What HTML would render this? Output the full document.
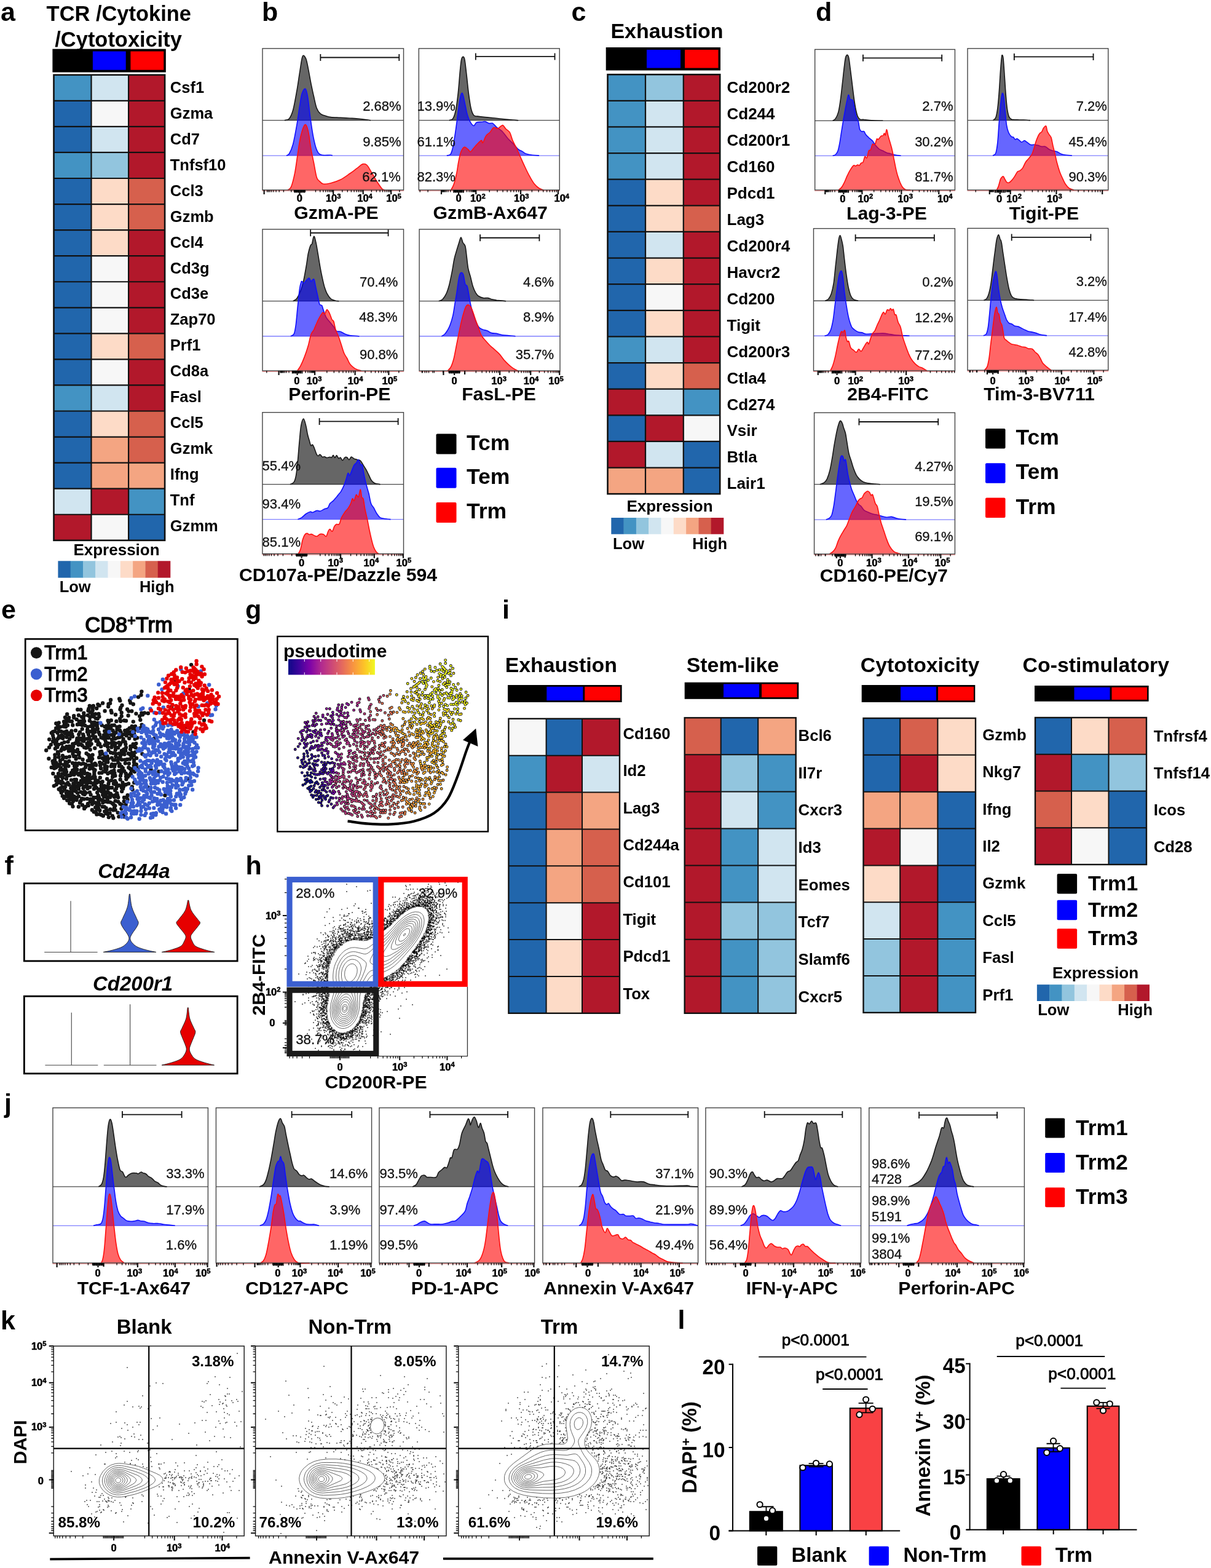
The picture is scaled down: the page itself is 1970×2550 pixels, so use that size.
<!DOCTYPE html>
<html lang="en"><head><meta charset="utf-8"><title>Figure</title>
<style>
html,body{margin:0;padding:0;background:#fff;}
body{width:1970px;height:2550px;overflow:hidden;}
svg{display:block;font-family:'Liberation Sans', sans-serif;font-weight:bold;}
text{white-space:pre;}
</style></head><body>
<svg width="1970" height="2550" viewBox="0 0 1970 2550">
<g id="heat">
<text x="75.6" y="33.7" font-size="34.45">TCR /Cytokine</text>
<text x="89.3" y="75.5" font-size="34.45">/Cytotoxicity</text>
<rect x="85.4" y="79.6" width="184.4" height="38" fill="#000"/>
<rect x="150.9" y="83.5" width="53.8" height="30.2" fill="#0000FF"/>
<rect x="212.4" y="83.5" width="53.9" height="30.2" fill="#FF0000"/>
<rect x="87.5" y="121.8" width="61" height="42.06" fill="#4393C3"/>
<rect x="148.5" y="121.8" width="60.6" height="42.06" fill="#D1E5F0"/>
<rect x="209.1" y="121.8" width="59" height="42.06" fill="#B2182B"/>
<rect x="87.5" y="163.86" width="61" height="42.06" fill="#2166AC"/>
<rect x="148.5" y="163.86" width="60.6" height="42.06" fill="#F7F7F7"/>
<rect x="209.1" y="163.86" width="59" height="42.06" fill="#B2182B"/>
<rect x="87.5" y="205.91" width="61" height="42.06" fill="#2166AC"/>
<rect x="148.5" y="205.91" width="60.6" height="42.06" fill="#D1E5F0"/>
<rect x="209.1" y="205.91" width="59" height="42.06" fill="#B2182B"/>
<rect x="87.5" y="247.97" width="61" height="42.06" fill="#4393C3"/>
<rect x="148.5" y="247.97" width="60.6" height="42.06" fill="#92C5DE"/>
<rect x="209.1" y="247.97" width="59" height="42.06" fill="#B2182B"/>
<rect x="87.5" y="290.02" width="61" height="42.06" fill="#2166AC"/>
<rect x="148.5" y="290.02" width="60.6" height="42.06" fill="#FDDBC7"/>
<rect x="209.1" y="290.02" width="59" height="42.06" fill="#D6604D"/>
<rect x="87.5" y="332.08" width="61" height="42.06" fill="#2166AC"/>
<rect x="148.5" y="332.08" width="60.6" height="42.06" fill="#FDDBC7"/>
<rect x="209.1" y="332.08" width="59" height="42.06" fill="#D6604D"/>
<rect x="87.5" y="374.13" width="61" height="42.06" fill="#2166AC"/>
<rect x="148.5" y="374.13" width="60.6" height="42.06" fill="#FDDBC7"/>
<rect x="209.1" y="374.13" width="59" height="42.06" fill="#B2182B"/>
<rect x="87.5" y="416.19" width="61" height="42.06" fill="#2166AC"/>
<rect x="148.5" y="416.19" width="60.6" height="42.06" fill="#F7F7F7"/>
<rect x="209.1" y="416.19" width="59" height="42.06" fill="#B2182B"/>
<rect x="87.5" y="458.24" width="61" height="42.06" fill="#2166AC"/>
<rect x="148.5" y="458.24" width="60.6" height="42.06" fill="#F7F7F7"/>
<rect x="209.1" y="458.24" width="59" height="42.06" fill="#B2182B"/>
<rect x="87.5" y="500.3" width="61" height="42.06" fill="#2166AC"/>
<rect x="148.5" y="500.3" width="60.6" height="42.06" fill="#F7F7F7"/>
<rect x="209.1" y="500.3" width="59" height="42.06" fill="#B2182B"/>
<rect x="87.5" y="542.36" width="61" height="42.06" fill="#2166AC"/>
<rect x="148.5" y="542.36" width="60.6" height="42.06" fill="#FDDBC7"/>
<rect x="209.1" y="542.36" width="59" height="42.06" fill="#D6604D"/>
<rect x="87.5" y="584.41" width="61" height="42.06" fill="#2166AC"/>
<rect x="148.5" y="584.41" width="60.6" height="42.06" fill="#F7F7F7"/>
<rect x="209.1" y="584.41" width="59" height="42.06" fill="#B2182B"/>
<rect x="87.5" y="626.47" width="61" height="42.06" fill="#4393C3"/>
<rect x="148.5" y="626.47" width="60.6" height="42.06" fill="#D1E5F0"/>
<rect x="209.1" y="626.47" width="59" height="42.06" fill="#B2182B"/>
<rect x="87.5" y="668.52" width="61" height="42.06" fill="#2166AC"/>
<rect x="148.5" y="668.52" width="60.6" height="42.06" fill="#FDDBC7"/>
<rect x="209.1" y="668.52" width="59" height="42.06" fill="#D6604D"/>
<rect x="87.5" y="710.58" width="61" height="42.06" fill="#2166AC"/>
<rect x="148.5" y="710.58" width="60.6" height="42.06" fill="#F4A582"/>
<rect x="209.1" y="710.58" width="59" height="42.06" fill="#D6604D"/>
<rect x="87.5" y="752.63" width="61" height="42.06" fill="#2166AC"/>
<rect x="148.5" y="752.63" width="60.6" height="42.06" fill="#F4A582"/>
<rect x="209.1" y="752.63" width="59" height="42.06" fill="#F4A582"/>
<rect x="87.5" y="794.69" width="61" height="42.06" fill="#D1E5F0"/>
<rect x="148.5" y="794.69" width="60.6" height="42.06" fill="#B2182B"/>
<rect x="209.1" y="794.69" width="59" height="42.06" fill="#4393C3"/>
<rect x="87.5" y="836.74" width="61" height="42.06" fill="#B2182B"/>
<rect x="148.5" y="836.74" width="60.6" height="42.06" fill="#F7F7F7"/>
<rect x="209.1" y="836.74" width="59" height="42.06" fill="#2166AC"/>
<path d="M87.5 163.86H268.1M87.5 205.91H268.1M87.5 247.97H268.1M87.5 290.02H268.1M87.5 332.08H268.1M87.5 374.13H268.1M87.5 416.19H268.1M87.5 458.24H268.1M87.5 500.3H268.1M87.5 542.36H268.1M87.5 584.41H268.1M87.5 626.47H268.1M87.5 668.52H268.1M87.5 710.58H268.1M87.5 752.63H268.1M87.5 794.69H268.1M87.5 836.74H268.1M148.5 121.8V878.8M209.1 121.8V878.8" fill="none" stroke="#111" stroke-width="2.2"/>
<rect x="87.5" y="121.8" width="180.6" height="757" fill="none" stroke="#111" stroke-width="2.6"/>
<text x="276.8" y="151.2" font-size="25.5">Csf1</text>
<text x="276.8" y="193.1" font-size="25.5">Gzma</text>
<text x="276.8" y="235" font-size="25.5">Cd7</text>
<text x="276.8" y="276.9" font-size="25.5">Tnfsf10</text>
<text x="276.8" y="318.8" font-size="25.5">Ccl3</text>
<text x="276.8" y="360.7" font-size="25.5">Gzmb</text>
<text x="276.8" y="402.6" font-size="25.5">Ccl4</text>
<text x="276.8" y="444.5" font-size="25.5">Cd3g</text>
<text x="276.8" y="486.4" font-size="25.5">Cd3e</text>
<text x="276.8" y="528.3" font-size="25.5">Zap70</text>
<text x="276.8" y="570.2" font-size="25.5">Prf1</text>
<text x="276.8" y="612.1" font-size="25.5">Cd8a</text>
<text x="276.8" y="654" font-size="25.5">Fasl</text>
<text x="276.8" y="695.9" font-size="25.5">Ccl5</text>
<text x="276.8" y="737.8" font-size="25.5">Gzmk</text>
<text x="276.8" y="779.7" font-size="25.5">Ifng</text>
<text x="276.8" y="821.6" font-size="25.5">Tnf</text>
<text x="276.8" y="863.5" font-size="25.5">Gzmm</text>
<rect x="94.4" y="912.3" width="20.59" height="27.3" fill="#2166AC"/>
<rect x="114.69" y="912.3" width="20.59" height="27.3" fill="#4393C3"/>
<rect x="134.98" y="912.3" width="20.59" height="27.3" fill="#92C5DE"/>
<rect x="155.27" y="912.3" width="20.59" height="27.3" fill="#D1E5F0"/>
<rect x="175.56" y="912.3" width="20.59" height="27.3" fill="#F7F7F7"/>
<rect x="195.84" y="912.3" width="20.59" height="27.3" fill="#FDDBC7"/>
<rect x="216.13" y="912.3" width="20.59" height="27.3" fill="#F4A582"/>
<rect x="236.42" y="912.3" width="20.59" height="27.3" fill="#D6604D"/>
<rect x="256.71" y="912.3" width="20.59" height="27.3" fill="#B2182B"/>
<text x="189.5" y="903.4" font-size="26" text-anchor="middle">Expression</text>
<text x="96.7" y="962.8" font-size="25.5">Low</text>
<text x="283.6" y="962.8" font-size="25.5" text-anchor="end">High</text>
<text x="993.4" y="61.6" font-size="34">Exhaustion</text>
<rect x="985.7" y="77" width="186.3" height="37.5" fill="#000"/>
<rect x="1052" y="80.9" width="55" height="29.7" fill="#0000FF"/>
<rect x="1114" y="80.9" width="54.5" height="29.7" fill="#FF0000"/>
<rect x="988.5" y="121.2" width="61.5" height="42.62" fill="#4393C3"/>
<rect x="1050" y="121.2" width="61.8" height="42.62" fill="#92C5DE"/>
<rect x="1111.8" y="121.2" width="59.4" height="42.62" fill="#B2182B"/>
<rect x="988.5" y="163.82" width="61.5" height="42.62" fill="#4393C3"/>
<rect x="1050" y="163.82" width="61.8" height="42.62" fill="#D1E5F0"/>
<rect x="1111.8" y="163.82" width="59.4" height="42.62" fill="#B2182B"/>
<rect x="988.5" y="206.45" width="61.5" height="42.62" fill="#4393C3"/>
<rect x="1050" y="206.45" width="61.8" height="42.62" fill="#D1E5F0"/>
<rect x="1111.8" y="206.45" width="59.4" height="42.62" fill="#B2182B"/>
<rect x="988.5" y="249.07" width="61.5" height="42.62" fill="#4393C3"/>
<rect x="1050" y="249.07" width="61.8" height="42.62" fill="#D1E5F0"/>
<rect x="1111.8" y="249.07" width="59.4" height="42.62" fill="#B2182B"/>
<rect x="988.5" y="291.7" width="61.5" height="42.62" fill="#2166AC"/>
<rect x="1050" y="291.7" width="61.8" height="42.62" fill="#FDDBC7"/>
<rect x="1111.8" y="291.7" width="59.4" height="42.62" fill="#B2182B"/>
<rect x="988.5" y="334.32" width="61.5" height="42.62" fill="#2166AC"/>
<rect x="1050" y="334.32" width="61.8" height="42.62" fill="#FDDBC7"/>
<rect x="1111.8" y="334.32" width="59.4" height="42.62" fill="#D6604D"/>
<rect x="988.5" y="376.95" width="61.5" height="42.62" fill="#2166AC"/>
<rect x="1050" y="376.95" width="61.8" height="42.62" fill="#D1E5F0"/>
<rect x="1111.8" y="376.95" width="59.4" height="42.62" fill="#B2182B"/>
<rect x="988.5" y="419.57" width="61.5" height="42.62" fill="#2166AC"/>
<rect x="1050" y="419.57" width="61.8" height="42.62" fill="#FDDBC7"/>
<rect x="1111.8" y="419.57" width="59.4" height="42.62" fill="#B2182B"/>
<rect x="988.5" y="462.2" width="61.5" height="42.62" fill="#2166AC"/>
<rect x="1050" y="462.2" width="61.8" height="42.62" fill="#F7F7F7"/>
<rect x="1111.8" y="462.2" width="59.4" height="42.62" fill="#B2182B"/>
<rect x="988.5" y="504.82" width="61.5" height="42.62" fill="#2166AC"/>
<rect x="1050" y="504.82" width="61.8" height="42.62" fill="#FDDBC7"/>
<rect x="1111.8" y="504.82" width="59.4" height="42.62" fill="#B2182B"/>
<rect x="988.5" y="547.45" width="61.5" height="42.62" fill="#4393C3"/>
<rect x="1050" y="547.45" width="61.8" height="42.62" fill="#D1E5F0"/>
<rect x="1111.8" y="547.45" width="59.4" height="42.62" fill="#B2182B"/>
<rect x="988.5" y="590.08" width="61.5" height="42.62" fill="#2166AC"/>
<rect x="1050" y="590.08" width="61.8" height="42.62" fill="#FDDBC7"/>
<rect x="1111.8" y="590.08" width="59.4" height="42.62" fill="#D6604D"/>
<rect x="988.5" y="632.7" width="61.5" height="42.62" fill="#B2182B"/>
<rect x="1050" y="632.7" width="61.8" height="42.62" fill="#D1E5F0"/>
<rect x="1111.8" y="632.7" width="59.4" height="42.62" fill="#4393C3"/>
<rect x="988.5" y="675.33" width="61.5" height="42.62" fill="#2166AC"/>
<rect x="1050" y="675.33" width="61.8" height="42.62" fill="#B2182B"/>
<rect x="1111.8" y="675.33" width="59.4" height="42.62" fill="#F7F7F7"/>
<rect x="988.5" y="717.95" width="61.5" height="42.62" fill="#B2182B"/>
<rect x="1050" y="717.95" width="61.8" height="42.62" fill="#D1E5F0"/>
<rect x="1111.8" y="717.95" width="59.4" height="42.62" fill="#2166AC"/>
<rect x="988.5" y="760.58" width="61.5" height="42.62" fill="#F4A582"/>
<rect x="1050" y="760.58" width="61.8" height="42.62" fill="#F4A582"/>
<rect x="1111.8" y="760.58" width="59.4" height="42.62" fill="#2166AC"/>
<path d="M988.5 163.82H1171.2M988.5 206.45H1171.2M988.5 249.07H1171.2M988.5 291.7H1171.2M988.5 334.32H1171.2M988.5 376.95H1171.2M988.5 419.57H1171.2M988.5 462.2H1171.2M988.5 504.82H1171.2M988.5 547.45H1171.2M988.5 590.08H1171.2M988.5 632.7H1171.2M988.5 675.33H1171.2M988.5 717.95H1171.2M988.5 760.58H1171.2M1050 121.2V803.2M1111.8 121.2V803.2" fill="none" stroke="#111" stroke-width="2.2"/>
<rect x="988.5" y="121.2" width="182.7" height="682" fill="none" stroke="#111" stroke-width="2.6"/>
<text x="1182.5" y="151.1" font-size="26">Cd200r2</text>
<text x="1182.5" y="194.05" font-size="26">Cd244</text>
<text x="1182.5" y="237" font-size="26">Cd200r1</text>
<text x="1182.5" y="279.95" font-size="26">Cd160</text>
<text x="1182.5" y="322.9" font-size="26">Pdcd1</text>
<text x="1182.5" y="365.85" font-size="26">Lag3</text>
<text x="1182.5" y="408.8" font-size="26">Cd200r4</text>
<text x="1182.5" y="451.75" font-size="26">Havcr2</text>
<text x="1182.5" y="494.7" font-size="26">Cd200</text>
<text x="1182.5" y="537.65" font-size="26">Tigit</text>
<text x="1182.5" y="580.6" font-size="26">Cd200r3</text>
<text x="1182.5" y="623.55" font-size="26">Ctla4</text>
<text x="1182.5" y="666.5" font-size="26">Cd274</text>
<text x="1182.5" y="709.45" font-size="26">Vsir</text>
<text x="1182.5" y="752.4" font-size="26">Btla</text>
<text x="1182.5" y="795.35" font-size="26">Lair1</text>
<rect x="994.3" y="842" width="20.6" height="26.7" fill="#2166AC"/>
<rect x="1014.6" y="842" width="20.6" height="26.7" fill="#4393C3"/>
<rect x="1034.9" y="842" width="20.6" height="26.7" fill="#92C5DE"/>
<rect x="1055.2" y="842" width="20.6" height="26.7" fill="#D1E5F0"/>
<rect x="1075.5" y="842" width="20.6" height="26.7" fill="#F7F7F7"/>
<rect x="1095.8" y="842" width="20.6" height="26.7" fill="#FDDBC7"/>
<rect x="1116.1" y="842" width="20.6" height="26.7" fill="#F4A582"/>
<rect x="1136.4" y="842" width="20.6" height="26.7" fill="#D6604D"/>
<rect x="1156.7" y="842" width="20.6" height="26.7" fill="#B2182B"/>
<text x="1089.5" y="832.3" font-size="26" text-anchor="middle">Expression</text>
<text x="997" y="893" font-size="25.5">Low</text>
<text x="1183" y="893" font-size="25.5" text-anchor="end">High</text>
<text x="821.7" y="1093.4" font-size="33.8">Exhaustion</text>
<rect x="826" y="1114" width="185.6" height="28" fill="#000"/>
<rect x="889.3" y="1116.8" width="59" height="22.4" fill="#0000FF"/>
<rect x="951.2" y="1116.8" width="57.8" height="22.4" fill="#FF0000"/>
<rect x="827.4" y="1168.8" width="61.2" height="59.88" fill="#F7F7F7"/>
<rect x="888.6" y="1168.8" width="58.4" height="59.88" fill="#2166AC"/>
<rect x="947" y="1168.8" width="61" height="59.88" fill="#B2182B"/>
<rect x="827.4" y="1228.67" width="61.2" height="59.88" fill="#4393C3"/>
<rect x="888.6" y="1228.67" width="58.4" height="59.88" fill="#B2182B"/>
<rect x="947" y="1228.67" width="61" height="59.88" fill="#D1E5F0"/>
<rect x="827.4" y="1288.55" width="61.2" height="59.88" fill="#2166AC"/>
<rect x="888.6" y="1288.55" width="58.4" height="59.88" fill="#D6604D"/>
<rect x="947" y="1288.55" width="61" height="59.88" fill="#F4A582"/>
<rect x="827.4" y="1348.42" width="61.2" height="59.88" fill="#2166AC"/>
<rect x="888.6" y="1348.42" width="58.4" height="59.88" fill="#F4A582"/>
<rect x="947" y="1348.42" width="61" height="59.88" fill="#D6604D"/>
<rect x="827.4" y="1408.3" width="61.2" height="59.88" fill="#2166AC"/>
<rect x="888.6" y="1408.3" width="58.4" height="59.88" fill="#F4A582"/>
<rect x="947" y="1408.3" width="61" height="59.88" fill="#D6604D"/>
<rect x="827.4" y="1468.17" width="61.2" height="59.88" fill="#2166AC"/>
<rect x="888.6" y="1468.17" width="58.4" height="59.88" fill="#F7F7F7"/>
<rect x="947" y="1468.17" width="61" height="59.88" fill="#B2182B"/>
<rect x="827.4" y="1528.05" width="61.2" height="59.88" fill="#2166AC"/>
<rect x="888.6" y="1528.05" width="58.4" height="59.88" fill="#FDDBC7"/>
<rect x="947" y="1528.05" width="61" height="59.88" fill="#B2182B"/>
<rect x="827.4" y="1587.92" width="61.2" height="59.88" fill="#2166AC"/>
<rect x="888.6" y="1587.92" width="58.4" height="59.88" fill="#FDDBC7"/>
<rect x="947" y="1587.92" width="61" height="59.88" fill="#B2182B"/>
<path d="M827.4 1228.67H1008M827.4 1288.55H1008M827.4 1348.42H1008M827.4 1408.3H1008M827.4 1468.17H1008M827.4 1528.05H1008M827.4 1587.92H1008M888.6 1168.8V1647.8M947 1168.8V1647.8" fill="none" stroke="#111" stroke-width="2"/>
<rect x="827.4" y="1168.8" width="180.6" height="479" fill="none" stroke="#111" stroke-width="2.4"/>
<text x="1013.4" y="1202" font-size="25.7">Cd160</text>
<text x="1013.4" y="1262.36" font-size="25.7">Id2</text>
<text x="1013.4" y="1322.72" font-size="25.7">Lag3</text>
<text x="1013.4" y="1383.08" font-size="25.7">Cd244a</text>
<text x="1013.4" y="1443.44" font-size="25.7">Cd101</text>
<text x="1013.4" y="1503.8" font-size="25.7">Tigit</text>
<text x="1013.4" y="1564.16" font-size="25.7">Pdcd1</text>
<text x="1013.4" y="1624.52" font-size="25.7">Tox</text>
<text x="1116.8" y="1093.4" font-size="33.8">Stem-like</text>
<rect x="1113.7" y="1109.7" width="185.6" height="27.1" fill="#000"/>
<rect x="1177" y="1112.5" width="58" height="21.5" fill="#0000FF"/>
<rect x="1239" y="1112.5" width="57.5" height="21.5" fill="#FF0000"/>
<rect x="1113.7" y="1167.3" width="59" height="60.06" fill="#D6604D"/>
<rect x="1172.7" y="1167.3" width="60.5" height="60.06" fill="#2166AC"/>
<rect x="1233.2" y="1167.3" width="61.5" height="60.06" fill="#F4A582"/>
<rect x="1113.7" y="1227.36" width="59" height="60.06" fill="#B2182B"/>
<rect x="1172.7" y="1227.36" width="60.5" height="60.06" fill="#92C5DE"/>
<rect x="1233.2" y="1227.36" width="61.5" height="60.06" fill="#4393C3"/>
<rect x="1113.7" y="1287.42" width="59" height="60.06" fill="#B2182B"/>
<rect x="1172.7" y="1287.42" width="60.5" height="60.06" fill="#D1E5F0"/>
<rect x="1233.2" y="1287.42" width="61.5" height="60.06" fill="#4393C3"/>
<rect x="1113.7" y="1347.49" width="59" height="60.06" fill="#B2182B"/>
<rect x="1172.7" y="1347.49" width="60.5" height="60.06" fill="#4393C3"/>
<rect x="1233.2" y="1347.49" width="61.5" height="60.06" fill="#D1E5F0"/>
<rect x="1113.7" y="1407.55" width="59" height="60.06" fill="#B2182B"/>
<rect x="1172.7" y="1407.55" width="60.5" height="60.06" fill="#4393C3"/>
<rect x="1233.2" y="1407.55" width="61.5" height="60.06" fill="#D1E5F0"/>
<rect x="1113.7" y="1467.61" width="59" height="60.06" fill="#B2182B"/>
<rect x="1172.7" y="1467.61" width="60.5" height="60.06" fill="#92C5DE"/>
<rect x="1233.2" y="1467.61" width="61.5" height="60.06" fill="#92C5DE"/>
<rect x="1113.7" y="1527.67" width="59" height="60.06" fill="#B2182B"/>
<rect x="1172.7" y="1527.67" width="60.5" height="60.06" fill="#4393C3"/>
<rect x="1233.2" y="1527.67" width="61.5" height="60.06" fill="#92C5DE"/>
<rect x="1113.7" y="1587.74" width="59" height="60.06" fill="#B2182B"/>
<rect x="1172.7" y="1587.74" width="60.5" height="60.06" fill="#4393C3"/>
<rect x="1233.2" y="1587.74" width="61.5" height="60.06" fill="#92C5DE"/>
<path d="M1113.7 1227.36H1294.7M1113.7 1287.42H1294.7M1113.7 1347.49H1294.7M1113.7 1407.55H1294.7M1113.7 1467.61H1294.7M1113.7 1527.67H1294.7M1113.7 1587.74H1294.7M1172.7 1167.3V1647.8M1233.2 1167.3V1647.8" fill="none" stroke="#111" stroke-width="2"/>
<rect x="1113.7" y="1167.3" width="181" height="480.5" fill="none" stroke="#111" stroke-width="2.4"/>
<text x="1298.6" y="1204.8" font-size="25.7">Bcl6</text>
<text x="1298.6" y="1265.5" font-size="25.7">Il7r</text>
<text x="1298.6" y="1326.2" font-size="25.7">Cxcr3</text>
<text x="1298.6" y="1386.9" font-size="25.7">Id3</text>
<text x="1298.6" y="1447.6" font-size="25.7">Eomes</text>
<text x="1298.6" y="1508.3" font-size="25.7">Tcf7</text>
<text x="1298.6" y="1569" font-size="25.7">Slamf6</text>
<text x="1298.6" y="1629.7" font-size="25.7">Cxcr5</text>
<text x="1399.8" y="1093.4" font-size="33.8">Cytotoxicity</text>
<rect x="1401.7" y="1114" width="184.6" height="28" fill="#000"/>
<rect x="1465" y="1116.8" width="58" height="22.4" fill="#0000FF"/>
<rect x="1526" y="1116.8" width="58" height="22.4" fill="#FF0000"/>
<rect x="1404.5" y="1168" width="59.7" height="59.85" fill="#2166AC"/>
<rect x="1464.2" y="1168" width="61.2" height="59.85" fill="#D6604D"/>
<rect x="1525.4" y="1168" width="61.6" height="59.85" fill="#FDDBC7"/>
<rect x="1404.5" y="1227.85" width="59.7" height="59.85" fill="#2166AC"/>
<rect x="1464.2" y="1227.85" width="61.2" height="59.85" fill="#B2182B"/>
<rect x="1525.4" y="1227.85" width="61.6" height="59.85" fill="#FDDBC7"/>
<rect x="1404.5" y="1287.7" width="59.7" height="59.85" fill="#F4A582"/>
<rect x="1464.2" y="1287.7" width="61.2" height="59.85" fill="#F4A582"/>
<rect x="1525.4" y="1287.7" width="61.6" height="59.85" fill="#2166AC"/>
<rect x="1404.5" y="1347.55" width="59.7" height="59.85" fill="#B2182B"/>
<rect x="1464.2" y="1347.55" width="61.2" height="59.85" fill="#F7F7F7"/>
<rect x="1525.4" y="1347.55" width="61.6" height="59.85" fill="#2166AC"/>
<rect x="1404.5" y="1407.4" width="59.7" height="59.85" fill="#FDDBC7"/>
<rect x="1464.2" y="1407.4" width="61.2" height="59.85" fill="#B2182B"/>
<rect x="1525.4" y="1407.4" width="61.6" height="59.85" fill="#2166AC"/>
<rect x="1404.5" y="1467.25" width="59.7" height="59.85" fill="#D1E5F0"/>
<rect x="1464.2" y="1467.25" width="61.2" height="59.85" fill="#B2182B"/>
<rect x="1525.4" y="1467.25" width="61.6" height="59.85" fill="#4393C3"/>
<rect x="1404.5" y="1527.1" width="59.7" height="59.85" fill="#92C5DE"/>
<rect x="1464.2" y="1527.1" width="61.2" height="59.85" fill="#B2182B"/>
<rect x="1525.4" y="1527.1" width="61.6" height="59.85" fill="#4393C3"/>
<rect x="1404.5" y="1586.95" width="59.7" height="59.85" fill="#92C5DE"/>
<rect x="1464.2" y="1586.95" width="61.2" height="59.85" fill="#B2182B"/>
<rect x="1525.4" y="1586.95" width="61.6" height="59.85" fill="#4393C3"/>
<path d="M1404.5 1227.85H1587M1404.5 1287.7H1587M1404.5 1347.55H1587M1404.5 1407.4H1587M1404.5 1467.25H1587M1404.5 1527.1H1587M1404.5 1586.95H1587M1464.2 1168V1646.8M1525.4 1168V1646.8" fill="none" stroke="#111" stroke-width="2"/>
<rect x="1404.5" y="1168" width="182.5" height="478.8" fill="none" stroke="#111" stroke-width="2.4"/>
<text x="1598.3" y="1203.7" font-size="25.7">Gzmb</text>
<text x="1598.3" y="1264.1" font-size="25.7">Nkg7</text>
<text x="1598.3" y="1324.5" font-size="25.7">Ifng</text>
<text x="1598.3" y="1384.9" font-size="25.7">Il2</text>
<text x="1598.3" y="1445.3" font-size="25.7">Gzmk</text>
<text x="1598.3" y="1505.7" font-size="25.7">Ccl5</text>
<text x="1598.3" y="1566.1" font-size="25.7">Fasl</text>
<text x="1598.3" y="1626.5" font-size="25.7">Prf1</text>
<text x="1663.6" y="1093.4" font-size="33.8">Co-stimulatory</text>
<rect x="1683" y="1115" width="185.6" height="25.7" fill="#000"/>
<rect x="1747.5" y="1117.8" width="58" height="20.1" fill="#0000FF"/>
<rect x="1808.5" y="1117.8" width="57.5" height="20.1" fill="#FF0000"/>
<rect x="1684" y="1167" width="59" height="59.75" fill="#2166AC"/>
<rect x="1743" y="1167" width="60.5" height="59.75" fill="#FDDBC7"/>
<rect x="1803.5" y="1167" width="61.5" height="59.75" fill="#D6604D"/>
<rect x="1684" y="1226.75" width="59" height="59.75" fill="#B2182B"/>
<rect x="1743" y="1226.75" width="60.5" height="59.75" fill="#4393C3"/>
<rect x="1803.5" y="1226.75" width="61.5" height="59.75" fill="#92C5DE"/>
<rect x="1684" y="1286.5" width="59" height="59.75" fill="#D6604D"/>
<rect x="1743" y="1286.5" width="60.5" height="59.75" fill="#FDDBC7"/>
<rect x="1803.5" y="1286.5" width="61.5" height="59.75" fill="#2166AC"/>
<rect x="1684" y="1346.25" width="59" height="59.75" fill="#B2182B"/>
<rect x="1743" y="1346.25" width="60.5" height="59.75" fill="#F7F7F7"/>
<rect x="1803.5" y="1346.25" width="61.5" height="59.75" fill="#2166AC"/>
<path d="M1684 1226.75H1865M1684 1286.5H1865M1684 1346.25H1865M1743 1167V1406M1803.5 1167V1406" fill="none" stroke="#111" stroke-width="2"/>
<rect x="1684" y="1167" width="181" height="239" fill="none" stroke="#111" stroke-width="2.4"/>
<text x="1876.8" y="1205.5" font-size="25.7">Tnfrsf4</text>
<text x="1876.8" y="1265.8" font-size="25.7">Tnfsf14</text>
<text x="1876.8" y="1326.1" font-size="25.7">Icos</text>
<text x="1876.8" y="1386.4" font-size="25.7">Cd28</text>
<rect x="1719.6" y="1421" width="32.5" height="32.5" fill="#000000" rx="2"/>
<text x="1770" y="1447.75" font-size="34">Trm1</text>
<rect x="1719.6" y="1463.8" width="32.5" height="32.5" fill="#0000FF" rx="2"/>
<text x="1770" y="1490.55" font-size="34">Trm2</text>
<rect x="1719.6" y="1510.3" width="32.5" height="32.5" fill="#FF0000" rx="2"/>
<text x="1770" y="1537.05" font-size="34">Trm3</text>
<rect x="1686.9" y="1601.2" width="20.61" height="26.8" fill="#2166AC"/>
<rect x="1707.21" y="1601.2" width="20.61" height="26.8" fill="#4393C3"/>
<rect x="1727.52" y="1601.2" width="20.61" height="26.8" fill="#92C5DE"/>
<rect x="1747.83" y="1601.2" width="20.61" height="26.8" fill="#D1E5F0"/>
<rect x="1768.14" y="1601.2" width="20.61" height="26.8" fill="#F7F7F7"/>
<rect x="1788.46" y="1601.2" width="20.61" height="26.8" fill="#FDDBC7"/>
<rect x="1808.77" y="1601.2" width="20.61" height="26.8" fill="#F4A582"/>
<rect x="1829.08" y="1601.2" width="20.61" height="26.8" fill="#D6604D"/>
<rect x="1849.39" y="1601.2" width="20.61" height="26.8" fill="#B2182B"/>
<text x="1782" y="1591.3" font-size="26" text-anchor="middle">Expression</text>
<text x="1688.3" y="1651.4" font-size="25.5">Low</text>
<text x="1875" y="1651.4" font-size="25.5" text-anchor="end">High</text>
</g>
<g id="letters">
<text x="1" y="34" font-size="43">a</text>
<text x="426" y="34" font-size="43">b</text>
<text x="929.5" y="34.2" font-size="43">c</text>
<text x="1327" y="34.2" font-size="43">d</text>
<text x="2" y="1006.2" font-size="43">e</text>
<text x="399" y="1006.2" font-size="43">g</text>
<text x="817" y="1006.2" font-size="43">i</text>
<text x="7.5" y="1421.5" font-size="43">f</text>
<text x="399.5" y="1421.5" font-size="43">h</text>
<text x="7" y="1809" font-size="43">j</text>
<text x="1" y="2161.5" font-size="43">k</text>
<text x="1102.5" y="2161.3" font-size="43">l</text>
</g>
<g id="hist">
<clipPath id="cp_b1"><rect x="427.02" y="78.87" width="229.5" height="232.12"/></clipPath>
<line x1="426.52" y1="310.29" x2="657.02" y2="310.29" stroke="#FF9A9A" stroke-width="1.6"/>
<g clip-path="url(#cp_b1)">
<line x1="427.02" y1="195.7" x2="656.52" y2="195.7" stroke="#4a4a4a" stroke-width="1.3"/>
<path d="M462.8 195.7C464.1 195.2 468.2 195.7 470.5 192.9C472.8 190.2 474.6 186.5 476.7 179.1C478.7 171.6 481 158.2 482.8 148.2C484.6 138.2 485.9 128.3 487.4 118.9C489 109.6 490.4 96 492.1 92C493.7 88 495.9 91.8 497.5 95.1C499 98.3 499.9 104.4 501.3 111.2C502.7 118 504.4 128.2 505.9 135.9C507.5 143.6 509 150.8 510.6 157.5C512.1 164.2 513.4 171.4 515.2 176C517 180.6 519 183.2 521.4 185.2C523.7 187.3 526.2 187.4 529.1 188.3C531.9 189.2 534.2 190.1 538.3 190.6C542.4 191.1 548.6 191.1 553.7 191.4C558.9 191.6 564 191.8 569.1 192.2C574.3 192.5 579.4 192.7 584.5 193.2C589.7 193.8 596.9 194.8 600 195.2C603 195.7 602.5 195.6 603 195.7" fill="#000000" stroke="#1a1a1a" stroke-width="1.65" fill-opacity="0.6" stroke-linejoin="round"/>
<line x1="427.02" y1="253.04" x2="656.52" y2="253.04" stroke="#8080FF" stroke-width="1.3"/>
<path d="M465.9 253C466.6 252.5 468.7 253 470.5 250C472.3 246.9 474.6 242.3 476.7 234.5C478.7 226.8 481 214 482.8 203.7C484.6 193.4 486 181.5 487.4 172.9C488.9 164.3 489.8 156.8 491.3 152.1C492.8 147.3 495.1 143.5 496.7 144.4C498.2 145.3 499.3 150.2 500.5 157.5C501.8 164.8 503 178 504.4 188.3C505.8 198.6 507.5 210.7 509 219.1C510.6 227.6 512.1 234.2 513.6 239.2C515.2 244.2 516.5 247 518.3 249.2C520.1 251.4 521.1 251.8 524.4 252.3C527.8 252.8 535.6 252.1 538.3 252.3C541 252.4 540.2 252.9 540.6 253" fill="#0000FF" stroke="#1010FF" stroke-width="1.65" fill-opacity="0.6" stroke-linejoin="round"/>
<path d="M468.2 309C469.1 308.1 471.6 308.6 473.6 303.9C475.5 299.2 477.9 289.8 479.7 280.8C481.5 271.8 482.8 259.7 484.4 250C485.9 240.2 487.1 230 489 222.2C490.9 214.4 493.9 204.5 495.9 202.9C498 201.4 499.6 206.4 501.3 213C503 219.5 504.4 233.5 505.9 242.3C507.5 251 509 257.7 510.6 265.4C512.1 273.1 513.6 283.6 515.2 288.5C516.7 293.4 518 292.9 519.8 294.7C521.6 296.5 522.9 298.8 526 299.3C529.1 299.8 533.7 298.9 538.3 297.7C542.9 296.6 548.6 294.9 553.7 292.3C558.9 289.8 564.5 285.5 569.1 282.3C573.8 279.1 578 275.6 581.5 273.1C584.9 270.5 587.4 267.7 589.9 266.9C592.5 266.1 594.4 266.1 596.9 268.5C599.3 270.8 601.8 276.2 604.6 280.8C607.4 285.4 611 291.8 613.8 296.2C616.7 300.6 619.6 304.9 621.5 307C623.5 309.1 624.7 308.7 625.4 309" fill="#FF0000" stroke="#FF1010" stroke-width="1.65" fill-opacity="0.6" stroke-linejoin="round"/>
</g>
<rect x="427.02" y="78.87" width="229.5" height="230.12" fill="none" stroke="#444" stroke-width="1.4"/>
<path d="M521.35 93.51H649.28M521.35 88.01v11M649.28 88.01v11" fill="none" stroke="#111" stroke-width="1.8"/>
<text x="652.52" y="179.83" font-size="22" font-weight="normal" text-anchor="end" fill="#111" stroke="#111" stroke-width="0.3">2.68%</text>
<text x="652.52" y="237.63" font-size="22" font-weight="normal" text-anchor="end" fill="#111" stroke="#111" stroke-width="0.3">9.85%</text>
<text x="651.74" y="295.12" font-size="22" font-weight="normal" text-anchor="end" fill="#111" stroke="#111" stroke-width="0.3">62.1%</text>
<path d="M556.77 308.99v3.6M565.32 308.99v3.6M571.39 308.99v3.6M576.09 308.99v3.6M579.94 308.99v3.6M583.19 308.99v3.6M586 308.99v3.6M588.49 308.99v3.6M604.4 308.99v3.6M612.4 308.99v3.6M618.08 308.99v3.6M622.49 308.99v3.6M626.09 308.99v3.6M629.13 308.99v3.6M631.77 308.99v3.6M634.1 308.99v3.6M649.86 308.99v3.6M513.47 308.99v3.6M520.7 308.99v3.6M525.83 308.99v3.6M529.8 308.99v3.6M533.05 308.99v3.6M535.8 308.99v3.6M538.18 308.99v3.6M540.28 308.99v3.6M473.76 308.99v3.6M461.41 308.99v3.6M454.18 308.99v3.6M449.06 308.99v3.6M445.08 308.99v3.6M441.83 308.99v3.6M439.08 308.99v3.6M436.7 308.99v3.6M434.6 308.99v3.6M478.44 308.99v3.6M479.94 308.99v3.6M481.44 308.99v3.6M482.94 308.99v3.6M484.44 308.99v3.6M485.94 308.99v3.6M487.44 308.99v3.6M488.94 308.99v3.6M490.44 308.99v3.6M491.94 308.99v3.6M493.44 308.99v3.6M494.94 308.99v3.6M496.44 308.99v3.6" fill="none" stroke="#111" stroke-width="1.4"/>
<path d="M479.64 308.99v4.6M482.24 308.99v4.6M484.84 308.99v4.6M487.44 308.99v4.6M490.04 308.99v4.6M492.64 308.99v4.6M495.24 308.99v4.6" fill="none" stroke="#000" stroke-width="1.9"/>
<path d="M542.16 308.99v7M590.71 308.99v7M636.18 308.99v7M429.64 308.99v7M487.44 308.99v7" fill="none" stroke="#111" stroke-width="2.2"/>
<text x="487.44" y="328.48" font-size="16.5" text-anchor="middle" stroke="#000" stroke-width="0.5">0</text>
<text x="529.9" y="328.48" font-size="16.5" stroke="#000" stroke-width="0.5">10<tspan dy="-5.61" font-size="11.22">3</tspan></text>
<text x="581.23" y="328.48" font-size="16.5" stroke="#000" stroke-width="0.5">10<tspan dy="-5.61" font-size="11.22">4</tspan></text>
<text x="628.24" y="328.48" font-size="16.5" stroke="#000" stroke-width="0.5">10<tspan dy="-5.61" font-size="11.22">5</tspan></text>
<text x="546.94" y="356.4" font-size="30.2" text-anchor="middle">GzmA-PE</text>
<clipPath id="cp_b2"><rect x="681.33" y="78.87" width="228.88" height="232.12"/></clipPath>
<line x1="680.83" y1="310.29" x2="910.71" y2="310.29" stroke="#FF9A9A" stroke-width="1.6"/>
<g clip-path="url(#cp_b2)">
<line x1="681.33" y1="195.7" x2="910.21" y2="195.7" stroke="#4a4a4a" stroke-width="1.3"/>
<path d="M730.7 195.7C731.7 195.2 735 195.7 736.8 192.9C738.6 190.2 740 186 741.4 179.1C742.9 172.1 744.1 161.8 745.3 151.3C746.5 140.8 747.5 125 748.4 115.9C749.3 106.7 749.8 100.5 750.7 96.6C751.6 92.7 752.9 92.2 753.8 92.4C754.7 92.7 755.2 92.9 756.1 98.1C757 103.3 758.1 114.7 759.2 123.6C760.2 132.4 761.1 142.6 762.2 151.3C763.4 160 764.7 169.9 766.1 176C767.5 182 768.9 185.4 770.7 187.5C772.5 189.7 773.8 188.6 776.9 189.1C780 189.6 785.1 190.2 789.2 190.6C793.3 191.1 797.2 191.3 801.6 191.7C805.9 192.1 810.5 192.7 815.4 193.2C820.3 193.8 826.2 194.4 830.8 194.8C835.5 195.2 841.1 195.5 843.2 195.7" fill="#000000" stroke="#1a1a1a" stroke-width="1.65" fill-opacity="0.6" stroke-linejoin="round"/>
<line x1="681.33" y1="253.04" x2="910.21" y2="253.04" stroke="#8080FF" stroke-width="1.3"/>
<path d="M726.8 253C727.8 252.7 731.3 253 733 250.7C734.6 248.4 735.5 244.9 736.8 239.2C738.1 233.4 739.4 224.5 740.7 216C742 207.6 743.2 197.6 744.5 188.3C745.8 179.1 747.1 166.7 748.4 160.6C749.6 154.4 750.8 150.8 751.9 151.3C753.1 151.8 754 158 755.3 163.6C756.6 169.3 758.4 179.6 759.9 185.2C761.5 190.9 762.8 194.3 764.6 197.6C766.4 200.8 768.9 204.2 770.7 204.5C772.5 204.7 773 200.1 775.4 199.1C777.7 198.1 782.3 198.6 784.6 198.3C786.9 198.1 787.4 197.2 789.2 197.6C791 197.9 793.3 200.1 795.4 200.6C797.4 201.1 799.5 199.6 801.6 200.6C803.6 201.7 805.1 204.6 807.7 206.8C810.3 209 813.9 210.7 817 213.7C820 216.8 823.1 221.8 826.2 225.3C829.3 228.8 832.6 231.6 835.5 234.5C838.3 237.5 840.9 241.1 843.2 243C845.5 244.9 847.3 244.9 849.3 246.1C851.4 247.3 852.7 248.9 855.5 250C858.3 251 862.7 251.8 866.3 252.3C869.9 252.8 875.3 252.9 877.1 253" fill="#0000FF" stroke="#1010FF" stroke-width="1.65" fill-opacity="0.6" stroke-linejoin="round"/>
<path d="M733.7 309C734.5 307.4 736.8 304 738.4 299.3C739.9 294.6 741.7 286.9 743 280.8C744.3 274.6 744.9 267.9 746.1 262.3C747.2 256.6 748.4 250.7 749.9 246.9C751.5 243 753.4 239.8 755.3 239.2C757.2 238.5 759.8 241.7 761.5 243C763.1 244.3 763.8 247.3 765.3 246.9C766.9 246.5 769.1 242.6 770.7 240.7C772.4 238.8 773.3 237.4 775.4 235.3C777.4 233.3 781.4 228.9 783.1 228.4C784.7 227.9 784.1 233.5 785.4 232.2C786.7 230.9 788.8 223.5 790.8 220.7C792.7 217.8 794.9 217.5 796.9 215.3C799 213.1 801 208.6 803.1 207.6C805.1 206.5 807.5 209.4 809.3 209.1C811.1 208.9 812.4 206.9 813.9 206C815.4 205.1 816.7 203.1 818.2 203.7C819.7 204.4 821.3 208 823.1 209.9C825 211.8 827.5 212.2 829.3 215.3C831.1 218.4 832.1 224.1 833.9 228.4C835.7 232.6 838 236.3 840.1 240.7C842.1 245.1 843.9 249.4 846.3 254.6C848.6 259.7 851.4 266.1 854 271.5C856.5 276.9 859.1 282.3 861.7 286.9C864.2 291.6 866.8 296.1 869.4 299.3C871.9 302.5 874.6 304.6 877.1 306.2C879.5 307.8 882.9 308.5 884 309" fill="#FF0000" stroke="#FF1010" stroke-width="1.65" fill-opacity="0.6" stroke-linejoin="round"/>
</g>
<rect x="681.33" y="78.87" width="228.88" height="230.12" fill="none" stroke="#444" stroke-width="1.4"/>
<path d="M773.81 91.97H902.51M773.81 86.47v11M902.51 86.47v11" fill="none" stroke="#111" stroke-width="1.8"/>
<text x="740.82" y="179.83" font-size="22" font-weight="normal" text-anchor="end" fill="#111" stroke="#111" stroke-width="0.3">13.9%</text>
<text x="740.82" y="237.63" font-size="22" font-weight="normal" text-anchor="end" fill="#111" stroke="#111" stroke-width="0.3">61.1%</text>
<text x="740.82" y="294.65" font-size="22" font-weight="normal" text-anchor="end" fill="#111" stroke="#111" stroke-width="0.3">82.3%</text>
<path d="M796.17 308.99v3.6M808.98 308.99v3.6M818.07 308.99v3.6M825.12 308.99v3.6M830.88 308.99v3.6M835.75 308.99v3.6M839.97 308.99v3.6M843.69 308.99v3.6M865.35 308.99v3.6M876.07 308.99v3.6M883.68 308.99v3.6M889.58 308.99v3.6M894.4 308.99v3.6M898.47 308.99v3.6M902 308.99v3.6M905.12 308.99v3.6M759.48 308.99v3.6M763.21 308.99v3.6M765.85 308.99v3.6M767.9 308.99v3.6M769.58 308.99v3.6M770.99 308.99v3.6M772.22 308.99v3.6M773.3 308.99v3.6M739.01 308.99v3.6M732.65 308.99v3.6M728.92 308.99v3.6M726.28 308.99v3.6M724.23 308.99v3.6M722.55 308.99v3.6M721.14 308.99v3.6M719.91 308.99v3.6M718.83 308.99v3.6M696.11 308.99v3.6M683.3 308.99v3.6M739.86 308.99v3.6M741.36 308.99v3.6M742.86 308.99v3.6M744.36 308.99v3.6M745.86 308.99v3.6M747.36 308.99v3.6M748.86 308.99v3.6M750.36 308.99v3.6M751.86 308.99v3.6" fill="none" stroke="#111" stroke-width="1.4"/>
<path d="M738.27 308.99v4.6M740.87 308.99v4.6M743.47 308.99v4.6M746.07 308.99v4.6M748.67 308.99v4.6M751.27 308.99v4.6M753.87 308.99v4.6" fill="none" stroke="#000" stroke-width="1.9"/>
<path d="M774.27 308.99v7M847.02 308.99v7M907.9 308.99v7M718.01 308.99v7M746.07 308.99v7" fill="none" stroke="#111" stroke-width="2.2"/>
<text x="746.07" y="328.48" font-size="16.5" text-anchor="middle" stroke="#000" stroke-width="0.5">0</text>
<text x="765.1" y="328.48" font-size="16.5" stroke="#000" stroke-width="0.5">10<tspan dy="-5.61" font-size="11.22">2</tspan></text>
<text x="836" y="328.48" font-size="16.5" stroke="#000" stroke-width="0.5">10<tspan dy="-5.61" font-size="11.22">3</tspan></text>
<text x="901.5" y="328.48" font-size="16.5" stroke="#000" stroke-width="0.5">10<tspan dy="-5.61" font-size="11.22">4</tspan></text>
<text x="797.7" y="356.4" font-size="30.2" text-anchor="middle">GzmB-Ax647</text>
<clipPath id="cp_b3"><rect x="427.02" y="372.87" width="229.5" height="232.12"/></clipPath>
<line x1="426.52" y1="604.29" x2="657.02" y2="604.29" stroke="#FF9A9A" stroke-width="1.6"/>
<g clip-path="url(#cp_b3)">
<line x1="427.02" y1="489.7" x2="656.52" y2="489.7" stroke="#4a4a4a" stroke-width="1.3"/>
<path d="M476.7 489.7C477.7 489 480.8 488.2 482.8 485.4C484.9 482.6 487.2 477.7 489 473.1C490.8 468.4 492.1 464.3 493.6 457.6C495.1 451 496.9 440.4 498.2 433C499.5 425.5 500.2 418.6 501.3 412.9C502.5 407.3 504.1 401.8 505.2 399.1C506.2 396.4 506.6 399.2 507.5 396.8C508.4 394.3 509.5 385.1 510.6 384.4C511.6 383.8 512.6 388.7 513.6 392.9C514.7 397.1 515.7 404 516.7 409.9C517.8 415.8 518.8 422.5 519.8 428.4C520.8 434.3 521.6 439.1 522.9 445.3C524.2 451.5 526 460 527.5 465.4C529.1 470.7 530.3 474.2 532.1 477.7C533.9 481.1 536 484.2 538.3 486.2C540.6 488.1 543.8 488.6 546 489.2C548.2 489.8 550.5 489.6 551.4 489.7" fill="#000000" stroke="#1a1a1a" stroke-width="1.65" fill-opacity="0.6" stroke-linejoin="round"/>
<line x1="427.02" y1="546.73" x2="656.52" y2="546.73" stroke="#8080FF" stroke-width="1.3"/>
<path d="M472.8 546.7C473.7 546.1 476.8 546.2 478.2 543.2C479.6 540.2 480.2 536.1 481.3 528.5C482.3 521 483.3 507.5 484.4 497.7C485.4 488 486.5 476.4 487.4 470C488.3 463.6 489.1 461.2 489.8 459.2C490.4 457.1 490.5 457.4 491.3 457.6C492.1 457.9 493.2 461 494.4 460.7C495.5 460.5 496.8 457.5 498.2 456.1C499.6 454.7 501.6 452 502.9 452.2C504.1 452.5 504.9 457.3 505.9 457.6C507 458 508.4 454.6 509.3 454.3C510.2 453.9 510.6 453.2 511.3 455.3C512.1 457.4 512.7 462.7 513.6 466.9C514.5 471.1 515.7 476.1 516.7 480.8C517.8 485.4 518.7 491.9 519.8 494.6C521 497.3 522.6 495.4 523.7 496.9C524.7 498.5 524.8 500.7 526 503.9C527.1 507.1 528.8 512.9 530.6 516.2C532.4 519.6 534.7 521.4 536.8 523.9C538.8 526.5 541.1 529.2 542.9 531.6C544.7 534.1 545.8 537.3 547.6 538.6C549.4 539.8 551.4 538.6 553.7 539.3C556 540.1 558.9 542.2 561.4 543.2C564 544.2 565.3 544.9 569.1 545.5C573 546.1 582 546.5 584.5 546.7" fill="#0000FF" stroke="#1010FF" stroke-width="1.65" fill-opacity="0.6" stroke-linejoin="round"/>
<path d="M483.6 603C484.5 601.6 487.1 598.5 489 594.8C490.9 591.1 493.1 586.3 495.1 580.9C497.2 575.6 499.5 568.6 501.3 562.5C503.1 556.3 504.4 548.3 505.9 544C507.5 539.6 509 539.3 510.6 536.3C512.1 533.2 513.6 528.8 515.2 525.5C516.7 522.1 518.1 519.1 519.8 516.2C521.5 513.3 523.8 509.1 525.2 508.2C526.6 507.3 527.2 511.6 528.3 510.8C529.4 510 530.5 503.8 531.8 503.6C533.1 503.3 534.7 506.7 536 509.3C537.3 511.9 538.7 517 539.8 519.3C541 521.6 541.9 520.3 542.9 523.1C544 526 544.7 532.3 546 536.3C547.3 540.2 549.1 542.9 550.6 547C552.2 551.1 553.7 556.3 555.3 560.9C556.8 565.5 558.3 571.2 559.9 574.8C561.4 578.4 563 579.7 564.5 582.5C566 585.3 567.3 589.2 569.1 591.7C570.9 594.3 573.2 596.3 575.3 597.9C577.4 599.5 579.4 600.4 581.5 601.3C583.5 602.1 586.6 602.7 587.6 603" fill="#FF0000" stroke="#FF1010" stroke-width="1.65" fill-opacity="0.6" stroke-linejoin="round"/>
</g>
<rect x="427.02" y="372.87" width="229.5" height="230.12" fill="none" stroke="#444" stroke-width="1.4"/>
<path d="M505.17 378.73H631.55M505.17 373.23v11M631.55 373.23v11" fill="none" stroke="#111" stroke-width="1.8"/>
<text x="647.43" y="465.66" font-size="22" font-weight="normal" text-anchor="end" fill="#111" stroke="#111" stroke-width="0.3">70.4%</text>
<text x="646.66" y="523.15" font-size="22" font-weight="normal" text-anchor="end" fill="#111" stroke="#111" stroke-width="0.3">48.3%</text>
<text x="647.43" y="584.49" font-size="22" font-weight="normal" text-anchor="end" fill="#111" stroke="#111" stroke-width="0.3">90.8%</text>
<path d="M531.82 602.99v3.6M543.36 602.99v3.6M551.54 602.99v3.6M557.89 602.99v3.6M563.08 602.99v3.6M567.46 602.99v3.6M571.26 602.99v3.6M574.61 602.99v3.6M594.08 602.99v3.6M603.71 602.99v3.6M610.55 602.99v3.6M615.85 602.99v3.6M620.19 602.99v3.6M623.85 602.99v3.6M627.02 602.99v3.6M629.82 602.99v3.6M648.8 602.99v3.6M497.15 602.99v3.6M500.92 602.99v3.6M503.59 602.99v3.6M505.66 602.99v3.6M507.36 602.99v3.6M508.79 602.99v3.6M510.03 602.99v3.6M511.12 602.99v3.6M476.46 602.99v3.6M470.02 602.99v3.6M466.26 602.99v3.6M463.58 602.99v3.6M461.51 602.99v3.6M459.82 602.99v3.6M458.39 602.99v3.6M457.15 602.99v3.6M456.05 602.99v3.6M433.81 602.99v3.6M477.32 602.99v3.6M478.82 602.99v3.6M480.32 602.99v3.6M481.82 602.99v3.6M483.32 602.99v3.6M484.82 602.99v3.6M486.32 602.99v3.6M487.82 602.99v3.6M489.32 602.99v3.6" fill="none" stroke="#111" stroke-width="1.4"/>
<path d="M475.79 602.99v4.6M478.39 602.99v4.6M480.99 602.99v4.6M483.59 602.99v4.6M486.19 602.99v4.6M488.79 602.99v4.6M491.39 602.99v4.6" fill="none" stroke="#000" stroke-width="1.9"/>
<path d="M512.1 602.99v7M577.61 602.99v7M632.32 602.99v7M453.53 602.99v7M483.59 602.99v7" fill="none" stroke="#111" stroke-width="2.2"/>
<text x="482.82" y="625.41" font-size="16.5" text-anchor="middle" stroke="#000" stroke-width="0.5">0</text>
<text x="498.77" y="625.41" font-size="16.5" stroke="#000" stroke-width="0.5">10<tspan dy="-5.61" font-size="11.22">3</tspan></text>
<text x="565.81" y="625.41" font-size="16.5" stroke="#000" stroke-width="0.5">10<tspan dy="-5.61" font-size="11.22">4</tspan></text>
<text x="621.61" y="625.41" font-size="16.5" stroke="#000" stroke-width="0.5">10<tspan dy="-5.61" font-size="11.22">5</tspan></text>
<text x="552.33" y="651.48" font-size="30.2" text-anchor="middle">Perforin-PE</text>
<clipPath id="cp_b4"><rect x="682.1" y="372.87" width="228.88" height="232.12"/></clipPath>
<line x1="681.6" y1="604.29" x2="911.49" y2="604.29" stroke="#FF9A9A" stroke-width="1.6"/>
<g clip-path="url(#cp_b4)">
<line x1="682.1" y1="489.7" x2="910.99" y2="489.7" stroke="#4a4a4a" stroke-width="1.3"/>
<path d="M713.7 489.7C714.7 489.2 717.8 488.9 719.9 486.9C721.9 484.9 724.2 481.5 726 477.7C727.8 473.8 729.1 469.7 730.7 463.8C732.2 457.9 733.9 449.4 735.3 442.2C736.7 435 737.8 426.6 739.1 420.7C740.4 414.7 741.7 411.1 743 406.8C744.3 402.4 745.7 397.9 746.8 394.5C748 391 748.9 386 749.9 386C750.9 386 751.8 392 753 394.5C754.2 396.9 755.8 396.8 756.9 400.6C757.9 404.5 758.4 411.7 759.2 417.6C759.9 423.5 760.5 430.7 761.5 436.1C762.5 441.5 764 445.1 765.3 449.9C766.6 454.8 767.8 461 769.2 465.4C770.6 469.7 772.3 473.4 773.8 476.1C775.4 478.8 776.4 480.1 778.4 481.5C780.5 482.9 783.6 484.1 786.1 484.6C788.7 485.1 791.5 484.2 793.8 484.6C796.2 485 797.7 486.3 800 486.9C802.3 487.5 803.9 487.7 807.7 488.2C811.6 488.6 820.6 489.4 823.1 489.7" fill="#000000" stroke="#1a1a1a" stroke-width="1.65" fill-opacity="0.6" stroke-linejoin="round"/>
<line x1="682.1" y1="546.73" x2="910.99" y2="546.73" stroke="#8080FF" stroke-width="1.3"/>
<path d="M718.3 546.7C719.1 546.3 721.4 545.4 722.9 544C724.5 542.5 726 540.4 727.6 537.8C729.1 535.2 730.7 532.7 732.2 528.5C733.7 524.4 735.5 518.8 736.8 513.1C738.1 507.5 738.9 500.8 739.9 494.6C740.9 488.5 742 482.8 743 476.1C744 469.5 745.2 459.7 746.1 454.6C747 449.4 747.5 447.2 748.4 445.3C749.3 443.5 750.6 443.2 751.5 443.5C752.4 443.7 752.9 443.7 753.8 446.9C754.7 450 755.8 459.2 756.9 462.3C757.9 465.4 758.9 462.3 759.9 465.4C761 468.4 762 475.4 763 480.8C764 486.2 764.8 492.3 766.1 497.7C767.4 503.1 769.2 508.5 770.7 513.1C772.3 517.8 773.8 522.1 775.4 525.5C776.9 528.8 778.2 531.4 780 533.2C781.8 535 784.1 535.5 786.1 536.3C788.2 537 790 536.9 792.3 537.8C794.6 538.7 797.4 540.9 800 541.6C802.6 542.4 804.9 541.9 807.7 542.4C810.5 542.9 813.9 544.2 817 544.7C820 545.2 822.6 545.2 826.2 545.5C829.8 545.8 836.5 546.5 838.5 546.7" fill="#0000FF" stroke="#1010FF" stroke-width="1.65" fill-opacity="0.6" stroke-linejoin="round"/>
<path d="M728.3 603C729.2 601.9 732.1 599.8 733.7 596.4C735.4 592.9 736.8 588.7 738.4 582.5C739.9 576.3 741.4 567.1 743 559.4C744.5 551.7 746.1 543.4 747.6 536.3C749.1 529.1 750.7 522.1 752.2 516.2C753.8 510.3 755.4 504.2 756.9 500.8C758.3 497.4 759.3 496.3 760.7 495.9C762.1 495.5 763.9 496.6 765.3 498.5C766.7 500.3 767.8 503.2 769.2 507C770.6 510.7 772.3 516.5 773.8 520.8C775.4 525.2 776.9 529.1 778.4 533.2C780 537.3 781.3 542.2 783.1 545.5C784.9 548.8 786.9 550.5 789.2 553.2C791.5 555.9 794.4 559.1 796.9 561.7C799.5 564.3 802.1 566.3 804.6 568.6C807.2 570.9 809.8 572.7 812.3 575.6C814.9 578.4 817.5 582.6 820 585.6C822.6 588.5 825.2 591 827.8 593.3C830.3 595.6 833 597.8 835.5 599.4C837.9 601.1 841.2 602.4 842.4 603" fill="#FF0000" stroke="#FF1010" stroke-width="1.65" fill-opacity="0.6" stroke-linejoin="round"/>
</g>
<rect x="682.1" y="372.87" width="228.88" height="230.12" fill="none" stroke="#444" stroke-width="1.4"/>
<path d="M781.05 386.74H877.38M781.05 381.24v11M877.38 381.24v11" fill="none" stroke="#111" stroke-width="1.8"/>
<text x="901.12" y="465.66" font-size="22" font-weight="normal" text-anchor="end" fill="#111" stroke="#111" stroke-width="0.3">4.6%</text>
<text x="901.12" y="523.15" font-size="22" font-weight="normal" text-anchor="end" fill="#111" stroke="#111" stroke-width="0.3">8.9%</text>
<text x="901.12" y="584.49" font-size="22" font-weight="normal" text-anchor="end" fill="#111" stroke="#111" stroke-width="0.3">35.7%</text>
<path d="M828.19 602.99v3.6M837.01 602.99v3.6M843.27 602.99v3.6M848.13 602.99v3.6M852.09 602.99v3.6M855.45 602.99v3.6M858.35 602.99v3.6M860.91 602.99v3.6M877.36 602.99v3.6M885.63 602.99v3.6M891.51 602.99v3.6M896.06 602.99v3.6M899.79 602.99v3.6M902.93 602.99v3.6M905.66 602.99v3.6M908.06 602.99v3.6M774.33 602.99v3.6M784.1 602.99v3.6M791.03 602.99v3.6M796.41 602.99v3.6M800.8 602.99v3.6M804.52 602.99v3.6M807.73 602.99v3.6M810.57 602.99v3.6M720.63 602.99v3.6M703.93 602.99v3.6M694.16 602.99v3.6M687.23 602.99v3.6M706.33 602.99v3.6M697.5 602.99v3.6M691.25 602.99v3.6M686.39 602.99v3.6M730.13 602.99v3.6M731.63 602.99v3.6M733.13 602.99v3.6M734.63 602.99v3.6M736.13 602.99v3.6M737.63 602.99v3.6M739.13 602.99v3.6M740.63 602.99v3.6M742.13 602.99v3.6M743.63 602.99v3.6M745.13 602.99v3.6M746.63 602.99v3.6M748.13 602.99v3.6" fill="none" stroke="#111" stroke-width="1.4"/>
<path d="M731.33 602.99v4.6M733.93 602.99v4.6M736.53 602.99v4.6M739.13 602.99v4.6M741.73 602.99v4.6M744.33 602.99v4.6M746.93 602.99v4.6" fill="none" stroke="#000" stroke-width="1.9"/>
<path d="M813.11 602.99v7M863.2 602.99v7M910.21 602.99v7M721.4 602.99v7M739.13 602.99v7M756.08 602.99v6" fill="none" stroke="#111" stroke-width="2.2"/>
<text x="739.13" y="625.41" font-size="16.5" text-anchor="middle" stroke="#000" stroke-width="0.5">0</text>
<text x="799.32" y="625.41" font-size="16.5" stroke="#000" stroke-width="0.5">10<tspan dy="-5.61" font-size="11.22">3</tspan></text>
<text x="851.72" y="625.41" font-size="16.5" stroke="#000" stroke-width="0.5">10<tspan dy="-5.61" font-size="11.22">4</tspan></text>
<text x="892.26" y="625.41" font-size="16.5" stroke="#000" stroke-width="0.5">10<tspan dy="-5.61" font-size="11.22">5</tspan></text>
<text x="811.57" y="651.48" font-size="30.2" text-anchor="middle">FasL-PE</text>
<clipPath id="cp_b5"><rect x="426.93" y="670.69" width="229.58" height="231.93"/></clipPath>
<line x1="426.43" y1="901.93" x2="657.01" y2="901.93" stroke="#FF9A9A" stroke-width="1.6"/>
<g clip-path="url(#cp_b5)">
<line x1="426.93" y1="787.71" x2="656.51" y2="787.71" stroke="#4a4a4a" stroke-width="1.3"/>
<path d="M471.9 787.7C473 787.1 476.5 786.7 478.1 784.1C479.8 781.6 480.7 778.4 481.7 772.6C482.7 766.8 483.5 758.4 484.4 749.5C485.3 740.6 486.1 728.7 487 719.2C487.9 709.8 488.6 698.9 489.7 692.6C490.8 686.2 492.5 681 493.8 681C495.1 681 496.6 688.3 497.7 692.6C498.8 696.9 499.5 702.9 500.4 706.8C501.3 710.6 502.1 712.7 503 715.7C503.9 718.6 504.8 723.3 505.7 724.6C506.6 725.8 507.5 722.6 508.4 723.2C509.3 723.7 510 725.7 511 728.1C512.1 730.6 513.6 735.7 514.6 737.9C515.6 740.1 516.2 741.3 517.3 741.5C518.3 741.7 519.6 738.9 520.8 739.2C522 739.5 523.2 742.7 524.4 743.2C525.6 743.8 526.7 742.5 527.9 742.7C529.1 742.9 530 744.4 531.5 744.5C533 744.6 535.5 743.3 536.8 743.2C538.2 743.2 538.6 744.6 539.5 744.1C540.4 743.6 541.3 740.2 542.2 740.2C543 740.3 543.9 744.4 544.8 744.5C545.7 744.6 546.5 740.4 547.5 740.6C548.5 740.8 550 745 551.1 745.6C552.1 746.2 552.7 743.6 553.7 744.1C554.8 744.6 556.1 748.6 557.3 748.6C558.5 748.6 559.6 744.9 560.8 744.1C562 743.3 563.2 743.2 564.4 743.8C565.6 744.4 566.8 747.8 567.9 747.7C569.1 747.6 570.2 743.4 571.5 743.1C572.8 742.8 574.3 745.1 575.9 745.9C577.6 746.7 579.5 747.1 581.3 747.7C583.1 748.3 585 748 586.6 749.5C588.2 751 589.6 754.2 591.1 756.6C592.5 759 594 761 595.5 763.7C597 766.4 598.5 769.6 600 772.6C601.4 775.6 602.8 779.3 604.4 781.5C606 783.7 607.4 784.9 609.7 785.9C612.1 787 617.1 787.4 618.6 787.7" fill="#000000" stroke="#1a1a1a" stroke-width="1.65" fill-opacity="0.6" stroke-linejoin="round"/>
<line x1="426.93" y1="844.61" x2="656.51" y2="844.61" stroke="#8080FF" stroke-width="1.3"/>
<path d="M484.4 844.6C485.4 844.2 488.4 843.4 490.6 841.9C492.8 840.5 495.3 837.3 497.7 835.7C500.1 834.1 503 832.5 504.8 832.2C506.6 831.8 506.6 833.7 508.4 833.4C510.2 833.1 513.4 830.7 515.5 830.4C517.6 830 518.7 831.7 520.8 831.3C522.9 830.8 525.9 828.6 527.9 827.7C530 826.8 531.8 827.4 533.3 825.9C534.8 824.5 535.3 820.8 536.8 818.8C538.3 816.9 540.4 816.2 542.2 814.4C543.9 812.6 546 809.9 547.5 808.2C549 806.4 549.9 805.2 551.1 803.7C552.2 802.2 553.1 801.8 554.6 799.3C556.1 796.7 558.5 792.2 559.9 788.6C561.4 785 562.5 781.1 563.5 777.9C564.5 774.7 565.3 770.1 566.2 769.4C567.1 768.6 567.9 773.8 568.8 773.5C569.7 773.1 570.3 770.1 571.5 767.3C572.7 764.4 574.6 759 575.9 756.6C577.3 754.2 578.3 754.5 579.5 753C580.7 751.5 581.9 747.2 583.1 747.7C584.2 748.1 585.6 754.2 586.6 755.7C587.7 757.2 588.4 754.1 589.3 756.6C590.2 759.1 590.9 765.8 592 770.8C593 775.9 594.2 781.5 595.5 786.8C596.8 792.2 598.6 797.5 600 802.8C601.3 808.2 602.2 815 603.5 818.8C604.8 822.7 606.3 823.1 608 825.9C609.6 828.8 611.5 833.1 613.3 835.7C615.1 838.4 616.3 840.6 618.6 841.9C621 843.3 624.7 843.3 627.5 843.7C630.3 844.2 634.2 844.5 635.5 844.6" fill="#0000FF" stroke="#1010FF" stroke-width="1.65" fill-opacity="0.6" stroke-linejoin="round"/>
<path d="M485.3 900.6C485.8 899.4 487.6 897.4 488.8 893.5C490 889.7 491.2 881.5 492.4 877.5C493.6 873.5 494.7 871.2 495.9 869.5C497.1 867.8 498.3 867.4 499.5 867.4C500.7 867.4 501.9 869.3 503 869.5C504.2 869.7 505.1 868.3 506.6 868.6C508.1 868.9 510.4 870.7 511.9 871.3C513.4 871.9 514 872.6 515.5 872.2C517 871.7 519 869.2 520.8 868.6C522.6 868.1 524.5 868.4 526.2 869C527.8 869.6 529.3 873.1 530.6 872.2C531.9 871.2 533.1 865.2 534.2 863.3C535.2 861.4 535.8 860.5 536.8 860.6C537.9 860.8 539.2 864.9 540.4 864.2C541.6 863.4 542.8 858.1 543.9 856.2C545.1 854.2 546.2 853.3 547.5 852.6C548.8 852 550.6 854 551.9 852.3C553.3 850.5 554 845.1 555.5 841.9C557 838.7 559.1 835.6 560.8 833.1C562.6 830.5 564.5 829.2 566.2 826.8C567.8 824.5 569.4 821.5 570.6 818.8C571.8 816.2 572.4 811.6 573.3 810.8C574.2 810.1 574.9 815.4 575.9 814.4C577 813.3 578.3 805.6 579.5 804.6C580.7 803.6 581.9 809.6 583.1 808.2C584.2 806.7 585.4 795.7 586.3 795.7C587.2 795.7 587.6 805.5 588.4 808.2C589.2 810.8 590.2 808.5 591.1 811.7C592 815 592.7 822.4 593.7 827.7C594.8 833.1 596.1 838.1 597.3 843.7C598.5 849.4 599.7 855.9 600.8 861.5C602 867.1 603.2 872.8 604.4 877.5C605.6 882.3 606.6 886.5 608 890C609.3 893.4 611.1 896.2 612.4 898C613.7 899.7 615.4 900.2 616 900.6" fill="#FF0000" stroke="#FF1010" stroke-width="1.65" fill-opacity="0.6" stroke-linejoin="round"/>
</g>
<rect x="426.93" y="670.69" width="229.58" height="229.93" fill="none" stroke="#444" stroke-width="1.4"/>
<path d="M519.58 685.45H647.61M519.58 679.95v11M647.61 679.95v11" fill="none" stroke="#111" stroke-width="1.8"/>
<text x="488.99" y="764.59" font-size="22" font-weight="normal" text-anchor="end" fill="#111" stroke="#111" stroke-width="0.3">55.4%</text>
<text x="488.99" y="826.83" font-size="22" font-weight="normal" text-anchor="end" fill="#111" stroke="#111" stroke-width="0.3">93.4%</text>
<text x="488.99" y="889.07" font-size="22" font-weight="normal" text-anchor="end" fill="#111" stroke="#111" stroke-width="0.3">85.1%</text>
<path d="M570.56 900.63v3.6M580.21 900.63v3.6M587.05 900.63v3.6M592.36 900.63v3.6M596.7 900.63v3.6M600.36 900.63v3.6M603.54 900.63v3.6M606.34 900.63v3.6M623.03 900.63v3.6M631.33 900.63v3.6M637.22 900.63v3.6M641.79 900.63v3.6M645.52 900.63v3.6M648.67 900.63v3.6M651.41 900.63v3.6M653.82 900.63v3.6M520.79 900.63v3.6M529.18 900.63v3.6M535.13 900.63v3.6M539.74 900.63v3.6M543.51 900.63v3.6M546.7 900.63v3.6M549.46 900.63v3.6M551.9 900.63v3.6M474.72 900.63v3.6M460.39 900.63v3.6M452 900.63v3.6M446.05 900.63v3.6M441.44 900.63v3.6M437.67 900.63v3.6M434.48 900.63v3.6M431.72 900.63v3.6M429.28 900.63v3.6M481.59 900.63v3.6M483.09 900.63v3.6M484.59 900.63v3.6M486.09 900.63v3.6M487.59 900.63v3.6M489.09 900.63v3.6M490.59 900.63v3.6M492.09 900.63v3.6M493.59 900.63v3.6M495.09 900.63v3.6M496.59 900.63v3.6M498.09 900.63v3.6M499.59 900.63v3.6" fill="none" stroke="#111" stroke-width="1.4"/>
<path d="M482.79 900.63v4.6M485.39 900.63v4.6M487.99 900.63v4.6M490.59 900.63v4.6M493.19 900.63v4.6M495.79 900.63v4.6M498.39 900.63v4.6" fill="none" stroke="#000" stroke-width="1.9"/>
<path d="M554.08 900.63v7M608.85 900.63v7M655.97 900.63v7M490.59 900.63v7" fill="none" stroke="#111" stroke-width="2.2"/>
<text x="490.59" y="920.83" font-size="16.5" text-anchor="middle" stroke="#000" stroke-width="0.5">0</text>
<text x="533.39" y="920.83" font-size="16.5" stroke="#000" stroke-width="0.5">10<tspan dy="-5.61" font-size="11.22">3</tspan></text>
<text x="591.54" y="920.83" font-size="16.5" stroke="#000" stroke-width="0.5">10<tspan dy="-5.61" font-size="11.22">4</tspan></text>
<text x="644.53" y="920.83" font-size="16.5" stroke="#000" stroke-width="0.5">10<tspan dy="-5.61" font-size="11.22">5</tspan></text>
<text x="549.99" y="945.49" font-size="30.2" text-anchor="middle">CD107a-PE/Dazzle 594</text>
<clipPath id="cp_d1"><rect x="1325.64" y="80.41" width="227.81" height="230.58"/></clipPath>
<line x1="1325.14" y1="310.29" x2="1553.94" y2="310.29" stroke="#FF9A9A" stroke-width="1.6"/>
<g clip-path="url(#cp_d1)">
<line x1="1325.64" y1="196.32" x2="1553.44" y2="196.32" stroke="#4a4a4a" stroke-width="1.3"/>
<path d="M1354.6 196.3C1355.4 195.8 1357.7 195.3 1359.2 192.9C1360.8 190.6 1362.6 186.8 1363.9 182.1C1365.1 177.5 1365.9 172.4 1366.9 165.2C1368 158 1369 148 1370 139C1371.1 130 1372.2 118.7 1373.1 111.2C1374 103.8 1374.6 97.9 1375.4 94.3C1376.3 90.6 1377.3 89.4 1378.2 89.4C1379.1 89.4 1380 90.6 1380.8 94.3C1381.6 97.9 1382.2 104.3 1383.1 111.2C1384 118.2 1385.2 127.7 1386.2 135.9C1387.2 144.1 1388.3 153.4 1389.3 160.6C1390.3 167.8 1391.3 174.2 1392.4 179.1C1393.4 183.9 1394.3 187.3 1395.5 189.8C1396.6 192.4 1397.6 193.4 1399.3 194.2C1401 194.9 1402.4 194.2 1405.5 194.5C1408.6 194.7 1412.7 195.4 1417.8 195.7C1422.9 196 1433.2 196.2 1436.3 196.3" fill="#000000" stroke="#1a1a1a" stroke-width="1.65" fill-opacity="0.6" stroke-linejoin="round"/>
<line x1="1325.64" y1="253.35" x2="1553.44" y2="253.35" stroke="#8080FF" stroke-width="1.3"/>
<path d="M1354.6 253.3C1355.4 253 1357.8 252.8 1359.2 251.5C1360.7 250.2 1361.9 248.7 1363.1 245.3C1364.2 242 1365.1 237.1 1366.2 231.5C1367.2 225.8 1368.2 217.8 1369.3 211.4C1370.3 205 1371.3 198.8 1372.3 192.9C1373.4 187 1374.4 181.4 1375.4 176C1376.5 170.6 1377.7 164.2 1378.5 160.6C1379.4 157 1379.7 154.2 1380.5 154.4C1381.3 154.6 1382.1 160.4 1383.1 161.8C1384.2 163.2 1386 161 1387 162.9C1388 164.7 1388.4 168.7 1389.3 172.9C1390.2 177.1 1391.2 184.2 1392.4 188.3C1393.5 192.4 1395.2 194 1396.2 197.6C1397.3 201.1 1397.6 207.2 1398.5 209.9C1399.4 212.6 1400.5 213.1 1401.6 213.7C1402.8 214.4 1404.3 212.8 1405.5 213.7C1406.6 214.6 1407.3 217.5 1408.6 219.1C1409.8 220.8 1411.4 222.1 1413.2 223.8C1415 225.4 1417.6 227.1 1419.4 229.1C1421.1 231.2 1422.2 233.9 1424 236.1C1425.8 238.3 1428.1 240.7 1430.1 242.3C1432.2 243.8 1434.2 244.3 1436.3 245.3C1438.4 246.4 1440.4 247.6 1442.5 248.4C1444.5 249.2 1446.6 249.4 1448.6 250C1450.7 250.5 1452 251.2 1454.8 251.8C1457.6 252.4 1463.8 253.1 1465.6 253.3" fill="#0000FF" stroke="#1010FF" stroke-width="1.65" fill-opacity="0.6" stroke-linejoin="round"/>
<path d="M1363.9 309C1364.6 308.4 1366.9 307.3 1368.5 305.4C1370 303.6 1371.6 300.8 1373.1 297.7C1374.7 294.7 1376.2 290.3 1377.7 286.9C1379.3 283.6 1380.6 280.7 1382.4 277.7C1384.2 274.7 1387 270.5 1388.5 269.2C1390.1 267.9 1390.5 270.2 1391.6 270C1392.8 269.8 1394.4 268.3 1395.5 268.1C1396.5 268 1396.9 269.7 1397.8 269.2C1398.7 268.7 1399.8 266 1400.9 265.1C1401.9 264.2 1402.9 265.6 1403.9 263.8C1405 262.1 1406 255.7 1407 254.6C1408 253.4 1409.1 258.4 1410.1 256.9C1411.1 255.4 1412.2 247.5 1413.2 245.3C1414.2 243.1 1415.2 245.6 1416.3 243.8C1417.3 242 1418.2 236 1419.4 234.5C1420.5 233.1 1422 236.7 1423.2 235.3C1424.4 233.9 1425.4 227.5 1426.3 226.1C1427.2 224.7 1427.4 227.6 1428.6 226.8C1429.8 226.1 1431.9 222.5 1433.2 221.4C1434.5 220.4 1435.4 221.4 1436.3 220.7C1437.2 219.9 1438 216.9 1438.6 216.8C1439.3 216.7 1439.5 220.9 1440.2 219.9C1440.8 218.9 1441.7 210.5 1442.5 210.7C1443.2 210.8 1443.9 217.2 1444.8 220.7C1445.7 224.1 1446.8 227.9 1447.9 231.5C1448.9 235.1 1449.9 237.9 1450.9 242.3C1452 246.6 1453 252.5 1454 257.7C1455.1 262.8 1456.1 268.5 1457.1 273.1C1458.1 277.7 1459 281.6 1460.2 285.4C1461.4 289.3 1462.8 293.1 1464 296.2C1465.3 299.3 1466.4 301.8 1467.9 303.9C1469.4 306 1471.1 307.7 1473.3 308.5C1475.5 309.4 1479.7 308.9 1481 309" fill="#FF0000" stroke="#FF1010" stroke-width="1.65" fill-opacity="0.6" stroke-linejoin="round"/>
</g>
<rect x="1325.64" y="80.41" width="227.81" height="228.58" fill="none" stroke="#444" stroke-width="1.4"/>
<path d="M1403.94 94.28H1532.17M1403.94 88.78v11M1532.17 88.78v11" fill="none" stroke="#111" stroke-width="1.8"/>
<text x="1550.52" y="179.83" font-size="22" font-weight="normal" text-anchor="end" fill="#111" stroke="#111" stroke-width="0.3">2.7%</text>
<text x="1550.52" y="237.63" font-size="22" font-weight="normal" text-anchor="end" fill="#111" stroke="#111" stroke-width="0.3">30.2%</text>
<text x="1550.52" y="294.65" font-size="22" font-weight="normal" text-anchor="end" fill="#111" stroke="#111" stroke-width="0.3">81.7%</text>
<path d="M1421.65 308.99v3.6M1432.91 308.99v3.6M1440.91 308.99v3.6M1447.1 308.99v3.6M1452.17 308.99v3.6M1456.45 308.99v3.6M1460.16 308.99v3.6M1463.43 308.99v3.6M1484.69 308.99v3.6M1495.41 308.99v3.6M1503.01 308.99v3.6M1508.91 308.99v3.6M1513.74 308.99v3.6M1517.81 308.99v3.6M1521.34 308.99v3.6M1524.46 308.99v3.6M1545.57 308.99v3.6M1386.64 308.99v3.6M1390.61 308.99v3.6M1393.43 308.99v3.6M1395.61 308.99v3.6M1397.39 308.99v3.6M1398.9 308.99v3.6M1400.21 308.99v3.6M1401.36 308.99v3.6M1364.83 308.99v3.6M1358.04 308.99v3.6M1354.07 308.99v3.6M1351.26 308.99v3.6M1349.07 308.99v3.6M1347.29 308.99v3.6M1345.78 308.99v3.6M1344.47 308.99v3.6M1343.32 308.99v3.6M1365.73 308.99v3.6M1367.23 308.99v3.6M1368.73 308.99v3.6M1370.23 308.99v3.6M1371.73 308.99v3.6M1373.23 308.99v3.6M1374.73 308.99v3.6M1376.23 308.99v3.6M1377.73 308.99v3.6" fill="none" stroke="#111" stroke-width="1.4"/>
<path d="M1364.54 308.99v4.6M1367.14 308.99v4.6M1369.74 308.99v4.6M1372.34 308.99v4.6M1374.94 308.99v4.6M1377.54 308.99v4.6M1380.14 308.99v4.6" fill="none" stroke="#000" stroke-width="1.9"/>
<path d="M1402.4 308.99v7M1466.36 308.99v7M1527.24 308.99v7M1342.28 308.99v7M1372.34 308.99v7" fill="none" stroke="#111" stroke-width="2.2"/>
<text x="1370.8" y="328.79" font-size="16.5" text-anchor="middle" stroke="#000" stroke-width="0.5">0</text>
<text x="1395.53" y="328.79" font-size="16.5" stroke="#000" stroke-width="0.5">10<tspan dy="-5.61" font-size="11.22">2</tspan></text>
<text x="1460.27" y="328.79" font-size="16.5" stroke="#000" stroke-width="0.5">10<tspan dy="-5.61" font-size="11.22">3</tspan></text>
<text x="1525" y="328.79" font-size="16.5" stroke="#000" stroke-width="0.5">10<tspan dy="-5.61" font-size="11.22">4</tspan></text>
<text x="1442.47" y="356.71" font-size="30.2" text-anchor="middle">Lag-3-PE</text>
<clipPath id="cp_d2"><rect x="1574.02" y="78.87" width="228.73" height="232.12"/></clipPath>
<line x1="1573.52" y1="310.29" x2="1803.25" y2="310.29" stroke="#FF9A9A" stroke-width="1.6"/>
<g clip-path="url(#cp_d2)">
<line x1="1574.02" y1="195.7" x2="1802.75" y2="195.7" stroke="#4a4a4a" stroke-width="1.3"/>
<path d="M1615.2 195.7C1615.9 195 1618.5 194.7 1619.8 191.4C1621.1 188.1 1622 182.7 1622.9 176C1623.8 169.3 1624.4 161.3 1625.2 151.3C1626 141.3 1626.8 125.5 1627.5 115.9C1628.2 106.2 1628.8 97.9 1629.4 93.5C1629.9 89.1 1630.1 89.3 1630.6 89.7C1631.1 90 1631.5 90.2 1632.1 95.8C1632.7 101.5 1633.5 114.3 1634.1 123.6C1634.8 132.8 1635.3 142.6 1636 151.3C1636.7 160 1637.4 169.6 1638.3 176C1639.2 182.4 1640.1 186.8 1641.4 189.8C1642.7 192.9 1643.8 193.3 1646 194.2C1648.2 195 1650.5 194.6 1654.5 194.8C1658.5 195 1666.3 195.1 1669.9 195.2C1673.5 195.4 1675 195.6 1676.1 195.7" fill="#000000" stroke="#1a1a1a" stroke-width="1.65" fill-opacity="0.6" stroke-linejoin="round"/>
<line x1="1574.02" y1="253.04" x2="1802.75" y2="253.04" stroke="#8080FF" stroke-width="1.3"/>
<path d="M1615.2 253C1615.9 252.4 1618.5 252.8 1619.8 249.2C1621.1 245.6 1622 239.6 1622.9 231.5C1623.8 223.4 1624.4 210.4 1625.2 200.6C1626 190.9 1626.7 180.6 1627.5 172.9C1628.3 165.2 1629.2 157.9 1629.8 154.4C1630.5 150.9 1630.8 151.1 1631.4 152.1C1631.9 153.1 1632.6 155.6 1633.2 160.6C1633.9 165.6 1634.5 174.9 1635.2 182.1C1635.9 189.3 1636.6 198.2 1637.5 203.7C1638.4 209.2 1639.3 212.2 1640.6 215.3C1641.9 218.4 1643.9 220.9 1645.2 222.2C1646.5 223.5 1647.3 222.2 1648.3 223C1649.3 223.8 1650.4 226.4 1651.4 226.8C1652.4 227.3 1653.2 225.2 1654.5 225.6C1655.8 226 1657.8 228.2 1659.1 229.1C1660.4 230.1 1661 231.2 1662.2 231.2C1663.3 231.1 1664.8 228.8 1666 228.7C1667.3 228.6 1668.2 229.6 1669.9 230.7C1671.6 231.8 1674 234.5 1676.1 235.3C1678.1 236.1 1680.2 235.1 1682.2 235.3C1684.3 235.5 1686.3 235.9 1688.4 236.4C1690.4 236.9 1692.5 238.1 1694.6 238.4C1696.6 238.7 1698.7 237.6 1700.7 238.4C1702.8 239.2 1704.8 241.9 1706.9 243C1708.9 244.2 1711 244.7 1713 245.3C1715.1 245.9 1717.2 245.8 1719.2 246.6C1721.3 247.3 1723.3 249.1 1725.4 250C1727.4 250.8 1728.5 251.3 1731.5 251.8C1734.6 252.3 1741.8 252.8 1743.9 253" fill="#0000FF" stroke="#1010FF" stroke-width="1.65" fill-opacity="0.6" stroke-linejoin="round"/>
<path d="M1621.3 309C1621.9 307.9 1623.4 305.3 1624.4 302.4C1625.5 299.5 1626.6 293.9 1627.5 291.6C1628.4 289.2 1629 289 1629.8 288.2C1630.6 287.4 1631.4 286.5 1632.1 286.9C1632.9 287.4 1633.5 289.3 1634.4 290.8C1635.3 292.3 1636.4 295.2 1637.5 296.2C1638.7 297.2 1640 297.5 1641.4 297C1642.8 296.5 1644.5 294.8 1646 293.1C1647.5 291.4 1649.1 289.3 1650.6 286.9C1652.2 284.6 1653.8 280.8 1655.2 279.2C1656.7 277.7 1657.7 278.7 1659.1 277.7C1660.5 276.7 1662.2 275.4 1663.7 273.1C1665.3 270.8 1666.9 266.1 1668.4 263.8C1669.8 261.5 1670.9 260.7 1672.2 259.2C1673.5 257.7 1674.9 256.1 1676.1 254.6C1677.2 253 1678.1 252.3 1679.1 250C1680.2 247.6 1681.2 244 1682.2 240.7C1683.2 237.4 1684.3 233 1685.3 229.9C1686.3 226.8 1687.4 224.4 1688.4 222.2C1689.4 220 1690.4 218.1 1691.5 216.8C1692.5 215.5 1693.5 215.9 1694.6 214.5C1695.6 213.1 1696.5 209.9 1697.6 208.3C1698.8 206.7 1700.5 204.1 1701.5 205C1702.5 205.8 1702.9 211.4 1703.8 213.7C1704.7 216.1 1705.9 217.5 1706.9 219.1C1707.9 220.8 1708.9 220.7 1710 223.8C1711 226.8 1712 233.3 1713 237.6C1714.1 242 1715.1 245.6 1716.1 250C1717.2 254.3 1717.9 258.9 1719.2 263.8C1720.5 268.7 1722.3 274.9 1723.8 279.2C1725.4 283.6 1726.9 286.7 1728.5 290C1730 293.4 1731.3 296.6 1733.1 299.3C1734.9 302 1736.9 304.6 1739.3 306.2C1741.6 307.8 1745.7 308.5 1747 309" fill="#FF0000" stroke="#FF1010" stroke-width="1.65" fill-opacity="0.6" stroke-linejoin="round"/>
</g>
<rect x="1574.02" y="78.87" width="228.73" height="230.12" fill="none" stroke="#444" stroke-width="1.4"/>
<path d="M1649.85 92.44H1778.55M1649.85 86.94v11M1778.55 86.94v11" fill="none" stroke="#111" stroke-width="1.8"/>
<text x="1800.9" y="179.83" font-size="22" font-weight="normal" text-anchor="end" fill="#111" stroke="#111" stroke-width="0.3">7.2%</text>
<text x="1800.9" y="237.63" font-size="22" font-weight="normal" text-anchor="end" fill="#111" stroke="#111" stroke-width="0.3">45.4%</text>
<text x="1800.9" y="294.65" font-size="22" font-weight="normal" text-anchor="end" fill="#111" stroke="#111" stroke-width="0.3">90.3%</text>
<path d="M1666.19 308.99v3.6M1679.36 308.99v3.6M1688.7 308.99v3.6M1695.94 308.99v3.6M1701.86 308.99v3.6M1706.86 308.99v3.6M1711.2 308.99v3.6M1715.02 308.99v3.6M1740.95 308.99v3.6M1754.11 308.99v3.6M1763.45 308.99v3.6M1770.69 308.99v3.6M1776.61 308.99v3.6M1781.62 308.99v3.6M1785.95 308.99v3.6M1789.78 308.99v3.6M1634.8 308.99v3.6M1637.04 308.99v3.6M1638.63 308.99v3.6M1639.86 308.99v3.6M1640.87 308.99v3.6M1641.72 308.99v3.6M1642.46 308.99v3.6M1643.11 308.99v3.6M1622.5 308.99v3.6M1618.67 308.99v3.6M1616.43 308.99v3.6M1614.84 308.99v3.6M1613.61 308.99v3.6M1612.6 308.99v3.6M1611.75 308.99v3.6M1611.01 308.99v3.6M1610.36 308.99v3.6M1587.28 308.99v3.6M1623 308.99v3.6M1624.5 308.99v3.6M1626 308.99v3.6M1627.5 308.99v3.6M1629 308.99v3.6" fill="none" stroke="#111" stroke-width="1.4"/>
<path d="M1618.93 308.99v4.6M1621.53 308.99v4.6M1624.13 308.99v4.6M1626.73 308.99v4.6M1629.33 308.99v4.6M1631.93 308.99v4.6M1634.53 308.99v4.6" fill="none" stroke="#000" stroke-width="1.9"/>
<path d="M1643.69 308.99v7M1718.44 308.99v7M1793.2 308.99v7M1609.78 308.99v7M1626.73 308.99v7" fill="none" stroke="#111" stroke-width="2.2"/>
<text x="1625.5" y="328.79" font-size="16.5" text-anchor="middle" stroke="#000" stroke-width="0.5">0</text>
<text x="1637.29" y="328.79" font-size="16.5" stroke="#000" stroke-width="0.5">10<tspan dy="-5.61" font-size="11.22">2</tspan></text>
<text x="1703.1" y="328.79" font-size="16.5" stroke="#000" stroke-width="0.5">10<tspan dy="-5.61" font-size="11.22">3</tspan></text>
<text x="1698.41" y="356.71" font-size="30.2" text-anchor="middle">Tigit-PE</text>
<clipPath id="cp_d3"><rect x="1323.48" y="371.64" width="229.96" height="233.35"/></clipPath>
<line x1="1322.98" y1="604.29" x2="1553.94" y2="604.29" stroke="#FF9A9A" stroke-width="1.6"/>
<g clip-path="url(#cp_d3)">
<line x1="1323.48" y1="489.24" x2="1553.44" y2="489.24" stroke="#4a4a4a" stroke-width="1.3"/>
<path d="M1342.3 489.2C1343.2 488.7 1346 488.1 1347.7 486.2C1349.3 484.2 1350.9 481.9 1352.3 477.7C1353.7 473.4 1355 468.2 1356.2 460.7C1357.3 453.3 1358.2 442.2 1359.2 433C1360.3 423.7 1361.4 412.7 1362.3 405.2C1363.2 397.8 1363.9 392 1364.6 388.3C1365.4 384.6 1365.9 382.8 1366.6 382.9C1367.3 383 1368 386.1 1368.8 389.1C1369.6 392 1370.4 394.8 1371.3 400.6C1372.1 406.4 1372.9 415.8 1373.9 423.7C1374.8 431.7 1375.9 441.2 1377 448.4C1378 455.6 1378.9 461.5 1380 466.9C1381.2 472.3 1382.5 477.4 1383.9 480.8C1385.3 484.1 1386.5 485.5 1388.5 486.9C1390.6 488.3 1394.9 488.9 1396.2 489.2" fill="#000000" stroke="#1a1a1a" stroke-width="1.65" fill-opacity="0.6" stroke-linejoin="round"/>
<line x1="1323.48" y1="546.27" x2="1553.44" y2="546.27" stroke="#8080FF" stroke-width="1.3"/>
<path d="M1341.5 546.3C1342.4 545.9 1345.2 545.6 1346.9 544C1348.6 542.3 1350.1 540.4 1351.5 536.3C1352.9 532.1 1354.2 526.2 1355.4 519.3C1356.5 512.4 1357.4 502.9 1358.5 494.6C1359.5 486.4 1360.5 477.4 1361.6 470C1362.6 462.5 1363.7 454.6 1364.6 449.9C1365.5 445.3 1366.2 443.6 1366.9 442.2C1367.7 440.8 1368.5 439.9 1369.3 441.5C1370 443 1370.5 445.7 1371.3 451.5C1372 457.3 1372.9 468.4 1373.9 476.1C1374.8 483.8 1375.8 490.8 1377 497.7C1378.1 504.7 1379.4 512.1 1380.8 517.8C1382.2 523.4 1383.9 528.5 1385.4 531.6C1387 534.7 1388.3 534.8 1390.1 536.3C1391.9 537.7 1394.2 539.3 1396.2 540.1C1398.3 540.9 1400.3 540.4 1402.4 540.9C1404.5 541.4 1406 542.9 1408.6 543.2C1411.1 543.5 1414.7 542.9 1417.8 542.7C1420.9 542.6 1424 542.5 1427.1 542.4C1430.1 542.3 1433.2 542 1436.3 542.1C1439.4 542.2 1442.5 542.7 1445.6 543.2C1448.6 543.6 1451.2 544.3 1454.8 544.7C1458.4 545.1 1463 545.2 1467.1 545.5C1471.2 545.8 1477.4 546.1 1479.5 546.3" fill="#0000FF" stroke="#1010FF" stroke-width="1.65" fill-opacity="0.6" stroke-linejoin="round"/>
<path d="M1350.8 603C1351.4 601.6 1353.3 598.5 1354.6 594.8C1355.9 591.1 1357.2 586.3 1358.5 580.9C1359.8 575.6 1361.2 567.8 1362.3 562.5C1363.5 557.1 1364.4 552.4 1365.4 548.6C1366.4 544.8 1367.5 541.1 1368.5 539.6C1369.5 538.2 1370.6 540.5 1371.6 540.1C1372.5 539.7 1373.6 536.1 1374.3 537.5C1375.1 538.9 1375.5 545.6 1376.2 548.6C1376.9 551.6 1377.7 554.4 1378.5 555.5C1379.3 556.6 1379.9 553.4 1380.8 555.1C1381.7 556.7 1382.6 563.1 1383.9 565.5C1385.2 567.9 1387 568.2 1388.5 569.4C1390.1 570.6 1391.7 573.2 1393.1 572.9C1394.6 572.7 1395.7 568.1 1397 567.8C1398.3 567.6 1399.6 571.8 1400.9 571.4C1402.1 571 1403.6 567.4 1404.7 565.5C1405.9 563.7 1406.8 561.7 1407.8 560.1C1408.8 558.6 1410 556.4 1410.9 556.3C1411.8 556.2 1412.3 560.4 1413.2 559.4C1414.1 558.3 1415.2 552.9 1416.3 550.1C1417.3 547.3 1418.2 544.5 1419.4 542.4C1420.5 540.4 1421.9 540.1 1423.2 537.8C1424.5 535.5 1425.9 531.1 1427.1 528.5C1428.2 526 1429 524.9 1430.1 522.4C1431.3 519.8 1432.8 515.6 1434 513.1C1435.1 510.7 1436 508.1 1437.1 507.7C1438.1 507.4 1439.1 511.5 1440.2 510.8C1441.2 510.2 1442.2 504.9 1443.2 503.9C1444.3 502.9 1445.4 505 1446.3 504.7C1447.2 504.3 1447.9 501.6 1448.6 501.6C1449.4 501.6 1450.2 504.4 1450.9 504.7C1451.7 504.9 1452.5 502 1453.3 503.1C1454 504.3 1454.8 510 1455.6 511.6C1456.3 513.1 1457 510.3 1457.9 512.4C1458.8 514.4 1459.8 520.7 1461 523.9C1462.1 527.1 1463.5 527.5 1464.8 531.6C1466.1 535.7 1467.3 543.4 1468.7 548.6C1470.1 553.7 1471.8 558.1 1473.3 562.5C1474.8 566.8 1476.4 571.2 1477.9 574.8C1479.5 578.4 1480.7 581.2 1482.5 584C1484.3 586.9 1486.7 589.7 1488.7 591.7C1490.8 593.8 1492.8 595.2 1494.9 596.4C1496.9 597.5 1498.9 597.6 1501 598.7C1503.2 599.8 1506.8 602.3 1508 603" fill="#FF0000" stroke="#FF1010" stroke-width="1.65" fill-opacity="0.6" stroke-linejoin="round"/>
</g>
<rect x="1323.48" y="371.64" width="229.96" height="231.35" fill="none" stroke="#444" stroke-width="1.4"/>
<path d="M1391.61 386.74H1519.84M1391.61 381.24v11M1519.84 381.24v11" fill="none" stroke="#111" stroke-width="1.8"/>
<text x="1550.52" y="465.66" font-size="22" font-weight="normal" text-anchor="end" fill="#111" stroke="#111" stroke-width="0.3">0.2%</text>
<text x="1550.52" y="523.61" font-size="22" font-weight="normal" text-anchor="end" fill="#111" stroke="#111" stroke-width="0.3">12.2%</text>
<text x="1550.52" y="584.8" font-size="22" font-weight="normal" text-anchor="end" fill="#111" stroke="#111" stroke-width="0.3">77.2%</text>
<path d="M1416.43 602.99v3.6M1430.95 602.99v3.6M1441.25 602.99v3.6M1449.24 602.99v3.6M1455.77 602.99v3.6M1461.29 602.99v3.6M1466.08 602.99v3.6M1470.29 602.99v3.6M1498.89 602.99v3.6M1513.41 602.99v3.6M1523.71 602.99v3.6M1531.7 602.99v3.6M1538.23 602.99v3.6M1543.75 602.99v3.6M1548.54 602.99v3.6M1552.75 602.99v3.6M1375.85 602.99v3.6M1379.82 602.99v3.6M1382.64 602.99v3.6M1384.82 602.99v3.6M1386.61 602.99v3.6M1388.11 602.99v3.6M1389.42 602.99v3.6M1390.58 602.99v3.6M1354.04 602.99v3.6M1347.25 602.99v3.6M1343.28 602.99v3.6M1340.47 602.99v3.6M1338.28 602.99v3.6M1336.5 602.99v3.6M1334.99 602.99v3.6M1333.68 602.99v3.6M1332.53 602.99v3.6M1354.94 602.99v3.6M1356.44 602.99v3.6M1357.94 602.99v3.6M1359.44 602.99v3.6M1360.94 602.99v3.6M1362.44 602.99v3.6M1363.94 602.99v3.6M1365.44 602.99v3.6M1366.94 602.99v3.6" fill="none" stroke="#111" stroke-width="1.4"/>
<path d="M1353.75 602.99v4.6M1356.35 602.99v4.6M1358.95 602.99v4.6M1361.55 602.99v4.6M1364.15 602.99v4.6M1366.75 602.99v4.6M1369.35 602.99v4.6" fill="none" stroke="#000" stroke-width="1.9"/>
<path d="M1391.61 602.99v7M1474.07 602.99v7M1330.73 602.99v7M1361.55 602.99v7" fill="none" stroke="#111" stroke-width="2.2"/>
<text x="1361.55" y="625.41" font-size="16.5" text-anchor="middle" stroke="#000" stroke-width="0.5">0</text>
<text x="1379.51" y="625.41" font-size="16.5" stroke="#000" stroke-width="0.5">10<tspan dy="-5.61" font-size="11.22">2</tspan></text>
<text x="1461.5" y="625.41" font-size="16.5" stroke="#000" stroke-width="0.5">10<tspan dy="-5.61" font-size="11.22">3</tspan></text>
<text x="1444.47" y="651.48" font-size="30.2" text-anchor="middle">2B4-FITC</text>
<clipPath id="cp_d4"><rect x="1574.02" y="371.33" width="228.73" height="232.73"/></clipPath>
<line x1="1573.52" y1="603.36" x2="1803.25" y2="603.36" stroke="#FF9A9A" stroke-width="1.6"/>
<g clip-path="url(#cp_d4)">
<line x1="1574.02" y1="488.47" x2="1802.75" y2="488.47" stroke="#4a4a4a" stroke-width="1.3"/>
<path d="M1600.5 488.5C1601.3 488 1603.7 487.4 1605.2 485.4C1606.6 483.3 1607.9 480.2 1609 476.1C1610.2 472 1611.1 467.4 1612.1 460.7C1613.1 454 1614.1 444.3 1615.2 436.1C1616.2 427.8 1617.2 419.1 1618.3 411.4C1619.3 403.7 1620.3 394.8 1621.3 389.8C1622.4 384.9 1623.5 382.1 1624.4 381.8C1625.3 381.6 1626 386.3 1626.7 388.3C1627.5 390.3 1628.3 390.1 1629 393.7C1629.8 397.3 1630.5 403.8 1631.4 409.9C1632.3 415.9 1633.4 423.2 1634.4 429.9C1635.5 436.6 1636.4 443.3 1637.5 449.9C1638.7 456.6 1640.1 464.8 1641.4 470C1642.7 475.1 1643.8 478.2 1645.2 480.8C1646.6 483.3 1647.8 484.1 1649.9 485.1C1651.9 486.1 1654.2 486.3 1657.6 486.6C1660.9 487 1665.8 486.9 1669.9 487.2C1674 487.5 1680.2 488.3 1682.2 488.5" fill="#000000" stroke="#1a1a1a" stroke-width="1.65" fill-opacity="0.6" stroke-linejoin="round"/>
<line x1="1574.02" y1="545.81" x2="1802.75" y2="545.81" stroke="#8080FF" stroke-width="1.3"/>
<path d="M1599.8 545.8C1600.5 545.4 1603.1 545.5 1604.4 543.2C1605.7 540.8 1606.6 537.1 1607.5 531.6C1608.4 526.1 1609 517.8 1609.8 510C1610.6 502.3 1611.2 493.9 1612.1 485.4C1613 476.9 1614.1 465.9 1615.2 459.2C1616.2 452.5 1617.4 448.3 1618.3 445.3C1619.1 442.4 1619.6 440.7 1620.3 441.5C1620.9 442.2 1621.4 445.2 1622.1 449.9C1622.8 454.7 1623.5 463.6 1624.4 470C1625.3 476.4 1626.5 483.3 1627.5 488.5C1628.5 493.6 1629.4 496.9 1630.6 500.8C1631.7 504.7 1633.3 508.4 1634.4 511.6C1635.6 514.8 1636.4 517.8 1637.5 520.1C1638.7 522.4 1640 524.3 1641.4 525.5C1642.8 526.6 1644.5 526.2 1646 527C1647.5 527.8 1649 529.4 1650.6 530.1C1652.3 530.7 1654.1 530.2 1656 530.9C1657.9 531.5 1660.1 532.9 1662.2 533.9C1664.2 535 1666.6 536.2 1668.4 537C1670.1 537.9 1671.2 538.5 1673 539C1674.8 539.5 1677.1 539.7 1679.1 540.1C1681.2 540.5 1683 541 1685.3 541.6C1687.6 542.3 1690.1 543.6 1693 544.3C1696 545 1701.4 545.5 1703 545.8" fill="#0000FF" stroke="#1010FF" stroke-width="1.65" fill-opacity="0.6" stroke-linejoin="round"/>
<path d="M1601.3 602.1C1602.1 601.1 1604.6 599.6 1605.9 596.4C1607.2 593.1 1608.1 588.1 1609 582.5C1609.9 576.8 1610.6 568.9 1611.3 562.5C1612.1 556 1612.9 550.1 1613.6 544C1614.4 537.8 1615.2 531.4 1615.9 525.5C1616.7 519.6 1617.4 512.9 1618.3 508.5C1619.1 504.1 1620.3 499.3 1621 499.3C1621.8 499.3 1622.2 506.5 1622.9 508.5C1623.6 510.6 1624.4 509 1625.2 511.6C1626 514.2 1626.7 521.1 1627.5 523.9C1628.3 526.7 1629 525.7 1629.8 528.5C1630.6 531.4 1631.5 537.3 1632.1 540.9C1632.8 544.5 1632.9 548.1 1633.7 550.1C1634.4 552.2 1635.6 552.2 1636.8 553.2C1637.9 554.2 1639.2 555.3 1640.6 556.3C1642 557.3 1643.6 558.7 1645.2 559.4C1646.9 560.1 1648.8 560.2 1650.6 560.6C1652.4 561 1654.1 561.1 1656 561.7C1657.9 562.2 1660.1 563.5 1662.2 564C1664.2 564.5 1666.6 564.3 1668.4 564.8C1670.1 565.3 1671.2 566.6 1673 567.1C1674.8 567.5 1677.3 566.5 1679.1 567.4C1680.9 568.3 1682.2 571 1683.8 572.5C1685.3 574 1687 574.7 1688.4 576.3C1689.8 578 1691 580.2 1692.2 582.5C1693.5 584.8 1694.7 588.1 1696.1 590.2C1697.5 592.3 1699.2 593.4 1700.7 594.8C1702.3 596.2 1703.8 597.5 1705.3 598.7C1706.9 599.9 1709.2 601.5 1710 602.1" fill="#FF0000" stroke="#FF1010" stroke-width="1.65" fill-opacity="0.6" stroke-linejoin="round"/>
</g>
<rect x="1574.02" y="371.33" width="228.73" height="230.73" fill="none" stroke="#444" stroke-width="1.4"/>
<path d="M1645.69 385.97H1774.39M1645.69 380.47v11M1774.39 380.47v11" fill="none" stroke="#111" stroke-width="1.8"/>
<text x="1800.9" y="465.35" font-size="22" font-weight="normal" text-anchor="end" fill="#111" stroke="#111" stroke-width="0.3">3.2%</text>
<text x="1800.9" y="523.15" font-size="22" font-weight="normal" text-anchor="end" fill="#111" stroke="#111" stroke-width="0.3">17.4%</text>
<text x="1800.9" y="580.18" font-size="22" font-weight="normal" text-anchor="end" fill="#111" stroke="#111" stroke-width="0.3">42.8%</text>
<path d="M1686.52 602.06v3.6M1696.7 602.06v3.6M1703.92 602.06v3.6M1709.52 602.06v3.6M1714.1 602.06v3.6M1717.97 602.06v3.6M1721.32 602.06v3.6M1724.28 602.06v3.6M1742.7 602.06v3.6M1751.92 602.06v3.6M1758.47 602.06v3.6M1763.55 602.06v3.6M1767.7 602.06v3.6M1771.21 602.06v3.6M1774.25 602.06v3.6M1776.93 602.06v3.6M1795.1 602.06v3.6M1640.84 602.06v3.6M1647.97 602.06v3.6M1653.02 602.06v3.6M1656.94 602.06v3.6M1660.14 602.06v3.6M1662.85 602.06v3.6M1665.2 602.06v3.6M1667.27 602.06v3.6M1601.69 602.06v3.6M1589.51 602.06v3.6M1582.38 602.06v3.6M1577.33 602.06v3.6M1588.53 602.06v3.6M1578.35 602.06v3.6M1606.18 602.06v3.6M1607.68 602.06v3.6M1609.18 602.06v3.6M1610.68 602.06v3.6M1612.18 602.06v3.6M1613.68 602.06v3.6M1615.18 602.06v3.6M1616.68 602.06v3.6M1618.18 602.06v3.6M1619.68 602.06v3.6M1621.18 602.06v3.6M1622.68 602.06v3.6M1624.18 602.06v3.6" fill="none" stroke="#111" stroke-width="1.4"/>
<path d="M1607.38 602.06v4.6M1609.98 602.06v4.6M1612.58 602.06v4.6M1615.18 602.06v4.6M1617.78 602.06v4.6M1620.38 602.06v4.6M1622.98 602.06v4.6" fill="none" stroke="#000" stroke-width="1.9"/>
<path d="M1669.12 602.06v7M1726.92 602.06v7M1779.32 602.06v7M1605.93 602.06v7M1615.18 602.06v7M1623.65 602.06v6" fill="none" stroke="#111" stroke-width="2.2"/>
<text x="1615.18" y="625.41" font-size="16.5" text-anchor="middle" stroke="#000" stroke-width="0.5">0</text>
<text x="1656.87" y="625.41" font-size="16.5" stroke="#000" stroke-width="0.5">10<tspan dy="-5.61" font-size="11.22">3</tspan></text>
<text x="1715.43" y="625.41" font-size="16.5" stroke="#000" stroke-width="0.5">10<tspan dy="-5.61" font-size="11.22">4</tspan></text>
<text x="1768.61" y="625.41" font-size="16.5" stroke="#000" stroke-width="0.5">10<tspan dy="-5.61" font-size="11.22">5</tspan></text>
<text x="1690.55" y="651.48" font-size="30.2" text-anchor="middle">Tim-3-BV711</text>
<clipPath id="cp_d5"><rect x="1324.56" y="671.18" width="228.88" height="231.81"/></clipPath>
<line x1="1324.06" y1="902.29" x2="1553.94" y2="902.29" stroke="#FF9A9A" stroke-width="1.6"/>
<g clip-path="url(#cp_d5)">
<line x1="1324.56" y1="787.7" x2="1553.44" y2="787.7" stroke="#4a4a4a" stroke-width="1.3"/>
<path d="M1333.8 787.7C1335 787.2 1338.8 786.4 1340.7 784.9C1342.7 783.4 1343.8 782.1 1345.4 778.8C1346.9 775.4 1348.6 770.5 1350 764.9C1351.4 759.2 1352.7 751.5 1353.8 744.9C1355 738.2 1355.9 731 1356.9 724.8C1358 718.7 1359 713 1360 707.9C1361 702.7 1362 697.8 1363.1 694C1364.2 690.1 1365.5 685.8 1366.6 684.7C1367.8 683.7 1369.1 686 1370 687.8C1371 689.6 1371.4 692.7 1372.3 695.5C1373.2 698.4 1374.5 700.9 1375.4 704.8C1376.3 708.6 1376.8 713.3 1377.7 718.7C1378.6 724 1379.7 732 1380.8 737.1C1382 742.3 1383.4 745.4 1384.7 749.5C1386 753.6 1387.1 758 1388.5 761.8C1389.9 765.7 1391.6 769.8 1393.1 772.6C1394.7 775.4 1396 777 1397.8 778.8C1399.6 780.6 1401.6 782.2 1403.9 783.4C1406.2 784.5 1408.8 785.1 1411.6 785.7C1414.5 786.3 1417.6 786.4 1420.9 786.8C1424.2 787.1 1429.9 787.5 1431.7 787.7" fill="#000000" stroke="#1a1a1a" stroke-width="1.65" fill-opacity="0.6" stroke-linejoin="round"/>
<line x1="1324.56" y1="845.04" x2="1553.44" y2="845.04" stroke="#8080FF" stroke-width="1.3"/>
<path d="M1343.8 845C1344.7 844.7 1347.7 844 1349.2 842.7C1350.8 841.4 1351.9 840.5 1353.1 837.3C1354.2 834.1 1355.1 829.4 1356.2 823.5C1357.2 817.6 1358.2 809.6 1359.2 801.9C1360.3 794.2 1361.3 784.9 1362.3 777.2C1363.3 769.5 1364.5 761.3 1365.4 755.6C1366.3 750 1367 745.8 1367.7 743.3C1368.4 740.9 1369.1 741 1369.7 741C1370.4 741 1371 741.9 1371.6 743.3C1372.1 744.7 1372.5 748.8 1373.1 749.5C1373.8 750.1 1374.8 746.1 1375.4 747.2C1376.1 748.2 1376.3 751.7 1377 755.6C1377.6 759.6 1378.4 766.2 1379.3 771.1C1380.2 775.9 1381.3 780.8 1382.4 784.9C1383.4 789 1384.3 792.4 1385.4 795.7C1386.6 799.1 1388 801.9 1389.3 805C1390.6 808 1391.9 811.6 1393.1 814.2C1394.4 816.8 1395.7 818.8 1397 820.4C1398.3 821.9 1399.4 821.9 1400.9 823.5C1402.3 825 1403.7 828.1 1405.5 829.6C1407.3 831.2 1409.3 831.7 1411.6 832.7C1414 833.7 1416.8 835 1419.4 835.8C1421.9 836.6 1424.5 836.7 1427.1 837.3C1429.6 838 1432.2 839 1434.8 839.6C1437.3 840.3 1439.9 841.1 1442.5 841.2C1445 841.3 1447.6 840.2 1450.2 840.4C1452.7 840.7 1455.3 842.1 1457.9 842.7C1460.5 843.4 1462.9 843.9 1465.6 844.3C1468.3 844.7 1472.7 844.9 1474.1 845" fill="#0000FF" stroke="#1010FF" stroke-width="1.65" fill-opacity="0.6" stroke-linejoin="round"/>
<path d="M1349.2 901C1350.1 900.4 1352.9 899.1 1354.6 897.4C1356.3 895.8 1357.7 894.4 1359.2 891.3C1360.8 888.2 1362.3 882.5 1363.9 878.9C1365.4 875.4 1366.9 872.5 1368.5 869.7C1370 866.9 1371.6 864.6 1373.1 862C1374.7 859.4 1376.2 857.6 1377.7 854.3C1379.3 850.9 1380.8 845.8 1382.4 842C1383.9 838.1 1385.4 834.3 1387 831.2C1388.5 828.1 1390.1 826.3 1391.6 823.5C1393.1 820.6 1394.9 816.3 1396.2 814.2C1397.5 812.2 1398.3 811.9 1399.3 811.1C1400.3 810.4 1401.4 810.9 1402.4 809.6C1403.4 808.3 1404.5 805 1405.5 803.4C1406.5 801.9 1407.5 801.1 1408.6 800.3C1409.6 799.6 1410.6 798.7 1411.6 798.8C1412.7 798.9 1413.8 800 1414.7 801.1C1415.6 802.3 1416.3 805.2 1417 805.7C1417.8 806.2 1418.6 803.3 1419.4 804.2C1420.1 805.1 1420.9 808.7 1421.7 811.1C1422.4 813.6 1423.1 816.8 1424 818.8C1424.9 820.9 1426 820.4 1427.1 823.5C1428.1 826.5 1429.1 833 1430.1 837.3C1431.2 841.7 1432.2 846.1 1433.2 849.7C1434.2 853.3 1435.3 855.8 1436.3 858.9C1437.3 862 1438.4 865.1 1439.4 868.2C1440.4 871.2 1441.3 874.3 1442.5 877.4C1443.6 880.5 1445 884.1 1446.3 886.7C1447.6 889.2 1448.8 891 1450.2 892.8C1451.6 894.6 1453 896.3 1454.8 897.4C1456.6 898.6 1459.2 899.2 1461 899.8C1462.8 900.3 1464.8 900.8 1465.6 901" fill="#FF0000" stroke="#FF1010" stroke-width="1.65" fill-opacity="0.6" stroke-linejoin="round"/>
</g>
<rect x="1324.56" y="671.18" width="228.88" height="229.81" fill="none" stroke="#444" stroke-width="1.4"/>
<path d="M1397.46 685.98H1526.16M1397.46 680.48v11M1526.16 680.48v11" fill="none" stroke="#111" stroke-width="1.8"/>
<text x="1550.52" y="765.66" font-size="22" font-weight="normal" text-anchor="end" fill="#111" stroke="#111" stroke-width="0.3">4.27%</text>
<text x="1550.52" y="822.69" font-size="22" font-weight="normal" text-anchor="end" fill="#111" stroke="#111" stroke-width="0.3">19.5%</text>
<text x="1550.52" y="879.72" font-size="22" font-weight="normal" text-anchor="end" fill="#111" stroke="#111" stroke-width="0.3">69.1%</text>
<path d="M1436.44 900.99v3.6M1446.89 900.99v3.6M1454.31 900.99v3.6M1460.06 900.99v3.6M1464.76 900.99v3.6M1468.73 900.99v3.6M1472.17 900.99v3.6M1475.2 900.99v3.6M1493.7 900.99v3.6M1502.92 900.99v3.6M1509.47 900.99v3.6M1514.55 900.99v3.6M1518.7 900.99v3.6M1522.21 900.99v3.6M1525.25 900.99v3.6M1527.93 900.99v3.6M1546.1 900.99v3.6M1391.51 900.99v3.6M1398.33 900.99v3.6M1403.17 900.99v3.6M1406.92 900.99v3.6M1409.99 900.99v3.6M1412.58 900.99v3.6M1414.83 900.99v3.6M1416.81 900.99v3.6M1354.04 900.99v3.6M1342.38 900.99v3.6M1335.56 900.99v3.6M1330.72 900.99v3.6M1326.97 900.99v3.6M1342.92 900.99v3.6M1332.47 900.99v3.6M1357.95 900.99v3.6M1359.45 900.99v3.6M1360.95 900.99v3.6M1362.45 900.99v3.6M1363.95 900.99v3.6M1365.45 900.99v3.6M1366.95 900.99v3.6M1368.45 900.99v3.6M1369.95 900.99v3.6M1371.45 900.99v3.6M1372.95 900.99v3.6M1374.45 900.99v3.6M1375.95 900.99v3.6" fill="none" stroke="#111" stroke-width="1.4"/>
<path d="M1359.15 900.99v4.6M1361.75 900.99v4.6M1364.35 900.99v4.6M1366.95 900.99v4.6M1369.55 900.99v4.6M1372.15 900.99v4.6M1374.75 900.99v4.6" fill="none" stroke="#000" stroke-width="1.9"/>
<path d="M1418.58 900.99v7M1477.92 900.99v7M1530.32 900.99v7M1360.78 900.99v7M1366.95 900.99v7M1374.65 900.99v6" fill="none" stroke="#111" stroke-width="2.2"/>
<text x="1366.95" y="920.79" font-size="16.5" text-anchor="middle" stroke="#000" stroke-width="0.5">0</text>
<text x="1409.1" y="920.79" font-size="16.5" stroke="#000" stroke-width="0.5">10<tspan dy="-5.61" font-size="11.22">3</tspan></text>
<text x="1467.67" y="920.79" font-size="16.5" stroke="#000" stroke-width="0.5">10<tspan dy="-5.61" font-size="11.22">4</tspan></text>
<text x="1520.84" y="920.79" font-size="16.5" stroke="#000" stroke-width="0.5">10<tspan dy="-5.61" font-size="11.22">5</tspan></text>
<text x="1437.85" y="945.93" font-size="30.2" text-anchor="middle">CD160-PE/Cy7</text>
<clipPath id="cp_j1"><rect x="85.95" y="1801.61" width="252.45" height="254.28"/></clipPath>
<line x1="85.45" y1="2055.19" x2="338.9" y2="2055.19" stroke="#FF9A9A" stroke-width="1.6"/>
<g clip-path="url(#cp_j1)">
<line x1="85.95" y1="1929.91" x2="338.4" y2="1929.91" stroke="#4a4a4a" stroke-width="1.3"/>
<path d="M160.3 1929.9C161.1 1929.2 163.9 1928.4 165.3 1925.8C166.7 1923.1 167.6 1920 168.6 1914.1C169.6 1908.3 170.3 1900.3 171.1 1890.9C171.9 1881.5 172.8 1867.7 173.6 1857.7C174.4 1847.8 175.2 1837.4 176.1 1831.2C177 1824.9 177.9 1821.2 178.9 1820.4C179.9 1819.5 181 1822.7 181.9 1826.2C182.8 1829.6 183.4 1834.7 184.4 1841.1C185.3 1847.5 186.6 1857.2 187.7 1864.3C188.8 1871.5 189.8 1877.9 191 1884.3C192.3 1890.6 193.8 1898.9 195.2 1902.5C196.5 1906.1 198.1 1904.2 199.3 1905.8C200.6 1907.5 201.7 1911 202.6 1912.5C203.6 1913.9 204 1914.7 205.1 1914.5C206.2 1914.2 207.6 1911.9 209.3 1910.8C210.9 1909.7 213 1908.3 215.1 1907.8C217.2 1907.3 220.1 1907.7 221.7 1907.8C223.4 1908 223.8 1909.1 225 1908.8C226.3 1908.6 227.8 1906.3 229.2 1906.2C230.6 1906 232 1907.3 233.3 1907.8C234.7 1908.3 236.1 1908.2 237.5 1909.2C238.9 1910.1 240.1 1912.2 241.6 1913.3C243.2 1914.4 245 1914.6 246.6 1915.8C248.3 1917 249.9 1919.5 251.6 1920.8C253.3 1922 254.9 1922.2 256.6 1923.3C258.2 1924.4 259.9 1926.5 261.6 1927.4C263.2 1928.4 264.9 1928.7 266.5 1929.1C268.2 1929.5 270.7 1929.8 271.5 1929.9" fill="#000000" stroke="#1a1a1a" stroke-width="1.65" fill-opacity="0.6" stroke-linejoin="round"/>
<line x1="85.95" y1="1993.31" x2="338.4" y2="1993.31" stroke="#8080FF" stroke-width="1.3"/>
<path d="M152 1993.3C152.8 1993.1 155.1 1992.3 157 1991.8C158.9 1991.3 162 1991.8 163.6 1990.5C165.3 1989.2 166 1987.7 166.9 1983.9C167.9 1980 168.6 1975 169.4 1967.3C170.3 1959.5 171.1 1947.9 171.9 1937.4C172.8 1926.9 173.6 1912.8 174.4 1904.2C175.2 1895.6 175.9 1889.6 176.6 1885.9C177.2 1882.3 177.6 1882 178.2 1882.3C178.8 1882.6 179.5 1883.4 180.2 1887.6C181 1891.8 181.9 1900.6 182.7 1907.5C183.5 1914.4 184.2 1921.3 185.2 1929.1C186.2 1936.8 187.4 1947.3 188.5 1954C189.6 1960.6 190.6 1965 191.8 1968.9C193.1 1972.8 194.5 1975.1 196 1977.2C197.5 1979.3 199.2 1980 201 1981.4C202.8 1982.7 204.4 1984.7 206.8 1985.5C209.1 1986.3 212.9 1986.3 215.1 1986.3C217.3 1986.3 218.5 1985.8 220.1 1985.5C221.6 1985.2 222.8 1984.3 224.2 1984.3C225.6 1984.3 226.6 1985.2 228.4 1985.5C230.2 1985.8 232.8 1985.8 235 1986.3C237.2 1986.9 239.1 1988.3 241.6 1988.8C244.1 1989.4 247.2 1989.5 249.9 1989.7C252.7 1989.8 255.5 1989.4 258.2 1989.7C261 1989.9 263.8 1990.9 266.5 1991.3C269.3 1991.7 271.8 1991.8 274.8 1992.1C277.9 1992.5 283.1 1993.1 284.8 1993.3" fill="#0000FF" stroke="#1010FF" stroke-width="1.65" fill-opacity="0.6" stroke-linejoin="round"/>
<path d="M164.5 2053.9C164.9 2053 166.1 2052 166.9 2048.6C167.8 2045.2 168.6 2041.1 169.4 2033.6C170.3 2026.2 171.1 2014.3 171.9 2003.8C172.8 1993.3 173.6 1980 174.4 1970.6C175.2 1961.2 175.9 1952.2 176.6 1947.3C177.2 1942.5 177.6 1941.5 178.2 1941.5C178.8 1941.5 179.5 1943 180.2 1947.3C181 1951.6 181.9 1959.8 182.7 1967.3C183.5 1974.7 184.2 1983.3 185.2 1992.1C186.2 2001 187.4 2012.6 188.5 2020.4C189.6 2028.1 190.6 2033.9 191.8 2038.6C193.1 2043.3 194.3 2046 196 2048.6C197.7 2051.1 200.8 2053 201.8 2053.9" fill="#FF0000" stroke="#FF1010" stroke-width="1.65" fill-opacity="0.6" stroke-linejoin="round"/>
</g>
<rect x="85.95" y="1801.61" width="252.45" height="252.28" fill="none" stroke="#444" stroke-width="1.4"/>
<path d="M198.98 1812.56H295.58M198.98 1807.06v11M295.58 1807.06v11" fill="none" stroke="#111" stroke-width="1.8"/>
<text x="332.59" y="1916.13" font-size="22" font-weight="normal" text-anchor="end" fill="#111" stroke="#111" stroke-width="0.3">33.3%</text>
<text x="332.59" y="1974.72" font-size="22" font-weight="normal" text-anchor="end" fill="#111" stroke="#111" stroke-width="0.3">17.9%</text>
<text x="319.98" y="2031.98" font-size="22" font-weight="normal" text-anchor="end" fill="#111" stroke="#111" stroke-width="0.3">1.6%</text>
<path d="M242.21 2053.89v3.6M252.94 2053.89v3.6M260.55 2053.89v3.6M266.45 2053.89v3.6M271.27 2053.89v3.6M275.35 2053.89v3.6M278.89 2053.89v3.6M282 2053.89v3.6M300.68 2053.89v3.6M309.97 2053.89v3.6M316.57 2053.89v3.6M321.68 2053.89v3.6M325.86 2053.89v3.6M329.39 2053.89v3.6M332.45 2053.89v3.6M335.15 2053.89v3.6M190.12 2053.89v3.6M198.62 2053.89v3.6M204.66 2053.89v3.6M209.34 2053.89v3.6M213.16 2053.89v3.6M216.39 2053.89v3.6M219.19 2053.89v3.6M221.67 2053.89v3.6M143.38 2053.89v3.6M128.84 2053.89v3.6M120.33 2053.89v3.6M114.3 2053.89v3.6M109.62 2053.89v3.6M105.79 2053.89v3.6M102.56 2053.89v3.6M99.76 2053.89v3.6M97.29 2053.89v3.6M150.48 2053.89v3.6M151.98 2053.89v3.6M153.48 2053.89v3.6M154.98 2053.89v3.6M156.48 2053.89v3.6M157.98 2053.89v3.6M159.48 2053.89v3.6M160.98 2053.89v3.6M162.48 2053.89v3.6M163.98 2053.89v3.6M165.48 2053.89v3.6M166.98 2053.89v3.6M168.48 2053.89v3.6" fill="none" stroke="#111" stroke-width="1.4"/>
<path d="M151.68 2053.89v4.6M154.28 2053.89v4.6M156.88 2053.89v4.6M159.48 2053.89v4.6M162.08 2053.89v4.6M164.68 2053.89v4.6M167.28 2053.89v4.6" fill="none" stroke="#000" stroke-width="1.9"/>
<path d="M223.88 2053.89v7M284.79 2053.89v7M337.57 2053.89v7M92.59 2053.89v7M159.48 2053.89v7M168.61 2053.89v6" fill="none" stroke="#111" stroke-width="2.2"/>
<text x="158.98" y="2076.14" font-size="16.5" text-anchor="middle" stroke="#000" stroke-width="0.5">0</text>
<text x="206.61" y="2076.14" font-size="16.5" stroke="#000" stroke-width="0.5">10<tspan dy="-5.61" font-size="11.22">3</tspan></text>
<text x="265.03" y="2076.14" font-size="16.5" stroke="#000" stroke-width="0.5">10<tspan dy="-5.61" font-size="11.22">4</tspan></text>
<text x="317.97" y="2076.14" font-size="16.5" stroke="#000" stroke-width="0.5">10<tspan dy="-5.61" font-size="11.22">5</tspan></text>
<text x="217.9" y="2104.58" font-size="30.2" text-anchor="middle">TCF-1-Ax647</text>
<clipPath id="cp_j2"><rect x="351.45" y="1801.61" width="253.11" height="254.28"/></clipPath>
<line x1="350.95" y1="2055.19" x2="605.06" y2="2055.19" stroke="#FF9A9A" stroke-width="1.6"/>
<g clip-path="url(#cp_j2)">
<line x1="351.45" y1="1929.91" x2="604.56" y2="1929.91" stroke="#4a4a4a" stroke-width="1.3"/>
<path d="M422 1929.9C423.1 1929.4 426.8 1928.4 428.6 1926.6C430.4 1924.8 431.4 1922.9 432.8 1919.1C434.2 1915.4 435.5 1910 436.9 1904.2C438.3 1898.4 439.7 1891.5 441.1 1884.3C442.5 1877.1 444 1868.2 445.2 1861C446.5 1853.8 447.3 1847.2 448.5 1841.1C449.8 1835 451.4 1828.2 452.7 1824.5C454 1820.9 455.4 1818.9 456.5 1819.2C457.6 1819.5 458.3 1824 459.3 1826.2C460.4 1828.3 461.7 1828.9 462.7 1832C463.6 1835 464.2 1839.6 465.1 1844.4C466.1 1849.3 467.4 1855.8 468.5 1861C469.6 1866.3 470.7 1871 471.8 1876C472.9 1880.9 474 1886.8 475.1 1890.9C476.2 1895.1 477.2 1898.7 478.4 1900.9C479.7 1903.1 481.2 1902.7 482.6 1904.2C484 1905.7 485.3 1908.7 486.7 1910C488.1 1911.3 489.6 1912 490.9 1912.1C492.1 1912.3 492.9 1910.7 494.2 1911.2C495.4 1911.6 497 1913.9 498.3 1915C499.7 1916.1 501.1 1917.4 502.5 1917.8C503.9 1918.2 505.1 1916.6 506.6 1917.1C508.2 1917.6 510 1919.6 511.6 1920.8C513.3 1921.9 514.9 1923 516.6 1924.1C518.3 1925.2 519.6 1926.3 521.6 1927.1C523.5 1927.9 525.9 1928.6 528.2 1929.1C530.6 1929.5 534.4 1929.8 535.7 1929.9" fill="#000000" stroke="#1a1a1a" stroke-width="1.65" fill-opacity="0.6" stroke-linejoin="round"/>
<line x1="351.45" y1="1993.31" x2="604.56" y2="1993.31" stroke="#8080FF" stroke-width="1.3"/>
<path d="M422.8 1993.3C423.8 1992.8 427 1992.1 428.6 1990.5C430.3 1988.9 431.4 1987.4 432.8 1983.9C434.2 1980.3 435.5 1975.3 436.9 1968.9C438.3 1962.6 439.7 1954.3 441.1 1945.7C442.5 1937.1 444 1925.5 445.2 1917.5C446.5 1909.4 447.4 1902.2 448.5 1897.5C449.7 1892.8 450.9 1890.9 451.9 1889.2C452.8 1887.6 453.6 1889 454.4 1887.6C455.1 1886.1 455.8 1880.6 456.5 1880.6C457.2 1880.6 457.6 1885.6 458.5 1887.6C459.4 1889.6 460.9 1888.7 461.8 1892.6C462.8 1896.4 463.3 1903.9 464.3 1910.8C465.3 1917.7 466.4 1926.3 467.6 1934.1C468.9 1941.8 470.4 1950.9 471.8 1957.3C473.2 1963.7 474.5 1968.4 475.9 1972.2C477.3 1976.1 478.6 1978.3 480.1 1980.5C481.6 1982.7 483.7 1984.6 485.1 1985.5C486.4 1986.4 487 1985.3 488.4 1985.8C489.8 1986.4 491.7 1988 493.4 1988.8C495 1989.7 496.4 1990.4 498.3 1990.8C500.3 1991.2 502.8 1991.2 505 1991.3C507.2 1991.4 509.3 1991 511.6 1991.3C514 1991.7 517.8 1993 519.1 1993.3" fill="#0000FF" stroke="#1010FF" stroke-width="1.65" fill-opacity="0.6" stroke-linejoin="round"/>
<path d="M423.6 2053.9C424.5 2053.3 427.1 2052.5 428.6 2050.2C430.1 2048 431.4 2045.3 432.8 2040.3C434.2 2035.3 435.5 2027.8 436.9 2020.4C438.3 2012.9 439.8 2003.8 441.1 1995.5C442.3 1987.2 443.4 1976.5 444.4 1970.6C445.4 1964.6 446.1 1962 446.9 1959.8C447.7 1957.6 448.5 1960.2 449.4 1957.3C450.2 1954.4 451 1944.3 451.9 1942.4C452.7 1940.4 453.7 1945.3 454.4 1945.7C455 1946.1 455.3 1943.2 456 1944.8C456.7 1946.5 457.5 1950.8 458.5 1955.6C459.5 1960.5 460.7 1967 461.8 1973.9C462.9 1980.8 463.9 1989.4 465.1 1997.1C466.4 2004.9 467.9 2013.7 469.3 2020.4C470.7 2027 471.9 2032.4 473.4 2037C475 2041.5 476.5 2045 478.4 2047.8C480.4 2050.5 480.9 2052.5 485.1 2053.6C489.2 2054.6 500.3 2053.8 503.3 2053.9" fill="#FF0000" stroke="#FF1010" stroke-width="1.65" fill-opacity="0.6" stroke-linejoin="round"/>
</g>
<rect x="351.45" y="1801.61" width="253.11" height="252.28" fill="none" stroke="#444" stroke-width="1.4"/>
<path d="M474.6 1812.56H572.2M474.6 1807.06v11M572.2 1807.06v11" fill="none" stroke="#111" stroke-width="1.8"/>
<text x="598.42" y="1916.13" font-size="22" font-weight="normal" text-anchor="end" fill="#111" stroke="#111" stroke-width="0.3">14.6%</text>
<text x="586.3" y="1974.72" font-size="22" font-weight="normal" text-anchor="end" fill="#111" stroke="#111" stroke-width="0.3">3.9%</text>
<text x="598.42" y="2031.98" font-size="22" font-weight="normal" text-anchor="end" fill="#111" stroke="#111" stroke-width="0.3">1.19%</text>
<path d="M506.96 2053.89v3.6M517.84 2053.89v3.6M525.55 2053.89v3.6M531.53 2053.89v3.6M536.42 2053.89v3.6M540.56 2053.89v3.6M544.14 2053.89v3.6M547.3 2053.89v3.6M566.16 2053.89v3.6M575.54 2053.89v3.6M582.2 2053.89v3.6M587.36 2053.89v3.6M591.58 2053.89v3.6M595.15 2053.89v3.6M598.24 2053.89v3.6M600.96 2053.89v3.6M469.67 2053.89v3.6M474.38 2053.89v3.6M477.73 2053.89v3.6M480.32 2053.89v3.6M482.44 2053.89v3.6M484.23 2053.89v3.6M485.78 2053.89v3.6M487.15 2053.89v3.6M443.77 2053.89v3.6M435.72 2053.89v3.6M431 2053.89v3.6M427.66 2053.89v3.6M425.06 2053.89v3.6M422.95 2053.89v3.6M421.15 2053.89v3.6M419.6 2053.89v3.6M418.23 2053.89v3.6M395.93 2053.89v3.6M385.06 2053.89v3.6M377.35 2053.89v3.6M371.36 2053.89v3.6M366.47 2053.89v3.6M362.34 2053.89v3.6M358.76 2053.89v3.6M355.6 2053.89v3.6M444.84 2053.89v3.6M446.34 2053.89v3.6M447.84 2053.89v3.6M449.34 2053.89v3.6M450.84 2053.89v3.6M452.34 2053.89v3.6M453.84 2053.89v3.6M455.34 2053.89v3.6M456.84 2053.89v3.6M458.34 2053.89v3.6M459.84 2053.89v3.6" fill="none" stroke="#111" stroke-width="1.4"/>
<path d="M444.89 2053.89v4.6M447.49 2053.89v4.6M450.09 2053.89v4.6M452.69 2053.89v4.6M455.29 2053.89v4.6M457.89 2053.89v4.6M460.49 2053.89v4.6" fill="none" stroke="#000" stroke-width="1.9"/>
<path d="M488.38 2053.89v7M550.12 2053.89v7M603.4 2053.89v7M414.52 2053.89v7M452.69 2053.89v7M352.61 2053.89v6" fill="none" stroke="#111" stroke-width="2.2"/>
<text x="451.86" y="2076.14" font-size="16.5" text-anchor="middle" stroke="#000" stroke-width="0.5">0</text>
<text x="474.76" y="2076.14" font-size="16.5" stroke="#000" stroke-width="0.5">10<tspan dy="-5.61" font-size="11.22">3</tspan></text>
<text x="533.02" y="2076.14" font-size="16.5" stroke="#000" stroke-width="0.5">10<tspan dy="-5.61" font-size="11.22">4</tspan></text>
<text x="586.13" y="2076.14" font-size="16.5" stroke="#000" stroke-width="0.5">10<tspan dy="-5.61" font-size="11.22">5</tspan></text>
<text x="483.07" y="2104.58" font-size="30.2" text-anchor="middle">CD127-APC</text>
<clipPath id="cp_j3"><rect x="616.95" y="1801.61" width="252.61" height="254.28"/></clipPath>
<line x1="616.45" y1="2055.19" x2="870.06" y2="2055.19" stroke="#FF9A9A" stroke-width="1.6"/>
<g clip-path="url(#cp_j3)">
<line x1="616.95" y1="1929.91" x2="869.56" y2="1929.91" stroke="#4a4a4a" stroke-width="1.3"/>
<path d="M671.2 1929.9C672.2 1929.4 675.4 1928.4 677 1926.6C678.7 1924.8 679.8 1921.5 681.2 1919.1C682.6 1916.8 684.1 1913.8 685.3 1912.5C686.6 1911.2 687.5 1911.2 688.6 1911.2C689.8 1911.1 691 1911.6 692 1912.1C692.9 1912.7 693.1 1914.1 694.5 1914.5C695.8 1914.9 697.8 1914.5 700.3 1914.5C702.8 1914.5 707.2 1915.8 709.4 1914.5C711.6 1913.2 712 1908.7 713.5 1906.7C715.1 1904.7 716.9 1903.9 718.5 1902.5C720.2 1901.1 722.1 1898.9 723.5 1898.4C724.9 1897.8 725.7 1900.4 726.8 1899.2C727.9 1898 729.2 1893.6 730.1 1890.9C731.1 1888.2 731.8 1884.3 732.6 1882.9C733.5 1881.6 734.2 1884.6 735.1 1882.6C736 1880.6 737.2 1873.3 738.1 1871C739 1868.7 739.4 1869.3 740.4 1869C741.5 1868.7 743.1 1870.3 744.2 1869C745.4 1867.7 746.5 1865.1 747.6 1861C748.7 1856.9 749.8 1848.6 750.9 1844.4C752 1840.3 753.1 1838.6 754.2 1836.1C755.3 1833.6 756.3 1832.3 757.5 1829.5C758.8 1826.7 760.6 1820.4 761.7 1819.5C762.8 1818.7 763.6 1822.9 764.2 1824.5C764.8 1826.2 764.6 1830 765.3 1829.5C766 1828.9 767.3 1823.4 768.3 1821.2C769.4 1819 770.5 1816.3 771.6 1816.5C772.7 1816.8 773.8 1820 775 1822.9C776.1 1825.7 777.2 1833 778.3 1833.6C779.4 1834.3 780.6 1826.4 781.6 1826.5C782.6 1826.6 783.1 1831.8 784.1 1834.5C785.1 1837.2 786.4 1839.2 787.4 1842.8C788.4 1846.4 789.1 1853.3 789.9 1856C790.7 1858.8 791.6 1857.2 792.4 1859.4C793.2 1861.6 793.9 1865.5 794.9 1869.3C795.8 1873.2 797.1 1878.2 798.2 1882.6C799.3 1887 800.4 1892 801.5 1895.9C802.6 1899.8 803.4 1902.5 804.8 1905.8C806.2 1909.2 808.1 1912.9 809.8 1915.8C811.5 1918.7 813.1 1921.3 814.8 1923.3C816.4 1925.2 817.7 1926.3 819.8 1927.4C821.8 1928.5 826 1929.5 827.2 1929.9" fill="#000000" stroke="#1a1a1a" stroke-width="1.65" fill-opacity="0.6" stroke-linejoin="round"/>
<line x1="616.95" y1="1993.31" x2="869.56" y2="1993.31" stroke="#8080FF" stroke-width="1.3"/>
<path d="M672.9 1993.3C673.8 1993 676.9 1992.2 678.7 1991.3C680.5 1990.4 681.7 1988.9 683.7 1988C685.6 1987.1 688.5 1985.8 690.3 1985.8C692.1 1985.8 692.8 1987.2 694.5 1988C696.1 1988.8 697.6 1990.4 700.3 1990.8C702.9 1991.3 706.9 1990.8 710.2 1990.8C713.5 1990.8 717.1 1991.2 720.2 1990.8C723.2 1990.5 726 1989.6 728.5 1988.8C731 1988.1 733.2 1986.8 735.1 1986.3C737.1 1985.8 738.4 1986.5 740.1 1985.8C741.8 1985.2 743.4 1983.6 745.1 1982.2C746.7 1980.8 748.1 1979.3 750.1 1977.2C752 1975.1 755 1973.1 756.7 1969.7C758.4 1966.4 758.8 1961.3 760 1957.3C761.3 1953.3 762.8 1949.8 764.2 1945.7C765.5 1941.5 767.1 1936.8 768.3 1932.4C769.6 1928 770.5 1923.3 771.6 1919.1C772.7 1915 774.1 1910 775 1907.5C775.8 1905 776.3 1904.3 776.9 1904.2C777.6 1904 778.3 1908.3 779.1 1906.7C779.9 1905 780.9 1897.7 781.6 1894.2C782.3 1890.8 782.6 1887.6 783.3 1885.9C783.9 1884.3 784.6 1884 785.7 1884.3C786.8 1884.5 788.5 1886.5 789.9 1887.6C791.3 1888.7 792.9 1889 794 1890.9C795.1 1892.8 795.7 1894.8 796.5 1899.2C797.4 1903.6 798.2 1911.9 799 1917.5C799.9 1923 800.5 1927.4 801.5 1932.4C802.5 1937.4 803.7 1942.4 804.8 1947.3C805.9 1952.3 807 1957.3 808.1 1962.3C809.3 1967.3 810.4 1973.2 811.5 1977.2C812.6 1981.2 813.4 1984.1 814.8 1986.3C816.2 1988.6 817.8 1989.7 819.8 1990.8C821.7 1992 825.3 1992.9 826.4 1993.3" fill="#0000FF" stroke="#1010FF" stroke-width="1.65" fill-opacity="0.6" stroke-linejoin="round"/>
<path d="M771.6 2053.9C772.5 2053.6 775 2053.1 776.6 2051.9C778.3 2050.7 779.9 2050 781.6 2046.9C783.3 2043.9 785.2 2038.6 786.6 2033.6C788 2028.7 788.8 2024.2 789.9 2017C791 2009.9 792.1 1999.3 793.2 1990.5C794.3 1981.6 795.4 1971.7 796.5 1963.9C797.6 1956.2 798.8 1948.2 799.9 1944C800.9 1939.9 801.8 1938.8 802.7 1939C803.5 1939.3 804.1 1941.5 804.8 1945.7C805.6 1949.8 806.5 1956.5 807.3 1963.9C808.1 1971.4 809 1981.6 809.8 1990.5C810.6 1999.3 811.5 2009.6 812.3 2017C813.1 2024.5 813.8 2030.3 814.8 2035.3C815.8 2040.3 817 2044.1 818.1 2046.9C819.2 2049.7 819.8 2051.1 821.4 2052.2C823.1 2053.4 827 2053.6 828.1 2053.9" fill="#FF0000" stroke="#FF1010" stroke-width="1.65" fill-opacity="0.6" stroke-linejoin="round"/>
</g>
<rect x="616.95" y="1801.61" width="252.61" height="252.28" fill="none" stroke="#444" stroke-width="1.4"/>
<path d="M699.44 1812.56H826.07M699.44 1807.06v11M826.07 1807.06v11" fill="none" stroke="#111" stroke-width="1.8"/>
<text x="679.85" y="1916.13" font-size="22" font-weight="normal" text-anchor="end" fill="#111" stroke="#111" stroke-width="0.3">93.5%</text>
<text x="679.85" y="1974.72" font-size="22" font-weight="normal" text-anchor="end" fill="#111" stroke="#111" stroke-width="0.3">97.4%</text>
<text x="679.85" y="2031.98" font-size="22" font-weight="normal" text-anchor="end" fill="#111" stroke="#111" stroke-width="0.3">99.5%</text>
<path d="M776.9 2053.89v3.6M786.78 2053.89v3.6M793.79 2053.89v3.6M799.23 2053.89v3.6M803.67 2053.89v3.6M807.43 2053.89v3.6M810.68 2053.89v3.6M813.55 2053.89v3.6M831.85 2053.89v3.6M841.06 2053.89v3.6M847.59 2053.89v3.6M852.66 2053.89v3.6M856.8 2053.89v3.6M860.3 2053.89v3.6M863.33 2053.89v3.6M866.01 2053.89v3.6M719.12 2053.89v3.6M729.42 2053.89v3.6M736.73 2053.89v3.6M742.4 2053.89v3.6M747.04 2053.89v3.6M750.95 2053.89v3.6M754.35 2053.89v3.6M757.34 2053.89v3.6M662.51 2053.89v3.6M644.89 2053.89v3.6M634.59 2053.89v3.6M627.28 2053.89v3.6M621.61 2053.89v3.6M648.52 2053.89v3.6M638.64 2053.89v3.6M631.64 2053.89v3.6M626.2 2053.89v3.6M621.76 2053.89v3.6M618 2053.89v3.6M673.01 2053.89v3.6M674.51 2053.89v3.6M676.01 2053.89v3.6M677.51 2053.89v3.6M679.01 2053.89v3.6M680.51 2053.89v3.6M682.01 2053.89v3.6M683.51 2053.89v3.6M685.01 2053.89v3.6M686.51 2053.89v3.6M688.01 2053.89v3.6M689.51 2053.89v3.6M691.01 2053.89v3.6" fill="none" stroke="#111" stroke-width="1.4"/>
<path d="M674.21 2053.89v4.6M676.81 2053.89v4.6M679.41 2053.89v4.6M682.01 2053.89v4.6M684.61 2053.89v4.6M687.21 2053.89v4.6M689.81 2053.89v4.6" fill="none" stroke="#000" stroke-width="1.9"/>
<path d="M760.02 2053.89v7M816.12 2053.89v7M868.4 2053.89v7M665.41 2053.89v7M682.01 2053.89v7M697.78 2053.89v6" fill="none" stroke="#111" stroke-width="2.2"/>
<text x="681.68" y="2076.14" font-size="16.5" text-anchor="middle" stroke="#000" stroke-width="0.5">0</text>
<text x="741.58" y="2076.14" font-size="16.5" stroke="#000" stroke-width="0.5">10<tspan dy="-5.61" font-size="11.22">4</tspan></text>
<text x="800.51" y="2076.14" font-size="16.5" stroke="#000" stroke-width="0.5">10<tspan dy="-5.61" font-size="11.22">5</tspan></text>
<text x="853.62" y="2076.14" font-size="16.5" stroke="#000" stroke-width="0.5">10<tspan dy="-5.61" font-size="11.22">6</tspan></text>
<text x="740.1" y="2104.58" font-size="30.2" text-anchor="middle">PD-1-APC</text>
<clipPath id="cp_j4"><rect x="882.95" y="1801.61" width="252.61" height="254.28"/></clipPath>
<line x1="882.45" y1="2055.19" x2="1136.06" y2="2055.19" stroke="#FF9A9A" stroke-width="1.6"/>
<g clip-path="url(#cp_j4)">
<line x1="882.95" y1="1929.91" x2="1135.56" y2="1929.91" stroke="#4a4a4a" stroke-width="1.3"/>
<path d="M941.4 1929.9C942.2 1929.4 945 1928.7 946.3 1926.6C947.7 1924.5 948.7 1921.7 949.7 1917.5C950.6 1913.2 951.3 1908.1 952.2 1900.9C953 1893.7 953.8 1883.4 954.6 1874.3C955.5 1865.2 956.3 1854.1 957.1 1846.1C958 1838.1 958.7 1830.7 959.6 1826.2C960.5 1821.6 961.6 1819.1 962.6 1818.7C963.6 1818.3 964.6 1820.5 965.4 1823.7C966.3 1826.9 967 1832.7 967.9 1837.8C968.9 1842.9 970.1 1849.1 971.2 1854.4C972.4 1859.6 973.5 1864.1 974.6 1869.3C975.7 1874.6 976.8 1881.8 977.9 1885.9C979 1890.1 980.1 1891.5 981.2 1894.2C982.3 1897 983.3 1900.7 984.5 1902.5C985.8 1904.3 987.3 1903.5 988.7 1905C990.1 1906.5 991.3 1910.1 992.8 1911.7C994.3 1913.2 996.3 1913.9 997.8 1914.1C999.3 1914.3 1000.6 1912.7 1002 1912.8C1003.3 1913 1004.6 1913.8 1006.1 1915C1007.6 1916.2 1009.4 1919.3 1011.1 1920C1012.7 1920.6 1014.4 1919.2 1016.1 1919.1C1017.7 1919 1019.1 1919.2 1021 1919.5C1023 1919.7 1025.2 1920.3 1027.7 1920.8C1030.2 1921.2 1033.5 1922 1036 1922.1C1038.5 1922.2 1040.7 1921.6 1042.6 1921.6C1044.6 1921.6 1045.9 1921.6 1047.6 1922.1C1049.3 1922.6 1050.9 1923.8 1052.6 1924.4C1054.2 1925.1 1055.3 1925.6 1057.6 1926.1C1059.8 1926.5 1062.8 1926.7 1065.9 1927.1C1068.9 1927.4 1071.1 1928 1075.8 1928.2C1080.5 1928.5 1086.9 1928.7 1094.1 1928.7C1101.3 1928.7 1114.3 1928.1 1119 1928.2C1123.7 1928.4 1119.5 1929.1 1122.3 1929.4C1125 1929.7 1133.3 1929.8 1135.6 1929.9" fill="#000000" stroke="#1a1a1a" stroke-width="1.65" fill-opacity="0.6" stroke-linejoin="round"/>
<line x1="882.95" y1="1993.31" x2="1135.56" y2="1993.31" stroke="#8080FF" stroke-width="1.3"/>
<path d="M942.2 1993.3C942.9 1992.7 945.1 1991.8 946.3 1989.7C947.6 1987.5 948.7 1985.1 949.7 1980.5C950.6 1976 951.3 1970 952.2 1962.3C953 1954.5 953.8 1943.2 954.6 1934.1C955.5 1924.9 956.2 1915.2 957.1 1907.5C958.1 1899.8 959.5 1892.4 960.5 1887.6C961.4 1882.7 962 1880.3 962.9 1878.5C963.9 1876.7 965.1 1875.6 965.9 1876.8C966.8 1878 967.2 1881.9 967.9 1885.9C968.7 1889.9 969.4 1895.1 970.4 1900.9C971.4 1906.7 972.6 1914.4 973.7 1920.8C974.8 1927.1 975.9 1934.9 977.1 1939C978.2 1943.2 979.3 1942.9 980.4 1945.7C981.5 1948.4 982.6 1953.4 983.7 1955.6C984.8 1957.8 986 1958.7 987 1959C988 1959.2 988.9 1956.5 989.8 1957C990.8 1957.4 991.6 1960 992.8 1961.4C994 1962.9 995.4 1964.3 997 1965.6C998.5 1966.8 1000.2 1967.4 1002 1968.9C1003.7 1970.4 1005.7 1973.8 1007.8 1974.7C1009.8 1975.7 1012.7 1974.3 1014.4 1974.7C1016.1 1975.1 1016.1 1976.7 1017.7 1977.2C1019.4 1977.7 1022.3 1977.5 1024.4 1977.5C1026.4 1977.5 1028.5 1976.6 1030.2 1977.2C1031.8 1977.8 1032.8 1980.8 1034.3 1981.4C1035.8 1982 1037.6 1980.7 1039.3 1980.9C1041 1981 1042.3 1981.4 1044.3 1982.2C1046.2 1983 1048.7 1984.7 1050.9 1985.5C1053.1 1986.3 1055.3 1986.6 1057.6 1987.2C1059.8 1987.7 1061.7 1988.4 1064.2 1988.8C1066.7 1989.2 1069.7 1989.2 1072.5 1989.7C1075.3 1990.1 1075.8 1991 1080.8 1991.3C1085.8 1991.6 1096 1991.3 1102.4 1991.3C1108.7 1991.3 1115.4 1991.5 1119 1991.3C1122.6 1991.1 1122.3 1990.2 1123.9 1990.2C1125.6 1990.2 1127 1990.8 1128.9 1991.3C1130.9 1991.8 1134.5 1993 1135.6 1993.3" fill="#0000FF" stroke="#1010FF" stroke-width="1.65" fill-opacity="0.6" stroke-linejoin="round"/>
<path d="M944.7 2053.9C945.2 2052.7 946.9 2050.8 948 2046.9C949.1 2043 950.4 2037 951.3 2030.3C952.3 2023.7 953 2014.8 953.8 2007.1C954.6 1999.3 955.5 1991 956.3 1983.9C957.1 1976.7 958 1969.5 958.8 1963.9C959.6 1958.4 960.3 1954.3 961.3 1950.7C962.3 1947.1 963.6 1941.8 964.6 1942.4C965.6 1942.9 966.3 1950.1 967.1 1954C967.9 1957.8 968.5 1963.4 969.3 1965.6C970 1967.8 970.7 1965.5 971.6 1966.9C972.5 1968.3 973.7 1971.1 974.6 1973.9C975.5 1976.7 976.2 1980.3 977.1 1983.9C977.9 1987.4 978.3 1992 979.5 1995.5C980.8 1998.9 983.1 2004.3 984.5 2004.6C985.9 2004.9 986.7 1997.7 987.8 1997.5C988.9 1997.2 989.9 2000.9 991.2 2002.9C992.4 2005 993.7 2008.6 995.3 2009.6C997 2010.5 999.5 2009 1001.1 2008.7C1002.8 2008.5 1004 2007.1 1005.3 2007.9C1006.5 2008.7 1007.2 2012.6 1008.6 2013.7C1010 2014.8 1012 2014.8 1013.6 2014.6C1015.1 2014.3 1016.3 2011.8 1017.7 2012.1C1019.1 2012.3 1020.5 2015.4 1021.9 2016.2C1023.3 2017 1024.8 2016.4 1026 2017C1027.3 2017.7 1028 2019.4 1029.3 2020.4C1030.7 2021.3 1032.4 2021.9 1034.3 2022.9C1036.3 2023.8 1038.7 2024.9 1041 2026.2C1043.2 2027.4 1045.4 2029.1 1047.6 2030.3C1049.8 2031.6 1052 2032.4 1054.2 2033.6C1056.4 2034.9 1058.9 2036.7 1060.9 2037.8C1062.8 2038.9 1063.9 2039 1065.9 2040.3C1067.8 2041.5 1070.3 2043.9 1072.5 2045.3C1074.7 2046.6 1076.9 2047.5 1079.1 2048.6C1081.3 2049.7 1083.6 2051.2 1085.8 2051.9C1088 2052.6 1089.6 2052.5 1092.4 2052.7C1095.2 2053 1099.3 2053.4 1102.4 2053.6C1105.4 2053.8 1109.3 2053.8 1110.7 2053.9" fill="#FF0000" stroke="#FF1010" stroke-width="1.65" fill-opacity="0.6" stroke-linejoin="round"/>
</g>
<rect x="882.95" y="1801.61" width="252.61" height="252.28" fill="none" stroke="#444" stroke-width="1.4"/>
<path d="M993.32 1812.56H1119.29M993.32 1807.06v11M1119.29 1807.06v11" fill="none" stroke="#111" stroke-width="1.8"/>
<text x="1128.59" y="1916.13" font-size="22" font-weight="normal" text-anchor="end" fill="#111" stroke="#111" stroke-width="0.3">37.1%</text>
<text x="1128.59" y="1974.72" font-size="22" font-weight="normal" text-anchor="end" fill="#111" stroke="#111" stroke-width="0.3">21.9%</text>
<text x="1128.59" y="2031.98" font-size="22" font-weight="normal" text-anchor="end" fill="#111" stroke="#111" stroke-width="0.3">49.4%</text>
<path d="M1061.35 2053.89v3.6M1072.31 2053.89v3.6M1080.09 2053.89v3.6M1086.12 2053.89v3.6M1091.05 2053.89v3.6M1095.21 2053.89v3.6M1098.82 2053.89v3.6M1102.01 2053.89v3.6M1123.59 2053.89v3.6M1134.55 2053.89v3.6M996.93 2053.89v3.6M1008.44 2053.89v3.6M1016.61 2053.89v3.6M1022.94 2053.89v3.6M1028.12 2053.89v3.6M1032.49 2053.89v3.6M1036.28 2053.89v3.6M1039.62 2053.89v3.6M933.69 2053.89v3.6M914.02 2053.89v3.6M902.51 2053.89v3.6M894.35 2053.89v3.6M888.01 2053.89v3.6M918.48 2053.89v3.6M907.52 2053.89v3.6M899.75 2053.89v3.6M893.72 2053.89v3.6M888.79 2053.89v3.6M884.62 2053.89v3.6M946.48 2053.89v3.6M947.98 2053.89v3.6M949.48 2053.89v3.6M950.98 2053.89v3.6M952.48 2053.89v3.6M953.98 2053.89v3.6M955.48 2053.89v3.6M956.98 2053.89v3.6M958.48 2053.89v3.6M959.98 2053.89v3.6M961.48 2053.89v3.6M962.98 2053.89v3.6M964.48 2053.89v3.6" fill="none" stroke="#111" stroke-width="1.4"/>
<path d="M947.68 2053.89v4.6M950.28 2053.89v4.6M952.88 2053.89v4.6M955.48 2053.89v4.6M958.08 2053.89v4.6M960.68 2053.89v4.6M963.28 2053.89v4.6" fill="none" stroke="#000" stroke-width="1.9"/>
<path d="M1042.61 2053.89v7M1104.85 2053.89v7M937.22 2053.89v7M955.48 2053.89v7M972.9 2053.89v6" fill="none" stroke="#111" stroke-width="2.2"/>
<text x="956.64" y="2076.14" font-size="16.5" text-anchor="middle" stroke="#000" stroke-width="0.5">0</text>
<text x="1030.32" y="2076.14" font-size="16.5" stroke="#000" stroke-width="0.5">10<tspan dy="-5.61" font-size="11.22">4</tspan></text>
<text x="1089.24" y="2076.14" font-size="16.5" stroke="#000" stroke-width="0.5">10<tspan dy="-5.61" font-size="11.22">5</tspan></text>
<text x="1006.6" y="2104.58" font-size="30.2" text-anchor="middle">Annexin V-Ax647</text>
<clipPath id="cp_j5"><rect x="1147.95" y="1801.61" width="252.61" height="254.28"/></clipPath>
<line x1="1147.45" y1="2055.19" x2="1401.06" y2="2055.19" stroke="#FF9A9A" stroke-width="1.6"/>
<g clip-path="url(#cp_j5)">
<line x1="1147.95" y1="1929.91" x2="1400.56" y2="1929.91" stroke="#4a4a4a" stroke-width="1.3"/>
<path d="M1206.4 1929.9C1207.3 1929.4 1210.5 1928.4 1212.2 1926.6C1213.8 1924.8 1215.1 1921.7 1216.3 1919.1C1217.6 1916.5 1218.7 1912.9 1219.6 1910.8C1220.6 1908.7 1221.3 1907.4 1222.1 1906.7C1223 1905.9 1223.8 1905.5 1224.6 1906.2C1225.5 1906.9 1226.1 1909.4 1227.1 1910.8C1228.1 1912.3 1229.2 1914.4 1230.4 1915C1231.7 1915.6 1233.2 1913.9 1234.6 1914.5C1236 1915 1237.4 1917.3 1238.7 1918.3C1240.1 1919.3 1241.4 1920.3 1242.9 1920.4C1244.4 1920.6 1245.9 1918.8 1247.9 1919.1C1249.8 1919.4 1252.6 1922 1254.5 1922.1C1256.4 1922.2 1257.8 1920.9 1259.5 1920C1261.1 1919 1262.2 1917.2 1264.5 1916.6C1266.7 1916.1 1270.7 1917.5 1272.8 1916.6C1274.8 1915.8 1275.5 1913.4 1276.9 1911.7C1278.3 1909.9 1279.5 1907.2 1281.1 1905.8C1282.6 1904.5 1284.4 1905 1286 1903.4C1287.7 1901.7 1289.5 1898.1 1291 1895.9C1292.5 1893.7 1293.9 1891.5 1295.2 1890.1C1296.4 1888.7 1297.4 1889.7 1298.5 1887.6C1299.6 1885.5 1300.7 1880.7 1301.8 1877.6C1302.9 1874.6 1304 1873.2 1305.1 1869.3C1306.2 1865.5 1307.5 1859.9 1308.4 1854.4C1309.4 1848.9 1310.1 1840.8 1310.9 1836.1C1311.8 1831.4 1312.5 1827.6 1313.4 1826.2C1314.4 1824.8 1315.6 1828.3 1316.7 1827.8C1317.8 1827.3 1319 1823.3 1320.1 1823.2C1321.2 1823 1322.1 1826.5 1323.4 1827C1324.6 1827.6 1326.4 1824.7 1327.5 1826.5C1328.6 1828.3 1329.2 1833.1 1330 1837.8C1330.9 1842.4 1331.7 1849.7 1332.5 1854.4C1333.3 1859.1 1334.2 1863.9 1335 1866C1335.8 1868.2 1336.5 1865.1 1337.5 1867.3C1338.5 1869.5 1339.7 1874.5 1340.8 1879.3C1341.9 1884 1343 1890.6 1344.1 1895.9C1345.2 1901.1 1346.2 1906.7 1347.4 1910.8C1348.7 1915 1350.1 1918 1351.6 1920.8C1353.1 1923.5 1354.6 1925.9 1356.6 1927.4C1358.5 1928.9 1362.1 1929.5 1363.2 1929.9" fill="#000000" stroke="#1a1a1a" stroke-width="1.65" fill-opacity="0.6" stroke-linejoin="round"/>
<line x1="1147.95" y1="1993.31" x2="1400.56" y2="1993.31" stroke="#8080FF" stroke-width="1.3"/>
<path d="M1204.7 1993.3C1205.7 1992.8 1208.7 1992.1 1210.5 1990.5C1212.3 1988.9 1213.8 1986.2 1215.5 1983.9C1217.2 1981.5 1218.8 1978 1220.5 1976.4C1222.1 1974.7 1223.9 1973.9 1225.5 1973.9C1227 1973.9 1228.1 1975.4 1229.6 1976.4C1231.1 1977.3 1233.1 1979.6 1234.6 1979.7C1236.1 1979.8 1237.4 1977.8 1238.7 1977.2C1240.1 1976.7 1241.4 1976.2 1242.9 1976.4C1244.4 1976.5 1246.2 1977.1 1247.9 1978C1249.5 1979 1251.3 1981.1 1252.8 1982.2C1254.4 1983.3 1255.6 1984.8 1257 1984.7C1258.4 1984.5 1259.8 1983.2 1261.1 1981.4C1262.5 1979.6 1263.9 1976 1265.3 1973.9C1266.7 1971.8 1267.9 1969.5 1269.4 1968.9C1271 1968.4 1272.5 1970.4 1274.4 1970.6C1276.4 1970.7 1279.1 1970.4 1281.1 1969.7C1283 1969.1 1284.4 1967.8 1286 1966.4C1287.7 1965 1289.4 1963.8 1291 1961.4C1292.7 1959.1 1294.3 1956.3 1296 1952.3C1297.7 1948.3 1299.3 1942.9 1301 1937.4C1302.6 1931.8 1304.4 1924.4 1306 1919.1C1307.5 1913.9 1308.9 1909.2 1310.1 1905.8C1311.3 1902.5 1312.3 1900.5 1313.4 1899.2C1314.5 1897.9 1315.4 1898 1316.7 1897.9C1318.1 1897.7 1320.5 1896.8 1321.7 1898.4C1323 1900 1323.4 1904.2 1324.2 1907.5C1325 1910.8 1325.9 1917.6 1326.7 1918.3C1327.5 1919 1328.4 1913.5 1329.2 1911.7C1330 1909.8 1330.9 1906.8 1331.7 1907.2C1332.5 1907.6 1333.3 1910.5 1334.2 1914.1C1335 1917.8 1335.7 1923.8 1336.7 1929.1C1337.6 1934.3 1338.9 1940.4 1340 1945.7C1341.1 1950.9 1342.2 1955.9 1343.3 1960.6C1344.4 1965.3 1345.4 1970 1346.6 1973.9C1347.9 1977.8 1349.1 1981.3 1350.8 1983.9C1352.4 1986.4 1354.6 1987.9 1356.6 1989.2C1358.5 1990.4 1360.4 1990.6 1362.4 1991.3C1364.3 1992 1367.2 1993 1368.2 1993.3" fill="#0000FF" stroke="#1010FF" stroke-width="1.65" fill-opacity="0.6" stroke-linejoin="round"/>
<path d="M1211.3 2053.9C1211.9 2053 1213.7 2052 1214.7 2048.6C1215.6 2045.2 1216.3 2040.6 1217.2 2033.6C1218 2026.7 1218.8 2016.2 1219.6 2007.1C1220.5 1998 1221.4 1986.1 1222.1 1978.9C1222.9 1971.7 1223.7 1967 1224.3 1963.9C1224.9 1960.9 1225.3 1960.5 1226 1960.6C1226.6 1960.8 1227.2 1961.7 1227.9 1964.8C1228.7 1967.8 1229.6 1973.8 1230.4 1978.9C1231.3 1984 1232 1990.5 1232.9 1995.5C1233.9 2000.4 1235 2004.9 1236.2 2008.7C1237.5 2012.6 1239.1 2015.7 1240.4 2018.7C1241.6 2021.7 1242.6 2025.2 1243.7 2027C1244.8 2028.8 1245.8 2029.9 1247 2029.5C1248.3 2029.1 1249.9 2025.7 1251.2 2024.5C1252.5 2023.3 1253.5 2022.1 1254.8 2022.4C1256.2 2022.6 1257.9 2025.2 1259.5 2026.2C1261.1 2027.2 1262.8 2028 1264.5 2028.3C1266.1 2028.7 1268.1 2027.9 1269.4 2028.3C1270.8 2028.7 1271.5 2030.5 1272.8 2030.7C1274 2030.8 1275.4 2029.3 1276.9 2029.5C1278.4 2029.7 1280.5 2030.5 1281.9 2032C1283.3 2033.5 1284.2 2037.2 1285.2 2038.6C1286.2 2040.1 1286.7 2041.4 1287.7 2040.6C1288.7 2039.8 1289.9 2035.8 1291 2033.6C1292.1 2031.5 1293.2 2029.1 1294.3 2027.8C1295.4 2026.6 1296.5 2026.3 1297.7 2026.2C1298.8 2026.1 1300 2027.6 1301 2027.3C1301.9 2027.1 1302.5 2025.2 1303.5 2024.5C1304.4 2023.9 1305.7 2022.9 1306.8 2023.4C1307.9 2023.8 1309 2026.4 1310.1 2027C1311.2 2027.6 1312.2 2026.3 1313.4 2027C1314.7 2027.7 1316.1 2029.6 1317.6 2031.2C1319.1 2032.7 1320.9 2034.6 1322.6 2036.1C1324.2 2037.7 1325.9 2038.9 1327.5 2040.3C1329.2 2041.7 1330.9 2043.2 1332.5 2044.4C1334.2 2045.7 1335.6 2046.5 1337.5 2047.8C1339.4 2049 1341.9 2050.9 1344.1 2051.9C1346.3 2052.9 1348.3 2053.6 1350.8 2053.9C1353.3 2054.2 1357.7 2053.9 1359.1 2053.9" fill="#FF0000" stroke="#FF1010" stroke-width="1.65" fill-opacity="0.6" stroke-linejoin="round"/>
</g>
<rect x="1147.95" y="1801.61" width="252.61" height="252.28" fill="none" stroke="#444" stroke-width="1.4"/>
<path d="M1243.71 1812.56H1370.35M1243.71 1807.06v11M1370.35 1807.06v11" fill="none" stroke="#111" stroke-width="1.8"/>
<text x="1216.16" y="1916.13" font-size="22" font-weight="normal" text-anchor="end" fill="#111" stroke="#111" stroke-width="0.3">90.3%</text>
<text x="1216.16" y="1974.72" font-size="22" font-weight="normal" text-anchor="end" fill="#111" stroke="#111" stroke-width="0.3">89.9%</text>
<text x="1216.16" y="2031.98" font-size="22" font-weight="normal" text-anchor="end" fill="#111" stroke="#111" stroke-width="0.3">56.4%</text>
<path d="M1307.9 2053.89v3.6M1317.78 2053.89v3.6M1324.79 2053.89v3.6M1330.23 2053.89v3.6M1334.67 2053.89v3.6M1338.43 2053.89v3.6M1341.68 2053.89v3.6M1344.55 2053.89v3.6M1362.85 2053.89v3.6M1372.06 2053.89v3.6M1378.59 2053.89v3.6M1383.66 2053.89v3.6M1387.8 2053.89v3.6M1391.3 2053.89v3.6M1394.33 2053.89v3.6M1397.01 2053.89v3.6M1250.12 2053.89v3.6M1260.42 2053.89v3.6M1267.73 2053.89v3.6M1273.4 2053.89v3.6M1278.04 2053.89v3.6M1281.95 2053.89v3.6M1285.35 2053.89v3.6M1288.34 2053.89v3.6M1193.51 2053.89v3.6M1175.89 2053.89v3.6M1165.59 2053.89v3.6M1158.28 2053.89v3.6M1152.61 2053.89v3.6M1179.52 2053.89v3.6M1169.64 2053.89v3.6M1162.64 2053.89v3.6M1157.2 2053.89v3.6M1152.76 2053.89v3.6M1149 2053.89v3.6M1204.01 2053.89v3.6M1205.51 2053.89v3.6M1207.01 2053.89v3.6M1208.51 2053.89v3.6M1210.01 2053.89v3.6M1211.51 2053.89v3.6M1213.01 2053.89v3.6M1214.51 2053.89v3.6M1216.01 2053.89v3.6M1217.51 2053.89v3.6M1219.01 2053.89v3.6M1220.51 2053.89v3.6M1222.01 2053.89v3.6" fill="none" stroke="#111" stroke-width="1.4"/>
<path d="M1205.21 2053.89v4.6M1207.81 2053.89v4.6M1210.41 2053.89v4.6M1213.01 2053.89v4.6M1215.61 2053.89v4.6M1218.21 2053.89v4.6M1220.81 2053.89v4.6" fill="none" stroke="#000" stroke-width="1.9"/>
<path d="M1291.02 2053.89v7M1347.12 2053.89v7M1399.4 2053.89v7M1196.41 2053.89v7M1213.01 2053.89v7M1228.78 2053.89v6" fill="none" stroke="#111" stroke-width="2.2"/>
<text x="1213.01" y="2076.14" font-size="16.5" text-anchor="middle" stroke="#000" stroke-width="0.5">0</text>
<text x="1271.26" y="2076.14" font-size="16.5" stroke="#000" stroke-width="0.5">10<tspan dy="-5.61" font-size="11.22">4</tspan></text>
<text x="1330.68" y="2076.14" font-size="16.5" stroke="#000" stroke-width="0.5">10<tspan dy="-5.61" font-size="11.22">5</tspan></text>
<text x="1383.29" y="2076.14" font-size="16.5" stroke="#000" stroke-width="0.5">10<tspan dy="-5.61" font-size="11.22">6</tspan></text>
<text x="1288.36" y="2104.58" font-size="30.2" text-anchor="middle">IFN-γ-APC</text>
<clipPath id="cp_j6"><rect x="1413.78" y="1801.61" width="252.61" height="254.28"/></clipPath>
<line x1="1413.28" y1="2055.19" x2="1666.89" y2="2055.19" stroke="#FF9A9A" stroke-width="1.6"/>
<g clip-path="url(#cp_j6)">
<line x1="1413.78" y1="1929.91" x2="1666.39" y2="1929.91" stroke="#4a4a4a" stroke-width="1.3"/>
<path d="M1478 1929.9C1479.1 1929.5 1482.2 1928.5 1484.6 1927.4C1487.1 1926.3 1490.5 1924.9 1492.9 1923.3C1495.4 1921.6 1497.4 1920.1 1499.6 1917.5C1501.8 1914.8 1504.3 1910.8 1506.2 1907.5C1508.2 1904.2 1509.7 1900.9 1511.2 1897.5C1512.7 1894.2 1514.1 1890.9 1515.4 1887.6C1516.6 1884.3 1517.6 1881.2 1518.7 1877.6C1519.8 1874 1520.9 1869.6 1522 1866C1523.1 1862.4 1524.2 1859.4 1525.3 1856C1526.4 1852.7 1527.7 1849.4 1528.6 1846.1C1529.6 1842.8 1530.4 1838.2 1531.1 1836.1C1531.8 1834.1 1532.1 1833.9 1532.8 1833.6C1533.5 1833.4 1534.6 1835.7 1535.3 1834.5C1536 1833.2 1536.4 1828.7 1536.9 1826.2C1537.5 1823.7 1538 1820.8 1538.6 1819.5C1539.2 1818.2 1540.1 1817.7 1540.7 1818.4C1541.4 1819.1 1542 1821.8 1542.7 1823.7C1543.5 1825.5 1544.4 1826.9 1545.2 1829.5C1546.1 1832.1 1546.9 1836.4 1547.7 1839.5C1548.5 1842.5 1549.4 1844.4 1550.2 1847.8C1551 1851.1 1551.9 1854.9 1552.7 1859.4C1553.5 1863.8 1554.4 1869.6 1555.2 1874.3C1556 1879 1556.7 1883.2 1557.7 1887.6C1558.6 1892 1559.9 1896.7 1561 1900.9C1562.1 1905 1563.2 1909.2 1564.3 1912.5C1565.4 1915.8 1566.3 1918.4 1567.6 1920.8C1569 1923.1 1570.8 1925.3 1572.6 1926.6C1574.4 1927.9 1576.5 1928.2 1578.4 1928.7C1580.4 1929.3 1583.3 1929.7 1584.2 1929.9" fill="#000000" stroke="#1a1a1a" stroke-width="1.65" fill-opacity="0.6" stroke-linejoin="round"/>
<line x1="1413.78" y1="1993.31" x2="1666.39" y2="1993.31" stroke="#8080FF" stroke-width="1.3"/>
<path d="M1475.5 1993.3C1476.5 1993 1479.5 1991.8 1481.3 1991.3C1483.1 1990.8 1484.4 1990.5 1486.3 1990.2C1488.2 1989.8 1490.7 1989.9 1492.9 1989.2C1495.2 1988.4 1497.6 1986.9 1499.6 1985.5C1501.5 1984.1 1502.9 1982.7 1504.6 1980.5C1506.2 1978.3 1507.9 1975.8 1509.5 1972.2C1511.2 1968.6 1512.9 1963.9 1514.5 1959C1516.2 1954 1518 1947.9 1519.5 1942.4C1521 1936.8 1522.4 1930.5 1523.7 1925.8C1524.9 1921.1 1526 1916.9 1527 1914.1C1527.9 1911.4 1528.6 1910.5 1529.5 1909.2C1530.3 1907.8 1531.1 1907.8 1532 1905.8C1532.8 1903.9 1533.6 1899.2 1534.4 1897.5C1535.3 1895.9 1536.2 1897.8 1536.9 1895.9C1537.6 1893.9 1538 1888.1 1538.6 1885.9C1539.1 1883.7 1539.6 1881.6 1540.2 1882.6C1540.9 1883.6 1541.7 1890.6 1542.4 1891.7C1543.2 1892.9 1544 1889.2 1544.7 1889.6C1545.5 1890 1546.1 1892.1 1546.9 1894.2C1547.7 1896.4 1548.5 1898.7 1549.4 1902.5C1550.2 1906.4 1551 1913.6 1551.9 1917.5C1552.7 1921.3 1553.5 1921.9 1554.4 1925.8C1555.2 1929.6 1555.9 1936 1556.8 1940.7C1557.8 1945.4 1559.1 1949.8 1560.2 1954C1561.3 1958.1 1562.4 1962 1563.5 1965.6C1564.6 1969.2 1565.6 1972.8 1566.8 1975.6C1568 1978.3 1569.4 1980.3 1571 1982.2C1572.5 1984.1 1574.1 1985.7 1575.9 1987.2C1577.7 1988.6 1579.8 1990 1581.7 1990.8C1583.7 1991.6 1585.8 1991.4 1587.6 1991.8C1589.3 1992.2 1591.7 1993.1 1592.5 1993.3" fill="#0000FF" stroke="#1010FF" stroke-width="1.65" fill-opacity="0.6" stroke-linejoin="round"/>
<path d="M1490.5 2053.9C1491.1 2053 1493.4 2051.4 1494.6 2048.6C1495.9 2045.8 1496.8 2041.7 1497.9 2037C1499 2032.3 1500.1 2026.2 1501.2 2020.4C1502.4 2014.6 1503.5 2008.2 1504.6 2002.1C1505.7 1996 1506.8 1989.4 1507.9 1983.9C1509 1978.3 1510.1 1972.9 1511.2 1968.9C1512.3 1964.9 1513.4 1962.3 1514.5 1959.8C1515.6 1957.3 1516.9 1955.9 1517.8 1954C1518.8 1952 1519.4 1949.4 1520.3 1948.2C1521.2 1946.9 1522.2 1946 1523.2 1946.5C1524.1 1947.1 1525.2 1949.7 1526.1 1951.5C1527.1 1953.3 1527.7 1955.1 1528.6 1957.3C1529.6 1959.5 1530.8 1962 1532 1964.8C1533.1 1967.5 1534.2 1970.2 1535.3 1973.9C1536.4 1977.6 1537.5 1983.3 1538.6 1987.2C1539.7 1991 1540.8 1994.1 1541.9 1997.1C1543 2000.2 1544.1 2002.7 1545.2 2005.4C1546.3 2008.2 1547.4 2011.1 1548.5 2013.7C1549.7 2016.4 1550.8 2019.3 1551.9 2021.2C1553 2023.1 1553.9 2023.4 1555.2 2025.3C1556.4 2027.3 1557.8 2030.6 1559.3 2032.8C1560.9 2035 1562.7 2036.5 1564.3 2038.6C1566 2040.7 1567.4 2043.3 1569.3 2045.3C1571.2 2047.2 1573.4 2048.8 1575.9 2050.2C1578.4 2051.7 1582.8 2053.3 1584.2 2053.9" fill="#FF0000" stroke="#FF1010" stroke-width="1.65" fill-opacity="0.6" stroke-linejoin="round"/>
</g>
<rect x="1413.78" y="1801.61" width="252.61" height="252.28" fill="none" stroke="#444" stroke-width="1.4"/>
<path d="M1495.1 1813.39H1622.07M1495.1 1807.89v11M1622.07 1807.89v11" fill="none" stroke="#111" stroke-width="1.8"/>
<text x="1417.93" y="1899.54" font-size="22" font-weight="normal" fill="#111" stroke="#111" stroke-width="0.3">98.6%</text>
<text x="1417.93" y="1924.93" font-size="22" font-weight="normal" fill="#111" stroke="#111" stroke-width="0.3">4728</text>
<text x="1417.93" y="1959.78" font-size="22" font-weight="normal" fill="#111" stroke="#111" stroke-width="0.3">98.9%</text>
<text x="1417.93" y="1985.51" font-size="22" font-weight="normal" fill="#111" stroke="#111" stroke-width="0.3">5191</text>
<text x="1417.93" y="2021.2" font-size="22" font-weight="normal" fill="#111" stroke="#111" stroke-width="0.3">99.1%</text>
<text x="1417.93" y="2046.92" font-size="22" font-weight="normal" fill="#111" stroke="#111" stroke-width="0.3">3804</text>
<path d="M1573.73 2053.89v3.6M1583.61 2053.89v3.6M1590.62 2053.89v3.6M1596.06 2053.89v3.6M1600.5 2053.89v3.6M1604.26 2053.89v3.6M1607.51 2053.89v3.6M1610.38 2053.89v3.6M1628.68 2053.89v3.6M1637.89 2053.89v3.6M1644.42 2053.89v3.6M1649.49 2053.89v3.6M1653.63 2053.89v3.6M1657.13 2053.89v3.6M1660.16 2053.89v3.6M1662.84 2053.89v3.6M1515.52 2053.89v3.6M1525.93 2053.89v3.6M1533.32 2053.89v3.6M1539.05 2053.89v3.6M1543.73 2053.89v3.6M1547.69 2053.89v3.6M1551.12 2053.89v3.6M1554.14 2053.89v3.6M1458.3 2053.89v3.6M1440.5 2053.89v3.6M1430.09 2053.89v3.6M1422.7 2053.89v3.6M1416.97 2053.89v3.6M1445.35 2053.89v3.6M1435.47 2053.89v3.6M1428.47 2053.89v3.6M1423.03 2053.89v3.6M1418.59 2053.89v3.6M1414.83 2053.89v3.6M1469.01 2053.89v3.6M1470.51 2053.89v3.6M1472.01 2053.89v3.6M1473.51 2053.89v3.6M1475.01 2053.89v3.6M1476.51 2053.89v3.6M1478.01 2053.89v3.6M1479.51 2053.89v3.6M1481.01 2053.89v3.6M1482.51 2053.89v3.6M1484.01 2053.89v3.6M1485.51 2053.89v3.6M1487.01 2053.89v3.6" fill="none" stroke="#111" stroke-width="1.4"/>
<path d="M1470.21 2053.89v4.6M1472.81 2053.89v4.6M1475.41 2053.89v4.6M1478.01 2053.89v4.6M1480.61 2053.89v4.6M1483.21 2053.89v4.6M1485.81 2053.89v4.6" fill="none" stroke="#000" stroke-width="1.9"/>
<path d="M1556.85 2053.89v7M1612.95 2053.89v7M1665.23 2053.89v7M1462.24 2053.89v7M1478.01 2053.89v7M1494.27 2053.89v6" fill="none" stroke="#111" stroke-width="2.2"/>
<text x="1477.18" y="2076.14" font-size="16.5" text-anchor="middle" stroke="#000" stroke-width="0.5">0</text>
<text x="1537.58" y="2076.14" font-size="16.5" stroke="#000" stroke-width="0.5">10<tspan dy="-5.61" font-size="11.22">4</tspan></text>
<text x="1596.84" y="2076.14" font-size="16.5" stroke="#000" stroke-width="0.5">10<tspan dy="-5.61" font-size="11.22">5</tspan></text>
<text x="1649.12" y="2076.14" font-size="16.5" stroke="#000" stroke-width="0.5">10<tspan dy="-5.61" font-size="11.22">6</tspan></text>
<text x="1556.02" y="2104.58" font-size="30.2" text-anchor="middle">Perforin-APC</text>
<rect x="709.5" y="705.5" width="33" height="33" fill="#000000" rx="2"/>
<text x="759" y="731.7" font-size="35.5">Tcm</text>
<rect x="709.5" y="760.7" width="33" height="33" fill="#0000FF" rx="2"/>
<text x="759" y="786.9" font-size="35.5">Tem</text>
<rect x="709.5" y="817" width="33" height="33" fill="#FF0000" rx="2"/>
<text x="759" y="843.2" font-size="35.5">Trm</text>
<rect x="1603" y="697" width="32.5" height="32.5" fill="#000000" rx="2"/>
<text x="1652.5" y="723.05" font-size="35.5">Tcm</text>
<rect x="1603" y="753.3" width="32.5" height="32.5" fill="#0000FF" rx="2"/>
<text x="1652.5" y="779.35" font-size="35.5">Tem</text>
<rect x="1603" y="809.5" width="32.5" height="32.5" fill="#FF0000" rx="2"/>
<text x="1652.5" y="835.55" font-size="35.5">Trm</text>
<rect x="1700.2" y="1818.4" width="32" height="32" fill="#000000" rx="2"/>
<text x="1750" y="1845.6" font-size="35.5">Trm1</text>
<rect x="1700.2" y="1875" width="32" height="32" fill="#0000FF" rx="2"/>
<text x="1750" y="1902.2" font-size="35.5">Trm2</text>
<rect x="1700.2" y="1931.2" width="32" height="32" fill="#FF0000" rx="2"/>
<text x="1750" y="1958.4" font-size="35.5">Trm3</text>
</g>
<g id="umap">
<text x="138.2" y="1027.7" font-size="34.5" font-weight="normal" stroke="#000" stroke-width="1.5" stroke-linejoin="round">CD8<tspan dy="-11" font-size="23">+</tspan><tspan dy="11">Trm</tspan></text>
<path d="M208 1263.5h0M161.6 1257.1h0M131.8 1270h0M133.6 1179.3h0M173.1 1180.5h0M195.5 1153.8h0M130.9 1201h0M113 1172.7h0M132 1252.4h0M115.7 1257h0M95.7 1283.5h0M111.4 1245.8h0M128.6 1173.1h0M136.7 1164h0M162.8 1264.7h0M187.1 1270h0M215.6 1284.2h0M146 1264.8h0M122.7 1299h0M177 1193.8h0M214.3 1156.5h0M124.4 1257.4h0M111.9 1221.3h0M101.9 1228.9h0M108.1 1170.2h0M200.9 1279.6h0M175.3 1239.4h0M140.9 1277.2h0M128.2 1241.4h0M182.1 1243h0M221.8 1243.3h0M218.1 1193h0M143.6 1207.7h0M258.4 1254.8h0M127.3 1273.9h0M120.6 1259.7h0M100.5 1270.7h0M157.5 1308.6h0M110 1179.4h0M168.5 1288.9h0M121.6 1282.4h0M79.4 1233.8h0M194.6 1181.5h0M152.2 1165.3h0M211.5 1249.9h0M206.9 1235h0M95.9 1197.3h0M224.3 1249.3h0M154.1 1190.5h0M118.3 1278.9h0M185.8 1179.4h0M176.3 1180.1h0M171.1 1232.2h0M191.7 1236.6h0M212 1227.5h0M117 1291.5h0M175.9 1209h0M218.9 1212.8h0M113.2 1300.6h0M142.2 1186.4h0M169.3 1226.7h0M95.4 1262.3h0M94.8 1243.7h0M151.8 1250.5h0M183.5 1188h0M106.2 1247.1h0M214.7 1224.2h0M112.8 1192.2h0M187.4 1261.5h0M190.5 1186.2h0M165.3 1222.3h0M135.6 1241.6h0M158.7 1203.4h0M187.3 1310.5h0M164.7 1277.8h0M199.5 1272.8h0M154.5 1252.3h0M160.3 1304.4h0M130 1190.6h0M183.5 1260h0M170.5 1248.5h0M86.5 1241.6h0M135.1 1291h0M145.5 1198.1h0M122.3 1208.8h0M124.7 1169.9h0M111.3 1261.2h0M197.7 1164.8h0M152.7 1200.3h0M222.1 1232.9h0M124.6 1301.1h0M181.8 1232.6h0M209.7 1193.1h0M182 1202.6h0M157.4 1316.1h0M149.8 1317.2h0M157.1 1281.4h0M162.2 1194.6h0M169.1 1284.8h0M102 1286.6h0M152.4 1297h0M195.4 1307.3h0M97.9 1237.2h0M125.2 1244.8h0M115.4 1281.9h0M184.3 1317.4h0M332 1171.4h0M99.4 1189.5h0M170.2 1189h0M176.3 1288.9h0M134 1254.3h0M174 1247h0M144.3 1152.8h0M171.8 1254.9h0M207.6 1300.5h0M218 1229h0M107 1181.9h0M161.5 1308.7h0M215.4 1196.6h0M156.5 1205.1h0M185.7 1193.9h0M212.1 1218.6h0M108 1173.7h0M172.4 1196.8h0M142.8 1272.9h0M198.2 1287h0M181.6 1254.4h0M169.4 1302.6h0M220.7 1215.9h0M93.9 1222.9h0M103.9 1243.7h0M191.7 1321.6h0M162.8 1299.9h0M114.2 1296.8h0M230.4 1124.6h0M191.1 1293.5h0M149.5 1163.7h0M198.5 1309.3h0M95 1258.1h0M86 1190.1h0M93.4 1246.3h0M126.1 1219.2h0M127.9 1282.8h0M197.8 1196.7h0M106.2 1279.2h0M154.5 1263.8h0M101.5 1251.7h0M196 1261.6h0M101.1 1280h0M181.6 1158.9h0M91.2 1184.2h0M154.3 1216.8h0M160.9 1296.8h0M146.7 1303.7h0M109.4 1287.1h0M139.7 1289.5h0M102 1215.4h0M185 1198.3h0M171.9 1294.2h0M91.8 1212.6h0M89.4 1227.6h0M94.1 1272.9h0M165.4 1287.3h0M197.2 1252.4h0M83.8 1192h0M228.3 1170.7h0M200 1282.8h0M188.4 1225.6h0M112.5 1237.7h0M173.5 1288.3h0M200.1 1205.5h0M155.8 1168.1h0M101.9 1265h0M152.1 1276.6h0M179.1 1143.8h0M113.9 1288h0M175.6 1304.3h0M170.3 1319.7h0M133.9 1200.6h0M132.7 1272.9h0M314.5 1190.5h0M95.7 1188.2h0M186.1 1296h0M178.7 1281h0M103.5 1231.5h0M110.3 1273h0M123.6 1234.2h0M102.2 1200.7h0M133.7 1212.2h0M164.1 1282.7h0M149.8 1159.9h0M198.5 1147h0M106.9 1251.7h0M142.6 1212.4h0M98.4 1242.1h0M170.4 1211.8h0M100.5 1218.2h0M101.7 1294.4h0M172.6 1238.5h0M148.3 1247.3h0M133.3 1203.7h0M136.2 1205.2h0M181.5 1208.1h0M219 1255.1h0M89.6 1232h0M136.5 1299.4h0M155.4 1279.1h0M140.6 1225.2h0M104.9 1177.4h0M112.5 1276.2h0M169 1295.7h0M190.2 1279h0M187.6 1275.5h0M112.3 1291.1h0M240.9 1160h0M170.3 1243.4h0M138.2 1179.7h0M85.7 1237.9h0M124.9 1204.4h0M188 1214.9h0M102.6 1197.2h0M134.3 1257.1h0M127.9 1259.8h0M107 1216.7h0M153 1282.9h0M192.2 1303.7h0M166.7 1271.3h0M80.1 1215.5h0M128.7 1223.9h0M158.9 1185.2h0M126.3 1154h0M164.2 1214.1h0M193.3 1328.1h0M129 1277.4h0M159.9 1293.7h0M176.4 1220.1h0M268.4 1293.5h0M99 1248.4h0M128 1295.1h0M91.6 1276h0M106 1166.7h0M95.1 1210.9h0M230.7 1178.7h0M209.4 1156.6h0M167.4 1305.3h0M193.5 1277.2h0M196.6 1190.6h0M119 1286.1h0M189 1282.5h0M103.2 1181.2h0M174.2 1266.8h0M170.6 1181.9h0M209.3 1248.2h0M115.5 1196.5h0M128 1163.2h0M94.6 1183.9h0M95.1 1226.1h0M109.2 1161.4h0M184.3 1330.2h0M187.9 1208.9h0M211.2 1139.2h0M145.5 1232.1h0M108.4 1261h0M216.8 1145.3h0M142.7 1182.1h0M231.4 1226.1h0M196.4 1150.6h0M195.1 1188h0M165.3 1241.8h0M174.1 1199.7h0M105.1 1283.8h0M181.9 1195.3h0M190.3 1289.9h0M205.7 1196.3h0M219.6 1201.8h0M116 1268.6h0M213.8 1253h0M112.4 1216.8h0M202.1 1253.9h0M196.3 1208.8h0M95.7 1175.4h0M135.5 1272.4h0M228.1 1183.9h0M180.1 1223.9h0M191.7 1199.6h0M197.5 1315.1h0M93.8 1179.1h0M124.9 1222.2h0M206.4 1296.3h0M155.4 1186.6h0M172.4 1322.8h0M145.6 1259.5h0M186.4 1257.1h0M245.6 1251.6h0M170.6 1156.3h0M175.9 1234h0M182.1 1179.8h0M212.7 1257.7h0M118.3 1179.3h0M155.2 1305.4h0M130 1305.4h0M107.9 1275.1h0M174.4 1279.3h0M204.6 1257.8h0M91.4 1240.5h0M216.8 1173.6h0M159 1175.9h0M98.7 1285.7h0M135.2 1194.5h0M182.9 1327h0M187.8 1219.6h0M184.3 1235.9h0M149.8 1243.3h0M192.2 1215.9h0M163.2 1227.1h0M179.2 1296.5h0M141.5 1263.7h0M211.1 1234.5h0M151.8 1147.9h0M157 1273.1h0M201.6 1328.3h0M139.3 1243.2h0M285 1106.1h0M176.5 1145h0M181.2 1269.1h0M137.7 1257.8h0M87.8 1278.1h0M135.9 1197.3h0M185 1210.7h0M209.1 1274.4h0M119.2 1213.9h0M113 1230.6h0M202.5 1226.8h0M154 1178.7h0M172 1206.1h0M193.1 1232.9h0M142.4 1201.5h0M183.8 1224.8h0M187.9 1293h0M188.9 1273.1h0M123.9 1272.3h0M160.1 1300.3h0M134 1309.2h0M141.9 1299h0M135.8 1169h0M148.6 1189.5h0M125.4 1200.9h0M127.2 1206.2h0M181.5 1215.2h0M170 1278.2h0M131.3 1302.4h0M142.8 1237.1h0M159.9 1207.4h0M91.9 1205.2h0M105.5 1295.4h0M175.3 1324.1h0M177.3 1270.6h0M180.7 1246.3h0M143.8 1194.2h0M133.2 1165.9h0M205.1 1262.7h0M220 1181.2h0M112.6 1213.7h0M99.5 1262.6h0M121.1 1245.5h0M165.6 1256.8h0M175.2 1214.6h0M117.1 1193.9h0M152.1 1305.5h0M119.4 1274.3h0M221.4 1160.6h0M176.5 1274.7h0M218.2 1272.8h0M162.3 1318h0M188.6 1191.4h0M121.2 1268h0M154.1 1272.7h0M209.1 1225.4h0M118.5 1225.9h0M201.7 1303.3h0M161.7 1147.4h0M207.6 1293.2h0M108.1 1244.6h0M117.9 1259.4h0M147.4 1203.5h0M108 1255.3h0M221.3 1209.1h0M95.6 1231.2h0M120.7 1255.3h0M99.3 1220.7h0M194.7 1242.7h0M170.7 1202.5h0M105.8 1260h0M144.8 1244.6h0M100.5 1209.3h0M164.1 1249.7h0M147.8 1272.7h0M109.3 1301.5h0M167.2 1292.8h0M120.2 1167.1h0M148.2 1237.8h0M116.4 1188.6h0M145.8 1147.9h0M133.7 1185.6h0M128.2 1227h0M134.6 1268.9h0M172.2 1290.8h0M86.9 1200.2h0M214.1 1231.6h0M174.9 1301.4h0M200.9 1324.2h0M216.6 1250.5h0M83.7 1248.1h0M173.7 1188.7h0M199.2 1277.2h0M124.3 1278.8h0M204.7 1308.7h0M122.1 1221.6h0M123 1241.5h0M107.9 1289.6h0M192.2 1296.8h0M150.6 1227.8h0M302.3 1182.4h0M108 1231.7h0M90 1209.8h0M88.3 1249.5h0M121.3 1278h0M232 1162.3h0M169.4 1236.7h0M188.3 1230.1h0M89.1 1235.6h0M118.2 1240.9h0M137.6 1291.9h0M159.4 1210.9h0M194.2 1136.5h0M139.4 1312h0M201.4 1218.7h0M212.5 1190.5h0M182.3 1212h0M204.2 1220.8h0M203.8 1241.3h0M193.5 1207.8h0M214.6 1181.3h0M147.5 1181.1h0M212.3 1143h0M142.9 1307.2h0M152.7 1320.3h0M126.1 1289.4h0M143.5 1155.8h0M178.3 1293.7h0M152.7 1244.1h0M150 1307.8h0M182.9 1306.5h0M86.1 1195.9h0M89.9 1217.5h0M146.3 1280h0M195.2 1168.9h0M131.5 1210.3h0M201.5 1194.1h0M311.1 1081.1h0M230.4 1159.7h0M151.5 1300.1h0M182.2 1281h0M218 1239.7h0M137.1 1215.4h0M203.6 1206.8h0M147.2 1299.7h0M108.4 1189.2h0M207.7 1186.6h0M90.7 1263.4h0M216.6 1210.3h0M110.5 1194.9h0M86.3 1258h0M151.1 1196.2h0M185.4 1252.9h0M166.4 1301.4h0M138.8 1201.8h0M129.4 1232.1h0M151.1 1185.7h0M190.5 1182.5h0M150.7 1151.6h0M110.6 1206.3h0M156.6 1297h0M164.9 1325.2h0M205.4 1267.2h0M118.2 1253h0M113.2 1306.5h0M154.6 1241.8h0M167.1 1143.5h0M137.1 1314.9h0M136.3 1159.8h0M178.6 1322.4h0M88.9 1189.2h0M192.3 1240.6h0M180.4 1184.2h0M209.8 1241.7h0M97.3 1271.5h0M166.7 1233h0M155.3 1161.2h0M118.3 1210h0M205 1215.7h0M214.8 1279.4h0M117 1295.6h0M87.9 1244.3h0M204.3 1210.2h0M114.4 1260.7h0M137.5 1279.2h0M165.7 1179.4h0M108 1266.5h0M142.1 1190.2h0M157.4 1324.4h0M193.4 1253.6h0M117.4 1298.8h0M142.9 1163.3h0M219.5 1187.2h0M197.9 1281h0M156.3 1244.3h0M197.6 1246.6h0M187.7 1302.5h0M180.1 1138.3h0M161.2 1231.9h0M207.1 1191.7h0M118.9 1302.9h0M118.1 1197.8h0M131.9 1242.5h0M147.6 1292.4h0M116.8 1173.2h0M99.7 1289h0M240.8 1280.5h0M153.3 1259.2h0M145.9 1288.7h0M127.7 1211.2h0M189.3 1172.9h0M105.2 1254.7h0M185.3 1190.9h0M93.3 1214.9h0M195.7 1267.8h0M120.2 1164.3h0M163.1 1285.3h0M139.8 1216.2h0M90.9 1248.2h0M120.7 1295.3h0M171.6 1192.4h0M154.7 1266.9h0M139.1 1247.7h0M164.5 1199.4h0M144.9 1189.4h0M131.6 1288.1h0M166.8 1311.9h0M173.3 1251.3h0M128.3 1194.2h0M210.7 1184.1h0M179.4 1316.2h0M146.7 1229.4h0M200.8 1223.3h0M145.3 1267.8h0M223 1199.9h0M134.6 1235.3h0M109.8 1295h0M180.8 1171.4h0M129.6 1257.6h0M173.8 1318.2h0M91.5 1269.8h0M123.4 1253.9h0M169.8 1312.3h0M202 1296.9h0M151.4 1192.8h0M159 1269.8h0M176.8 1329.1h0M210.2 1200.7h0M148.7 1265.8h0M175.4 1258h0M151.2 1181.9h0M216.5 1214.1h0M173.9 1297h0M118.5 1311.6h0M135.5 1281.7h0M307.8 1121.1h0M176.8 1174.8h0M208.5 1260.7h0M306.3 1266.8h0M112.2 1167.2h0M172.6 1314.1h0M99.6 1274h0M229.5 1130.3h0M131.4 1154.2h0M121.2 1250.7h0M188 1162.3h0M185.9 1314.2h0M217.8 1182.9h0M145.7 1250.3h0M158.7 1168.7h0M155.2 1198.4h0M146.5 1166.5h0M175.8 1282.8h0M174.6 1229.9h0M165.2 1274.1h0M148.6 1209.8h0M197 1257.5h0M155.2 1313.1h0M225 1133.6h0M198 1226.4h0M176.2 1149h0M137.1 1173h0M187.4 1201.2h0M150.2 1233.9h0M220.1 1223.2h0M160.5 1160.9h0M104.1 1298h0M137.3 1266.1h0M118.8 1219.7h0M176.6 1186.3h0M216.6 1186.1h0M204.9 1276h0M162 1209.8h0M141.5 1209.4h0M91.3 1176.4h0M161 1271.6h0M235.1 1159.4h0M124 1267.9h0M187.6 1317.1h0M161.3 1165.5h0M75.2 1220.2h0M187.2 1285.2h0M213.5 1261h0M160.6 1191h0M160 1314.3h0M179.8 1290.7h0M129.6 1177.8h0M127.9 1312h0M203.2 1188.3h0M169.9 1281h0M153.7 1174.6h0M123 1188h0M123.2 1286.8h0M117 1307.2h0M199.8 1249.3h0M100.3 1195.8h0M101.3 1258.4h0M157.2 1152h0M125.6 1296.7h0M149.4 1175.2h0M120.1 1229.9h0M184.6 1207.4h0M184.9 1274.5h0M186.8 1243.5h0M131.7 1172.9h0M183.2 1263.5h0M132.5 1262h0M146.7 1158.2h0M218 1236.3h0M135.4 1175.9h0M142.2 1258h0M157.9 1180.9h0M137.3 1287.4h0M104.1 1173.4h0M104.6 1207.1h0M217.8 1245.2h0M160.1 1283.6h0M98.2 1199.3h0M169 1195.4h0M186.1 1246.8h0M128.1 1200.3h0M142.7 1215.2h0M102.5 1273.2h0M93.7 1191.7h0M136.9 1254.1h0M212.4 1213.7h0M108.3 1214.1h0M178.8 1256.3h0M141.3 1269.3h0M187.3 1235.7h0M250.8 1201h0M176.8 1199.7h0M146.1 1212.4h0M151.3 1263.8h0M208.6 1163.7h0M134.1 1264.2h0M195.6 1229.9h0M161.8 1324.1h0M142.5 1282.2h0M162.6 1222.9h0M98.4 1281.7h0M195 1211.4h0M173.9 1184.7h0M179.2 1304.6h0M182 1293.3h0M109.7 1239.4h0M175.6 1172h0M115.8 1220.8h0M149.9 1179.3h0M198.1 1235.4h0M97.9 1182.3h0M122.8 1230h0M156.4 1321.6h0M200.6 1201.7h0M107 1192.8h0M196.2 1172.8h0M167.8 1326.8h0M139.3 1272.3h0M125.4 1251.7h0M180.7 1155.8h0M94.1 1201.2h0M205 1172.2h0M162.3 1240h0M279.2 1149.3h0M126 1178.3h0M168.9 1254.2h0M94.5 1268.2h0M167.4 1200.4h0M106.6 1238.9h0M150.7 1155.3h0M104.4 1190.8h0M143.6 1227.5h0M115.8 1214.7h0M97.7 1252.4h0M172.4 1303.6h0M153.3 1255.5h0M113.3 1201.4h0M82.8 1211.1h0M194.4 1199.1h0M132.8 1275.9h0M86.1 1205.7h0M197.8 1221h0M146.7 1219.2h0M202 1171.8h0M163.2 1245.1h0M108.5 1198.8h0M203.2 1235.6h0M194 1245.9h0M193.7 1225.5h0M133.2 1298.7h0M184.9 1308.6h0M195.3 1139.4h0M80.2 1202.5h0M197.7 1158.9h0M101.8 1234.5h0M123.3 1248.1h0M213.1 1194.4h0M158.2 1289h0M104.3 1218.2h0M207.1 1153.5h0M88.2 1203.2h0M145.8 1172h0M143.7 1309.9h0M227.2 1164.7h0M159.3 1145.8h0M136.2 1251.2h0" fill="none" stroke="#151515" stroke-width="6.4" stroke-linecap="round"/>
<path d="M306.9 1202.3h0M277 1301.8h0M286.9 1272.7h0M318.1 1231.2h0M273.1 1299h0M198.1 1328.5h0M303.2 1223.7h0M229.4 1318.9h0M254.6 1228.1h0M229.4 1153.4h0M255.7 1236h0M313.2 1284.2h0M241.5 1189.1h0M275.2 1304.6h0M295.4 1269.9h0M293.2 1309h0M193.8 1194.1h0M295.8 1248.3h0M275.1 1266.9h0M307 1249.4h0M290.7 1268.7h0M265.7 1246h0M255.4 1199.6h0M267.7 1248.8h0M252 1280.7h0M284.7 1228.2h0M215.6 1263.3h0M314.8 1240h0M278.8 1307.9h0M289.6 1278h0M207 1304h0M289.5 1208.7h0M223.6 1293.4h0M249.4 1323h0M219.3 1267.6h0M271.5 1308.4h0M250.6 1269.1h0M258 1186.2h0M228.3 1237.5h0M258.2 1113.2h0M220.8 1271.2h0M299.3 1296.8h0M312.3 1228.2h0M304.5 1207h0M287.3 1246.3h0M266.7 1283.2h0M273.6 1251.5h0M288.1 1188.5h0M234.8 1273.4h0M308.8 1270.8h0M233.4 1311.8h0M244.5 1152.7h0M252.9 1245.5h0M237.9 1243.1h0M246.6 1293.4h0M285.6 1308.6h0M245.4 1280.9h0M244.5 1228.5h0M242 1202.6h0M293.4 1192.4h0M277.9 1313.9h0M271.8 1272.7h0M281.9 1217h0M253.2 1258.3h0M214.1 1323.2h0M275.7 1279.9h0M269.4 1254.1h0M253.9 1238.6h0M264 1243.1h0M247 1224.6h0M308 1211.2h0M292.1 1205h0M261.5 1239h0M205.6 1313.5h0M233.2 1269h0M257.1 1220.1h0M249 1215.7h0M258.4 1214.2h0M291.3 1211.4h0M214.9 1309.5h0M340.2 1113.7h0M240.5 1227.1h0M236.3 1239h0M228.1 1298h0M225.3 1259.3h0M277.3 1197h0M271.6 1191.8h0M240.3 1131.4h0M247.6 1207.6h0M286.3 1280.9h0M250.5 1265.9h0M313.2 1246h0M263.8 1214.6h0M253.2 1261.9h0M275.8 1283.4h0M271.9 1200.6h0M233.6 1240.3h0M242.2 1221.6h0M253 1179.4h0M299 1193.3h0M262.6 1312.9h0M237.5 1287.5h0M320.1 1211.6h0M250.3 1313.9h0M267.4 1243.1h0M230.5 1258.2h0M280.6 1276.7h0M283.6 1193.4h0M225.5 1291.1h0M257 1260.2h0M247.1 1191.8h0M234.5 1294.1h0M251.1 1159h0M240.6 1247.4h0M267.7 1209.1h0M246.3 1288.5h0M243.8 1265.3h0M222.5 1251.9h0M233.2 1285.9h0M251.1 1298.2h0M218.3 1288.9h0M304.4 1240.4h0M288.2 1214.9h0M345.1 1162.7h0M296.5 1226h0M278.4 1239.4h0M301.2 1198.6h0M243.9 1255.8h0M284.1 1258.9h0M313.2 1222h0M286.3 1257.1h0M315.6 1244.7h0M258.3 1306.2h0M277.6 1271.4h0M251 1302.5h0M297.7 1240.9h0M219 1132.5h0M307.4 1216.9h0M261.6 1301.9h0M268.9 1287.8h0M289.7 1233.7h0M255.3 1299.3h0M306.5 1199.1h0M228 1256.1h0M236.8 1230.5h0M296.4 1275.9h0M273.3 1179.5h0M259.2 1284.7h0M265.5 1263h0M259.9 1268.9h0M213.4 1282.2h0M304.8 1245.9h0M274.1 1213.1h0M314.2 1235.8h0M285.1 1203.5h0M236.9 1254.2h0M215.1 1300.7h0M251 1287.9h0M231.4 1208.3h0M284.4 1246.8h0M280.5 1204.7h0M229.9 1284h0M223.1 1274.6h0M271.3 1303.1h0M251.8 1205.4h0M260.9 1197.9h0M267.7 1196.3h0M298.1 1213.2h0M295.2 1251.9h0M295.4 1257.9h0M229.4 1325.1h0M248.2 1303.4h0M305.4 1232.1h0M246.2 1323.8h0M249 1236.8h0M238.3 1277.7h0M231.5 1186.3h0M237.1 1316.2h0M265.7 1150.4h0M196.5 1322.5h0M287.8 1290.7h0M307.7 1228.7h0M267.8 1257h0M239.3 1290.8h0M275 1207.6h0M240.9 1218.5h0M270.5 1236.6h0M318.2 1215.9h0M253.3 1219.6h0M198.9 1320.8h0M213.4 1291.3h0M235.8 1307.6h0M253.7 1196h0M322.6 1248.8h0M210.9 1317.4h0M235 1279.9h0M240.5 1283.7h0M310.5 1237.9h0M249.1 1222.4h0M279.2 1243.1h0M223.9 1221.2h0M268.8 1215.2h0M243 1237.1h0M223.9 1184.7h0M265.7 1301h0M261.3 1264.6h0M300.3 1215.6h0M277.9 1295.3h0M229.2 1260.7h0M269.8 1212.4h0M260.7 1318.8h0M262.2 1230.4h0M250.4 1194.2h0M302.7 1264.9h0M319.5 1222.4h0M277.3 1286.2h0M275.8 1231h0M308.6 1254.6h0M242.7 1306.2h0M247.3 1271.2h0M322.1 1254.2h0M302.7 1287h0M213.6 1135.2h0M257.1 1205.1h0M234.2 1300.5h0M291 1291.5h0M282.3 1190.6h0M260.9 1308.3h0M227.5 1308.7h0M241.2 1296.6h0M247.8 1256h0M279.6 1179.2h0M217.9 1323.3h0M316.7 1225.5h0M223 1309.8h0M300.2 1238h0M289.7 1237.6h0M300.3 1205.6h0M293.1 1295.1h0M253.9 1322.2h0M277.3 1223.2h0M313.9 1205.6h0M271.6 1286.9h0M327 1091.4h0M280.4 1199.5h0M231.4 1303.6h0M243 1197.9h0M292 1254.8h0M300.4 1250.5h0M240.1 1309.8h0M301.3 1290.8h0M300.4 1256.5h0M294.1 1223.7h0M256.4 1290.9h0M278.8 1211.5h0M294 1292.1h0M217.1 1311.8h0M279.4 1319.1h0M226.1 1264.8h0M253.2 1274.2h0M235.2 1186.5h0M230.9 1244.8h0M229.5 1199.3h0M311.9 1197.5h0M221.6 1323h0M230.6 1267.6h0M251.9 1223.6h0M294.4 1088.5h0M236.6 1210.2h0M240.7 1205.2h0M305.5 1235.9h0M300.9 1242.7h0M289.4 1115.8h0M300.2 1222.1h0M297.7 1272.7h0M301.4 1282.2h0M311.4 1276.8h0M239.7 1197.3h0M242.8 1314.4h0M218.5 1318.9h0M216.4 1305.6h0M290.8 1218.5h0M273.9 1291h0M260.1 1192h0M291 1196.1h0M250.8 1170.2h0M293.9 1266.2h0M272.4 1281.4h0M204.1 1317.9h0M282.8 1308.7h0M238.3 1193.4h0M292.7 1198.8h0M267.6 1226.2h0M248.8 1259.3h0M306.5 1222.7h0M232.1 1263.5h0M264.7 1321.1h0M236.5 1251.1h0M262 1292.3h0M250.1 1273.7h0M262.6 1254.3h0M307.2 1277.4h0M214.6 1319.4h0M172.3 1225.2h0M283 1301.2h0M216.2 1190.4h0M254.9 1243.2h0M303.3 1227h0M228.7 1279.8h0M293 1232.7h0M244 1245h0M245.9 1274.5h0M237.5 1269.8h0M260.4 1174.1h0M258.1 1238.6h0M298 1284.2h0M251.7 1253.9h0M234.8 1227.9h0M236.4 1215.9h0M246.8 1241h0M235.4 1189.4h0M243.9 1190.7h0M286.3 1277.4h0M298.2 1127.8h0M225.4 1303.6h0M259.7 1159h0M264.5 1315.8h0M212.4 1311.7h0M234.1 1203.1h0M245.6 1247.4h0M177.5 1190.3h0M249.5 1182.4h0M351.9 1147.5h0M283.1 1250h0M314.2 1195.1h0M249.2 1188.4h0M237.4 1275h0M300.2 1201.5h0M316 1270.2h0M266.1 1181.7h0M286.3 1295.3h0M205.4 1329.4h0M350.5 1153.5h0M273.5 1260.1h0M251 1213.2h0M229.3 1275.6h0M296.4 1194.7h0M280.3 1250.4h0M200.7 1312.2h0M235.6 1325.9h0M271.3 1312.5h0M337.4 1143.5h0M226.7 1331.8h0M315.3 1230.6h0M303.2 1214.5h0M282.4 1202h0M219.8 1196.9h0M244.9 1286h0M322.7 1149h0M254.3 1175.4h0M234.5 1212.5h0M282.1 1269.6h0M225 1306.6h0M244.5 1298h0M263.5 1121.1h0M270.6 1230.7h0M294.3 1228.3h0M227.8 1246.9h0M254.2 1249h0M264.8 1194.8h0M272.9 1188.1h0M314.3 1201.1h0M289.5 1191.4h0M274.6 1192.5h0M258.1 1243.5h0M320.1 1261.5h0M275.7 1257.3h0M302.1 1269.3h0M237.3 1296h0M279.5 1228.5h0M295 1299.7h0M271.1 1266h0M305.8 1256.9h0M285.7 1217.6h0M303 1220.3h0M290.8 1223h0M225.9 1253.9h0M245.2 1268.7h0M236.2 1261.5h0M280.3 1194.1h0M205.1 1323h0M292.3 1284.2h0M248 1202.3h0M316.5 1207.7h0M266.8 1312.1h0M294.4 1218.2h0M298.5 1209.5h0M271.7 1256.2h0M299.6 1224.9h0M224.6 1188.9h0M313.4 1218h0M253.4 1325.3h0M232.8 1216.2h0M239.6 1236.9h0M287.5 1267h0M231.5 1248h0M237.4 1184.8h0M233.6 1180.5h0M311.5 1201.1h0M277.7 1316.9h0M297.8 1231.1h0M268.8 1234.3h0M243.1 1209h0M227.9 1220.9h0M230.3 1190.9h0M309.7 1264.7h0M285.6 1241.4h0M232.6 1297.4h0M313.8 1257.6h0M278.9 1267.6h0M229.9 1313.5h0M219.6 1293.9h0M255.3 1269.9h0M259.3 1316.3h0M261.4 1210.3h0M304.6 1196.1h0M277.5 1189.9h0M264.8 1105h0M267.6 1306.5h0M264.6 1185.1h0M232.3 1151.8h0M284.5 1214.2h0M261.8 1177.9h0M265 1309.7h0M322.1 1216h0M319.5 1198.7h0M227.4 1270.9h0M245.1 1329.9h0M222.5 1319.2h0M291.9 1247.6h0M256.2 1309h0M309.5 1259.2h0M280.3 1246.7h0M223.1 1286.4h0M249.2 1211.2h0M277.2 1291.5h0M273.7 1196.5h0M226.8 1217.8h0M304.9 1282.9h0M315.7 1259.6h0M312.2 1271.1h0M259.6 1289.5h0M237.4 1322.6h0M266.4 1211.9h0M286.2 1314.3h0M230.7 1219.6h0M248.1 1328.9h0M163.5 1175.7h0M278.5 1217.1h0M271.9 1209.8h0M207.9 1315.7h0M213.5 1295.7h0M286 1209h0M264.7 1271.8h0M342.3 1163.3h0M259.3 1223.3h0M274.7 1200.8h0M274.4 1223.3h0M223.5 1299.3h0M207.7 1331.5h0M282.1 1253.4h0M310 1205.7h0M286.8 1212.5h0M291.8 1251.9h0M240.1 1185.9h0M256.3 1304.3h0M234.7 1207.4h0M270.1 1323.4h0M219.3 1248.9h0M245 1204.2h0M251.7 1210.1h0M257 1272.9h0M213.1 1329.2h0M272.7 1278h0M265.9 1217.5h0M241.7 1258.3h0M271.1 1227.6h0M275.4 1218.1h0M278.6 1186.5h0M261.8 1182.2h0M279 1280.2h0M281.8 1224.1h0M213.7 1306.2h0M292.2 1288.8h0M256 1282.7h0M286.5 1250.9h0" fill="none" stroke="#3B5FD0" stroke-width="6.4" stroke-linecap="round"/>
<path d="M328.4 1178.8h0M322.8 1130.6h0M283.6 1112.7h0M316.6 1087.5h0M291.9 1154.3h0M291.2 1137.3h0M340.8 1172.2h0M335.7 1119.4h0M277.9 1151.8h0M292.1 1168h0M281.3 1169.5h0M276.2 1134.1h0M269.4 1175.8h0M301.6 1161.5h0M312.4 1098.4h0M293.3 1144.2h0M302.6 1189.7h0M286.3 1089.5h0M321 1128.4h0M283.7 1098.1h0M326.1 1185.4h0M298.5 1133.3h0M288.2 1118.8h0M288 1101.8h0M264.9 1159.5h0M263.9 1126.9h0M342.4 1133.2h0M321.8 1119.1h0M271.4 1103.4h0M297.8 1181.7h0M261.2 1153.8h0M301.7 1166.3h0M318 1187.9h0M327.1 1095.2h0M290.4 1181h0M284 1160h0M295 1139.3h0M322.4 1158h0M267.7 1166.1h0M336.8 1162.5h0M274 1156.3h0M326.6 1136.5h0M284.9 1177.7h0M298.3 1154.1h0M311.6 1181h0M289.4 1157.2h0M296.7 1092.9h0M310.1 1124.7h0M293.4 1133.5h0M264 1170.7h0M316.7 1164.4h0M343.1 1137.1h0M279 1096.2h0M290.1 1170.6h0M287.6 1110.2h0M275.6 1160h0M337.9 1132h0M295.6 1179.9h0M353.1 1127.1h0M334.2 1180.2h0M341.6 1139.7h0M282.7 1093.2h0M322.5 1165h0M330.1 1125.8h0M310.6 1173.4h0M322.4 1114.6h0M309.6 1097h0M251.6 1134.2h0M323.4 1106.9h0M338.2 1123.9h0M286.4 1152h0M286.7 1132.7h0M277 1175.2h0M301.2 1093.6h0M269 1109.6h0M273.7 1149.3h0M318.5 1102.7h0M346.5 1137h0M295.2 1130.3h0M307.6 1103h0M277.4 1122.9h0M259.1 1145.2h0M326.8 1110.4h0M258 1152.2h0M352.8 1136.6h0M300.5 1110h0M273.3 1140.7h0M296.3 1104.2h0M254.3 1142.1h0M305.7 1091.5h0M305.3 1179.7h0M312.4 1177.5h0M332.6 1134.4h0M316.1 1099.8h0M294.2 1183.6h0M307.4 1136h0M300 1185.7h0M319.6 1184.1h0M320.5 1155.7h0M331.7 1176.9h0M290.5 1132.7h0M265.5 1176.3h0M306.3 1183.4h0M320.7 1095.1h0M310.1 1150.1h0M307.4 1133.2h0M282.8 1164.5h0M297.8 1118.3h0M274 1098.8h0M309.9 1184.7h0M324.3 1155.7h0M313.5 1090.8h0M331.5 1185.7h0M311.6 1129.6h0M331.6 1088.4h0M314.9 1105.1h0M313.4 1145.2h0M276.1 1142.4h0M337.6 1135.3h0M317 1140.4h0M311.3 1169.5h0M283.5 1103.5h0M344.9 1122.2h0M330 1128.9h0M286.5 1147.9h0M316.6 1150.1h0M286.4 1122.7h0M317.9 1137.6h0M283.6 1171.5h0M308.6 1142h0M316.1 1093.1h0M281.8 1154.3h0M351.3 1141.4h0M272.7 1115.1h0M317.4 1129.5h0M342.4 1144.5h0M272.9 1125.3h0M338.7 1147.9h0M319.6 1147h0M268 1137.1h0M295.8 1175.5h0M329.5 1163.2h0M281.8 1177.4h0M316.1 1114h0M324.6 1096.7h0M304.1 1128.9h0M292.3 1161.2h0M288 1113.5h0M333.6 1137h0M331.7 1160.2h0M343.6 1129.6h0M329.7 1189.3h0M295.4 1190h0M302.9 1086.8h0M319.7 1080.2h0M319.4 1116.2h0M291.5 1107.7h0M314.5 1085.5h0M346.9 1142.9h0M249.8 1138.6h0M282 1132h0M264.6 1133.1h0M356.1 1132.7h0M281.8 1109.9h0M317.8 1155h0M305.1 1124.5h0M319.6 1075h0M314.2 1132.2h0M331.7 1122.5h0M350.4 1144.7h0M269.8 1161.2h0M332.3 1147.2h0M287.5 1175.8h0M346.2 1133h0M318.6 1089.8h0M328.6 1100.2h0M286 1136.9h0M316.5 1174.7h0M328.8 1120.9h0M307 1108.4h0M314.3 1123.1h0M309.9 1145.5h0M287.6 1104.5h0M296.4 1163.5h0M311.6 1101.2h0M304.4 1175.4h0M264.1 1139.2h0M293.6 1177.3h0M278.2 1138.7h0M306.1 1190.1h0M328.4 1084.1h0M344.2 1173.4h0M294.9 1169.9h0M328.7 1147h0M277.1 1131.5h0M323.1 1110.4h0M339.7 1154.2h0M277.4 1111.1h0M301.8 1148h0M354.5 1144.9h0M334.4 1154.3h0M257.2 1126.4h0M308.9 1116.1h0M324.7 1175.4h0M318.5 1111.8h0M301.6 1123.6h0M309.9 1090.8h0M307.4 1176.7h0M310.8 1109.8h0M254.1 1159.7h0M280.5 1146.2h0M282.3 1127.3h0M328.2 1132.6h0M319.1 1097.8h0M335.8 1146.3h0M316.2 1160.8h0M299.2 1138.2h0M290.1 1149.8h0M273.2 1119.5h0M339.3 1158.9h0M278.8 1163.3h0M327.8 1159.8h0M335.7 1184h0M317.7 1193.7h0M331.6 1139.1h0M267.9 1118.6h0M325.6 1114.5h0M269.7 1168.2h0M325.4 1168.4h0M332.9 1096.4h0M301.2 1150.7h0M272.3 1170.6h0M273.5 1129.9h0M294.2 1085.2h0M332.7 1114.8h0M303.8 1121.5h0M327.2 1129.2h0M275.1 1113.3h0M308.9 1156h0M267.1 1140.4h0M296.7 1149.3h0M297.1 1186.7h0M323.7 1136.2h0M252.7 1139.2h0M269.9 1127.6h0M277.9 1170.7h0M268.6 1154.6h0M246 1155.5h0M310.2 1138h0M278.5 1105.2h0M321.5 1092.3h0M248.7 1144.4h0M319.6 1161.7h0M270.2 1117h0M300.9 1180h0M257.9 1135h0" fill="none" stroke="#E60000" stroke-width="6.4" stroke-linecap="round"/>
<rect x="41.2" y="1039.2" width="345.2" height="311.2" fill="none" stroke="#000" stroke-width="2.7"/>
<circle cx="59.2" cy="1061.6" r="9.3" fill="#151515"/>
<text x="72.2" y="1072.2" font-size="30.6" font-weight="normal" stroke="#000" stroke-width="1.4" stroke-linejoin="round">Trm1</text>
<circle cx="59.2" cy="1096.2" r="9.3" fill="#3B5FD0"/>
<text x="72.2" y="1106.8" font-size="30.6" font-weight="normal" stroke="#000" stroke-width="1.4" stroke-linejoin="round">Trm2</text>
<circle cx="59.2" cy="1130.8" r="9.3" fill="#E60000"/>
<text x="72.2" y="1141.4" font-size="30.6" font-weight="normal" stroke="#000" stroke-width="1.4" stroke-linejoin="round">Trm3</text>
<path d="M613 1262.1h0M733.4 1177.4h0M711.9 1200.9h0M566.6 1255.7h0M536.8 1268.6h0M682 1300.4h0M538.6 1177.9h0M578.1 1179.1h0M691.9 1271.3h0M600.5 1152.4h0M727.8 1129.2h0M723.1 1229.8h0M535.9 1199.6h0M518 1171.3h0M678.1 1297.6h0M537 1251h0M520.7 1255.6h0M500.7 1282.1h0M603.1 1327.1h0M516.4 1244.4h0M533.6 1171.7h0M541.7 1162.6h0M708.2 1222.3h0M634.4 1317.5h0M688.6 1111.3h0M659.6 1226.7h0M634.4 1152h0M660.7 1234.6h0M567.8 1263.3h0M718.2 1282.8h0M646.5 1187.7h0M680.2 1303.2h0M592.1 1268.6h0M700.4 1268.5h0M620.6 1282.8h0M551 1263.4h0M721.6 1086.1h0M527.7 1297.6h0M582 1192.4h0M619.3 1155.1h0M529.4 1256h0M516.9 1219.9h0M506.9 1227.5h0M513.1 1168.8h0M605.9 1278.2h0M698.2 1307.6h0M580.3 1238h0M696.9 1152.9h0M545.9 1275.8h0M598.8 1192.7h0M533.2 1240h0M587.1 1241.6h0M626.8 1241.9h0M623.1 1191.6h0M548.6 1206.3h0M663.4 1253.4h0M532.3 1272.5h0M696.2 1135.9h0M700.8 1246.9h0M525.6 1258.3h0M505.5 1269.3h0M562.5 1307.2h0M745.8 1170.8h0M515 1178h0M573.5 1287.5h0M526.6 1281h0M680.1 1265.5h0M712 1248h0M484.4 1232.4h0M599.6 1180.1h0M557.2 1163.9h0M616.5 1248.5h0M740.7 1118h0M611.9 1233.6h0M695.7 1267.3h0M500.9 1195.9h0M629.3 1247.9h0M670.7 1244.6h0M660.4 1198.2h0M672.7 1247.4h0M682.9 1150.4h0M657 1279.3h0M559.1 1189.1h0M523.3 1277.5h0M590.8 1178h0M581.3 1178.7h0M576.1 1230.8h0M689.7 1226.8h0M596.7 1235.2h0M620.6 1261.9h0M719.8 1238.6h0M697.1 1166.6h0M617 1226.1h0M686.3 1168.1h0M683.8 1306.5h0M522 1290.1h0M580.9 1207.6h0M623.9 1211.4h0M694.6 1276.6h0M518.2 1299.2h0M547.2 1185h0M574.3 1225.3h0M500.4 1260.9h0M612 1302.6h0M499.8 1242.3h0M694.5 1207.3h0M681.2 1132.7h0M556.8 1249.1h0M674.4 1174.4h0M588.5 1186.6h0M511.2 1245.7h0M619.7 1222.8h0M517.8 1190.8h0M592.4 1260.1h0M595.5 1184.8h0M570.3 1220.9h0M628.6 1292h0M654.4 1321.6h0M624.3 1266.2h0M676.5 1307h0M540.6 1240.2h0M706.6 1160.1h0M655.6 1267.7h0M663 1184.8h0M563.7 1202h0M633.3 1236.1h0M663.2 1111.8h0M592.3 1309.1h0M569.7 1276.4h0M604.5 1271.4h0M625.8 1269.8h0M559.5 1250.9h0M717.4 1097h0M704.3 1295.4h0M717.3 1226.8h0M565.3 1303h0M698.3 1142.8h0M709.5 1205.6h0M535 1189.2h0M692.3 1244.9h0M671.7 1281.8h0M588.5 1258.6h0M678.6 1250.1h0M575.5 1247.1h0M491.5 1240.2h0M693.1 1187.1h0M540.1 1289.6h0M550.5 1196.7h0M527.3 1207.4h0M707.6 1188.3h0M639.8 1272h0M713.8 1269.4h0M638.4 1310.4h0M529.7 1168.5h0M516.3 1259.8h0M602.7 1163.4h0M557.7 1198.9h0M627.1 1231.5h0M529.6 1299.7h0M691.3 1088.1h0M649.5 1151.3h0M586.8 1231.2h0M657.9 1244.1h0M642.9 1241.7h0M651.6 1292h0M614.7 1191.7h0M587 1201.2h0M562.4 1314.7h0M690.6 1307.2h0M554.8 1315.8h0M726 1127h0M650.4 1279.5h0M649.5 1227.1h0M647 1201.2h0M562.1 1280h0M567.2 1193.2h0M698.4 1191h0M574.1 1283.4h0M507 1285.2h0M688.7 1096.7h0M557.4 1295.6h0M600.4 1305.9h0M731.1 1184h0M703.5 1131.9h0M502.9 1235.8h0M530.2 1243.4h0M520.4 1280.5h0M682.9 1312.5h0M676.8 1271.3h0M589.3 1316h0M737 1170h0M504.4 1188.1h0M686.9 1215.6h0M575.2 1187.6h0M581.3 1287.5h0M539 1252.9h0M579 1245.6h0M693.2 1117.4h0M658.2 1256.9h0M549.3 1151.4h0M619.1 1321.8h0M576.8 1253.5h0M680.7 1278.5h0M612.6 1299.1h0M693 1100.4h0M623 1227.6h0M669.9 1158.1h0M668.9 1125.5h0M512 1180.5h0M566.5 1307.3h0M747.4 1131.8h0M674.4 1252.7h0M658.9 1237.2h0M620.4 1195.2h0M669 1241.7h0M652 1223.2h0M561.5 1203.7h0M590.7 1192.5h0M726.8 1117.7h0M713 1209.8h0M676.4 1102h0M617.1 1217.2h0M702.8 1180.3h0M513 1172.3h0M577.4 1195.4h0M547.8 1271.5h0M603.2 1285.6h0M697.1 1203.6h0M586.6 1253h0M666.2 1152.4h0M574.4 1301.2h0M625.7 1214.5h0M666.5 1237.6h0M498.9 1221.5h0M610.6 1312.1h0M638.2 1267.6h0M508.9 1242.3h0M596.7 1320.2h0M567.8 1298.5h0M519.2 1295.4h0M635.4 1123.2h0M596.1 1292.1h0M554.5 1162.3h0M662.1 1218.7h0M603.5 1307.9h0M654 1214.3h0M706.7 1164.9h0M663.4 1212.8h0M723 1186.5h0M696.3 1210h0M619.9 1308.1h0M745.2 1112.3h0M500 1256.7h0M732.1 1093.8h0M645.5 1225.7h0M641.3 1237.6h0M491 1188.7h0M633.1 1296.6h0M498.4 1244.9h0M531.1 1217.8h0M695.4 1179.6h0M532.9 1281.4h0M630.3 1257.9h0M689 1158.6h0M602.8 1195.3h0M511.2 1277.8h0M559.5 1262.4h0M682.3 1195.6h0M700 1137.9h0M676.6 1190.4h0M506.5 1250.3h0M601 1260.2h0M506.1 1278.6h0M586.6 1157.5h0M645.3 1130h0M496.2 1182.8h0M559.3 1215.4h0M565.9 1295.4h0M551.7 1302.3h0M652.6 1206.2h0M514.4 1285.7h0M544.7 1288.1h0M691.3 1279.5h0M727.4 1156.6h0M672.7 1164.7h0M741.8 1161.1h0M507 1214h0M655.5 1264.5h0M590 1196.9h0M718.2 1244.6h0M679 1154.9h0M576.9 1292.8h0M731.6 1135.1h0M668.8 1213.2h0M658.2 1260.5h0M680.8 1282h0M676.9 1199.2h0M638.6 1238.9h0M496.8 1211.2h0M494.4 1226.2h0M499.1 1271.5h0M570.4 1285.9h0M602.2 1251h0M647.2 1220.2h0M488.8 1190.6h0M658 1178h0M633.3 1169.3h0M605 1281.4h0M704 1191.9h0M593.4 1224.2h0M689.9 1176.3h0M667.6 1311.5h0M642.5 1286.1h0M725.1 1210.2h0M703.3 1152.7h0M517.5 1236.3h0M578.5 1286.9h0M605.1 1204.1h0M655.3 1312.5h0M672.4 1241.7h0M635.5 1256.8h0M560.8 1166.7h0M685.6 1275.3h0M506.9 1263.6h0M557.1 1275.2h0M716.6 1179.6h0M688.6 1192h0M630.5 1289.7h0M662 1258.8h0M652.1 1190.4h0M639.5 1292.7h0M584.1 1142.4h0M656.1 1157.6h0M518.9 1286.6h0M580.6 1302.9h0M575.3 1318.3h0M694.4 1155.8h0M701.7 1091.5h0M538.9 1199.2h0M537.7 1271.5h0M719.5 1189.1h0M500.7 1186.8h0M645.6 1246h0M591.1 1294.6h0M583.7 1279.6h0M672.7 1207.7h0M715.1 1123.3h0M651.3 1287.1h0M508.5 1230.1h0M698.4 1132.1h0M648.8 1263.9h0M515.3 1271.6h0M528.6 1232.8h0M507.2 1199.3h0M627.5 1250.5h0M538.7 1210.8h0M669 1169.3h0M638.2 1284.5h0M656.1 1296.8h0M623.3 1287.5h0M721.7 1163h0M709.4 1239h0M569.1 1281.3h0M554.8 1158.5h0M603.5 1145.6h0M511.9 1250.3h0M547.6 1211h0M693.2 1213.5h0M503.4 1240.7h0M748.1 1135.7h0M750.1 1161.3h0M575.4 1210.4h0M505.5 1216.8h0M701.5 1224.6h0M506.7 1293h0M684 1094.8h0M577.6 1237.1h0M553.3 1245.9h0M538.3 1202.3h0M541.2 1203.8h0M586.5 1206.7h0M695.1 1169.2h0M683.4 1238h0M624 1253.7h0M692.6 1108.8h0M680.6 1158.6h0M494.6 1230.6h0M541.5 1298h0M706.2 1197.2h0M742.9 1130.6h0M560.4 1277.7h0M648.9 1254.4h0M689.1 1257.5h0M718.2 1220.6h0M691.3 1255.7h0M720.6 1243.3h0M545.6 1223.8h0M700.6 1178.5h0M509.9 1176h0M517.5 1274.8h0M663.3 1304.8h0M574 1294.3h0M595.2 1277.6h0M682.6 1270h0M592.6 1274.1h0M517.3 1289.7h0M656 1301.1h0M702.7 1239.5h0M758.1 1125.7h0M739.2 1178.8h0M624 1131.1h0M746.6 1138.3h0M645.9 1158.6h0M575.3 1242h0M712.4 1215.5h0M666.6 1300.5h0M543.2 1178.3h0M673.9 1286.4h0M490.7 1236.5h0M529.9 1203h0M593 1213.5h0M687.7 1091.8h0M727.5 1163.6h0M507.6 1195.8h0M539.3 1255.7h0M532.9 1258.4h0M512 1215.3h0M558 1281.5h0M694.7 1232.3h0M660.3 1297.9h0M735.1 1124.4h0M715.6 1172h0M597.2 1302.3h0M571.7 1269.9h0M485.1 1214.1h0M533.7 1222.5h0M711.5 1197.7h0M563.9 1183.8h0M633 1254.7h0M531.3 1152.6h0M727.4 1113.2h0M641.8 1229.1h0M569.2 1212.7h0M714.6 1095.6h0M598.3 1326.7h0M534 1276h0M564.9 1292.3h0M581.4 1218.7h0M656.6 1132.8h0M701.4 1274.5h0M678.3 1178.1h0M728.4 1105.5h0M743.2 1122.5h0M673.4 1292.1h0M504 1247h0M533 1293.7h0M664.2 1283.3h0M670.5 1261.6h0M496.6 1274.6h0M664.9 1267.5h0M618.4 1280.8h0M691.4 1150.6h0M709.8 1244.5h0M511 1165.3h0M679.1 1211.7h0M719.2 1234.4h0M500.1 1209.5h0M635.7 1177.3h0M614.4 1155.2h0M572.4 1303.9h0M690.1 1202.1h0M598.5 1275.8h0M601.6 1189.2h0M524 1284.7h0M641.9 1252.8h0M691.7 1131.3h0M620.1 1299.3h0M656 1286.5h0M682 1173.8h0M636.4 1206.9h0M689.4 1245.4h0M594 1281.1h0M706.2 1092.2h0M685.5 1203.3h0M634.9 1282.6h0M628.1 1273.2h0M508.2 1179.8h0M676.3 1301.7h0M579.2 1265.4h0M674 1108.2h0M575.6 1180.5h0M656.8 1204h0M614.3 1246.8h0M520.5 1195.1h0M665.9 1196.5h0M672.7 1194.9h0M533 1161.8h0M678.7 1147.9h0M703.1 1211.8h0M700.2 1250.5h0M700.4 1256.5h0M634.4 1323.7h0M653.2 1302h0M499.6 1182.5h0M500.1 1224.7h0M710.4 1230.7h0M651.2 1322.4h0M654 1235.4h0M514.2 1160h0M589.3 1328.8h0M643.3 1276.3h0M636.5 1184.9h0M642.1 1314.8h0M592.9 1207.5h0M616.2 1137.8h0M550.5 1230.7h0M723.5 1101.3h0M670.7 1149h0M513.4 1259.6h0M621.8 1143.9h0M547.7 1180.7h0M636.4 1224.7h0M601.4 1149.2h0M600.1 1186.6h0M601.5 1321.1h0M751.5 1135.6h0M570.3 1240.4h0M579.1 1198.3h0M510.1 1282.4h0M700.2 1128.9h0M586.9 1193.9h0M692.8 1289.3h0M595.3 1288.5h0M712.7 1227.3h0M672.8 1255.6h0M610.7 1194.9h0M712.6 1101.6h0M682.4 1121.5h0M644.3 1289.4h0M624.6 1200.4h0M521 1267.2h0M618.8 1251.6h0M664.1 1143.8h0M680 1206.2h0M645.9 1217.1h0M731.8 1109h0M517.4 1215.4h0M607.1 1252.5h0M675.5 1235.2h0M601.3 1207.4h0M663 1150.8h0M757.8 1135.2h0M723.2 1214.5h0M658.3 1218.2h0M603.9 1319.4h0M618.4 1289.9h0M500.7 1174h0M640.8 1306.2h0M658.7 1194.6h0M540.5 1271h0M727.6 1247.4h0M615.9 1316h0M640 1278.5h0M633.1 1182.5h0M645.5 1282.3h0M585.1 1222.5h0M596.7 1198.2h0M602.5 1313.7h0M498.8 1177.7h0M529.9 1220.8h0M611.4 1294.9h0M705.5 1108.6h0M560.4 1185.2h0M577.4 1321.4h0M715.5 1236.5h0M654.1 1221h0M550.6 1258.1h0M591.4 1255.7h0M650.6 1250.2h0M684.2 1241.7h0M678.3 1139.3h0M701.3 1102.8h0M575.6 1154.9h0M659.3 1140.7h0M580.9 1232.6h0M710.7 1090.1h0M628.9 1219.8h0M710.3 1178.3h0M587.1 1178.4h0M673.8 1213.8h0M717.4 1176.1h0M648 1235.7h0M628.9 1183.3h0M617.7 1256.3h0M523.3 1177.9h0M670.7 1299.6h0M560.2 1304h0M535 1304h0M512.9 1273.7h0M666.3 1263.2h0M579.4 1277.9h0M705.3 1214.2h0M737.6 1133h0M609.6 1256.4h0M496.4 1239.1h0M721.1 1098.4h0M682.9 1293.9h0M699.2 1182.2h0M634.2 1259.3h0M621.8 1172.2h0M564 1174.5h0M503.7 1284.3h0M674.8 1211h0M665.7 1317.4h0M712.4 1134.6h0M540.2 1193.1h0M587.9 1325.6h0M592.8 1218.2h0M589.3 1234.5h0M554.8 1241.9h0M597.2 1214.5h0M568.2 1225.7h0M667.2 1229h0M705 1184.3h0M724.6 1182.7h0M725.5 1154.3h0M655.4 1192.8h0M584.2 1295.1h0M736.7 1175.5h0M546.5 1262.3h0M707.7 1263.5h0M695.5 1131.3h0M616.1 1233.1h0M556.8 1146.5h0M670.5 1174.9h0M562 1271.7h0M724.5 1221h0M711.3 1182h0M725.7 1093.7h0M606.6 1326.9h0M544.3 1241.8h0M690 1104.7h0M581.5 1143.6h0M682.3 1284.8h0M586.2 1267.7h0M542.7 1256.4h0M680.8 1229.6h0M713.6 1253.2h0M647.7 1304.8h0M652.3 1269.8h0M492.8 1276.7h0M540.9 1195.9h0M727.1 1252.8h0M707.7 1285.6h0M590 1209.3h0M618.6 1133.8h0M662.1 1203.7h0M639.2 1299.1h0M696 1290.1h0M715.1 1148.7h0M614.1 1273h0M524.2 1212.5h0M518 1229.2h0M607.5 1225.4h0M559 1177.3h0M577 1204.7h0M712.4 1131.8h0M598.1 1231.5h0M687.3 1189.2h0M687.8 1163.1h0M547.4 1200.1h0M665.9 1306.9h0M588.8 1223.4h0M592.9 1291.6h0M593.9 1271.7h0M528.9 1270.9h0M632.5 1307.3h0M646.2 1295.2h0M565.1 1298.9h0M702.8 1116.9h0M652.8 1254.6h0M539 1307.8h0M546.9 1297.6h0M540.8 1167.6h0M553.6 1188.1h0M530.4 1199.5h0M679 1097.4h0M532.2 1204.8h0M684.6 1177.8h0M586.5 1213.8h0M714.9 1183.3h0M575 1276.8h0M536.3 1301h0M622.9 1321.9h0M547.8 1235.7h0M564.9 1206h0M721.7 1224.1h0M496.9 1203.8h0M510.5 1294h0M580.3 1322.7h0M582.3 1269.2h0M585.7 1244.9h0M628 1308.4h0M729.3 1154.3h0M548.8 1192.8h0M705.2 1236.6h0M718.5 1089.4h0M736.5 1184.3h0M694.7 1236.2h0M538.2 1164.5h0M610.1 1261.3h0M705.3 1204.2h0M698.1 1293.7h0M658.9 1320.8h0M682.3 1221.8h0M625 1179.8h0M517.6 1212.3h0M504.5 1261.2h0M716.6 1128.2h0M718.9 1204.2h0M526.1 1244.1h0M570.6 1255.4h0M736.6 1087h0M719.9 1103.7h0M718.4 1143.8h0M681.1 1141h0M580.2 1213.2h0M522.1 1192.5h0M557.1 1304.1h0M676.6 1285.5h0M524.4 1272.9h0M732 1090h0M626.4 1159.2h0M581.5 1273.3h0M742.6 1133.9h0M722 1139h0M623.2 1271.4h0M567.3 1316.6h0M685.4 1198.1h0M716.3 1168.1h0M636.4 1302.2h0M593.6 1190h0M526.2 1266.6h0M559.1 1271.3h0M688.5 1102.1h0M749.9 1120.8h0M648 1196.5h0M697 1253.4h0M705.4 1249.1h0M614.1 1224h0M523.5 1224.5h0M606.7 1301.9h0M566.7 1146h0M645.1 1308.4h0M612.6 1291.8h0M706.3 1289.4h0M705.4 1255.1h0M513.1 1243.2h0M699.1 1222.3h0M522.9 1258h0M735 1127.5h0M552.4 1202.1h0M513 1253.9h0M626.3 1207.7h0M661.4 1289.5h0M683.8 1210.1h0M500.6 1229.8h0M525.7 1253.9h0M504.3 1219.3h0M691.5 1146.5h0M599.7 1241.3h0M575.7 1201.1h0M510.8 1258.6h0M699 1290.7h0M549.8 1243.2h0M505.5 1207.9h0M622.1 1310.4h0M684.4 1317.7h0M569.1 1248.3h0M721.6 1148.7h0M552.8 1271.3h0M514.3 1300.1h0M631.1 1263.4h0M691.4 1121.3h0M658.2 1272.8h0M722.9 1136.2h0M688.6 1170.1h0M572.2 1291.4h0M640.2 1185.1h0M525.2 1165.7h0M553.2 1236.4h0M521.4 1187.2h0M550.8 1146.5h0M538.7 1184.2h0M533.2 1225.6h0M713.6 1140.6h0M539.6 1267.5h0M577.2 1289.4h0M635.9 1243.4h0M634.5 1197.9h0M716.9 1196.1h0M491.9 1198.8h0M619.1 1230.2h0M626.6 1321.6h0M635.6 1266.2h0M579.9 1300h0M656.9 1222.2h0M699.4 1087.1h0M605.9 1322.8h0M621.6 1249.1h0M721.1 1091.7h0M641.6 1208.8h0M488.7 1246.7h0M686.8 1152.9h0M645.7 1203.8h0M578.7 1187.3h0M604.2 1275.8h0M756.3 1140h0M529.3 1277.4h0M710.5 1234.5h0M705.9 1241.3h0M694.4 1114.4h0M609.7 1307.3h0M527.1 1220.2h0M528 1240.1h0M705.2 1220.7h0M702.7 1271.3h0M512.9 1288.2h0M597.2 1295.4h0M706.4 1280.8h0M555.6 1226.4h0M707.3 1181h0M677.7 1113.7h0M513 1230.3h0M495 1208.4h0M716.4 1275.4h0M722.4 1128.1h0M644.7 1195.9h0M647.8 1313h0M623.5 1317.5h0M493.3 1248.1h0M621.4 1304.2h0M526.3 1276.6h0M637 1160.9h0M695.8 1217.1h0M747.4 1143.1h0M574.4 1235.3h0M677.9 1123.9h0M743.7 1146.5h0M678.9 1289.6h0M593.3 1228.7h0M494.1 1234.2h0M665.1 1190.6h0M523.2 1239.5h0M696 1194.7h0M655.8 1168.8h0M542.6 1290.5h0M564.4 1209.5h0M698.9 1264.8h0M677.4 1280h0M599.2 1135.1h0M544.4 1310.6h0M606.4 1217.3h0M617.5 1189.1h0M609.1 1316.5h0M587.3 1210.6h0M609.2 1219.4h0M724.6 1145.6h0M608.8 1239.9h0M598.5 1206.4h0M673 1135.7h0M687.8 1307.3h0M619.6 1179.9h0M643.3 1192h0M552.5 1179.7h0M617.3 1141.6h0M547.9 1305.8h0M700.8 1174.1h0M697.7 1197.4h0M557.7 1318.9h0M672.6 1224.8h0M531.1 1288h0M734.5 1161.8h0M686.8 1176h0M548.5 1154.4h0M583.3 1292.3h0M557.7 1242.7h0M555 1306.4h0M587.9 1305.1h0M721.1 1112.6h0M653.8 1257.9h0M729.6 1095.3h0M709.1 1127.5h0M697.3 1159.8h0M491.1 1194.5h0M711.5 1221.3h0M494.9 1216.1h0M551.3 1278.6h0M637.1 1262.1h0M669.7 1319.7h0M600.2 1167.5h0M536.5 1208.9h0M606.5 1192.7h0M693 1112.1h0M716.1 1079.7h0M738.6 1135.6h0M736.7 1158.8h0M635.4 1158.3h0M641.5 1249.7h0M556.5 1298.7h0M587.2 1279.6h0M667 1290.9h0M623 1238.3h0M655.1 1272.3h0M667.6 1252.9h0M712.2 1276h0M542.1 1214h0M619.6 1318h0M608.6 1205.4h0M577.3 1223.8h0M688 1299.8h0M621.2 1189h0M748.6 1128.2h0M659.9 1241.8h0M552.2 1298.3h0M708.3 1225.6h0M513.4 1187.8h0M612.7 1185.2h0M495.7 1262h0M734.7 1187.9h0M633.7 1278.4h0M698 1231.3h0M621.6 1208.9h0M649 1243.6h0M650.9 1273.1h0M642.5 1268.4h0M665.4 1172.7h0M663.1 1237.2h0M515.5 1193.5h0M703 1282.8h0M491.3 1256.6h0M700.4 1188.6h0M556.1 1194.8h0M707.9 1085.4h0M656.7 1252.5h0M724.7 1078.8h0M590.4 1251.5h0M571.4 1300h0M543.8 1200.4h0M534.4 1230.7h0M639.8 1226.5h0M556.1 1184.3h0M641.4 1214.5h0M595.5 1181.1h0M651.8 1239.6h0M555.7 1150.2h0M640.4 1188h0M648.9 1189.3h0M691.3 1276h0M703.2 1126.4h0M724.4 1114.8h0M630.4 1302.2h0M515.6 1204.9h0M561.6 1295.6h0M664.7 1157.6h0M569.9 1323.8h0M669.5 1314.4h0M617.4 1310.3h0M639.1 1201.7h0M610.4 1265.8h0M650.6 1246h0M582.5 1188.9h0M523.2 1251.6h0M654.5 1181h0M756.9 1146.1h0M518.2 1305.1h0M688.1 1248.6h0M696.5 1106.3h0M719.5 1084.1h0M559.6 1240.4h0M719.2 1193.7h0M572.1 1142.1h0M542.1 1313.5h0M541.3 1158.4h0M654.2 1187h0M583.6 1321h0M751.9 1141.5h0M493.9 1187.8h0M654.8 1137.2h0M597.3 1239.2h0M585.4 1182.8h0M687 1130.6h0M642.4 1273.6h0M705.2 1200.1h0M614.8 1240.3h0M721 1268.8h0M669.6 1131.7h0M502.3 1270.1h0M571.7 1231.6h0M761.1 1131.3h0M686.8 1108.5h0M671.1 1180.3h0M691.3 1293.9h0M610.4 1328h0M755.5 1152.1h0M560.3 1159.8h0M678.5 1258.7h0M722.8 1153.6h0M656 1211.8h0M710.1 1123.1h0M523.3 1208.6h0M634.3 1274.2h0M610 1214.3h0M724.6 1073.6h0M619.8 1278h0M719.2 1130.8h0M701.4 1193.3h0M685.3 1249h0M522 1294.2h0M492.9 1242.9h0M609.3 1208.8h0M519.4 1259.3h0M542.5 1277.8h0M605.7 1310.8h0M570.7 1178h0M513 1265.1h0M547.1 1188.8h0M640.6 1324.5h0M562.4 1323h0M676.3 1311.1h0M742.4 1142.1h0M598.4 1252.2h0M736.7 1121.1h0M631.7 1330.4h0M720.3 1229.2h0M522.4 1297.4h0M547.9 1161.9h0M708.2 1213.1h0M755.4 1143.3h0M687.4 1200.6h0M624.8 1195.5h0M649.9 1284.6h0M624.5 1185.8h0M674.8 1159.8h0M602.9 1279.6h0M737.3 1145.8h0M561.3 1242.9h0M602.6 1245.2h0M592.7 1301.1h0M585.1 1136.9h0M692.5 1174.4h0M566.2 1230.5h0M612.1 1190.3h0M751.2 1131.6h0M523.9 1301.5h0M523.1 1196.4h0M727.7 1147.6h0M536.9 1241.1h0M552.6 1291h0M521.8 1171.8h0M504.7 1287.6h0M645.8 1279.1h0M558.3 1257.8h0M659.3 1174h0M550.9 1287.3h0M532.7 1209.8h0M594.3 1171.5h0M639.5 1211.1h0M687.1 1268.2h0M630 1305.2h0M510.2 1253.3h0M649.5 1296.6h0M723.6 1088.4h0M590.3 1189.5h0M733.6 1098.8h0M498.3 1213.5h0M600.7 1266.4h0M525.2 1162.9h0M668.5 1119.7h0M691 1135.5h0M721.5 1173.3h0M568.1 1283.9h0M544.8 1214.8h0M675.6 1229.3h0M495.9 1246.8h0M733.8 1119.5h0M525.7 1293.9h0M699.3 1226.9h0M576.6 1191h0M559.7 1265.5h0M544.1 1246.3h0M569.5 1198h0M712 1107h0M632.8 1245.5h0M549.9 1188h0M536.6 1286.7h0M571.8 1310.5h0M578.3 1249.9h0M659.2 1247.6h0M669.8 1193.4h0M677.9 1186.7h0M719.3 1121.7h0M533.3 1192.8h0M615.7 1182.7h0M584.4 1314.8h0M719.3 1199.7h0M551.7 1228h0M605.8 1221.9h0M694.5 1190h0M550.3 1266.4h0M714.9 1144.1h0M692.6 1103.1h0M628 1198.5h0M679.6 1191.1h0M663.1 1242.1h0M539.6 1233.9h0M725.1 1260.1h0M680.7 1255.9h0M707.1 1267.9h0M642.3 1294.6h0M701.4 1162.1h0M514.8 1293.6h0M585.8 1170h0M534.6 1256.2h0M684.5 1227.1h0M578.8 1316.8h0M716.6 1099.8h0M496.5 1268.4h0M709.4 1174h0M528.4 1252.5h0M700 1298.3h0M574.8 1310.9h0M676.1 1264.6h0M710.8 1255.5h0M690.7 1216.2h0M708 1218.9h0M607 1295.5h0M556.4 1191.4h0M669.1 1137.8h0M695.8 1221.6h0M564 1268.4h0M630.9 1252.5h0M581.8 1327.7h0M615.2 1199.3h0M650.2 1267.3h0M553.7 1264.4h0M641.2 1260.1h0M580.4 1256.6h0M556.2 1180.5h0M621.5 1212.7h0M578.9 1295.6h0M523.5 1310.2h0M540.5 1280.3h0M698.6 1175.9h0M685.3 1192.7h0M610.1 1321.6h0M712.8 1119.7h0M581.8 1173.4h0M613.5 1259.3h0M711.3 1265.4h0M697.3 1282.8h0M517.2 1165.8h0M577.6 1312.7h0M653 1200.9h0M504.6 1272.6h0M634.5 1128.9h0M536.4 1152.8h0M683.2 1137.3h0M721.5 1206.3h0M711.1 1188.7h0M526.2 1249.3h0M593 1160.9h0M671.8 1310.7h0M590.9 1312.8h0M699.4 1216.8h0M733.4 1082.7h0M749.2 1172h0M622.8 1181.5h0M699.9 1168.5h0M733.7 1145.6h0M550.7 1248.9h0M703.5 1208.1h0M563.7 1167.3h0M676.7 1254.8h0M560.2 1197h0M551.5 1165.1h0M580.8 1281.4h0M579.6 1228.5h0M570.2 1272.7h0M682.1 1130.1h0M704.6 1223.5h0M553.6 1208.4h0M629.6 1187.5h0M728.1 1109h0M602 1256.1h0M560.2 1311.7h0M744.7 1152.8h0M718.4 1216.6h0M658.4 1323.9h0M682.4 1109.7h0M706.8 1146.6h0M630 1132.2h0M759.5 1143.5h0M637.8 1214.8h0M739.4 1152.9h0M644.6 1235.5h0M692.5 1265.6h0M636.5 1246.6h0M603 1225h0M581.2 1147.6h0M542.1 1171.6h0M592.4 1199.8h0M555.2 1232.5h0M662.2 1125h0M713.9 1114.7h0M625.1 1221.8h0M729.7 1174h0M642.4 1183.4h0M638.6 1179.1h0M716.5 1199.7h0M565.5 1159.5h0M682.7 1315.5h0M509.1 1296.6h0M723.5 1110.4h0M542.3 1264.7h0M706.6 1122.2h0M523.8 1218.3h0M702.8 1229.7h0M581.6 1184.9h0M621.6 1184.7h0M714.9 1089.4h0M673.8 1232.9h0M648.1 1207.6h0M609.9 1274.6h0M632.9 1219.5h0M567 1208.4h0M546.5 1208h0M496.3 1175h0M566 1270.2h0M640.1 1158h0M529 1266.5h0M712.4 1175.3h0M592.6 1315.7h0M566.3 1164.1h0M715.8 1108.4h0M659.1 1158.3h0M635.3 1189.5h0M685.5 1144.8h0M714.7 1263.3h0M687.3 1125.9h0M480.2 1218.8h0M592.2 1283.8h0M690.6 1240h0M618.5 1259.6h0M733.2 1131.2h0M637.6 1296h0M724.1 1096.4h0M718.8 1256.2h0M740.8 1144.9h0M683.9 1266.2h0M565.6 1189.6h0M565 1312.9h0M584.8 1289.3h0M534.6 1176.4h0M634.9 1312.1h0M532.9 1310.6h0M608.2 1186.9h0M624.6 1292.5h0M660.3 1268.5h0M574.9 1279.6h0M664.3 1314.9h0M721.2 1159.4h0M666.4 1208.9h0M558.7 1173.2h0M709.6 1194.7h0M682.5 1188.5h0M669.8 1103.6h0M528 1186.6h0M528.2 1285.4h0M672.6 1305.1h0M704.2 1136.8h0M522 1305.8h0M669.6 1183.7h0M637.3 1150.4h0M604.8 1247.9h0M695.1 1148.4h0M505.3 1194.4h0M689.5 1212.8h0M506.3 1257h0M666.8 1176.5h0M670 1308.3h0M562.2 1150.6h0M727.1 1214.6h0M724.5 1197.3h0M678.2 1118.1h0M530.6 1295.3h0M554.4 1173.8h0M632.4 1269.5h0M650.1 1328.5h0M627.5 1317.8h0M525.1 1228.5h0M589.6 1206h0M744.3 1157.5h0M589.9 1273.1h0M683.8 1161.9h0M696.9 1246.2h0M591.8 1242.1h0M732.8 1158.4h0M536.7 1171.5h0M588.2 1262.1h0M661.2 1307.6h0M537.5 1260.6h0M551.7 1156.8h0M714.5 1257.8h0M623 1234.9h0M740.7 1182.6h0M540.4 1174.5h0M685.3 1245.3h0M628.1 1285h0M654.2 1209.8h0M682.2 1290.1h0M678.7 1195.1h0M722.7 1192.3h0M736.6 1137.7h0M547.2 1256.6h0M562.9 1179.5h0M631.8 1216.4h0M709.9 1281.5h0M720.7 1258.2h0M542.3 1286h0M717.2 1269.7h0M664.6 1288.1h0M509.1 1172h0M642.4 1321.2h0M671.4 1210.5h0M509.6 1205.7h0M672.9 1117.2h0M622.8 1243.8h0M691.2 1312.9h0M565.1 1282.2h0M635.7 1218.2h0M503.2 1197.9h0M574 1194h0M591.1 1245.4h0M653.1 1327.5h0M533.1 1198.9h0M547.7 1213.8h0M507.5 1271.8h0M568.5 1174.3h0M683.5 1215.7h0M676.9 1208.4h0M612.9 1314.3h0M618.5 1294.3h0M730.6 1113.1h0M498.7 1190.3h0M541.9 1252.7h0M691 1207.6h0M617.4 1212.3h0M513.3 1212.7h0M583.8 1254.9h0M669.7 1270.4h0M546.3 1267.9h0M592.3 1234.3h0M655.8 1199.6h0M747.3 1161.9h0M581.8 1198.3h0M551.1 1211h0M664.3 1221.9h0M556.3 1262.4h0M679.7 1199.4h0M679.4 1221.9h0M628.5 1297.9h0M613.6 1162.3h0M612.7 1330.1h0M539.1 1262.8h0M674.7 1166.8h0M600.6 1228.5h0M566.8 1322.7h0M547.5 1280.8h0M567.6 1221.5h0M503.4 1280.3h0M600 1210h0M578.9 1183.3h0M730.4 1167h0M584.2 1303.2h0M587 1291.9h0M514.7 1238h0M580.6 1170.6h0M737.9 1095h0M520.8 1219.4h0M687.1 1252h0M715 1204.3h0M706.2 1149.3h0M554.9 1177.9h0M677.3 1169.2h0M603.1 1234h0M691.8 1211.1h0M696.8 1250.5h0M502.9 1180.9h0M527.8 1228.6h0M678.5 1128.5h0M699.2 1083.8h0M645.1 1184.5h0M561.4 1320.2h0M605.6 1200.3h0M737.7 1113.4h0M661.3 1302.9h0M512 1191.4h0M639.7 1206h0M601.2 1171.4h0M572.8 1325.4h0M544.3 1270.9h0M708.8 1120.1h0M675.1 1322h0M530.4 1250.3h0M732.2 1127.8h0M624.3 1247.5h0M585.7 1154.4h0M499.1 1199.8h0M610 1170.8h0M567.3 1238.6h0M684.2 1147.9h0M680.1 1111.9h0M531 1176.9h0M573.9 1252.8h0M713.9 1154.6h0M499.5 1266.8h0M650 1202.8h0M572.4 1199h0M511.6 1237.5h0M555.7 1153.9h0M509.4 1189.4h0M548.6 1226.1h0M520.8 1213.3h0M502.7 1251h0M672.1 1139h0M656.7 1208.7h0M577.4 1302.2h0M558.3 1254.1h0M518.3 1200h0M487.8 1209.7h0M662 1271.5h0M599.4 1197.7h0M537.8 1274.5h0M491.1 1204.3h0M602.8 1219.6h0M551.7 1217.8h0M607 1170.4h0M701.7 1147.9h0M618.1 1327.8h0M568.2 1243.7h0M513.5 1197.4h0M702.1 1185.3h0M608.2 1234.2h0M599 1244.5h0M598.7 1224.1h0M538.2 1297.3h0M677.7 1276.6h0M589.9 1307.2h0M670.9 1216.1h0M728.7 1134.8h0M646.7 1256.9h0M676.1 1226.2h0M657.7 1137.8h0M600.3 1138h0M674.9 1126.2h0M682.9 1169.3h0M485.2 1201.1h0M673.6 1153.2h0M651 1154.1h0M602.7 1157.5h0M506.8 1233.1h0M528.3 1246.7h0M618.1 1193h0M563.2 1287.6h0M680.4 1216.7h0M509.3 1216.8h0M683.6 1185.1h0M666.8 1180.8h0M612.1 1152.1h0M684 1278.8h0M493.2 1201.8h0M715.2 1136.6h0M686.8 1222.7h0M550.8 1170.6h0M683.5 1103.8h0M726.5 1090.9h0M653.7 1143h0M724.6 1160.3h0M548.7 1308.5h0M632.2 1163.3h0M675.2 1115.6h0M705.9 1178.6h0M618.7 1304.8h0M662.9 1133.6h0M564.3 1144.4h0M697.2 1287.4h0M541.2 1249.8h0M661 1281.3h0M691.5 1249.5h0" fill="none" stroke="#111" stroke-width="4.9" stroke-linecap="round"/>
<path d="M500.7 1282.1h0M505.5 1269.3h0M500.4 1260.9h0M507 1285.2h0M519.2 1295.4h0M500 1256.7h0M506.1 1278.6h0M499.1 1271.5h0M515.3 1271.6h0M496.6 1274.6h0M512.9 1273.7h0M503.7 1284.3h0M492.8 1276.7h0M504.5 1261.2h0M514.3 1300.1h0M495.7 1262h0M502.3 1270.1h0M496.5 1268.4h0M504.6 1272.6h0M509.1 1296.6h0M507.5 1271.8h0M503.4 1280.3h0" fill="none" stroke="#0d0887" stroke-width="3.1" stroke-linecap="round"/>
<path d="M527.7 1297.6h0M506.9 1227.5h0M533.2 1240h0M484.4 1232.4h0M522 1290.1h0M518.2 1299.2h0M499.8 1242.3h0M491.5 1240.2h0M529.6 1299.7h0M502.9 1235.8h0M530.2 1243.4h0M520.4 1280.5h0M498.9 1221.5h0M508.9 1242.3h0M511.2 1277.8h0M514.4 1285.7h0M494.4 1226.2h0M506.9 1263.6h0M518.9 1286.6h0M503.4 1240.7h0M506.7 1293h0M494.6 1230.6h0M517.5 1274.8h0M517.3 1289.7h0M490.7 1236.5h0M504 1247h0M533 1293.7h0M524 1284.7h0M500.1 1224.7h0M510.1 1282.4h0M496.4 1239.1h0M510.5 1294h0M526.1 1244.1h0M513.1 1243.2h0M522.9 1258h0M500.6 1229.8h0M525.7 1253.9h0M510.8 1258.6h0M488.7 1246.7h0M512.9 1288.2h0M493.3 1248.1h0M491.3 1256.6h0M518.2 1305.1h0M522 1294.2h0M492.9 1242.9h0M513 1265.1h0M522.4 1297.4h0M523.9 1301.5h0M536.9 1241.1h0M504.7 1287.6h0M495.9 1246.8h0M525.7 1293.9h0M514.8 1293.6h0M528.4 1252.5h0M523.5 1310.2h0M522 1305.8h0M506.3 1257h0M530.6 1295.3h0M499.5 1266.8h0M502.7 1251h0M538.2 1297.3h0M506.8 1233.1h0M528.3 1246.7h0" fill="none" stroke="#250691" stroke-width="3.1" stroke-linecap="round"/>
<path d="M537 1251h0M520.7 1255.6h0M516.4 1244.4h0M529.4 1256h0M525.6 1258.3h0M526.6 1281h0M523.3 1277.5h0M511.2 1245.7h0M516.3 1259.8h0M539 1252.9h0M498.4 1244.9h0M506.5 1250.3h0M496.8 1211.2h0M517.5 1236.3h0M508.5 1230.1h0M528.6 1232.8h0M511.9 1250.3h0M505.5 1216.8h0M485.1 1214.1h0M513.4 1259.6h0M521 1267.2h0M535 1304h0M518 1229.2h0M539 1307.8h0M536.3 1301h0M524.4 1272.9h0M526.2 1266.6h0M513 1253.9h0M504.3 1219.3h0M529.3 1277.4h0M528 1240.1h0M513 1230.3h0M526.3 1276.6h0M494.1 1234.2h0M523.2 1239.5h0M531.1 1288h0M494.9 1216.1h0M523.2 1251.6h0M519.4 1259.3h0M510.2 1253.3h0M539.6 1233.9h0M534.6 1256.2h0M526.2 1249.3h0M480.2 1218.8h0M532.9 1310.6h0M528.2 1285.4h0M525.1 1228.5h0M514.7 1238h0M527.8 1228.6h0M530.4 1250.3h0M511.6 1237.5h0M541.2 1249.8h0" fill="none" stroke="#3c049b" stroke-width="3.1" stroke-linecap="round"/>
<path d="M516.9 1219.9h0M540.6 1240.2h0M540.1 1289.6h0M504.4 1188.1h0M532.9 1281.4h0M496.2 1182.8h0M507 1214h0M488.8 1190.6h0M500.7 1186.8h0M507.2 1199.3h0M541.5 1298h0M507.6 1195.8h0M539.3 1255.7h0M532.9 1258.4h0M512 1215.3h0M500.1 1209.5h0M520.5 1195.1h0M529.9 1220.8h0M544.3 1241.8h0M524.2 1212.5h0M496.9 1203.8h0M517.6 1212.3h0M522.1 1192.5h0M523.5 1224.5h0M505.5 1207.9h0M533.2 1225.6h0M495 1208.4h0M513.4 1187.8h0M534.4 1230.7h0M542.1 1313.5h0M523.1 1196.4h0M498.3 1213.5h0M536.6 1286.7h0M529 1266.5h0M505.3 1194.4h0M509.6 1205.7h0M503.2 1197.9h0M498.7 1190.3h0M513.3 1212.7h0M520.8 1219.4h0M502.9 1180.9h0M512 1191.4h0M509.4 1189.4h0M487.8 1209.7h0M491.1 1204.3h0M509.3 1216.8h0M493.2 1201.8h0" fill="none" stroke="#5904a1" stroke-width="3.1" stroke-linecap="round"/>
<path d="M518 1171.3h0M533.6 1171.7h0M541.7 1162.6h0M513.1 1168.8h0M532.3 1272.5h0M515 1178h0M500.9 1195.9h0M517.8 1190.8h0M535 1189.2h0M527.3 1207.4h0M512 1180.5h0M491 1188.7h0M531.1 1217.8h0M544.7 1288.1h0M509.9 1176h0M543.2 1178.3h0M529.9 1203h0M533.7 1222.5h0M534 1276h0M508.2 1179.8h0M499.6 1182.5h0M517.4 1215.4h0M500.7 1174h0M498.8 1177.7h0M542.7 1256.4h0M528.9 1270.9h0M546.9 1297.6h0M530.4 1199.5h0M547.8 1235.7h0M538.2 1164.5h0M525.2 1165.7h0M521.4 1187.2h0M491.9 1198.8h0M527.1 1220.2h0M542.6 1290.5h0M544.4 1310.6h0M552.5 1179.7h0M491.1 1194.5h0M515.5 1193.5h0M515.6 1204.9h0M541.3 1158.4h0M493.9 1187.8h0M523.3 1208.6h0M521.8 1171.8h0M544.1 1246.3h0M542.1 1171.6h0M523.8 1218.3h0M496.3 1175h0M534.6 1176.4h0M528 1186.6h0M536.7 1171.5h0M537.5 1260.6h0M540.4 1174.5h0M509.1 1172h0M541.9 1252.7h0M499.1 1199.8h0M520.8 1213.3h0M518.3 1200h0M513.5 1197.4h0M485.2 1201.1h0" fill="none" stroke="#7703a7" stroke-width="3.1" stroke-linecap="round"/>
<path d="M536.8 1268.6h0M538.6 1177.9h0M535.9 1199.6h0M557.2 1163.9h0M547.2 1185h0M529.7 1168.5h0M549.3 1151.4h0M513 1172.3h0M554.5 1162.3h0M554.8 1158.5h0M531.3 1152.6h0M511 1165.3h0M533 1161.8h0M514.2 1160h0M547.7 1180.7h0M523.3 1177.9h0M540.2 1193.1h0M554.8 1241.9h0M556.8 1146.5h0M559 1177.3h0M540.8 1167.6h0M532.2 1204.8h0M566.7 1146h0M549.8 1243.2h0M550.8 1146.5h0M538.7 1184.2h0M547.9 1305.8h0M548.5 1154.4h0M556.1 1184.3h0M555.7 1150.2h0M560.3 1159.8h0M547.1 1188.8h0M547.9 1161.9h0M532.7 1209.8h0M525.2 1162.9h0M533.3 1192.8h0M540.5 1280.3h0M517.2 1165.8h0M536.4 1152.8h0M551.5 1165.1h0M565.5 1159.5h0M566.3 1164.1h0M562.2 1150.6h0M554.4 1173.8h0M551.7 1156.8h0M547.2 1256.6h0M542.3 1286h0M533.1 1198.9h0M539.1 1262.8h0M554.9 1177.9h0M531 1176.9h0M548.6 1226.1h0M537.8 1274.5h0M550.8 1170.6h0M564.3 1144.4h0" fill="none" stroke="#8f10a0" stroke-width="3.1" stroke-linecap="round"/>
<path d="M570.3 1220.9h0M550.5 1196.7h0M557.7 1198.9h0M567.2 1193.2h0M551.7 1302.3h0M560.8 1166.7h0M538.9 1199.2h0M537.7 1271.5h0M547.6 1211h0M553.3 1245.9h0M538.3 1202.3h0M545.6 1223.8h0M563.9 1183.8h0M550.5 1230.7h0M540.5 1271h0M560.4 1185.2h0M575.6 1154.9h0M564 1174.5h0M540.9 1195.9h0M547.4 1200.1h0M553.6 1188.1h0M548.8 1192.8h0M553.2 1236.4h0M539.6 1267.5h0M557.7 1242.7h0M536.5 1208.9h0M542.1 1214h0M552.2 1298.3h0M556.1 1194.8h0M543.8 1200.4h0M572.1 1142.1h0M542.5 1277.8h0M561.3 1242.9h0M552.6 1291h0M550.9 1287.3h0M549.9 1188h0M551.7 1228h0M556.2 1180.5h0M550.7 1248.9h0M563.7 1167.3h0M560.2 1197h0M553.6 1208.4h0M581.2 1147.6h0M555.2 1232.5h0M542.3 1264.7h0M565.6 1189.6h0M558.7 1173.2h0M562.9 1179.5h0M547.7 1213.8h0M568.5 1174.3h0M585.7 1154.4h0M555.7 1153.9h0M551.7 1217.8h0" fill="none" stroke="#a62295" stroke-width="3.1" stroke-linecap="round"/>
<path d="M566.6 1255.7h0M578.1 1179.1h0M551 1263.4h0M582 1192.4h0M548.6 1206.3h0M562.5 1307.2h0M573.5 1287.5h0M559.1 1189.1h0M576.1 1230.8h0M580.9 1207.6h0M574.3 1225.3h0M556.8 1249.1h0M563.7 1202h0M569.7 1276.4h0M559.5 1250.9h0M575.5 1247.1h0M587 1201.2h0M562.4 1314.7h0M557.4 1295.6h0M575.2 1187.6h0M561.5 1203.7h0M577.4 1195.4h0M567.8 1298.5h0M586.6 1157.5h0M559.3 1215.4h0M565.9 1295.4h0M590 1196.9h0M570.4 1285.9h0M557.1 1275.2h0M584.1 1142.4h0M538.7 1210.8h0M575.4 1210.4h0M541.2 1203.8h0M586.5 1206.7h0M558 1281.5h0M569.2 1212.7h0M564.9 1292.3h0M575.6 1180.5h0M550.6 1258.1h0M560.2 1304h0M568.2 1225.7h0M546.5 1262.3h0M581.5 1143.6h0M577 1204.7h0M565.1 1298.9h0M575 1276.8h0M564.9 1206h0M557.1 1304.1h0M593.6 1190h0M552.4 1202.1h0M575.7 1201.1h0M572.2 1291.4h0M578.7 1187.3h0M555.6 1226.4h0M574.4 1235.3h0M564.4 1209.5h0M599.2 1135.1h0M555 1306.4h0M551.3 1278.6h0M556.5 1298.7h0M577.3 1223.8h0M595.5 1181.1h0M561.6 1295.6h0M569.9 1323.8h0M559.6 1240.4h0M570.7 1178h0M585.1 1136.9h0M566.2 1230.5h0M590.3 1189.5h0M544.8 1214.8h0M576.6 1191h0M569.5 1198h0M550.3 1266.4h0M556.4 1191.4h0M567 1208.4h0M546.5 1208h0M574 1194h0M546.3 1267.9h0M551.1 1211h0M556.3 1262.4h0M547.5 1280.8h0M567.6 1221.5h0M580.6 1170.6h0M561.4 1320.2h0M567.3 1238.6h0M572.4 1199h0M558.3 1254.1h0M563.2 1287.6h0M548.7 1308.5h0" fill="none" stroke="#b8328a" stroke-width="3.1" stroke-linecap="round"/>
<path d="M600.5 1152.4h0M567.8 1263.3h0M592.1 1268.6h0M580.3 1238h0M545.9 1275.8h0M598.8 1192.7h0M599.6 1180.1h0M611.9 1233.6h0M590.8 1178h0M581.3 1178.7h0M596.7 1235.2h0M588.5 1186.6h0M592.4 1260.1h0M595.5 1184.8h0M592.3 1309.1h0M565.3 1303h0M588.5 1258.6h0M602.7 1163.4h0M586.8 1231.2h0M554.8 1315.8h0M562.1 1280h0M574.1 1283.4h0M589.3 1316h0M581.3 1287.5h0M579 1245.6h0M576.8 1253.5h0M566.5 1307.3h0M590.7 1192.5h0M547.8 1271.5h0M586.6 1253h0M574.4 1301.2h0M602.8 1195.3h0M559.5 1262.4h0M576.9 1292.8h0M578.5 1286.9h0M569.1 1281.3h0M603.5 1145.6h0M577.6 1237.1h0M560.4 1277.7h0M574 1294.3h0M592.6 1274.1h0M575.3 1242h0M593 1213.5h0M597.2 1302.3h0M571.7 1269.9h0M598.3 1326.7h0M581.4 1218.7h0M572.4 1303.9h0M601.6 1189.2h0M579.2 1265.4h0M589.3 1328.8h0M592.9 1207.5h0M601.4 1149.2h0M600.1 1186.6h0M570.3 1240.4h0M579.1 1198.3h0M586.9 1193.9h0M601.3 1207.4h0M585.1 1222.5h0M596.7 1198.2h0M577.4 1321.4h0M591.4 1255.7h0M580.9 1232.6h0M587.1 1178.4h0M579.4 1277.9h0M587.9 1325.6h0M597.2 1214.5h0M562 1271.7h0M586.2 1267.7h0M590 1209.3h0M618.6 1133.8h0M588.8 1223.4h0M593.9 1271.7h0M586.5 1213.8h0M580.3 1322.7h0M585.7 1244.9h0M570.6 1255.4h0M580.2 1213.2h0M581.5 1273.3h0M567.3 1316.6h0M559.1 1271.3h0M569.1 1248.3h0M552.8 1271.3h0M577.2 1289.4h0M579.9 1300h0M606.4 1217.3h0M587.3 1210.6h0M598.5 1206.4h0M557.7 1318.9h0M583.3 1292.3h0M587.9 1305.1h0M600.2 1167.5h0M606.5 1192.7h0M587.2 1279.6h0M590.4 1251.5h0M571.4 1300h0M582.5 1188.9h0M597.3 1239.2h0M585.4 1182.8h0M571.7 1231.6h0M562.4 1323h0M602.6 1245.2h0M558.3 1257.8h0M594.3 1171.5h0M568.1 1283.9h0M559.7 1265.5h0M571.8 1310.5h0M578.3 1249.9h0M584.4 1314.8h0M605.8 1221.9h0M585.8 1170h0M578.8 1316.8h0M564 1268.4h0M581.8 1327.7h0M553.7 1264.4h0M580.4 1256.6h0M578.9 1295.6h0M581.8 1173.4h0M577.6 1312.7h0M593 1160.9h0M580.8 1281.4h0M579.6 1228.5h0M570.2 1272.7h0M560.2 1311.7h0M603 1225h0M592.4 1199.8h0M581.6 1184.9h0M566 1270.2h0M592.6 1315.7h0M565 1312.9h0M584.8 1289.3h0M608.2 1186.9h0M574.9 1279.6h0M589.6 1206h0M591.8 1242.1h0M588.2 1262.1h0M565.1 1282.2h0M591.1 1245.4h0M583.8 1254.9h0M581.8 1198.3h0M600.6 1228.5h0M566.8 1322.7h0M578.9 1183.3h0M584.2 1303.2h0M601.2 1171.4h0M572.8 1325.4h0M544.3 1270.9h0M573.9 1252.8h0M577.4 1302.2h0M599.4 1197.7h0M568.2 1243.7h0M608.2 1234.2h0M599 1244.5h0M600.3 1138h0" fill="none" stroke="#c5407e" stroke-width="3.1" stroke-linecap="round"/>
<path d="M613 1262.1h0M603.1 1327.1h0M620.6 1282.8h0M619.3 1155.1h0M605.9 1278.2h0M587.1 1241.6h0M617 1226.1h0M604.5 1271.4h0M600.4 1305.9h0M612.6 1299.1h0M603.2 1285.6h0M596.7 1320.2h0M596.1 1292.1h0M603.5 1307.9h0M601 1260.2h0M602.2 1251h0M605 1281.4h0M593.4 1224.2h0M605.1 1204.1h0M580.6 1302.9h0M575.3 1318.3h0M591.1 1294.6h0M583.7 1279.6h0M595.2 1277.6h0M624 1131.1h0M618.4 1280.8h0M614.4 1155.2h0M598.5 1275.8h0M594 1281.1h0M614.3 1246.8h0M616.2 1137.8h0M601.5 1321.1h0M595.3 1288.5h0M610.7 1194.9h0M607.1 1252.5h0M603.9 1319.4h0M602.5 1313.7h0M611.4 1294.9h0M609.6 1256.4h0M592.8 1218.2h0M589.3 1234.5h0M584.2 1295.1h0M616.1 1233.1h0M606.6 1326.9h0M614.1 1273h0M607.5 1225.4h0M598.1 1231.5h0M592.9 1291.6h0M582.3 1269.2h0M614.1 1224h0M606.7 1301.9h0M612.6 1291.8h0M599.7 1241.3h0M619.1 1230.2h0M605.9 1322.8h0M604.2 1275.8h0M609.7 1307.3h0M597.2 1295.4h0M593.3 1228.7h0M609.2 1219.4h0M608.8 1239.9h0M608.6 1205.4h0M612.7 1185.2h0M610.4 1265.8h0M583.6 1321h0M614.8 1240.3h0M610 1214.3h0M619.8 1278h0M609.3 1208.8h0M605.7 1310.8h0M598.4 1252.2h0M602.9 1279.6h0M592.7 1301.1h0M612.1 1190.3h0M600.7 1266.4h0M615.7 1182.7h0M574.8 1310.9h0M607 1295.5h0M615.2 1199.3h0M590.9 1312.8h0M602 1256.1h0M609.9 1274.6h0M592.2 1283.8h0M624.6 1292.5h0M604.8 1247.9h0M589.9 1273.1h0M618.5 1294.3h0M592.3 1234.3h0M600 1210h0M587 1291.9h0M603.1 1234h0M605.6 1200.3h0M610 1170.8h0M602.8 1219.6h0M607 1170.4h0M598.7 1224.1h0M589.9 1307.2h0M618.7 1304.8h0" fill="none" stroke="#d24f72" stroke-width="3.1" stroke-linecap="round"/>
<path d="M634.4 1317.5h0M616.5 1248.5h0M629.3 1247.9h0M623.9 1211.4h0M612 1302.6h0M619.7 1222.8h0M628.6 1292h0M625.8 1269.8h0M638.4 1310.4h0M614.7 1191.7h0M619.1 1321.8h0M623 1227.6h0M617.1 1217.2h0M610.6 1312.1h0M638.2 1267.6h0M619.9 1308.1h0M633.1 1296.6h0M635.5 1256.8h0M639.5 1292.7h0M627.5 1250.5h0M623.3 1287.5h0M624 1253.7h0M620.1 1299.3h0M634.9 1282.6h0M628.1 1273.2h0M634.4 1323.7h0M642.1 1314.8h0M624.6 1200.4h0M618.8 1251.6h0M618.4 1289.9h0M615.9 1316h0M617.7 1256.3h0M634.2 1259.3h0M621.8 1172.2h0M639.2 1299.1h0M622.9 1321.9h0M628 1308.4h0M610.1 1261.3h0M626.4 1159.2h0M623.2 1271.4h0M636.4 1302.2h0M626.3 1207.7h0M622.1 1310.4h0M635.6 1266.2h0M621.6 1249.1h0M623.5 1317.5h0M621.4 1304.2h0M617.5 1189.1h0M609.1 1316.5h0M617.3 1141.6h0M623 1238.3h0M619.6 1318h0M633.7 1278.4h0M630.4 1302.2h0M617.4 1310.3h0M610.4 1328h0M640.6 1324.5h0M630 1305.2h0M632.8 1245.5h0M610.1 1321.6h0M613.5 1259.3h0M622.8 1181.5h0M625.1 1221.8h0M621.6 1184.7h0M618.5 1259.6h0M627.5 1317.8h0M623 1234.9h0M628.1 1285h0M622.8 1243.8h0M612.9 1314.3h0M617.4 1212.3h0M628.5 1297.9h0M612.7 1330.1h0M624.3 1247.5h0M618.1 1327.8h0M602.7 1157.5h0M618.1 1193h0M612.1 1152.1h0" fill="none" stroke="#de6065" stroke-width="3.1" stroke-linecap="round"/>
<path d="M626.8 1241.9h0M623.1 1191.6h0M620.6 1261.9h0M654.4 1321.6h0M624.3 1266.2h0M633.3 1236.1h0M639.8 1272h0M627.1 1231.5h0M620.4 1195.2h0M625.7 1214.5h0M630.3 1257.9h0M633.3 1169.3h0M642.5 1286.1h0M630.5 1289.7h0M648.8 1263.9h0M638.2 1284.5h0M648.9 1254.4h0M633 1254.7h0M641.9 1252.8h0M651.2 1322.4h0M621.8 1143.9h0M644.3 1289.4h0M640.8 1306.2h0M640 1278.5h0M650.6 1250.2h0M628.9 1219.8h0M647.7 1304.8h0M632.5 1307.3h0M646.2 1295.2h0M652.8 1254.6h0M625 1179.8h0M645.1 1308.4h0M631.1 1263.4h0M635.9 1243.4h0M626.6 1321.6h0M647.8 1313h0M637 1160.9h0M619.6 1179.9h0M637.1 1262.1h0M635.4 1158.3h0M641.5 1249.7h0M621.2 1189h0M621.6 1208.9h0M642.5 1268.4h0M642.4 1273.6h0M634.3 1274.2h0M631.7 1330.4h0M624.8 1195.5h0M624.5 1185.8h0M628 1198.5h0M663.1 1242.1h0M642.3 1294.6h0M630.9 1252.5h0M641.2 1260.1h0M621.5 1212.7h0M630 1132.2h0M636.5 1246.6h0M632.9 1219.5h0M637.6 1296h0M634.9 1312.1h0M632.4 1269.5h0M650.1 1328.5h0M642.4 1321.2h0M653.1 1327.5h0M613.6 1162.3h0M646.7 1256.9h0M632.2 1163.3h0" fill="none" stroke="#e97258" stroke-width="3.1" stroke-linecap="round"/>
<path d="M659.6 1226.7h0M634.4 1152h0M660.7 1234.6h0M657 1279.3h0M657.9 1244.1h0M642.9 1241.7h0M651.6 1292h0M650.4 1279.5h0M649.5 1227.1h0M658.2 1256.9h0M658.9 1237.2h0M669 1241.7h0M652 1223.2h0M662.1 1218.7h0M654 1214.3h0M645.5 1225.7h0M641.3 1237.6h0M638.6 1238.9h0M647.2 1220.2h0M655.3 1312.5h0M645.6 1246h0M651.3 1287.1h0M656.1 1296.8h0M641.8 1229.1h0M635.7 1177.3h0M636.4 1206.9h0M656.8 1204h0M653.2 1302h0M654 1235.4h0M643.3 1276.3h0M636.4 1224.7h0M645.9 1217.1h0M658.3 1218.2h0M645.5 1282.3h0M654.1 1221h0M648 1235.7h0M628.9 1183.3h0M667.2 1229h0M658.9 1320.8h0M634.5 1197.9h0M656.9 1222.2h0M641.6 1208.8h0M672.6 1224.8h0M653.8 1257.9h0M659.9 1241.8h0M649 1243.6h0M650.9 1273.1h0M663.1 1237.2h0M656.7 1252.5h0M639.8 1226.5h0M651.8 1239.6h0M639.1 1201.7h0M650.6 1246h0M656 1211.8h0M649.9 1284.6h0M645.8 1279.1h0M639.5 1211.1h0M649.5 1296.6h0M659.2 1247.6h0M629.6 1187.5h0M658.4 1323.9h0M637.8 1214.8h0M644.6 1235.5h0M648.1 1207.6h0M640.1 1158h0M666.4 1208.9h0M637.3 1150.4h0M654.2 1209.8h0M631.8 1216.4h0M635.7 1218.2h0M664.3 1221.9h0M656.7 1208.7h0" fill="none" stroke="#f1864a" stroke-width="3.1" stroke-linecap="round"/>
<path d="M682 1300.4h0M678.1 1297.6h0M663.4 1253.4h0M670.7 1244.6h0M672.7 1247.4h0M655.6 1267.7h0M678.6 1250.1h0M690.6 1307.2h0M682.9 1312.5h0M674.4 1252.7h0M666.5 1237.6h0M663.4 1212.8h0M652.6 1206.2h0M655.5 1264.5h0M668.8 1213.2h0M658.2 1260.5h0M672.4 1241.7h0M662 1258.8h0M672.7 1207.7h0M663.3 1304.8h0M682.6 1270h0M656 1301.1h0M645.9 1158.6h0M666.6 1300.5h0M673.9 1286.4h0M660.3 1297.9h0M664.2 1283.3h0M670.5 1261.6h0M664.9 1267.5h0M679.1 1211.7h0M656 1286.5h0M689.4 1245.4h0M676.3 1301.7h0M700.4 1256.5h0M636.5 1184.9h0M672.8 1255.6h0M675.5 1235.2h0M633.1 1182.5h0M673.8 1213.8h0M670.7 1299.6h0M666.3 1263.2h0M665.7 1317.4h0M707.7 1263.5h0M652.3 1269.8h0M662.1 1203.7h0M648 1196.5h0M661.4 1289.5h0M645.7 1203.8h0M665.1 1190.6h0M643.3 1192h0M669.7 1319.7h0M655.1 1272.3h0M667.6 1252.9h0M688 1299.8h0M641.4 1214.5h0M691.3 1276h0M721 1268.8h0M678.5 1258.7h0M685.3 1249h0M676.3 1311.1h0M675.6 1229.3h0M680.7 1255.9h0M707.1 1267.9h0M700 1298.3h0M676.1 1264.6h0M650.2 1267.3h0M634.5 1128.9h0M671.8 1310.7h0M676.7 1254.8h0M642.4 1183.4h0M638.6 1179.1h0M682.7 1315.5h0M673.8 1232.9h0M635.3 1189.5h0M660.3 1268.5h0M664.3 1314.9h0M672.6 1305.1h0M670 1308.3h0M661.2 1307.6h0M709.9 1281.5h0M664.6 1288.1h0M671.4 1210.5h0M691.2 1312.9h0M676.9 1208.4h0M669.7 1270.4h0M655.8 1199.6h0M687.1 1252h0M661.3 1302.9h0M639.7 1206h0M675.1 1322h0M650 1202.8h0M670.9 1216.1h0M661 1281.3h0" fill="none" stroke="#f99a3d" stroke-width="3.1" stroke-linecap="round"/>
<path d="M691.9 1271.3h0M723.1 1229.8h0M718.2 1282.8h0M680.2 1303.2h0M698.2 1307.6h0M700.8 1246.9h0M680.1 1265.5h0M712 1248h0M695.7 1267.3h0M660.4 1198.2h0M689.7 1226.8h0M719.8 1238.6h0M683.8 1306.5h0M694.6 1276.6h0M694.5 1207.3h0M676.5 1307h0M663 1184.8h0M704.3 1295.4h0M717.3 1226.8h0M692.3 1244.9h0M671.7 1281.8h0M713.8 1269.4h0M647 1201.2h0M676.8 1271.3h0M686.9 1215.6h0M680.7 1278.5h0M635.4 1123.2h0M682.3 1195.6h0M691.3 1279.5h0M718.2 1244.6h0M680.8 1282h0M676.9 1199.2h0M658 1178h0M667.6 1311.5h0M685.6 1275.3h0M688.6 1192h0M652.1 1190.4h0M709.4 1239h0M693.2 1213.5h0M701.5 1224.6h0M683.4 1238h0M689.1 1257.5h0M691.3 1255.7h0M720.6 1243.3h0M701.4 1274.5h0M673.4 1292.1h0M685.5 1203.3h0M665.9 1196.5h0M672.7 1194.9h0M700.2 1250.5h0M692.8 1289.3h0M680 1206.2h0M658.7 1194.6h0M727.6 1247.4h0M715.5 1236.5h0M682.9 1293.9h0M674.8 1211h0M682.3 1284.8h0M680.8 1229.6h0M713.6 1253.2h0M727.1 1252.8h0M707.7 1285.6h0M696 1290.1h0M665.9 1306.9h0M705.2 1236.6h0M698.1 1293.7h0M682.3 1221.8h0M676.6 1285.5h0M697 1253.4h0M705.4 1249.1h0M706.3 1289.4h0M705.4 1255.1h0M699.1 1222.3h0M699 1290.7h0M684.4 1317.7h0M658.2 1272.8h0M640.2 1185.1h0M710.5 1234.5h0M705.2 1220.7h0M702.7 1271.3h0M706.4 1280.8h0M716.4 1275.4h0M644.7 1195.9h0M678.9 1289.6h0M655.8 1168.8h0M698.9 1264.8h0M677.4 1280h0M687.8 1307.3h0M711.5 1221.3h0M667 1290.9h0M712.2 1276h0M703 1282.8h0M640.4 1188h0M648.9 1189.3h0M669.5 1314.4h0M654.5 1181h0M688.1 1248.6h0M654.2 1187h0M691.3 1293.9h0M659.3 1174h0M687.1 1268.2h0M699.3 1226.9h0M669.8 1193.4h0M679.6 1191.1h0M725.1 1260.1h0M684.5 1227.1h0M710.8 1255.5h0M690.7 1216.2h0M695.8 1221.6h0M711.3 1265.4h0M697.3 1282.8h0M653 1200.9h0M704.6 1223.5h0M718.4 1216.6h0M692.5 1265.6h0M714.7 1263.3h0M718.8 1256.2h0M683.9 1266.2h0M682.5 1188.5h0M669.6 1183.7h0M689.5 1212.8h0M696.9 1246.2h0M714.5 1257.8h0M685.3 1245.3h0M682.2 1290.1h0M678.7 1195.1h0M720.7 1258.2h0M717.2 1269.7h0M683.5 1215.7h0M679.7 1199.4h0M679.4 1221.9h0M691.8 1211.1h0M696.8 1250.5h0M645.1 1184.5h0M662 1271.5h0M677.7 1276.6h0M676.1 1226.2h0M651 1154.1h0M680.4 1216.7h0M666.8 1180.8h0M684 1278.8h0M686.8 1222.7h0M697.2 1287.4h0M691.5 1249.5h0" fill="none" stroke="#fbb032" stroke-width="3.1" stroke-linecap="round"/>
<path d="M711.9 1200.9h0M708.2 1222.3h0M646.5 1187.7h0M700.4 1268.5h0M697.1 1166.6h0M709.5 1205.6h0M693.1 1187.1h0M707.6 1188.3h0M649.5 1151.3h0M713 1209.8h0M697.1 1203.6h0M696.3 1210h0M695.4 1179.6h0M676.6 1190.4h0M689.9 1176.3h0M725.1 1210.2h0M703.3 1152.7h0M656.1 1157.6h0M695.1 1169.2h0M706.2 1197.2h0M718.2 1220.6h0M702.7 1239.5h0M712.4 1215.5h0M694.7 1232.3h0M711.5 1197.7h0M678.3 1178.1h0M709.8 1244.5h0M719.2 1234.4h0M690.1 1202.1h0M703.1 1211.8h0M710.4 1230.7h0M712.7 1227.3h0M723.2 1214.5h0M684.2 1241.7h0M705.3 1214.2h0M699.2 1182.2h0M705 1184.3h0M655.4 1192.8h0M670.5 1174.9h0M724.5 1221h0M687.3 1189.2h0M684.6 1177.8h0M714.9 1183.3h0M721.7 1224.1h0M694.7 1236.2h0M705.3 1204.2h0M718.9 1204.2h0M685.4 1198.1h0M716.3 1168.1h0M683.8 1210.1h0M688.6 1170.1h0M705.9 1241.3h0M695.8 1217.1h0M696 1194.7h0M673 1135.7h0M700.8 1174.1h0M697.7 1197.4h0M686.8 1176h0M708.3 1225.6h0M698 1231.3h0M665.4 1172.7h0M700.4 1188.6h0M664.7 1157.6h0M705.2 1200.1h0M671.1 1180.3h0M701.4 1193.3h0M720.3 1229.2h0M708.2 1213.1h0M687.4 1200.6h0M692.5 1174.4h0M677.9 1186.7h0M719.3 1199.7h0M694.5 1190h0M701.4 1162.1h0M708 1218.9h0M685.3 1192.7h0M721.5 1206.3h0M699.4 1216.8h0M699.9 1168.5h0M703.5 1208.1h0M716.5 1199.7h0M702.8 1229.7h0M712.4 1175.3h0M659.1 1158.3h0M690.6 1240h0M709.6 1194.7h0M666.8 1176.5h0M727.1 1214.6h0M691 1207.6h0M715 1204.3h0M677.3 1169.2h0M684.2 1147.9h0M702.1 1185.3h0M653.7 1143h0M705.9 1178.6h0" fill="none" stroke="#fdc627" stroke-width="3.1" stroke-linecap="round"/>
<path d="M733.4 1177.4h0M696.9 1152.9h0M682.9 1150.4h0M686.3 1168.1h0M681.2 1132.7h0M674.4 1174.4h0M706.6 1160.1h0M691.3 1088.1h0M698.4 1191h0M688.7 1096.7h0M731.1 1184h0M737 1170h0M693 1100.4h0M669.9 1158.1h0M668.9 1125.5h0M676.4 1102h0M702.8 1180.3h0M666.2 1152.4h0M706.7 1164.9h0M723 1186.5h0M745.2 1112.3h0M689 1158.6h0M645.3 1130h0M727.4 1156.6h0M672.7 1164.7h0M741.8 1161.1h0M679 1154.9h0M704 1191.9h0M716.6 1179.6h0M694.4 1155.8h0M719.5 1189.1h0M669 1169.3h0M721.7 1163h0M750.1 1161.3h0M684 1094.8h0M700.6 1178.5h0M739.2 1178.8h0M687.7 1091.8h0M727.5 1163.6h0M715.6 1172h0M656.6 1132.8h0M691.4 1150.6h0M682 1173.8h0M674 1108.2h0M678.7 1147.9h0M670.7 1149h0M712.6 1101.6h0M664.1 1143.8h0M663 1150.8h0M705.5 1108.6h0M678.3 1139.3h0M659.3 1140.7h0M710.3 1178.3h0M717.4 1176.1h0M737.6 1133h0M724.6 1182.7h0M725.5 1154.3h0M711.3 1182h0M715.1 1148.7h0M687.8 1163.1h0M702.8 1116.9h0M679 1097.4h0M729.3 1154.3h0M719.9 1103.7h0M718.4 1143.8h0M681.1 1141h0M732 1090h0M722 1139h0M691.4 1121.3h0M722.9 1136.2h0M713.6 1140.6h0M716.9 1196.1h0M686.8 1152.9h0M694.4 1114.4h0M707.3 1181h0M722.4 1128.1h0M677.9 1123.9h0M724.6 1145.6h0M734.5 1161.8h0M697.3 1159.8h0M736.7 1158.8h0M748.6 1128.2h0M734.7 1187.9h0M724.4 1114.8h0M719.2 1193.7h0M654.8 1137.2h0M687 1130.6h0M669.6 1131.7h0M761.1 1131.3h0M755.5 1152.1h0M722.8 1153.6h0M755.4 1143.3h0M674.8 1159.8h0M668.5 1119.7h0M691 1135.5h0M721.5 1173.3h0M709.4 1174h0M669.1 1137.8h0M698.6 1175.9h0M683.2 1137.3h0M711.1 1188.7h0M749.2 1172h0M682.1 1130.1h0M682.4 1109.7h0M706.8 1146.6h0M662.2 1125h0M729.7 1174h0M723.5 1110.4h0M715.8 1108.4h0M685.5 1144.8h0M721.2 1159.4h0M669.8 1103.6h0M695.1 1148.4h0M724.5 1197.3h0M678.2 1118.1h0M683.8 1161.9h0M732.8 1158.4h0M740.7 1182.6h0M722.7 1192.3h0M672.9 1117.2h0M747.3 1161.9h0M674.7 1166.8h0M730.4 1167h0M737.9 1095h0M706.2 1149.3h0M678.5 1128.5h0M680.1 1111.9h0M713.9 1154.6h0M672.1 1139h0M701.7 1147.9h0M657.7 1137.8h0M674.9 1126.2h0M682.9 1169.3h0M673.6 1153.2h0M683.6 1185.1h0M683.5 1103.8h0M724.6 1160.3h0M675.2 1115.6h0M662.9 1133.6h0" fill="none" stroke="#f6e024" stroke-width="3.1" stroke-linecap="round"/>
<path d="M727.8 1129.2h0M688.6 1111.3h0M721.6 1086.1h0M696.2 1135.9h0M745.8 1170.8h0M740.7 1118h0M663.2 1111.8h0M717.4 1097h0M698.3 1142.8h0M726 1127h0M703.5 1131.9h0M693.2 1117.4h0M747.4 1131.8h0M726.8 1117.7h0M732.1 1093.8h0M700 1137.9h0M731.6 1135.1h0M701.7 1091.5h0M715.1 1123.3h0M698.4 1132.1h0M748.1 1135.7h0M692.6 1108.8h0M680.6 1158.6h0M742.9 1130.6h0M758.1 1125.7h0M746.6 1138.3h0M735.1 1124.4h0M727.4 1113.2h0M714.6 1095.6h0M728.4 1105.5h0M743.2 1122.5h0M691.7 1131.3h0M706.2 1092.2h0M723.5 1101.3h0M751.5 1135.6h0M700.2 1128.9h0M682.4 1121.5h0M731.8 1109h0M757.8 1135.2h0M701.3 1102.8h0M710.7 1090.1h0M721.1 1098.4h0M712.4 1134.6h0M736.7 1175.5h0M695.5 1131.3h0M725.7 1093.7h0M690 1104.7h0M712.4 1131.8h0M718.5 1089.4h0M736.5 1184.3h0M716.6 1128.2h0M736.6 1087h0M742.6 1133.9h0M688.5 1102.1h0M749.9 1120.8h0M735 1127.5h0M691.5 1146.5h0M721.6 1148.7h0M699.4 1087.1h0M721.1 1091.7h0M756.3 1140h0M677.7 1113.7h0M747.4 1143.1h0M743.7 1146.5h0M721.1 1112.6h0M729.6 1095.3h0M709.1 1127.5h0M693 1112.1h0M716.1 1079.7h0M738.6 1135.6h0M707.9 1085.4h0M724.7 1078.8h0M703.2 1126.4h0M756.9 1146.1h0M696.5 1106.3h0M719.5 1084.1h0M751.9 1141.5h0M686.8 1108.5h0M710.1 1123.1h0M724.6 1073.6h0M719.2 1130.8h0M742.4 1142.1h0M736.7 1121.1h0M737.3 1145.8h0M751.2 1131.6h0M727.7 1147.6h0M723.6 1088.4h0M733.6 1098.8h0M733.8 1119.5h0M712 1107h0M719.3 1121.7h0M714.9 1144.1h0M692.6 1103.1h0M716.6 1099.8h0M712.8 1119.7h0M733.4 1082.7h0M733.7 1145.6h0M728.1 1109h0M744.7 1152.8h0M759.5 1143.5h0M739.4 1152.9h0M713.9 1114.7h0M706.6 1122.2h0M714.9 1089.4h0M687.3 1125.9h0M733.2 1131.2h0M724.1 1096.4h0M740.8 1144.9h0M704.2 1136.8h0M744.3 1157.5h0M736.6 1137.7h0M730.6 1113.1h0M699.2 1083.8h0M737.7 1113.4h0M708.8 1120.1h0M732.2 1127.8h0M728.7 1134.8h0M715.2 1136.6h0M726.5 1090.9h0" fill="none" stroke="#f0f921" stroke-width="3.1" stroke-linecap="round"/>
<rect x="451.3" y="1035" width="342.6" height="317.4" fill="none" stroke="#000" stroke-width="2.4"/>
<defs><linearGradient id="plg" x1="0" x2="1" y1="0" y2="0"><stop offset="0" stop-color="#0d0887"/><stop offset="0.13" stop-color="#41049d"/><stop offset="0.25" stop-color="#7e03a8"/><stop offset="0.38" stop-color="#b12a90"/><stop offset="0.5" stop-color="#cc4778"/><stop offset="0.63" stop-color="#e66c5c"/><stop offset="0.75" stop-color="#f89540"/><stop offset="0.88" stop-color="#fdc527"/><stop offset="1" stop-color="#f0f921"/></linearGradient></defs>
<rect x="469" y="1072" width="140.9" height="25.4" fill="url(#plg)"/>
<path d="M495.34 1072v4M495.34 1097.4v-4M521.67 1072v4M521.67 1097.4v-4M548.01 1072v4M548.01 1097.4v-4M574.35 1072v4M574.35 1097.4v-4M600.68 1072v4M600.68 1097.4v-4" fill="none" stroke="#fff" stroke-width="1.2" stroke-opacity="0.8"/>
<text x="461" y="1068.8" font-size="30">pseudotime</text>
<path d="M565.56 1335.44C571.16 1336.14 587.34 1338.84 599.17 1339.67C611 1340.5 624.07 1341.12 636.51 1340.41C648.96 1339.71 662.24 1338.46 673.86 1335.44C685.48 1332.41 697.1 1328.38 706.22 1322.24C715.35 1316.1 722.2 1308.76 728.63 1298.59C735.06 1288.42 739.83 1274.11 744.81 1261.24C749.79 1248.38 755.19 1230.75 758.51 1221.41C761.83 1212.07 763.69 1207.93 764.73 1205.23" fill="none" stroke="#000" stroke-width="4.2" stroke-linecap="butt"/>
<path d="M774.19 1184.81L753.03 1203.49L777.43 1213.94Z" fill="#000"/>
</g>
<g id="violin">
<text x="217.84" y="1428.46" font-size="33" text-anchor="middle" font-style="italic">Cd244a</text>
<rect x="39.34" y="1436.68" width="346.8" height="126.22" fill="none" stroke="#000" stroke-width="2.8"/>
<path d="M115.02 1465.31V1548.46M72.2 1548.46H158.59" fill="none" stroke="#444" stroke-width="1.1"/>
<path d="M211.47 1454.11C211.97 1457.6 212.64 1468.46 214.45 1475.06C216.25 1481.65 220.52 1489.41 222.31 1493.68C224.1 1497.95 225.22 1498.26 225.17 1500.66C225.12 1503.07 223.69 1505.23 222.03 1508.13C220.36 1511.04 216.89 1515.19 215.2 1518.09C213.5 1521 212.01 1523.17 211.87 1525.56C211.73 1527.95 212.53 1530.06 214.37 1532.43C216.21 1534.8 219.06 1537.7 222.93 1539.76C226.8 1541.82 232.41 1543.35 237.58 1544.8C242.74 1546.25 251.21 1547.85 253.94 1548.46L168.05 1548.46C170.76 1547.85 179.18 1546.25 184.32 1544.8C189.46 1543.35 195.04 1541.82 198.88 1539.76C202.72 1537.7 205.54 1534.8 207.37 1532.43C209.2 1530.06 210.01 1527.95 209.87 1525.56C209.73 1523.17 208.24 1521 206.55 1518.09C204.85 1515.19 201.38 1511.04 199.72 1508.13C198.05 1505.23 196.62 1503.07 196.57 1500.66C196.52 1498.26 197.64 1497.95 199.43 1493.68C201.22 1489.41 205.49 1481.65 207.3 1475.06C209.1 1468.46 209.78 1457.6 210.27 1454.11Z" fill="#3B5FD0" stroke="#222" stroke-width="0.9" stroke-linejoin="round"/>
<path d="M306.82 1464.07C307.53 1466.81 308.58 1475.35 311.05 1480.54C313.52 1485.72 319.25 1491.82 321.66 1495.17C324.08 1498.53 325.59 1498.63 325.52 1500.66C325.46 1502.7 323.19 1504.77 321.28 1507.39C319.37 1510 315.89 1513.73 314.05 1516.35C312.21 1518.96 310.44 1520.68 310.22 1523.07C310 1525.46 311.39 1528.06 312.72 1530.69C314.06 1533.31 314.87 1536.53 318.21 1538.81C321.56 1541.1 327.63 1542.79 332.77 1544.4C337.91 1546.01 346.33 1547.79 349.05 1548.46L263.15 1548.46C265.88 1547.79 274.35 1546.01 279.52 1544.4C284.69 1542.79 290.8 1541.1 294.16 1538.81C297.53 1536.53 298.38 1533.31 299.72 1530.69C301.07 1528.06 302.44 1525.46 302.22 1523.07C302 1520.68 300.24 1518.96 298.4 1516.35C296.56 1513.73 293.08 1510 291.17 1507.39C289.26 1504.77 286.99 1502.7 286.92 1500.66C286.86 1498.63 288.37 1498.53 290.78 1495.17C293.2 1491.82 298.93 1485.72 301.4 1480.54C303.87 1475.35 304.92 1466.81 305.62 1464.07Z" fill="#E60000" stroke="#222" stroke-width="0.9" stroke-linejoin="round"/>
<text x="216.1" y="1611.45" font-size="33" text-anchor="middle" font-style="italic">Cd200r1</text>
<rect x="39.34" y="1620.17" width="346.8" height="125.73" fill="none" stroke="#000" stroke-width="2.8"/>
<path d="M116.27 1646.8V1732.2M73.44 1732.2H159.34" fill="none" stroke="#444" stroke-width="1.1"/>
<path d="M211.62 1633.36V1732.2M168.8 1732.2H254.44" fill="none" stroke="#444" stroke-width="1.1"/>
<path d="M306.33 1638.84C306.73 1641.79 307.25 1650.97 308.78 1656.54C310.3 1662.11 313.96 1668.67 315.49 1672.27C317.01 1675.88 317.97 1675.8 317.93 1678.17C317.89 1680.55 316.45 1683.29 315.24 1686.54C314.03 1689.79 311.82 1694.44 310.65 1697.69C309.48 1700.95 308.21 1703.36 308.23 1706.06C308.24 1708.76 309.14 1711.2 310.73 1713.9C312.31 1716.6 314.12 1719.91 317.72 1722.27C321.31 1724.62 327.14 1726.36 332.28 1728.02C337.41 1729.67 345.84 1731.5 348.55 1732.2L263.15 1732.2C265.85 1731.5 274.22 1729.67 279.33 1728.02C284.44 1726.36 290.24 1724.62 293.81 1722.27C297.37 1719.91 299.16 1716.6 300.73 1713.9C302.3 1711.2 303.21 1708.76 303.23 1706.06C303.24 1703.36 301.97 1700.95 300.8 1697.69C299.63 1694.44 297.42 1689.79 296.21 1686.54C295 1683.29 293.57 1680.55 293.53 1678.17C293.49 1675.8 294.44 1675.88 295.97 1672.27C297.49 1668.67 301.15 1662.11 302.68 1656.54C304.2 1650.97 304.72 1641.79 305.13 1638.84Z" fill="#E60000" stroke="#222" stroke-width="0.9" stroke-linejoin="round"/>
</g>
<g id="flow">
<clipPath id="cp_h"><rect x="466.43" y="1425.88" width="294.01" height="291.81"/></clipPath>
<g clip-path="url(#cp_h)">
<path d="M486 1584h0m-1 24h0m4 2h0m-9 19h0m12 4h0m9-78h0m1 5h0m-2 3h0m-3 3h0m-1 1h0m6 5h0m-3 9h0m5 1h0m-6 3h0m5 5h0m-3 2h0m-6 9h0m8 3h0m0 11h0m-4 1h0m-5 1h0m0 1h0m9 5h0m0 4h0m-6 4h0m7 44h0m-3 6h0m16-154h0m-4 12h0m-2 2h0m3 8h0m-3 0h0m1 0h0m-4 1h0m6 1h0m-2 6h0m3 2h0m-4 0h0m1 1h0m1 1h0m-2 1h0m5 8h0m-7 0h0m-2 2h0m6 4h0m0 1h0m-3 0h0m0 0h0m5 1h0m0 0h0m2 1h0m-8 0h0m7 1h0m-5 2h0m3 1h0m1 1h0m0 2h0m0 4h0m-9 1h0m2 1h0m3 2h0m1 0h0m1 1h0m-2 0h0m3 0h0m3 4h0m0 1h0m-9 3h0m2 1h0m7 1h0m-6 2h0m6 1h0m-3 1h0m-4 2h0m-3 0h0m8 1h0m-5 1h0m6 3h0m0 3h0m0 0h0m-2 0h0m-3 1h0m3 0h0m-2 0h0m-1 1h0m-2 0h0m7 2h0m0 5h0m-7 1h0m6 0h0m-9 2h0m4 2h0m2 1h0m0 1h0m4 3h0m-1 4h0m-3 2h0m-3 0h0m1 1h0m-4 2h0m10 2h0m-5 0h0m0 1h0m1 1h0m4 3h0m-2 5h0m-3 4h0m5 5h0m1 0h0m-6 4h0m6 5h0m0 5h0m-9 8h0m6 15h0m15-213h0m-6 25h0m4 3h0m2 10h0m-9 0h0m8 1h0m-4 1h0m4 2h0m-3 2h0m-4 3h0m6 1h0m-10 0h0m9 0h0m-3 3h0m5 0h0m0 3h0m-4 1h0m1 1h0m2 1h0m0 1h0m-8 1h0m8 0h0m-6 2h0m2 0h0m5 1h0m-2 0h0m1 1h0m1 1h0m-3 1h0m-4 0h0m3 1h0m-1 1h0m-2 1h0m-3 0h0m9 0h0m2 1h0m-7 0h0m2 1h0m-5 0h0m3 1h0m3 0h0m-2 0h0m-1 0h0m2 1h0m4 1h0m-9 0h0m10 0h0m-6 1h0m4 1h0m1 0h0m-1 1h0m-7 1h0m3 0h0m2 0h0m-4 0h0m5 1h0m0 1h0m-4 0h0m5 0h0m-6 0h0m-3 0h0m0 1h0m3 0h0m-1 0h0m5 0h0m1 1h0m2 0h0m0 0h0m-1 0h0m-9 0h0m0 0h0m10 1h0m-3 1h0m-5 0h0m8 1h0m-1 0h0m-7 1h0m0 1h0m-3 1h0m1 1h0m6 1h0m3 0h0m-4 1h0m2 0h0m1 1h0m-5 0h0m6 0h0m0 0h0m-2 1h0m-5 0h0m6 1h0m3 0h0m-1 1h0m0 2h0m-11 0h0m7 0h0m-6 1h0m4 0h0m3 0h0m-4 1h0m0 0h0m-3 1h0m4 0h0m1 1h0m-4 0h0m7 0h0m1 0h0m-2 1h0m-5 0h0m8 1h0m-8 0h0m0 0h0m5 0h0m3 1h0m-5 0h0m1 0h0m4 1h0m-9 0h0m10 0h0m-10 0h0m8 1h0m-2 0h0m-1 0h0m0 1h0m-1 0h0m5 0h0m-5 0h0m-5 0h0m9 1h0m-6 0h0m8 0h0m-3 1h0m-5 0h0m8 0h0m-4 0h0m4 0h0m0 0h0m-5 0h0m3 0h0m-2 1h0m-1 0h0m0 0h0m-4 1h0m2 0h0m4 0h0m-5 0h0m-3 1h0m0 1h0m4 0h0m7 1h0m-4 0h0m1 0h0m-7 0h0m6 1h0m0 0h0m-1 0h0m4 0h0m-6 1h0m5 0h0m1 0h0m-11 2h0m3 0h0m8 0h0m-5 0h0m0 1h0m2 2h0m4 0h0m-8 0h0m7 0h0m-9 1h0m5 0h0m5 1h0m-11 0h0m9 0h0m-7 0h0m5 0h0m-5 1h0m8 0h0m-10 0h0m9 0h0m-5 0h0m4 1h0m3 0h0m-5 1h0m1 0h0m-4 0h0m3 0h0m-1 1h0m1 0h0m-4 0h0m3 0h0m3 1h0m-5 1h0m7 0h0m0 0h0m-6 0h0m3 0h0m-5 0h0m4 1h0m-1 0h0m3 0h0m-1 1h0m0 0h0m0 1h0m-6 0h0m2 1h0m5 0h0m2 0h0m-2 0h0m2 1h0m-4 0h0m2 0h0m2 0h0m-1 0h0m1 1h0m0 0h0m-8 0h0m9 1h0m-5 0h0m4 1h0m0 0h0m-1 0h0m0 0h0m0 1h0m-9 1h0m9 0h0m-1 0h0m1 0h0m-2 0h0m1 0h0m-1 0h0m0 0h0m-2 1h0m-5 0h0m7 1h0m-1 0h0m2 1h0m-6 0h0m0 0h0m0 0h0m-2 1h0m10 0h0m-4 0h0m4 0h0m-4 1h0m-6 1h0m11 0h0m-1 0h0m-1 0h0m-2 0h0m2 1h0m-1 0h0m0 0h0m-9 1h0m3 0h0m0 0h0m2 0h0m6 0h0m-6 0h0m-2 0h0m2 1h0m5 0h0m-3 0h0m-3 0h0m7 0h0m-3 1h0m-2 0h0m2 0h0m2 0h0m-1 0h0m-8 1h0m6 0h0m2 1h0m-4 0h0m4 0h0m1 0h0m2 0h0m-4 0h0m-1 0h0m4 1h0m-5 0h0m5 1h0m-7 0h0m-2 0h0m7 0h0m-5 1h0m7 0h0m-2 0h0m0 1h0m-6 0h0m6 0h0m1 0h0m-3 1h0m4 0h0m-6 1h0m1 0h0m3 0h0m-3 0h0m-4 1h0m5 0h0m-3 1h0m6 1h0m-2 0h0m3 0h0m0 0h0m-4 1h0m-5 0h0m7 0h0m3 0h0m-7 0h0m5 0h0m-1 0h0m-1 1h0m-6 0h0m6 0h0m-4 1h0m0 1h0m3 0h0m-7 1h0m1 0h0m10 0h0m-10 1h0m7 0h0m2 0h0m0 0h0m-9 0h0m10 0h0m0 0h0m0 0h0m-3 1h0m-1 0h0m1 2h0m2 1h0m-9 0h0m9 1h0m-7 0h0m8 0h0m0 1h0m-2 0h0m-3 0h0m0 0h0m-4 1h0m9 0h0m-2 0h0m3 1h0m-10 0h0m4 0h0m3 1h0m-8 0h0m1 1h0m8 1h0m1 0h0m-1 2h0m-5 1h0m5 0h0m-2 0h0m-7 1h0m4 0h0m0 0h0m-2 1h0m1 0h0m7 2h0m0 0h0m-8 0h0m0 1h0m3 0h0m5 0h0m1 3h0m-9 1h0m-2 0h0m0 1h0m4 1h0m1 1h0m3 2h0m1 0h0m-4 0h0m2 3h0m-3 4h0m-1 2h0m3 7h0m0 1h0m-5 6h0m7 3h0m2 3h0m9-236h0m-4 5h0m4 19h0m-7 3h0m8 10h0m-8 2h0m1 2h0m3 2h0m6 0h0m-6 1h0m2 1h0m-1 1h0m-4 1h0m8 1h0m-4 2h0m-1 1h0m6 0h0m-7 0h0m6 0h0m-4 0h0m-4 0h0m8 1h0m-1 1h0m-7 0h0m6 1h0m3 0h0m-9 0h0m10 2h0m-10 1h0m4 0h0m5 0h0m-5 1h0m0 0h0m-1 1h0m-2 1h0m-2 0h0m11 0h0m-12 0h0m9 1h0m-8 0h0m6 1h0m-6 0h0m2 0h0m7 1h0m-2 0h0m-7 0h0m1 1h0m8 1h0m-10 0h0m12 1h0m-9 0h0m5 0h0m-8 0h0m11 1h0m-7 0h0m5 0h0m-4 0h0m3 1h0m1 1h0m-1 0h0m4 1h0m-6 0h0m-2 0h0m0 0h0m6 1h0m0 0h0m-1 1h0m3 0h0m-5 0h0m3 0h0m-6 0h0m2 1h0m-1 0h0m5 0h0m-10 0h0m11 1h0m1 0h0m-8 1h0m3 0h0m5 0h0m-12 1h0m9 0h0m2 0h0m-4 0h0m4 0h0m-4 1h0m2 0h0m2 0h0m-7 0h0m1 1h0m2 0h0m1 0h0m-3 1h0m0 0h0m-1 0h0m5 0h0m-5 0h0m-2 0h0m6 0h0m2 0h0m-5 0h0m0 0h0m2 1h0m3 0h0m0 0h0m-9 0h0m2 0h0m2 1h0m2 0h0m-4 0h0m-1 0h0m5 1h0m-5 0h0m2 0h0m0 0h0m6 0h0m1 0h0m-3 0h0m-4 0h0m0 0h0m3 1h0m-1 0h0m1 0h0m-4 0h0m1 0h0m-3 0h0m1 0h0m4 0h0m-4 1h0m1 0h0m-2 0h0m7 1h0m-1 0h0m2 0h0m-4 0h0m3 0h0m-5 0h0m3 1h0m-2 0h0m2 1h0m2 0h0m-5 0h0m2 0h0m2 1h0m-2 0h0m4 0h0m-2 1h0m-1 0h0m-1 0h0m-3 0h0m4 0h0m-1 1h0m0 0h0m-5 0h0m6 0h0m-3 0h0m2 2h0m2 0h0m-3 0h0m0 0h0m-2 0h0m2 1h0m-3 0h0m2 0h0m3 0h0m0 1h0m-2 0h0m-4 1h0m2 0h0m1 0h0m-1 0h0m0 0h0m5 1h0m-3 0h0m0 1h0m0 0h0m-2 0h0m3 2h0m0 1h0m-3 0h0m2 0h0m-2 2h0m1 0h0m3 0h0m-1 0h0m-2 0h0m0 0h0m1 1h0m1 1h0m0 0h0m-2 1h0m-1 0h0m2 1h0m-4 0h0m4 0h0m-3 0h0m1 0h0m2 1h0m1 0h0m-2 1h0m1 0h0m-1 1h0m2 0h0m-3 1h0m2 0h0m1 1h0m-2 0h0m2 1h0m-3 0h0m-1 0h0m1 1h0m-1 0h0m3 0h0m0 2h0m1 1h0m-1 0h0m0 0h0m-3 1h0m3 0h0m-4 0h0m5 0h0m0 1h0m-1 0h0m-2 0h0m1 0h0m-1 1h0m0 1h0m2 0h0m-2 1h0m0 0h0m2 1h0m0 1h0m-1 0h0m0 0h0m3 0h0m-1 0h0m-1 0h0m0 0h0m-2 0h0m-1 1h0m0 0h0m0 0h0m5 1h0m-1 0h0m-2 0h0m0 0h0m2 0h0m0 0h0m0 0h0m-4 1h0m2 0h0m1 0h0m0 1h0m-2 0h0m2 0h0m-1 1h0m2 0h0m-4 1h0m2 0h0m-2 0h0m-1 0h0m2 0h0m2 0h0m0 0h0m1 1h0m0 0h0m2 0h0m-2 1h0m-1 0h0m-3 0h0m2 0h0m0 0h0m0 0h0m3 0h0m0 1h0m-2 0h0m3 1h0m-2 0h0m2 0h0m-6 0h0m0 0h0m2 1h0m-3 0h0m5 0h0m-2 0h0m3 0h0m-5 1h0m5 0h0m0 1h0m0 0h0m-1 0h0m0 0h0m0 0h0m-4 1h0m5 0h0m-1 0h0m-5 0h0m4 1h0m-3 0h0m6 1h0m-2 0h0m-4 0h0m4 0h0m-2 1h0m4 0h0m-4 0h0m-1 1h0m3 0h0m-3 1h0m4 0h0m1 0h0m-6 0h0m3 0h0m0 0h0m-2 1h0m0 0h0m1 1h0m0 0h0m1 0h0m1 0h0m0 0h0m-3 0h0m0 1h0m3 0h0m0 0h0m-1 0h0m-1 0h0m3 1h0m-1 0h0m-2 1h0m2 0h0m0 1h0m-3 0h0m0 0h0m3 0h0m-2 1h0m-3 0h0m0 0h0m4 0h0m2 0h0m-1 0h0m-4 0h0m2 0h0m0 1h0m-1 0h0m1 0h0m0 0h0m-1 1h0m-1 0h0m-1 1h0m3 0h0m0 0h0m-3 0h0m3 0h0m0 1h0m-2 0h0m3 0h0m1 1h0m-1 0h0m-2 0h0m-1 0h0m0 0h0m2 0h0m-3 1h0m1 0h0m3 1h0m-1 1h0m-1 1h0m0 0h0m1 0h0m0 1h0m0 1h0m-3 0h0m0 0h0m3 0h0m-1 1h0m-1 0h0m0 1h0m0 0h0m2 1h0m0 0h0m0 0h0m0 1h0m-3 1h0m3 1h0m1 0h0m-1 0h0m1 1h0m-1 0h0m-2 2h0m0 1h0m-1 0h0m3 0h0m0 0h0m-1 1h0m1 0h0m-1 0h0m-1 1h0m0 0h0m3 2h0m0 1h0m-2 1h0m1 0h0m-1 0h0m2 1h0m-1 1h0m-3 1h0m4 1h0m-3 0h0m2 0h0m-2 1h0m0 0h0m1 0h0m-1 0h0m5 2h0m-1 0h0m-1 0h0m-1 1h0m3 0h0m-2 0h0m1 1h0m2 0h0m-5 0h0m2 0h0m0 0h0m1 0h0m1 0h0m0 1h0m0 0h0m-4 0h0m-1 0h0m5 0h0m2 0h0m0 1h0m-4 0h0m-4 0h0m2 0h0m5 0h0m0 1h0m-4 0h0m1 0h0m0 1h0m2 0h0m3 1h0m-3 0h0m2 1h0m-5 0h0m1 0h0m5 0h0m-3 1h0m0 0h0m-5 0h0m5 0h0m1 0h0m4 1h0m-10 0h0m4 0h0m6 0h0m-4 0h0m0 0h0m5 1h0m-11 0h0m2 0h0m8 0h0m-3 0h0m1 1h0m-3 0h0m5 0h0m-5 0h0m3 1h0m1 0h0m1 0h0m-5 0h0m2 0h0m-3 1h0m0 0h0m7 0h0m-3 0h0m3 1h0m-11 0h0m7 1h0m2 0h0m-7 0h0m7 1h0m0 0h0m-1 0h0m-1 1h0m0 1h0m-3 2h0m4 1h0m-3 0h0m6 3h0m-2 1h0m1 2h0m-7 0h0m5 0h0m-2 1h0m3 0h0m-6 1h0m2 2h0m1 0h0m3 1h0m-4 1h0m-4 0h0m5 1h0m-1 0h0m-4 1h0m7 3h0m-2 1h0m4 0h0m-5 1h0m3 2h0m3 1h0m0 0h0m2-213h0m1 6h0m9 8h0m-8 1h0m7 2h0m-9 0h0m4 2h0m4 1h0m-8 1h0m0 0h0m2 1h0m-4 1h0m10 0h0m0 0h0m-10 0h0m11 1h0m-1 0h0m-7 0h0m0 0h0m-2 1h0m1 1h0m3 0h0m4 1h0m-6 1h0m0 1h0m8 1h0m-7 0h0m-3 1h0m2 1h0m4 0h0m-6 0h0m10 0h0m-6 1h0m5 0h0m-9 1h0m5 0h0m1 1h0m5 0h0m0 1h0m-1 0h0m-9 0h0m4 0h0m-1 2h0m0 0h0m-3 0h0m-1 0h0m11 0h0m-9 1h0m3 0h0m-3 0h0m8 0h0m-1 0h0m-2 1h0m-6 0h0m4 0h0m6 1h0m0 1h0m-4 0h0m-1 1h0m4 0h0m-9 0h0m10 0h0m-10 0h0m10 0h0m-4 1h0m1 0h0m-4 0h0m-2 0h0m-2 1h0m6 0h0m-5 0h0m2 0h0m7 1h0m-4 0h0m-5 0h0m8 0h0m-1 0h0m-2 1h0m1 0h0m-4 0h0m3 1h0m3 0h0m-5 0h0m7 0h0m-10 0h0m4 0h0m-2 1h0m4 0h0m0 0h0m3 0h0m-4 0h0m-2 0h0m1 0h0m-3 0h0m6 1h0m-5 0h0m2 0h0m-2 0h0m1 1h0m1 0h0m1 0h0m-6 0h0m4 0h0m-1 1h0m-1 0h0m3 1h0m-2 0h0m-3 0h0m5 0h0m-2 0h0m0 1h0m-1 0h0m1 2h0m-1 0h0m-1 1h0m-1 1h0m1 1h0m0 0h0m1 2h0m-2 2h0m0 120h0m2 0h0m1 0h0m-3 1h0m4 0h0m-4 0h0m2 0h0m-1 0h0m2 0h0m-2 1h0m-2 0h0m2 1h0m5 0h0m-7 0h0m4 0h0m0 1h0m4 0h0m4 1h0m-6 0h0m0 0h0m1 0h0m5 0h0m-1 0h0m-10 0h0m10 0h0m1 1h0m0 0h0m-10 0h0m-1 0h0m4 0h0m0 1h0m-3 0h0m8 0h0m-3 0h0m2 0h0m1 0h0m0 1h0m-1 0h0m2 0h0m-10 0h0m-1 0h0m9 0h0m3 0h0m-3 1h0m-9 0h0m3 0h0m3 0h0m3 0h0m-7 0h0m3 1h0m4 0h0m-8 0h0m10 0h0m-7 0h0m6 0h0m1 0h0m-10 1h0m10 0h0m-1 1h0m-4 0h0m2 0h0m-3 0h0m-1 0h0m3 0h0m1 0h0m-4 1h0m1 0h0m-5 0h0m10 1h0m-2 0h0m-8 1h0m1 1h0m1 0h0m6 1h0m-5 1h0m8 1h0m-1 0h0m1 1h0m-10 0h0m0 1h0m4 0h0m7 0h0m-2 1h0m2 0h0m-11 0h0m6 1h0m-5 0h0m4 2h0m-2 1h0m-3 1h0m2 5h0m0 2h0m7 5h0m14-264h0m-8 29h0m-3 9h0m7 0h0m-1 2h0m2 0h0m3 0h0m-8 3h0m3 3h0m-6 1h0m8 0h0m1 0h0m0 5h0m0 2h0m-3 0h0m1 0h0m-6 1h0m5 0h0m4 2h0m-11 1h0m7 1h0m-2 1h0m-4 0h0m1 0h0m1 0h0m-2 1h0m2 0h0m3 0h0m2 1h0m2 0h0m-7 1h0m6 0h0m-3 0h0m1 1h0m2 1h0m1 0h0m-5 0h0m5 0h0m-7 0h0m7 1h0m-2 1h0m1 1h0m2 0h0m1 0h0m0 1h0m-8 0h0m3 0h0m-2 0h0m0 1h0m-4 1h0m10 0h0m1 0h0m-6 0h0m-5 1h0m7 1h0m-2 0h0m-5 0h0m5 1h0m4 0h0m-1 1h0m-7 0h0m1 0h0m1 1h0m1 0h0m-4 0h0m9 0h0m-7 0h0m7 1h0m-9 0h0m8 0h0m-5 1h0m-3 0h0m9 0h0m0 0h0m-6 0h0m0 1h0m2 0h0m0 0h0m5 0h0m1 0h0m-6 0h0m-4 1h0m-1 0h0m7 0h0m2 0h0m-6 0h0m0 0h0m-1 0h0m0 0h0m-3 0h0m3 1h0m-1 0h0m9 0h0m-4 1h0m-5 0h0m1 0h0m3 1h0m0 0h0m-2 0h0m1 0h0m-5 0h0m3 1h0m-1 1h0m0 1h0m0 0h0m-1 0h0m2 0h0m2 0h0m-4 1h0m3 0h0m-2 0h0m6 143h0m4 0h0m-5 1h0m-3 0h0m0 0h0m4 0h0m-3 0h0m-2 0h0m3 0h0m-4 0h0m9 0h0m-1 0h0m-5 1h0m5 0h0m0 0h0m-8 0h0m9 0h0m-7 0h0m2 0h0m1 0h0m-2 0h0m-2 0h0m3 1h0m-2 0h0m2 0h0m-4 1h0m1 0h0m-1 0h0m4 0h0m5 1h0m-10 0h0m9 0h0m1 0h0m-11 0h0m10 0h0m2 1h0m-9 0h0m0 0h0m4 0h0m4 0h0m0 0h0m-10 1h0m4 0h0m1 0h0m6 0h0m-10 0h0m5 0h0m-4 0h0m0 0h0m5 1h0m3 0h0m-8 0h0m-1 0h0m-1 0h0m5 0h0m0 0h0m-4 0h0m3 1h0m2 0h0m2 0h0m2 0h0m-5 0h0m0 0h0m-3 0h0m5 1h0m-4 0h0m6 0h0m1 0h0m-8 0h0m-2 1h0m3 0h0m4 0h0m-6 1h0m5 0h0m4 1h0m-8 2h0m3 1h0m-3 0h0m1 0h0m-3 2h0m9 1h0m-5 0h0m4 2h0m-3 0h0m-5 2h0m3 2h0m5 1h0m-7 1h0m7 0h0m-6 1h0m4 1h0m5 5h0m0-276h0m1 39h0m8 7h0m-6 2h0m1 0h0m-2 3h0m3 5h0m4 2h0m-8 4h0m6 0h0m-4 0h0m5 1h0m-2 2h0m1 1h0m3 0h0m0 1h0m-8 1h0m6 0h0m0 0h0m-1 1h0m1 0h0m3 0h0m-7 1h0m1 0h0m4 1h0m0 1h0m1 0h0m-8 1h0m5 1h0m-6 0h0m9 0h0m-6 1h0m3 0h0m-2 0h0m3 1h0m2 0h0m-9 1h0m10 0h0m-5 0h0m6 0h0m-10 1h0m-1 0h0m5 1h0m-2 1h0m6 0h0m-5 0h0m-3 0h0m3 0h0m1 1h0m2 0h0m-4 0h0m-2 1h0m7 0h0m-2 0h0m3 1h0m-8 0h0m7 0h0m-1 0h0m-4 0h0m6 0h0m-5 0h0m-3 0h0m4 0h0m-2 1h0m1 1h0m2 0h0m-4 0h0m3 0h0m-6 1h0m12 0h0m-9 0h0m1 0h0m2 0h0m-5 0h0m10 2h0m-9 0h0m4 0h0m-2 0h0m1 1h0m5 0h0m0 0h0m2 0h0m-4 0h0m0 1h0m0 0h0m4 0h0m-11 0h0m6 0h0m4 0h0m-4 1h0m-6 0h0m-1 0h0m2 0h0m2 0h0m-3 1h0m-1 0h0m3 0h0m9 142h0m-2 2h0m0 1h0m1 1h0m-2 0h0m0 0h0m3 0h0m-6 0h0m1 0h0m1 1h0m-2 0h0m3 0h0m1 0h0m0 1h0m-1 0h0m-6 0h0m5 0h0m2 0h0m0 0h0m-5 0h0m-4 0h0m9 0h0m-7 0h0m2 1h0m-1 0h0m2 0h0m-1 0h0m4 0h0m-2 0h0m3 1h0m-6 0h0m1 0h0m4 0h0m-4 0h0m-3 0h0m-1 1h0m5 0h0m2 0h0m1 0h0m-8 0h0m2 1h0m4 0h0m-7 1h0m3 0h0m7 0h0m-9 0h0m8 0h0m2 0h0m-4 1h0m-5 0h0m8 0h0m-7 1h0m-1 0h0m4 0h0m2 0h0m-1 0h0m1 0h0m1 0h0m-4 0h0m4 0h0m-8 1h0m6 0h0m2 0h0m-4 1h0m-2 0h0m4 0h0m-2 0h0m4 1h0m1 0h0m-5 1h0m-5 0h0m2 1h0m0 0h0m7 1h0m2 0h0m-4 2h0m0 0h0m3 2h0m-6 0h0m-1 0h0m0 0h0m2 2h0m-4 2h0m1 1h0m6 1h0m-5 0h0m3 1h0m5 5h0m5-265h0m-2 28h0m-2 3h0m8 4h0m-1 0h0m-1 16h0m4 1h0m-6 2h0m3 1h0m4 0h0m-4 0h0m-6 1h0m6 0h0m-3 1h0m4 1h0m-3 0h0m-1 1h0m-3 2h0m10 0h0m-10 2h0m7 1h0m-6 1h0m1 1h0m4 0h0m1 0h0m-3 1h0m5 0h0m-4 0h0m1 1h0m1 0h0m-2 1h0m1 0h0m4 1h0m-3 0h0m-2 1h0m5 0h0m-3 1h0m-1 0h0m-4 0h0m4 0h0m2 0h0m-3 1h0m-5 0h0m7 0h0m-3 0h0m-1 1h0m0 0h0m-3 1h0m5 1h0m0 0h0m-2 0h0m4 1h0m-7 0h0m6 0h0m5 0h0m-3 0h0m2 0h0m-9 1h0m0 1h0m0 0h0m4 0h0m4 0h0m-2 0h0m-5 0h0m5 1h0m-8 0h0m8 0h0m4 0h0m-10 0h0m9 0h0m-11 2h0m8 0h0m0 0h0m3 0h0m0 0h0m0 0h0m-9 1h0m9 0h0m-4 0h0m-3 0h0m-4 0h0m1 0h0m8 0h0m-6 1h0m2 0h0m-2 0h0m6 0h0m1 1h0m-9 0h0m4 0h0m-4 0h0m9 0h0m-3 0h0m0 0h0m4 0h0m-4 0h0m-5 1h0m-1 0h0m3 0h0m-2 0h0m7 0h0m1 0h0m-6 0h0m5 1h0m3 122h0m-1 1h0m1 0h0m0 1h0m0 0h0m-1 1h0m-1 0h0m0 1h0m1 0h0m0 0h0m0 0h0m0 2h0m-1 0h0m1 0h0m0 1h0m-1 0h0m1 0h0m-1 0h0m1 1h0m-2 1h0m2 0h0m-1 1h0m-1 0h0m1 1h0m-2 0h0m1 1h0m0 0h0m-1 1h0m2 0h0m-4 0h0m0 1h0m2 0h0m-3 1h0m2 0h0m-3 0h0m3 0h0m0 1h0m-2 0h0m1 1h0m-1 0h0m6 1h0m-8 0h0m6 0h0m2 0h0m-7 0h0m-1 0h0m-1 1h0m7 0h0m2 0h0m0 1h0m-9 0h0m4 0h0m-1 0h0m2 1h0m3 0h0m1 0h0m-5 0h0m-3 1h0m-2 0h0m9 1h0m-8 0h0m-1 0h0m3 0h0m-1 0h0m-1 0h0m3 0h0m-2 0h0m5 1h0m-7 0h0m1 0h0m6 0h0m-6 0h0m3 1h0m4 0h0m-4 0h0m0 0h0m-3 1h0m3 1h0m-1 0h0m5 0h0m-9 0h0m2 0h0m3 1h0m5 0h0m-2 1h0m-6 1h0m10 0h0m-11 0h0m0 0h0m6 1h0m2 1h0m-4 0h0m-3 1h0m3 0h0m1 1h0m3 0h0m-5 0h0m8 0h0m-6 0h0m-3 2h0m5 1h0m3 0h0m-1 1h0m-8 1h0m2 0h0m4 2h0m0 1h0m-8 6h0m7 2h0m-1 2h0m-5 3h0m8 2h0m13-259h0m-3 30h0m-6 3h0m1 0h0m5 1h0m-2 1h0m-3 1h0m6 2h0m-4 4h0m8 3h0m-8 1h0m8 1h0m-8 0h0m8 2h0m-4 1h0m0 0h0m-3 0h0m-1 0h0m7 1h0m-4 0h0m4 1h0m-11 1h0m9 0h0m1 0h0m-4 1h0m6 0h0m-7 2h0m1 2h0m3 0h0m-5 0h0m6 1h0m-8 1h0m3 0h0m7 1h0m-1 0h0m-5 0h0m-2 0h0m-4 1h0m7 0h0m-6 0h0m10 1h0m-1 0h0m-8 0h0m8 1h0m-6 0h0m1 0h0m4 2h0m1 0h0m1 0h0m1 0h0m-3 0h0m-1 1h0m0 0h0m4 0h0m-7 0h0m5 0h0m-2 0h0m-3 0h0m0 1h0m-1 0h0m1 1h0m6 0h0m-7 0h0m4 0h0m-8 1h0m2 0h0m9 0h0m-1 1h0m-4 0h0m5 0h0m-6 0h0m4 0h0m0 0h0m-1 0h0m-2 1h0m3 0h0m1 0h0m-10 1h0m2 0h0m1 0h0m7 0h0m-5 1h0m-2 0h0m5 0h0m-7 0h0m6 0h0m4 1h0m-10 0h0m7 0h0m-7 0h0m0 0h0m10 0h0m0 1h0m0 0h0m0 0h0m1 0h0m-4 0h0m-2 0h0m-5 0h0m6 1h0m1 0h0m-7 0h0m8 0h0m-5 0h0m-4 0h0m10 0h0m-4 0h0m4 0h0m-3 0h0m2 0h0m-5 1h0m-4 0h0m2 0h0m8 0h0m-3 0h0m0 0h0m-6 1h0m10 0h0m-11 0h0m9 0h0m-2 1h0m2 0h0m-4 0h0m0 0h0m-5 0h0m1 0h0m10 83h0m0 0h0m0 1h0m0 1h0m-1 0h0m1 1h0m-1 0h0m2 1h0m-1 0h0m-1 0h0m0 0h0m-1 1h0m1 0h0m-1 0h0m-2 0h0m5 1h0m-2 0h0m0 0h0m0 0h0m-3 1h0m0 0h0m-1 0h0m4 0h0m0 1h0m-4 0h0m2 0h0m2 0h0m-3 0h0m-1 0h0m1 0h0m1 0h0m3 0h0m-3 0h0m-1 1h0m0 0h0m3 0h0m0 0h0m-2 0h0m2 0h0m-5 1h0m4 0h0m-3 0h0m2 1h0m-1 0h0m-1 0h0m0 1h0m5 0h0m-3 0h0m2 0h0m-4 0h0m0 1h0m1 0h0m-1 0h0m5 0h0m-6 1h0m3 0h0m2 0h0m-3 0h0m0 0h0m1 1h0m2 0h0m1 0h0m-7 1h0m1 0h0m1 0h0m1 0h0m0 1h0m-3 0h0m0 1h0m5 0h0m0 0h0m0 0h0m3 0h0m-3 0h0m-5 1h0m2 0h0m2 0h0m-2 0h0m-3 0h0m7 0h0m-7 1h0m6 0h0m-1 0h0m-5 1h0m4 0h0m-4 0h0m1 1h0m2 0h0m-1 0h0m6 0h0m-1 0h0m-5 0h0m4 1h0m-3 0h0m-1 0h0m-2 0h0m1 0h0m0 0h0m3 0h0m5 1h0m-4 0h0m1 0h0m-5 0h0m8 0h0m-5 0h0m0 0h0m1 0h0m1 1h0m-1 0h0m1 0h0m1 0h0m-6 0h0m2 0h0m4 0h0m-4 1h0m5 0h0m-8 0h0m2 0h0m-1 0h0m6 0h0m-3 0h0m-1 0h0m-3 1h0m6 0h0m1 0h0m2 0h0m-8 0h0m-2 0h0m1 2h0m1 0h0m3 1h0m2 0h0m-2 0h0m-4 0h0m0 1h0m0 0h0m2 0h0m-4 1h0m1 0h0m4 0h0m3 0h0m-2 0h0m-1 1h0m-3 0h0m3 0h0m6 0h0m-6 0h0m1 0h0m-3 0h0m6 1h0m-6 0h0m3 0h0m-4 0h0m3 0h0m3 0h0m-6 1h0m1 0h0m3 0h0m-4 0h0m-1 0h0m6 1h0m-7 0h0m3 0h0m2 0h0m1 0h0m1 1h0m-2 0h0m2 0h0m-8 0h0m1 1h0m2 0h0m-1 0h0m2 0h0m2 0h0m-3 0h0m1 0h0m0 0h0m0 1h0m-3 0h0m4 0h0m-4 0h0m0 0h0m5 0h0m-5 1h0m0 0h0m0 0h0m0 0h0m2 0h0m1 0h0m3 0h0m3 0h0m-6 1h0m-2 0h0m1 0h0m4 0h0m-3 0h0m-3 2h0m3 0h0m-2 0h0m-1 0h0m9 0h0m-4 1h0m4 0h0m-10 2h0m2 0h0m7 0h0m-8 0h0m11 1h0m-9 0h0m5 0h0m-8 1h0m8 0h0m-2 0h0m-1 0h0m-3 1h0m5 0h0m0 0h0m-4 1h0m8 0h0m-10 0h0m0 1h0m8 0h0m-2 0h0m-2 0h0m3 1h0m-5 0h0m0 0h0m3 1h0m3 2h0m-1 0h0m-4 2h0m0 0h0m-3 1h0m1 1h0m8 0h0m-8 3h0m-2 0h0m7 3h0m-6 0h0m1 0h0m-1 2h0m1 2h0m6 1h0m-7 0h0m8 3h0m-5 1h0m-3 0h0m1 0h0m6 1h0m-3 1h0m1 5h0m1 4h0m-5 5h0m12-254h0m2 21h0m8 3h0m-2 6h0m-10 12h0m9 0h0m-7 2h0m9 0h0m-10 1h0m2 0h0m8 0h0m0 3h0m-6 2h0m3 0h0m0 0h0m2 1h0m-1 1h0m2 0h0m-6 1h0m2 1h0m-2 0h0m0 1h0m-3 0h0m7 0h0m-4 0h0m6 0h0m-2 1h0m-8 0h0m9 2h0m-4 0h0m-1 1h0m-3 0h0m-2 1h0m5 1h0m5 0h0m2 0h0m-9 1h0m5 0h0m-5 2h0m8 0h0m-4 0h0m-4 0h0m6 1h0m-1 0h0m-5 0h0m7 0h0m-5 1h0m5 0h0m-2 0h0m-5 0h0m6 0h0m-1 1h0m-4 1h0m4 0h0m-6 0h0m9 0h0m-4 0h0m-2 1h0m3 0h0m1 0h0m-5 0h0m5 0h0m-5 0h0m7 0h0m-1 1h0m-2 0h0m2 1h0m-7 0h0m4 0h0m3 0h0m-7 0h0m1 0h0m7 0h0m-1 1h0m-8 0h0m4 0h0m-4 0h0m9 0h0m0 0h0m-1 0h0m-4 1h0m2 0h0m-3 0h0m-2 0h0m6 0h0m-4 0h0m5 1h0m-1 1h0m-9 0h0m2 0h0m2 1h0m4 0h0m-5 0h0m-3 0h0m5 0h0m-3 1h0m3 0h0m0 0h0m1 0h0m-6 0h0m1 0h0m2 0h0m-1 1h0m-2 0h0m0 0h0m2 1h0m9 70h0m1 0h0m-2 2h0m1 0h0m-2 0h0m0 1h0m2 0h0m-5 1h0m3 0h0m-1 0h0m1 1h0m-3 0h0m0 0h0m0 0h0m4 0h0m1 0h0m-5 0h0m-1 0h0m0 1h0m5 0h0m0 0h0m-4 0h0m-2 0h0m0 1h0m0 0h0m0 0h0m8 0h0m-2 0h0m-1 0h0m-4 0h0m5 1h0m1 0h0m-7 0h0m-1 0h0m5 0h0m2 0h0m-5 1h0m0 0h0m-3 0h0m6 0h0m-3 0h0m-1 0h0m3 1h0m-2 0h0m0 0h0m-4 0h0m10 0h0m-5 0h0m-3 0h0m0 1h0m4 0h0m-6 0h0m7 1h0m-6 0h0m0 0h0m9 0h0m-9 0h0m1 0h0m4 1h0m-4 0h0m7 0h0m-5 0h0m-5 0h0m3 1h0m-3 0h0m10 0h0m-5 0h0m-4 0h0m7 1h0m2 0h0m-8 0h0m1 0h0m-1 0h0m1 0h0m-1 1h0m8 0h0m-2 1h0m-7 0h0m10 0h0m1 0h0m-5 0h0m-6 1h0m6 0h0m-1 0h0m0 0h0m5 1h0m-6 0h0m5 0h0m-5 0h0m-3 0h0m3 0h0m4 0h0m-8 1h0m6 0h0m2 0h0m2 1h0m-5 0h0m-2 0h0m1 0h0m5 0h0m-7 1h0m6 0h0m0 0h0m-6 0h0m0 0h0m-3 1h0m1 1h0m1 1h0m5 0h0m-4 1h0m6 0h0m-1 0h0m-2 1h0m0 1h0m-5 0h0m4 0h0m0 0h0m4 0h0m3 0h0m-5 0h0m1 0h0m-8 0h0m2 0h0m2 0h0m-4 1h0m1 0h0m5 0h0m-5 1h0m11 1h0m-4 0h0m-7 0h0m-1 0h0m10 0h0m0 1h0m0 0h0m0 0h0m-9 1h0m8 0h0m-5 0h0m-2 0h0m9 0h0m-6 0h0m-4 1h0m1 1h0m0 0h0m5 0h0m-2 1h0m0 0h0m6 0h0m-8 1h0m-3 0h0m2 1h0m0 0h0m-2 0h0m5 1h0m-4 1h0m1 1h0m2 0h0m2 0h0m-4 1h0m5 0h0m-6 1h0m0 0h0m1 0h0m-1 1h0m3 0h0m-4 0h0m7 2h0m-4 0h0m-1 1h0m4 1h0m3 2h0m-7 0h0m-2 0h0m0 0h0m1 0h0m-1 3h0m4 1h0m-3 1h0m3 1h0m1 1h0m-5 1h0m1 0h0m2 1h0m1 0h0m8 1h0m-7 1h0m6 1h0m-10 1h0m3 1h0m-4 1h0m5 2h0m-5 0h0m11 0h0m-7 1h0m4 10h0m-1 9h0m6-217h0m2 4h0m0 10h0m1 2h0m3 0h0m4 0h0m-8 1h0m2 1h0m1 0h0m-2 1h0m3 2h0m0 1h0m-7 0h0m7 1h0m1 0h0m2 3h0m-9 1h0m9 3h0m2 0h0m-6 1h0m-4 0h0m7 2h0m-4 0h0m-2 1h0m-2 0h0m10 0h0m-10 0h0m10 0h0m-9 0h0m-2 0h0m7 0h0m-1 1h0m-2 0h0m5 1h0m-2 0h0m0 0h0m-6 1h0m0 0h0m11 0h0m-11 0h0m4 1h0m5 0h0m0 0h0m1 0h0m-4 1h0m-3 0h0m7 0h0m0 0h0m0 0h0m-7 1h0m5 0h0m-2 1h0m-3 0h0m-3 0h0m8 0h0m-8 0h0m7 1h0m1 0h0m-7 0h0m4 0h0m4 0h0m-5 1h0m1 0h0m4 0h0m-6 1h0m8 0h0m-2 0h0m-3 0h0m-2 0h0m-3 0h0m9 0h0m0 0h0m0 0h0m-2 0h0m1 0h0m-6 0h0m-2 1h0m10 0h0m-1 0h0m-4 1h0m-2 0h0m7 0h0m-7 0h0m7 0h0m-1 0h0m-2 0h0m-8 0h0m2 1h0m0 0h0m5 0h0m-2 0h0m-4 0h0m1 0h0m-3 0h0m5 0h0m-1 0h0m1 0h0m1 1h0m3 0h0m0 0h0m-3 0h0m0 1h0m1 0h0m0 0h0m-2 0h0m1 0h0m-4 0h0m0 0h0m1 1h0m2 0h0m-5 1h0m0 0h0m2 1h0m-1 0h0m0 1h0m11 71h0m-2 1h0m1 0h0m1 0h0m-3 0h0m3 1h0m-5 1h0m-1 0h0m2 0h0m-3 0h0m7 0h0m-6 0h0m-4 1h0m3 0h0m3 0h0m3 0h0m-9 0h0m2 0h0m-1 0h0m3 0h0m3 1h0m1 0h0m-5 0h0m0 0h0m4 0h0m-3 1h0m-2 0h0m1 0h0m-1 0h0m3 0h0m-7 0h0m2 0h0m10 1h0m-10 0h0m1 0h0m3 0h0m-2 0h0m8 1h0m0 0h0m-4 0h0m-5 0h0m-1 0h0m4 0h0m6 0h0m0 0h0m-6 1h0m1 0h0m2 0h0m-8 0h0m2 1h0m-2 0h0m5 0h0m0 0h0m-2 0h0m-1 0h0m3 0h0m-3 1h0m4 0h0m-7 0h0m5 1h0m3 0h0m-4 0h0m-3 0h0m1 1h0m-1 0h0m4 0h0m4 0h0m-8 0h0m2 0h0m3 0h0m4 1h0m0 0h0m0 0h0m1 0h0m-5 1h0m-5 0h0m8 1h0m-4 0h0m-3 0h0m1 0h0m6 0h0m-7 0h0m3 0h0m-3 0h0m8 1h0m-1 0h0m-5 0h0m5 1h0m-1 0h0m-5 0h0m4 1h0m-5 1h0m0 0h0m3 0h0m5 1h0m0 1h0m-7 0h0m8 0h0m-11 0h0m9 1h0m-6 0h0m4 0h0m-7 1h0m1 0h0m9 1h0m-1 1h0m-9 1h0m8 1h0m-4 0h0m4 1h0m-3 0h0m6 0h0m-10 1h0m9 0h0m-7 0h0m-2 1h0m1 0h0m3 0h0m1 1h0m-3 0h0m3 1h0m-4 1h0m5 0h0m-1 0h0m-3 1h0m1 1h0m1 1h0m-4 1h0m0 2h0m1 4h0m0 2h0m0 1h0m2 3h0m3 1h0m-5 3h0m5 1h0m3 1h0m-5 2h0m2 2h0m-1 3h0m2 24h0m13-207h0m3 2h0m-4 1h0m2 3h0m0 2h0m-7 0h0m3 1h0m4 5h0m0 0h0m0 1h0m1 1h0m1 2h0m-3 0h0m1 1h0m-3 1h0m2 0h0m3 1h0m-10 1h0m1 0h0m8 0h0m1 1h0m-8 0h0m-2 0h0m-1 1h0m9 0h0m-5 1h0m-4 0h0m6 0h0m0 1h0m4 0h0m-10 0h0m8 1h0m2 0h0m-6 0h0m1 0h0m5 0h0m-9 0h0m3 1h0m5 0h0m-4 0h0m5 0h0m-1 0h0m-10 0h0m7 0h0m3 1h0m-4 0h0m0 1h0m-1 0h0m1 0h0m0 0h0m4 0h0m1 0h0m-5 1h0m-5 0h0m10 0h0m1 0h0m-1 0h0m-4 0h0m2 0h0m2 0h0m0 0h0m-2 0h0m-8 1h0m10 0h0m-3 0h0m-4 0h0m-1 1h0m-3 0h0m5 0h0m5 0h0m-6 0h0m-2 0h0m9 0h0m-8 0h0m-1 0h0m4 1h0m-6 0h0m6 0h0m4 0h0m0 0h0m-3 0h0m4 0h0m-2 1h0m-3 0h0m-4 0h0m5 1h0m-1 0h0m1 0h0m-2 0h0m2 0h0m0 1h0m-2 0h0m-1 0h0m-2 0h0m2 0h0m1 0h0m-1 1h0m-3 0h0m2 0h0m1 1h0m0 0h0m-2 0h0m1 0h0m-1 1h0m1 0h0m-1 0h0m-1 0h0m0 1h0m11 74h0m-3 1h0m-3 1h0m4 1h0m1 0h0m-1 0h0m-4 1h0m-2 0h0m-1 0h0m-2 1h0m5 0h0m-4 0h0m7 0h0m-5 0h0m1 0h0m1 0h0m-2 1h0m1 0h0m6 0h0m-2 0h0m1 0h0m-9 1h0m3 0h0m3 0h0m-2 0h0m1 0h0m3 1h0m-3 0h0m6 0h0m-10 0h0m8 1h0m2 0h0m-10 0h0m2 0h0m-2 1h0m0 0h0m2 0h0m8 0h0m-9 0h0m-2 0h0m0 0h0m8 1h0m-2 0h0m-1 0h0m-2 0h0m1 1h0m3 0h0m0 0h0m4 0h0m-4 0h0m4 1h0m-2 0h0m1 0h0m-7 0h0m0 1h0m5 0h0m-3 0h0m-5 0h0m5 0h0m1 0h0m4 1h0m-2 1h0m-4 0h0m-1 0h0m-2 1h0m5 0h0m4 0h0m-8 0h0m8 1h0m-1 0h0m0 0h0m-3 0h0m-1 0h0m0 1h0m0 0h0m-3 1h0m0 0h0m4 0h0m-2 0h0m5 2h0m-8 1h0m1 2h0m-1 1h0m5 0h0m-2 1h0m2 2h0m-7 1h0m11 2h0m-5 0h0m-4 0h0m3 6h0m1 21h0m5 37h0m8-223h0m-4 0h0m7 7h0m-3 1h0m-2 1h0m-1 3h0m3 0h0m4 1h0m-7 0h0m2 3h0m4 3h0m0 1h0m-6 1h0m8 0h0m-3 1h0m-2 1h0m3 0h0m1 0h0m-6 0h0m4 0h0m3 0h0m-4 1h0m-6 0h0m2 1h0m3 0h0m0 0h0m1 1h0m-1 1h0m2 0h0m3 0h0m-7 0h0m7 0h0m-1 0h0m-1 1h0m0 0h0m-4 1h0m0 0h0m-2 0h0m2 0h0m4 1h0m1 0h0m-5 0h0m-4 0h0m6 0h0m0 1h0m-3 0h0m2 0h0m4 0h0m-1 0h0m1 0h0m-1 0h0m0 0h0m1 1h0m-9 0h0m4 0h0m5 1h0m-1 0h0m0 0h0m2 0h0m-3 1h0m1 0h0m-7 0h0m8 0h0m-7 0h0m4 1h0m2 0h0m0 0h0m-7 0h0m1 0h0m0 0h0m4 0h0m-2 0h0m-3 0h0m2 0h0m-1 0h0m-1 1h0m-1 0h0m0 0h0m0 0h0m-1 0h0m-1 1h0m6 0h0m-1 0h0m2 1h0m-2 0h0m-1 0h0m-4 1h0m1 0h0m1 0h0m-1 0h0m3 1h0m0 0h0m-2 0h0m-1 0h0m0 0h0m0 2h0m0 1h0m0 1h0m-1 0h0m10 75h0m-1 1h0m2 2h0m-1 0h0m0 1h0m-1 0h0m-2 0h0m3 0h0m-5 1h0m4 0h0m-1 0h0m2 0h0m-6 0h0m-2 0h0m9 1h0m-8 0h0m2 0h0m4 1h0m-8 0h0m-1 0h0m3 0h0m0 0h0m0 0h0m8 1h0m-1 0h0m-7 0h0m1 1h0m3 0h0m-2 0h0m6 0h0m-8 0h0m4 1h0m-4 0h0m-2 0h0m2 1h0m-3 0h0m10 0h0m-10 0h0m7 0h0m-5 1h0m1 0h0m1 0h0m1 0h0m5 1h0m-9 0h0m11 0h0m-2 1h0m-7 0h0m1 1h0m5 0h0m-6 0h0m-1 1h0m-2 0h0m1 0h0m6 0h0m-4 0h0m9 1h0m-7 1h0m-1 0h0m-4 0h0m4 0h0m0 2h0m0 0h0m8 0h0m-5 0h0m-2 1h0m6 0h0m-3 1h0m-7 0h0m3 1h0m4 0h0m-4 1h0m1 0h0m-2 1h0m-1 1h0m-1 2h0m-1 0h0m6 2h0m5 2h0m-7 3h0m3 7h0m17-180h0m-3 13h0m2 7h0m-9 1h0m-1 2h0m10 1h0m-3 1h0m-5 1h0m8 1h0m-1 1h0m-8 1h0m5 0h0m3 1h0m-8 1h0m1 0h0m2 1h0m1 0h0m3 0h0m1 1h0m-8 1h0m5 0h0m0 1h0m0 0h0m-7 0h0m7 0h0m-4 1h0m2 0h0m0 0h0m4 0h0m0 0h0m-4 1h0m7 0h0m-3 0h0m-4 0h0m6 1h0m-1 0h0m-6 0h0m6 0h0m2 0h0m-1 0h0m-9 1h0m6 0h0m-2 0h0m-6 0h0m11 0h0m-6 1h0m4 0h0m2 0h0m-2 0h0m-8 1h0m9 0h0m-8 0h0m5 0h0m0 0h0m1 1h0m2 0h0m-2 0h0m-3 0h0m3 0h0m3 0h0m-9 1h0m6 0h0m-1 0h0m3 0h0m-7 0h0m1 0h0m6 0h0m0 0h0m-3 0h0m2 0h0m-9 0h0m2 1h0m6 0h0m-1 0h0m-1 0h0m-3 1h0m5 0h0m-2 0h0m-2 0h0m-2 0h0m2 1h0m1 0h0m2 0h0m-5 1h0m-2 0h0m2 0h0m2 0h0m-4 1h0m3 0h0m-2 1h0m0 0h0m1 1h0m-2 0h0m10 77h0m0 0h0m-1 0h0m0 1h0m-2 1h0m2 0h0m2 1h0m-3 0h0m0 0h0m1 0h0m-2 0h0m3 0h0m-2 0h0m-2 1h0m2 0h0m3 0h0m-2 0h0m2 0h0m0 0h0m-3 0h0m-2 0h0m-1 0h0m1 1h0m2 0h0m-2 0h0m-2 1h0m3 0h0m0 0h0m-3 0h0m1 1h0m-1 0h0m1 0h0m4 0h0m-4 0h0m1 1h0m-3 0h0m1 0h0m8 0h0m-6 0h0m-3 0h0m1 1h0m0 0h0m7 0h0m-10 0h0m3 0h0m3 0h0m-1 1h0m-3 0h0m6 1h0m-2 0h0m-6 0h0m5 0h0m-3 0h0m2 0h0m-4 1h0m1 0h0m6 0h0m2 0h0m-9 0h0m8 0h0m0 1h0m-7 1h0m-1 0h0m3 0h0m1 1h0m3 0h0m-2 1h0m2 0h0m-3 0h0m-4 0h0m9 1h0m-8 1h0m5 0h0m-1 1h0m-2 0h0m1 2h0m1 0h0m-6 0h0m4 0h0m-1 1h0m-1 0h0m5 1h0m5 0h0m-10 1h0m9 3h0m-4 0h0m-7 1h0m10 1h0m-4 0h0m-3 1h0m0 1h0m7 0h0m-7 1h0m1 2h0m5 2h0m1 3h0m-9 0h0m0 2h0m5 7h0m-2 21h0m-4 5h0m2 15h0m17-217h0m-6 3h0m7 4h0m-7 0h0m3 1h0m6 6h0m-2 1h0m-3 1h0m1 1h0m-2 0h0m-1 2h0m3 1h0m1 1h0m-5 1h0m8 1h0m-9 0h0m1 2h0m6 2h0m3 1h0m-2 1h0m3 0h0m-10 0h0m2 1h0m0 0h0m-3 0h0m6 1h0m-3 0h0m8 0h0m-11 1h0m8 0h0m-1 0h0m4 1h0m0 0h0m-2 0h0m-6 0h0m-2 0h0m8 1h0m-5 0h0m1 0h0m5 1h0m-4 0h0m-6 0h0m3 1h0m2 0h0m-1 0h0m5 0h0m1 0h0m1 0h0m-6 0h0m-2 0h0m-1 0h0m-2 0h0m1 0h0m1 1h0m1 0h0m-3 0h0m7 0h0m1 0h0m-4 1h0m0 0h0m-5 0h0m3 0h0m5 0h0m-8 0h0m6 0h0m-2 1h0m2 0h0m-1 0h0m0 0h0m-1 0h0m-3 0h0m0 1h0m2 1h0m9 68h0m-1 0h0m1 0h0m-1 1h0m-1 4h0m-3 1h0m4 0h0m0 0h0m-1 1h0m-1 0h0m0 0h0m1 0h0m-4 0h0m2 0h0m-1 1h0m3 0h0m-5 1h0m5 0h0m1 1h0m-3 0h0m-3 0h0m1 0h0m-1 0h0m-2 0h0m7 1h0m-5 0h0m-1 0h0m2 0h0m-3 1h0m2 0h0m3 0h0m1 0h0m-1 0h0m-2 0h0m-1 1h0m-2 0h0m5 0h0m-6 0h0m2 0h0m8 1h0m-5 0h0m-3 0h0m5 0h0m-7 0h0m3 0h0m4 1h0m2 0h0m1 0h0m-6 1h0m1 0h0m-2 0h0m-3 0h0m-2 0h0m4 0h0m3 1h0m-6 0h0m3 1h0m-1 0h0m8 0h0m0 1h0m-3 0h0m1 0h0m2 0h0m-6 0h0m2 0h0m-4 1h0m1 0h0m7 0h0m0 0h0m-9 0h0m2 0h0m-2 1h0m-1 0h0m-1 0h0m5 1h0m-5 0h0m1 0h0m3 0h0m0 1h0m3 1h0m-7 0h0m6 0h0m-5 1h0m5 0h0m-2 0h0m-1 3h0m5 0h0m-3 0h0m6 0h0m-5 0h0m-3 2h0m5 0h0m-3 0h0m3 0h0m-1 1h0m-7 0h0m1 1h0m0 1h0m9 1h0m-7 1h0m5 0h0m-3 1h0m3 10h0m-4 4h0m0 5h0m-2 10h0m-1 12h0m10 9h0m8-188h0m-7 0h0m2 5h0m6 2h0m-7 0h0m5 2h0m2 0h0m-4 1h0m7 0h0m-11 1h0m3 0h0m-1 0h0m7 2h0m-4 0h0m-3 1h0m8 0h0m0 0h0m2 0h0m-3 1h0m1 0h0m-8 0h0m0 0h0m9 0h0m-11 0h0m10 1h0m-5 0h0m5 0h0m-2 0h0m4 1h0m-1 0h0m-7 1h0m3 0h0m5 0h0m-6 0h0m0 0h0m-4 0h0m2 0h0m4 0h0m2 0h0m-10 1h0m2 0h0m8 1h0m-3 0h0m2 0h0m1 1h0m-5 0h0m6 0h0m1 1h0m-11 0h0m0 0h0m11 0h0m-2 0h0m-2 0h0m-7 1h0m1 0h0m9 0h0m-3 0h0m-5 0h0m0 0h0m2 0h0m3 0h0m3 0h0m-7 1h0m4 0h0m-6 1h0m3 0h0m5 0h0m-1 0h0m1 0h0m0 0h0m-2 1h0m3 0h0m-2 0h0m-3 0h0m-2 0h0m1 0h0m3 0h0m2 0h0m-3 0h0m1 0h0m-3 1h0m-4 0h0m9 0h0m-2 0h0m0 0h0m1 0h0m-5 0h0m3 0h0m3 0h0m-9 1h0m-1 0h0m9 0h0m-8 0h0m1 0h0m9 0h0m-5 0h0m4 0h0m-8 0h0m1 1h0m-2 0h0m2 0h0m9 55h0m0 1h0m-1 0h0m1 1h0m-1 1h0m0 0h0m0 2h0m0 0h0m-1 1h0m1 0h0m1 0h0m-4 0h0m3 1h0m0 0h0m1 0h0m-1 0h0m-4 0h0m0 1h0m0 0h0m4 1h0m-1 0h0m-2 0h0m1 0h0m1 1h0m-5 0h0m1 0h0m1 1h0m0 0h0m4 0h0m-5 0h0m2 0h0m-2 0h0m3 1h0m-3 0h0m5 0h0m-7 1h0m0 0h0m0 0h0m1 0h0m1 0h0m-1 0h0m4 1h0m1 0h0m-7 0h0m1 0h0m1 0h0m4 0h0m2 1h0m-1 0h0m-8 0h0m0 0h0m1 1h0m8 0h0m-10 0h0m8 0h0m-7 0h0m-1 1h0m-1 0h0m3 0h0m-1 0h0m1 0h0m2 0h0m3 0h0m2 0h0m-8 0h0m-1 0h0m5 1h0m-4 0h0m3 0h0m-2 0h0m6 0h0m-7 0h0m0 0h0m-1 0h0m-1 1h0m4 0h0m-4 0h0m1 0h0m5 0h0m-4 0h0m2 0h0m1 1h0m2 0h0m-2 0h0m-4 0h0m2 0h0m2 1h0m-3 0h0m5 0h0m-1 0h0m-4 0h0m4 1h0m1 0h0m5 0h0m-2 1h0m-4 0h0m-1 1h0m6 0h0m-1 0h0m0 0h0m-10 0h0m2 1h0m2 0h0m-1 0h0m-1 0h0m4 0h0m0 1h0m1 0h0m-2 0h0m4 0h0m-6 1h0m-1 0h0m5 0h0m-7 0h0m7 2h0m-4 0h0m7 0h0m-1 0h0m-4 0h0m-1 1h0m4 1h0m-6 1h0m3 0h0m-5 1h0m4 0h0m-3 2h0m0 0h0m1 1h0m10 0h0m-1 3h0m-8 0h0m-2 2h0m2 1h0m8 1h0m-7 0h0m0 0h0m5 1h0m-2 1h0m-3 3h0m1 0h0m5 1h0m-4 1h0m-5 1h0m3 3h0m3 1h0m-4 0h0m6 2h0m-5 2h0m20-147h0m-4 3h0m-4 0h0m6 0h0m-1 4h0m-9 0h0m6 0h0m-3 1h0m9 1h0m-3 1h0m-8 2h0m5 1h0m2 0h0m0 1h0m-8 0h0m10 1h0m0 0h0m-6 0h0m-1 0h0m6 1h0m-8 0h0m10 0h0m-11 1h0m0 1h0m6 0h0m4 1h0m-2 0h0m-6 1h0m1 0h0m8 0h0m-6 1h0m-5 0h0m11 0h0m-6 1h0m7 0h0m-4 0h0m-5 0h0m2 0h0m6 1h0m-6 0h0m3 0h0m-3 0h0m2 0h0m5 1h0m-5 0h0m-5 0h0m6 1h0m-6 0h0m9 0h0m-5 0h0m0 0h0m6 1h0m-3 0h0m2 0h0m-5 0h0m-3 0h0m5 0h0m2 0h0m0 0h0m-5 1h0m5 0h0m-10 0h0m8 0h0m-3 0h0m0 1h0m0 0h0m-3 0h0m2 0h0m7 1h0m-2 0h0m-8 0h0m5 0h0m-3 0h0m5 0h0m-4 0h0m2 1h0m5 0h0m-4 0h0m0 0h0m2 0h0m-5 0h0m3 0h0m-5 1h0m0 0h0m6 0h0m3 0h0m-9 0h0m5 0h0m-3 1h0m2 0h0m4 0h0m-10 0h0m6 0h0m2 0h0m1 0h0m-5 0h0m-3 0h0m5 0h0m-1 1h0m3 1h0m1 1h0m0 0h0m-1 0h0m0 0h0m3 1h0m1 0h0m0 2h0m-1 0h0m1 26h0m0 0h0m-1 2h0m0 0h0m0 0h0m1 1h0m-2 1h0m0 2h0m2 0h0m-1 0h0m1 0h0m-1 1h0m0 0h0m-2 1h0m1 0h0m-1 1h0m2 0h0m0 0h0m-2 0h0m0 1h0m3 0h0m-2 0h0m0 0h0m-1 0h0m2 1h0m-1 0h0m-1 1h0m0 1h0m-3 0h0m3 2h0m0 0h0m2 1h0m-5 0h0m1 0h0m4 0h0m-4 1h0m5 0h0m-7 0h0m5 0h0m-4 0h0m1 1h0m2 0h0m-1 0h0m-4 1h0m3 0h0m-4 0h0m2 0h0m1 0h0m-3 1h0m2 0h0m-2 0h0m-1 0h0m1 0h0m1 0h0m3 0h0m-4 0h0m-1 1h0m1 0h0m3 0h0m0 0h0m-3 0h0m1 0h0m6 1h0m-3 0h0m0 0h0m-2 1h0m-1 0h0m7 1h0m-7 0h0m-1 0h0m7 0h0m-8 0h0m2 0h0m-2 0h0m0 0h0m0 1h0m0 0h0m-2 0h0m8 0h0m-6 0h0m-1 0h0m0 1h0m4 0h0m5 0h0m-9 0h0m0 0h0m9 0h0m-3 1h0m-6 0h0m0 0h0m4 0h0m4 1h0m-4 0h0m-3 0h0m-1 1h0m6 1h0m-1 0h0m-2 1h0m3 0h0m-3 0h0m0 0h0m2 0h0m-4 0h0m4 1h0m0 0h0m-5 1h0m11 1h0m-3 0h0m-1 0h0m-8 0h0m6 0h0m0 0h0m4 0h0m-3 1h0m-5 0h0m3 1h0m-3 0h0m0 0h0m-1 1h0m5 0h0m-5 1h0m9 0h0m-9 1h0m0 0h0m11 1h0m-10 0h0m3 0h0m-3 0h0m0 1h0m0 3h0m9 0h0m-9 1h0m4 2h0m5 5h0m-8 2h0m-2 1h0m3 1h0m3 0h0m-5 1h0m3 0h0m-3 2h0m5 7h0m-6 3h0m3 2h0m4 10h0m9-155h0m-4 6h0m4 3h0m1 2h0m-2 1h0m-4 1h0m1 1h0m7 3h0m-7 1h0m4 1h0m4 0h0m0 1h0m-4 2h0m-3 0h0m8 0h0m-2 1h0m3 2h0m-7 1h0m-4 1h0m8 1h0m-6 1h0m0 0h0m0 0h0m5 0h0m1 1h0m-4 0h0m0 0h0m5 1h0m-1 0h0m-3 1h0m-3 0h0m9 0h0m-5 0h0m1 0h0m-4 1h0m8 0h0m-7 1h0m-2 0h0m2 1h0m7 0h0m-7 0h0m6 0h0m-3 0h0m-1 0h0m-1 1h0m1 0h0m-3 0h0m6 0h0m-3 1h0m-5 0h0m1 0h0m1 0h0m-1 1h0m0 0h0m2 0h0m-3 0h0m9 0h0m-8 0h0m2 1h0m3 0h0m4 0h0m-3 0h0m-1 0h0m-7 1h0m9 0h0m-5 1h0m7 0h0m-6 0h0m-1 0h0m-3 0h0m-1 1h0m4 0h0m-3 0h0m6 0h0m-4 1h0m8 0h0m-8 0h0m-3 0h0m7 1h0m1 0h0m-2 0h0m5 0h0m-7 1h0m-1 0h0m-1 0h0m3 0h0m3 1h0m-4 0h0m-2 0h0m1 0h0m5 1h0m-4 0h0m1 0h0m3 1h0m4 0h0m-7 0h0m2 0h0m0 0h0m2 1h0m2 0h0m-6 0h0m2 0h0m-6 0h0m-1 1h0m1 0h0m7 0h0m1 0h0m-7 1h0m1 1h0m6 0h0m-4 0h0m-3 1h0m4 0h0m4 0h0m-8 0h0m3 0h0m2 1h0m0 0h0m-2 0h0m-2 1h0m1 0h0m0 0h0m2 0h0m2 1h0m1 0h0m-6 0h0m6 0h0m-7 0h0m3 0h0m-4 1h0m5 0h0m-5 0h0m8 0h0m-4 0h0m3 1h0m-4 0h0m4 0h0m2 0h0m-8 1h0m2 0h0m5 0h0m-1 1h0m-5 0h0m7 0h0m-4 0h0m0 0h0m1 1h0m-4 0h0m3 1h0m-1 0h0m-2 0h0m0 0h0m3 1h0m1 0h0m2 0h0m-7 1h0m2 0h0m0 0h0m8 0h0m-7 0h0m2 1h0m3 0h0m-7 0h0m4 0h0m-5 0h0m3 0h0m3 0h0m3 0h0m-8 1h0m0 1h0m2 0h0m-1 0h0m7 0h0m-10 0h0m10 0h0m-7 0h0m0 1h0m0 0h0m4 0h0m-7 0h0m2 0h0m-1 0h0m2 0h0m-1 0h0m1 0h0m5 0h0m-4 0h0m0 1h0m2 0h0m-4 0h0m-1 0h0m5 0h0m1 0h0m-4 0h0m4 0h0m-6 1h0m7 0h0m1 0h0m-10 1h0m2 0h0m2 1h0m-1 0h0m-3 0h0m1 0h0m-1 1h0m5 0h0m1 0h0m-4 0h0m3 0h0m-1 0h0m-2 0h0m-1 0h0m7 1h0m-5 0h0m7 0h0m-10 0h0m6 0h0m-6 0h0m8 1h0m-4 0h0m-1 0h0m6 0h0m1 0h0m-8 1h0m-1 0h0m7 0h0m-3 0h0m-5 1h0m1 0h0m2 1h0m2 0h0m2 1h0m-6 0h0m5 0h0m6 0h0m-2 0h0m-7 1h0m3 0h0m-4 0h0m3 0h0m-4 0h0m2 0h0m0 0h0m8 1h0m-7 0h0m-2 0h0m2 1h0m-3 1h0m11 0h0m-12 1h0m8 0h0m4 0h0m-11 0h0m0 1h0m6 0h0m-2 0h0m0 0h0m7 0h0m-8 1h0m-4 0h0m6 0h0m-5 0h0m2 0h0m2 0h0m5 1h0m0 0h0m-5 0h0m-2 0h0m4 1h0m-4 0h0m8 1h0m-9 0h0m9 1h0m-9 0h0m0 1h0m3 0h0m-4 0h0m-1 1h0m9 0h0m-3 0h0m-4 0h0m-2 0h0m12 1h0m-10 1h0m9 0h0m-5 1h0m-3 0h0m-1 0h0m2 0h0m-3 0h0m1 1h0m7 0h0m-1 0h0m-7 2h0m0 0h0m1 1h0m6 1h0m-8 0h0m6 3h0m-1 1h0m-5 1h0m8 0h0m-7 3h0m5 3h0m1 10h0m-6 3h0m6 1h0m-6 7h0m14-136h0m3 2h0m0 5h0m1 3h0m-1 11h0m-3 3h0m5 1h0m-6 1h0m4 0h0m0 1h0m-6 1h0m6 0h0m-2 3h0m-3 1h0m7 3h0m3 0h0m-5 0h0m0 2h0m-1 0h0m3 1h0m-6 2h0m-1 0h0m11 0h0m-8 2h0m-1 0h0m0 1h0m5 0h0m-1 0h0m-5 1h0m5 1h0m-6 0h0m1 1h0m-1 0h0m6 0h0m-5 1h0m5 1h0m-5 1h0m1 0h0m4 2h0m2 0h0m-9 0h0m9 0h0m-7 2h0m10 1h0m-10 0h0m0 1h0m7 0h0m-8 1h0m1 0h0m4 1h0m-2 0h0m-3 2h0m7 0h0m-5 1h0m3 0h0m3 0h0m-6 1h0m0 1h0m6 1h0m3 0h0m-1 0h0m-10 1h0m8 0h0m-2 0h0m5 0h0m-7 0h0m-3 1h0m1 0h0m3 1h0m-4 0h0m-1 0h0m10 2h0m-10 1h0m6 0h0m-1 2h0m-4 0h0m2 1h0m1 1h0m7 1h0m-11 1h0m2 0h0m4 5h0m-3 0h0m-2 1h0m-1 3h0m8 0h0m-1 4h0m3 1h0m-11 0h0m4 1h0m-3 2h0m-1 3h0m5 16h0m-1 1h0m1 5h0m-1 0h0m-4 3h0m9 6h0m-2 32h0m8-152h0m1 2h0m2 4h0m-5 6h0m9 0h0m-4 8h0m1 7h0m-4 2h0m-2 2h0m0 6h0m5 1h0m-5 1h0m4 4h0m1 5h0m-3 3h0m1 1h0m1 2h0m0 3h0m-4 6h0m3 0h0m-4 7h0m2 2h0m7 3h0m1 7h0m-8 8h0m5 52h0m18-141h0" fill="none" stroke="#000" stroke-width="1.45" stroke-linecap="square"/>
<path d="M675.5 1474.9 679.4 1474.2 683.4 1474.1 686.4 1474.6 689.7 1475.9 692.4 1477.8 694.4 1480.2 695.9 1482.9 697.1 1486.9 697.5 1494.9 695.7 1504.9 692.1 1514.9 685.8 1526.9 677.9 1538.9 661.9 1560.9 655.4 1568.7 649.4 1574.9 641.4 1581.4 633.4 1586.5 611.4 1596.1 607.4 1599.0 603.4 1603.6 597.4 1613.0 593.6 1620.9 591.7 1627.9 589.2 1644.9 587.1 1652.9 583.1 1661.9 577.4 1669.9 571.4 1675.3 565.4 1678.5 558.4 1680.1 552.4 1679.5 548.4 1678.1 544.4 1675.6 541.4 1672.9 538.3 1668.9 536.0 1664.9 534.0 1659.9 532.7 1654.9 531.7 1647.9 532.0 1636.9 534.8 1615.9 534.6 1609.9 532.9 1593.9 533.4 1580.9 534.8 1572.9 537.1 1564.9 539.9 1557.9 543.6 1550.9 548.4 1544.0 553.4 1538.6 559.4 1533.9 565.4 1530.8 570.4 1529.2 576.4 1528.4 590.4 1529.8 594.4 1529.7 598.4 1528.8 604.2 1525.9 623.4 1513.9 628.4 1510.3 634.4 1505.0 648.4 1491.2 658.4 1483.1 666.4 1478.3 675.5 1474.9M675.4 1482.9 681.4 1483.3 685.4 1485.3 687.4 1487.5 688.7 1489.9 690.1 1495.9 689.6 1502.9 687.1 1511.9 683.0 1520.9 678.2 1528.9 670.9 1538.9 658.4 1553.6 649.4 1563.5 641.4 1570.8 635.4 1575.1 629.4 1578.4 622.4 1581.2 608.4 1585.0 604.4 1587.1 601.4 1589.7 595.4 1598.4 588.7 1609.9 586.5 1614.9 585.2 1620.9 584.8 1635.9 583.8 1643.9 581.2 1652.9 577.6 1659.9 574.7 1663.9 571.4 1667.1 568.4 1669.4 564.4 1671.4 560.4 1672.4 556.4 1672.5 552.4 1671.6 549.4 1670.2 544.3 1665.9 542.1 1662.9 540.0 1658.9 537.9 1651.9 537.1 1642.9 538.2 1632.9 542.5 1616.9 543.4 1611.9 543.4 1606.0 541.7 1590.9 541.8 1584.9 542.4 1578.9 543.7 1572.9 545.7 1566.9 550.8 1556.9 554.5 1551.9 559.4 1547.1 563.4 1544.4 568.4 1542.1 572.4 1541.1 577.4 1540.9 592.4 1543.2 595.4 1542.8 599.4 1541.1 628.4 1519.5 633.4 1514.7 647.4 1499.5 656.4 1491.6 661.4 1488.2 666.4 1485.5 671.4 1483.6 675.4 1482.9M670.4 1487.9 676.4 1487.3 679.4 1488.0 681.3 1488.9 684.2 1491.9 686.0 1496.9 686.0 1503.9 684.3 1510.9 681.0 1518.9 676.3 1526.9 668.9 1536.9 659.4 1547.4 646.4 1560.6 637.4 1568.1 631.4 1571.9 625.4 1574.5 618.4 1576.4 605.4 1578.1 602.4 1579.3 599.4 1581.8 596.4 1586.0 584.6 1606.9 581.9 1612.9 581.1 1618.9 581.9 1631.9 581.6 1639.9 580.0 1647.9 576.6 1655.9 574.0 1659.9 571.4 1662.8 568.4 1665.3 565.4 1667.1 561.4 1668.4 558.4 1668.7 555.4 1668.5 552.4 1667.5 547.2 1663.9 543.1 1657.9 540.7 1650.9 539.9 1642.9 540.4 1636.9 541.6 1630.9 547.4 1614.9 548.5 1609.9 548.5 1604.9 546.5 1589.9 547.2 1578.9 550.0 1568.9 554.2 1560.9 557.4 1556.6 561.4 1552.8 565.4 1550.2 570.4 1548.2 574.4 1547.7 578.4 1547.9 592.4 1551.5 595.4 1551.4 598.4 1550.2 602.4 1547.2 613.3 1536.9 629.4 1523.6 646.0 1504.9 653.4 1497.7 662.4 1491.2 670.4 1487.9M668.1 1491.9 673.4 1491.1 677.5 1491.9 679.4 1493.1 681.0 1494.9 682.6 1498.9 682.8 1504.9 681.5 1510.9 678.8 1517.9 674.9 1524.9 669.1 1532.9 662.4 1540.4 651.4 1551.1 640.4 1560.7 634.4 1565.0 628.4 1568.2 622.4 1570.1 617.4 1570.8 612.4 1570.4 608.4 1569.3 603.9 1566.9 602.3 1564.9 601.9 1562.9 602.6 1559.9 606.7 1551.9 613.7 1542.9 631.4 1526.2 643.8 1510.9 650.4 1503.6 659.4 1496.1 664.4 1493.3 668.1 1491.9M572.9 1553.9 576.4 1553.9 579.4 1554.5 586.6 1557.9 594.3 1563.9 595.7 1565.9 596.1 1568.9 594.0 1576.9 589.3 1588.9 585.8 1595.9 578.9 1606.9 577.3 1610.9 576.9 1615.9 579.0 1628.9 579.4 1635.9 578.8 1642.9 577.2 1648.9 574.9 1653.9 571.4 1658.9 567.4 1662.5 563.4 1664.6 558.4 1665.5 554.4 1664.8 550.4 1662.7 547.6 1659.9 545.1 1655.9 543.3 1650.9 542.4 1645.9 542.4 1639.9 543.1 1634.9 544.8 1628.9 551.9 1613.9 553.5 1608.9 553.5 1603.9 551.3 1592.9 550.9 1586.9 551.4 1579.9 553.1 1572.9 556.4 1565.8 561.4 1559.5 564.4 1557.1 567.4 1555.4 572.9 1553.9M668.6 1494.9 672.4 1494.6 676.2 1495.9 678.4 1498.3 679.7 1501.9 679.8 1506.9 678.7 1511.9 676.3 1517.9 673.0 1523.9 668.8 1529.9 664.4 1535.0 658.4 1541.0 651.4 1547.1 635.4 1559.2 629.4 1562.4 624.4 1563.9 621.4 1564.2 618.3 1563.9 615.9 1562.9 613.8 1560.9 612.9 1558.9 612.8 1555.9 613.6 1552.9 615.6 1548.9 619.4 1543.9 631.4 1531.0 644.2 1513.9 650.4 1506.6 655.4 1502.0 659.4 1499.0 664.4 1496.2 668.6 1494.9M569.1 1560.9 572.4 1560.1 576.4 1560.4 579.4 1561.4 582.4 1563.5 584.7 1565.9 586.4 1569.1 587.4 1572.9 587.5 1576.9 586.1 1583.9 583.3 1590.9 579.4 1597.2 572.3 1605.9 570.9 1608.9 571.2 1612.9 575.3 1623.9 576.8 1630.9 577.1 1638.9 575.9 1645.9 574.0 1650.9 570.9 1655.9 567.4 1659.3 563.4 1661.6 559.4 1662.5 556.4 1662.3 552.4 1660.6 549.4 1657.9 547.3 1654.9 545.7 1650.9 544.7 1645.9 544.5 1640.9 545.6 1633.9 548.1 1626.9 552.4 1619.6 559.1 1610.9 560.4 1607.9 560.3 1604.9 556.7 1594.9 555.5 1588.9 555.5 1581.9 556.7 1575.9 558.8 1570.9 561.4 1566.8 565.4 1562.9 569.1 1560.9M665.1 1498.9 669.4 1498.0 672.4 1498.5 674.7 1499.9 676.4 1502.9 676.9 1506.9 676.4 1510.9 674.8 1515.9 672.4 1520.9 666.2 1529.9 657.4 1538.7 646.4 1546.9 633.9 1553.9 628.4 1555.5 626.4 1555.5 624.4 1554.7 623.4 1553.3 623.2 1551.9 623.5 1549.9 624.8 1546.9 642.5 1519.9 648.4 1511.9 656.4 1503.9 660.4 1501.1 665.1 1498.9M569.7 1567.9 573.4 1567.4 575.4 1567.9 577.4 1569.0 580.3 1572.9 581.2 1576.9 580.9 1581.9 578.9 1587.9 575.4 1593.0 571.8 1595.9 569.4 1596.7 567.4 1596.7 564.4 1595.1 561.7 1590.9 560.6 1585.9 560.9 1579.9 562.6 1574.9 565.4 1570.8 569.7 1567.9M561.2 1616.9 563.4 1616.4 566.4 1617.2 568.4 1618.6 570.4 1620.9 573.7 1627.9 574.7 1631.9 575.1 1636.9 574.0 1644.9 571.0 1651.9 568.7 1654.9 566.4 1657.0 561.4 1659.4 558.4 1659.7 555.4 1659.0 553.3 1657.9 551.1 1655.9 549.0 1652.9 547.7 1649.9 546.6 1642.9 547.5 1634.9 550.8 1626.9 555.4 1620.7 558.4 1618.3 561.2 1616.9M665.3 1501.9 668.4 1501.6 670.4 1502.1 672.4 1503.6 673.4 1505.5 673.9 1508.9 673.5 1511.9 671.0 1518.9 665.9 1526.9 659.4 1533.8 652.4 1539.2 644.4 1543.3 641.4 1544.1 638.4 1544.1 637.4 1543.6 636.4 1541.9 636.5 1538.9 637.3 1535.9 641.2 1526.9 646.5 1517.9 652.4 1510.5 659.4 1504.6 665.3 1501.9M559.7 1621.9 562.4 1621.2 564.4 1621.4 566.4 1622.3 568.4 1624.0 571.4 1629.0 572.9 1635.9 572.4 1642.9 570.2 1648.9 566.4 1653.8 562.4 1656.2 559.4 1656.8 557.4 1656.6 553.4 1654.5 551.4 1652.2 550.2 1649.9 548.7 1643.9 549.2 1636.9 551.2 1630.9 555.4 1624.9 559.7 1621.9M663.3 1505.9 665.4 1505.5 667.4 1505.7 669.2 1506.9 669.9 1507.9 670.5 1511.9 668.8 1517.9 665.4 1523.7 661.1 1528.9 655.4 1533.6 650.4 1536.3 647.4 1537.0 645.6 1536.9 644.4 1536.3 643.5 1534.9 643.4 1530.9 645.0 1525.9 648.7 1518.9 653.3 1512.9 658.4 1508.4 663.3 1505.9M559.3 1625.9 561.4 1625.2 563.4 1625.3 566.4 1626.8 568.8 1629.9 570.4 1634.9 570.5 1640.9 569.1 1645.9 566.4 1650.2 563.0 1652.9 559.4 1653.7 557.4 1653.4 555.4 1652.4 552.5 1648.9 551.0 1643.9 551.2 1637.9 552.9 1632.9 555.4 1628.9 559.3 1625.9M660.1 1510.9 663.4 1509.9 665.4 1510.5 666.6 1512.9 666.4 1515.9 664.8 1519.9 662.1 1523.9 658.4 1527.6 655.1 1529.9 651.4 1531.0 649.4 1530.4 648.5 1527.9 649.0 1524.9 650.7 1520.9 653.4 1516.7 656.4 1513.5 660.1 1510.9M558.8 1629.9 561.4 1629.0 564.4 1629.7 566.5 1631.9 568.1 1635.9 568.3 1639.9 567.4 1643.9 565.4 1647.4 562.4 1649.9 559.4 1650.4 556.4 1649.2 554.6 1646.9 553.5 1643.9 553.3 1639.9 554.2 1635.9 556.4 1632.0 558.8 1629.9M657.6 1518.9 659.4 1518.1 659.7 1518.9 659.4 1519.9 657.5 1521.9 656.4 1521.9 656.3 1520.9 657.6 1518.9M559.6 1633.9 561.4 1633.4 563.4 1634.1 564.7 1635.9 565.3 1637.9 565.4 1639.9 564.6 1642.9 563.4 1644.7 561.4 1646.2 559.4 1646.3 558.4 1645.9 556.8 1643.9 556.3 1641.9 556.4 1638.9 557.0 1636.9 558.3 1634.9 559.6 1633.9M559.3 1636.9 561.4 1636.0 562.4 1636.5 563.3 1637.9 563.4 1640.7 562.4 1642.9 560.4 1643.9 559.4 1643.6 558.4 1642.5 558.0 1639.9 559.3 1636.9" fill="none" stroke="#555" stroke-width="0.9" stroke-linejoin="round"/>
</g>
<path d="M760.44 1604.68V1717.69H616.19" fill="none" stroke="#333" stroke-width="1.3"/>
<rect x="471.03" y="1430.47" width="140.21" height="169.79" fill="none" stroke="#3B5FD0" stroke-width="9.19"/>
<rect x="619.87" y="1430.47" width="136.35" height="169.79" fill="none" stroke="#FF0000" stroke-width="9.19"/>
<rect x="471.03" y="1610.19" width="140.76" height="103.27" fill="none" stroke="#1a1a1a" stroke-width="9.19"/>
<text x="481.13" y="1459.51" font-size="22.3" font-weight="normal" fill="#111" stroke="#111" stroke-width="0.3">28.0%</text>
<text x="744.09" y="1459.51" font-size="22.3" font-weight="normal" text-anchor="end" fill="#111" stroke="#111" stroke-width="0.3">32.9%</text>
<text x="481.13" y="1698.39" font-size="22.3" font-weight="normal" fill="#111" stroke="#111" stroke-width="0.3">38.7%</text>
<path d="M673.44 1717.69v3.5M687.03 1717.69v3.5M696.68 1717.69v3.5M704.16 1717.69v3.5M710.27 1717.69v3.5M715.44 1717.69v3.5M719.92 1717.69v3.5M723.87 1717.69v3.5M750.64 1717.69v3.5M602.69 1717.69v3.5M503.51 1717.69v3.5M614.66 1717.69v3.5M491.54 1717.69v3.5M623.15 1717.69v3.5M483.05 1717.69v3.5M629.74 1717.69v3.5M476.46 1717.69v3.5M635.12 1717.69v3.5M471.08 1717.69v3.5M639.67 1717.69v3.5M643.61 1717.69v3.5M647.09 1717.69v3.5M537.1 1717.69v3.5M538.9 1717.69v3.5M540.7 1717.69v3.5M542.5 1717.69v3.5M544.3 1717.69v3.5M546.1 1717.69v3.5M547.9 1717.69v3.5M549.7 1717.69v3.5M551.5 1717.69v3.5M553.3 1717.69v3.5M555.1 1717.69v3.5M556.9 1717.69v3.5M558.7 1717.69v3.5M560.5 1717.69v3.5M562.3 1717.69v3.5M564.1 1717.69v3.5M565.9 1717.69v3.5M567.7 1717.69v3.5" fill="none" stroke="#111" stroke-width="1.3"/>
<path d="M553.1 1717.69v6.5M650.2 1717.69v6.5M727.4 1717.69v6.5" fill="none" stroke="#111" stroke-width="2"/>
<path d="M466.43 1575.95h-3.5M466.43 1554.05h-3.5M466.43 1538.5h-3.5M466.43 1526.45h-3.5M466.43 1516.6h-3.5M466.43 1508.27h-3.5M466.43 1501.06h-3.5M466.43 1494.69h-3.5M466.43 1451.55h-3.5M466.43 1429.65h-3.5M466.43 1638.01h-3.5M466.43 1689.39h-3.5M466.43 1631.81h-3.5M466.43 1695.59h-3.5M466.43 1627.41h-3.5M466.43 1699.99h-3.5M466.43 1624h-3.5M466.43 1703.4h-3.5M466.43 1621.21h-3.5M466.43 1706.19h-3.5M466.43 1618.85h-3.5M466.43 1708.55h-3.5M466.43 1616.81h-3.5M466.43 1710.59h-3.5M466.43 1615.01h-3.5M466.43 1712.39h-3.5M466.43 1659.7h-3.5M466.43 1661.5h-3.5M466.43 1663.3h-3.5M466.43 1665.1h-3.5M466.43 1666.9h-3.5" fill="none" stroke="#111" stroke-width="1.3"/>
<path d="M466.43 1663.7h-6.5M466.43 1613.4h-6.5M466.43 1489h-6.5M466.43 1704h-6.5" fill="none" stroke="#111" stroke-width="2"/>
<text x="553.1" y="1740.9" font-size="16.5" text-anchor="middle" stroke="#000" stroke-width="0.5">0</text>
<text x="637.91" y="1740.9" font-size="16.5" stroke="#000" stroke-width="0.5">10<tspan dy="-5.61" font-size="11.22">3</tspan></text>
<text x="715.11" y="1740.9" font-size="16.5" stroke="#000" stroke-width="0.5">10<tspan dy="-5.61" font-size="11.22">4</tspan></text>
<text x="431.91" y="1494.5" font-size="16.5" stroke="#000" stroke-width="0.5">10<tspan dy="-5.61" font-size="11.22">3</tspan></text>
<text x="431.91" y="1619" font-size="16.5" stroke="#000" stroke-width="0.5">10<tspan dy="-5.61" font-size="11.22">2</tspan></text>
<text x="447.5" y="1669" font-size="16.5" text-anchor="end" stroke="#000" stroke-width="0.5">0</text>
<text x="611.6" y="1769.5" font-size="30.2" text-anchor="middle">CD200R-PE</text>
<text x="431.5" y="1585.3" font-size="30.2" text-anchor="middle" transform="rotate(-90 431.5 1585.3)">2B4-FITC</text>
<clipPath id="cp_k1"><rect x="87.2" y="2189.1" width="310" height="308.7"/></clipPath>
<g clip-path="url(#cp_k1)">
<path d="M116 2393h0m27 4h0m-8 3h0m4 15h0m0 5h0m2 20h0m-3 2h0m4 5h0m4-60h0m9 11h0m-6 12h0m3 10h0m4 7h0m-6 0h0m4 6h0m-7 7h0m-3 10h0m12 9h0m-7 3h0m5 5h0m10-117h0m-8 16h0m1 57h0m9 6h0m-2 3h0m-1 3h0m-2 0h0m6 6h0m-6 1h0m-3 0h0m4 5h0m0 3h0m-2 1h0m8 4h0m-6 1h0m-4 2h0m7 1h0m-1 1h0m16-145h0m-8 47h0m-1 19h0m-1 0h0m-2 51h0m8 3h0m1 2h0m-7 1h0m6 2h0m-4 1h0m6 0h0m-2 0h0m2 0h0m-5 1h0m1 1h0m2 5h0m1 2h0m-2 1h0m-6 5h0m20-160h0m0 17h0m-6 32h0m-1 15h0m7 4h0m1 5h0m-2 2h0m-6 65h0m5 4h0m0 0h0m-6 2h0m3 1h0m-3 14h0m8 3h0m-1 1h0m14-176h0m1 29h0m-5 9h0m-3 13h0m-3 1h0m5 1h0m6 2h0m-6 7h0m-1 4h0m6 9h0m1 18h0m-8 66h0m2 4h0m2 7h0m-1 3h0m3 17h0m6-251h0m0 55h0m9 9h0m-9 29h0m1 9h0m6 10h0m-3 26h0m3 13h0m-2 5h0m0 1h0m-7 53h0m-1 1h0m12 1h0m-2 12h0m-1 6h0m-5 11h0m18-178h0m2 3h0m-5 23h0m5 0h0m-2 4h0m-10 4h0m2 11h0m1 5h0m7 4h0m-1 18h0m-1 2h0m-2 11h0m3 2h0m-5 8h0m-4 62h0m1 1h0m15-175h0m-2 18h0m-1 46h0m3 7h0m0 40h0m1 4h0m6 2h0m-8 44h0m2 2h0m-2 9h0m13-188h0m1 32h0m-4 5h0m5 16h0m3 18h0m-7 21h0m-2 1h0m4 11h0m-3 1h0m4 11h0m1 7h0m1 8h0m-2 65h0m3 4h0m3 10h0m-10 13h0m13-228h0m6 57h0m-4 13h0m-1 45h0m7 17h0m-4 0h0m1 0h0m0 6h0m1 2h0m-1 29h0m-3 12h0m6 3h0m-5 0h0m5 13h0m3-196h0m2 129h0m9 14h0m-1 1h0m-6 2h0m-2 1h0m9 1h0m-5 1h0m-1 3h0m4 1h0m-4 1h0m-1 0h0m-1 0h0m-1 4h0m7 2h0m-10 2h0m11 4h0m-1 0h0m1 2h0m-9 0h0m-1 0h0m1 5h0m1 14h0m-2 4h0m10 25h0m-3 2h0m8-127h0m6 38h0m-1 11h0m-8 4h0m7 0h0m-4 4h0m-1 2h0m8 1h0m-1 2h0m-5 0h0m3 0h0m-4 0h0m-2 1h0m6 1h0m-3 2h0m-4 4h0m5 1h0m-1 0h0m3 1h0m-2 1h0m3 1h0m0 1h0m-5 2h0m-1 1h0m2 1h0m-1 2h0m0 2h0m5 30h0m3 22h0m4-160h0m8 63h0m-11 5h0m11 8h0m-10 4h0m0 3h0m9 1h0m-7 2h0m3 0h0m-1 0h0m-2 1h0m5 0h0m-2 1h0m3 2h0m-2 0h0m1 2h0m-3 2h0m1 1h0m3 1h0m2 2h0m0 1h0m-5 1h0m3 6h0m-7 2h0m8 10h0m-11 0h0m3 8h0m16-111h0m1 61h0m3 5h0m1 4h0m-10 2h0m6 0h0m3 0h0m1 1h0m-5 1h0m-1 3h0m-6 3h0m11 5h0m-4 1h0m0 0h0m3 1h0m-1 2h0m3 1h0m-6 7h0m2 2h0m-1 2h0m-3 0h0m4 18h0m3 19h0m6-155h0m3 36h0m-1 17h0m2 15h0m-2 5h0m-3 3h0m3 5h0m2 3h0m2 2h0m-7 2h0m3 1h0m1 6h0m4 2h0m-1 1h0m-2 1h0m0 0h0m1 2h0m-10 11h0m4 3h0m-3 3h0m0 14h0m9 13h0m-6 6h0m19-187h0m-6 1h0m3 1h0m-5 7h0m3 2h0m5 21h0m-6 0h0m5 19h0m-2 57h0m2 6h0m-8 0h0m0 1h0m6 5h0m-5 2h0m-3 6h0m3 0h0m7 3h0m-4 1h0m1 3h0m0 1h0m0 2h0m-1 2h0m-6 0h0m5 2h0m-5 33h0m15-206h0m-2 3h0m5 18h0m3 18h0m-8 11h0m4 46h0m-3 35h0m0 11h0m9 7h0m-10 0h0m5 8h0m1 0h0m-2 2h0m3 2h0m-1 0h0m-5 1h0m3 4h0m4 4h0m-6 5h0m-2 2h0m9 7h0m4-192h0m7 13h0m-1 24h0m2 4h0m-1 4h0m-5 12h0m4 15h0m2 4h0m-7 6h0m-2 15h0m3 25h0m4 21h0m-2 3h0m-6 0h0m5 13h0m4 1h0m-6 2h0m3 1h0m2 3h0m-5 3h0m0 0h0m3 1h0m2 6h0m14-157h0m0 9h0m-4 3h0m1 1h0m0 6h0m-4 5h0m-1 1h0m6 2h0m1 2h0m-5 4h0m1 6h0m5 2h0m-5 7h0m4 7h0m-2 1h0m-4 10h0m2 13h0m-4 37h0m0 15h0m5 3h0m4 0h0m-5 13h0m4 5h0m-6 18h0m7 32h0m-6 32h0m9-277h0m1 25h0m-1 27h0m4 11h0m2 3h0m-6 20h0m9 12h0m-7 25h0m3 52h0m-4 7h0m8 7h0m-3 5h0m-5 9h0m2 6h0m-3 36h0m13-259h0m8 62h0m-9 13h0m0 0h0m2 3h0m2 16h0m3 17h0m-7 7h0m6 34h0m-2 47h0m0 24h0m-3 45h0" fill="none" stroke="#222" stroke-width="1.5" stroke-linecap="square"/>
<path d="M187.8 2380.3 193.7 2379.8 200.4 2380.2 214.7 2382.3 224.4 2384.5 233.4 2387.6 253.7 2396.0 259.6 2399.1 263.3 2402.1 264.7 2404.3 264.9 2407.3 263.4 2410.3 260.2 2413.3 255.9 2416.0 249.9 2418.9 230.4 2426.6 219.2 2430.1 205.7 2433.2 197.4 2434.5 190.7 2434.6 183.9 2433.5 177.9 2431.2 172.1 2427.6 167.2 2423.1 163.5 2417.8 161.4 2411.8 161.4 2405.8 163.3 2399.9 167.4 2393.1 173.4 2387.0 180.2 2382.7 187.8 2380.3M192.2 2383.3 197.4 2383.5 202.7 2384.4 216.9 2387.5 225.2 2389.8 234.2 2393.3 243.3 2397.6 248.3 2400.6 251.4 2403.6 252.4 2405.8 252.3 2408.1 251.0 2410.3 247.8 2413.3 242.9 2416.3 235.7 2419.8 220.7 2425.2 200.4 2430.4 194.5 2431.1 189.2 2431.0 183.2 2429.6 177.9 2427.0 173.4 2423.5 169.9 2419.3 167.3 2414.1 166.4 2408.1 167.4 2402.1 170.2 2396.1 174.5 2390.8 180.2 2386.6 186.2 2384.2 192.2 2383.3M187.0 2387.1 192.2 2386.4 198.2 2386.8 219.2 2392.6 231.2 2397.3 235.7 2399.8 239.5 2402.8 241.0 2405.1 241.4 2407.3 240.6 2409.6 238.8 2411.8 234.9 2414.7 230.5 2417.1 218.4 2421.7 200.4 2427.1 192.2 2428.1 187.7 2427.7 183.2 2426.3 178.9 2423.8 175.5 2420.8 172.3 2416.3 170.6 2411.8 170.3 2406.6 171.4 2401.3 173.7 2396.8 177.4 2392.3 181.7 2389.2 187.0 2387.1M189.5 2389.3 196.7 2389.5 204.2 2391.6 222.9 2398.9 227.2 2401.3 230.3 2404.3 231.1 2405.9 231.2 2408.1 230.0 2410.3 227.7 2412.6 221.4 2416.1 210.2 2420.5 198.2 2424.7 193.7 2425.4 189.9 2425.3 186.2 2424.5 182.4 2422.8 178.8 2420.1 176.2 2417.1 174.3 2413.3 173.4 2408.8 173.7 2404.3 175.2 2399.8 177.7 2396.1 180.9 2392.9 184.7 2390.7 189.5 2389.3M190.6 2391.6 196.7 2392.0 202.7 2394.0 216.7 2401.3 219.7 2403.6 221.0 2405.1 221.6 2406.6 221.5 2408.1 219.6 2411.1 215.3 2414.1 204.9 2419.5 200.5 2421.5 195.9 2422.7 192.2 2423.0 188.4 2422.6 184.7 2421.3 181.7 2419.4 179.4 2417.1 177.4 2414.1 176.3 2411.1 175.9 2407.3 176.5 2403.6 178.0 2399.8 180.2 2396.8 183.2 2394.2 186.9 2392.4 190.6 2391.6M190.6 2393.8 195.9 2394.1 201.9 2396.5 208.9 2401.3 211.0 2403.6 212.4 2405.9 212.4 2408.8 210.4 2411.8 205.7 2415.8 199.7 2419.2 195.9 2420.4 192.9 2420.8 189.9 2420.6 186.9 2419.8 183.9 2418.3 181.7 2416.3 179.0 2411.8 178.3 2408.8 178.4 2405.8 179.1 2402.8 180.6 2399.8 184.7 2395.9 187.7 2394.5 190.6 2393.8M189.6 2396.1 194.4 2396.0 199.2 2397.6 204.3 2401.3 206.9 2405.1 207.3 2408.1 205.6 2411.8 201.9 2415.3 197.4 2417.8 192.2 2418.7 187.7 2417.9 183.9 2415.6 182.1 2413.3 181.0 2411.1 180.4 2406.6 181.7 2402.1 184.8 2398.3 186.9 2397.0 189.6 2396.1M189.6 2398.3 193.7 2398.1 197.4 2399.3 201.1 2402.1 203.0 2405.1 203.3 2408.1 202.2 2411.1 199.4 2414.1 195.9 2415.9 192.2 2416.5 188.4 2415.9 185.4 2414.0 183.1 2410.3 182.6 2406.6 183.8 2402.8 186.2 2400.0 189.6 2398.3M190.4 2400.6 192.9 2400.4 196.0 2401.3 198.7 2403.6 199.8 2405.8 200.0 2408.1 199.2 2410.3 197.0 2412.6 194.4 2413.8 191.4 2414.2 189.2 2413.6 186.9 2412.1 185.4 2409.6 185.0 2406.6 185.7 2404.3 187.7 2401.9 190.4 2400.6M190.1 2403.6 192.2 2403.1 193.7 2403.4 195.3 2404.3 196.4 2405.8 196.7 2407.3 196.3 2408.8 195.2 2410.3 193.9 2411.1 192.2 2411.5 190.3 2411.1 189.1 2410.3 188.1 2408.9 188.0 2405.8 190.1 2403.6" fill="none" stroke="#666" stroke-width="1" stroke-linejoin="round"/>
</g>
<rect x="87.2" y="2189.1" width="310" height="308.7" fill="none" stroke="#222" stroke-width="1.5"/>
<path d="M242.2 2189.1V2497.8M87.2 2355.7H397.2" fill="none" stroke="#000" stroke-width="2.2"/>
<text x="380.5" y="2221.5" font-size="24.2" text-anchor="end">3.18%</text>
<text x="94.5" y="2484.3" font-size="24.2">85.8%</text>
<text x="382.2" y="2484.3" font-size="24.2" text-anchor="end">10.2%</text>
<text x="234.7" y="2168.7" font-size="33" text-anchor="middle">Blank</text>
<path d="M307.12 2497.8v4M320.82 2497.8v4M330.54 2497.8v4M338.08 2497.8v4M344.24 2497.8v4M349.45 2497.8v4M353.96 2497.8v4M357.94 2497.8v4M384.92 2497.8v4M235.46 2497.8v4M134.74 2497.8v4M247.61 2497.8v4M122.59 2497.8v4M256.23 2497.8v4M113.97 2497.8v4M262.92 2497.8v4M107.28 2497.8v4M268.39 2497.8v4M101.81 2497.8v4M273.01 2497.8v4M97.19 2497.8v4M277.01 2497.8v4M93.19 2497.8v4M280.54 2497.8v4M89.66 2497.8v4M168.1 2497.8v4M169.9 2497.8v4M171.7 2497.8v4M173.5 2497.8v4M175.3 2497.8v4M177.1 2497.8v4M178.9 2497.8v4M180.7 2497.8v4M182.5 2497.8v4M184.3 2497.8v4M186.1 2497.8v4M187.9 2497.8v4M189.7 2497.8v4M191.5 2497.8v4M193.3 2497.8v4M195.1 2497.8v4M196.9 2497.8v4M198.7 2497.8v4M200.5 2497.8v4" fill="none" stroke="#111" stroke-width="1.3"/>
<path d="M185.1 2497.8v7.5M283.7 2497.8v7.5M361.5 2497.8v7.5" fill="none" stroke="#111" stroke-width="2"/>
<path d="M87.2 2299.27h-4M87.2 2286.55h-4M87.2 2277.53h-4M87.2 2270.53h-4M87.2 2264.82h-4M87.2 2259.98h-4M87.2 2255.8h-4M87.2 2252.1h-4M87.2 2230.83h-4M87.2 2220.32h-4M87.2 2212.86h-4M87.2 2207.07h-4M87.2 2202.34h-4M87.2 2198.35h-4M87.2 2194.89h-4M87.2 2191.83h-4M87.2 2362.83h-4M87.2 2450.17h-4M87.2 2352.29h-4M87.2 2460.71h-4M87.2 2344.82h-4M87.2 2468.18h-4M87.2 2339.02h-4M87.2 2473.98h-4M87.2 2334.28h-4M87.2 2478.72h-4M87.2 2330.27h-4M87.2 2482.73h-4M87.2 2326.8h-4M87.2 2486.2h-4M87.2 2323.74h-4M87.2 2489.26h-4M87.2 2391.5h-4M87.2 2393.3h-4M87.2 2395.1h-4M87.2 2396.9h-4M87.2 2398.7h-4M87.2 2400.5h-4M87.2 2402.3h-4M87.2 2404.1h-4M87.2 2405.9h-4M87.2 2407.7h-4M87.2 2409.5h-4M87.2 2411.3h-4M87.2 2413.1h-4M87.2 2414.9h-4M87.2 2416.7h-4M87.2 2418.5h-4M87.2 2420.3h-4" fill="none" stroke="#111" stroke-width="1.3"/>
<path d="M87.2 2406.5h-7.5M87.2 2321h-7.5M87.2 2248.8h-7.5M87.2 2189.1h-7.5M87.2 2493.2h-7.5" fill="none" stroke="#111" stroke-width="2"/>
<clipPath id="cp_k2"><rect x="415.6" y="2189.1" width="310.3" height="308.7"/></clipPath>
<g clip-path="url(#cp_k2)">
<path d="M432 2308h0m8 61h0m13-74h0m-4 112h0m16-161h0m-2 58h0m-3 26h0m6 10h0m-8 77h0m0 26h0m8 5h0m-10 15h0m1 31h0m13-225h0m8 16h0m-3 13h0m2 37h0m-2 112h0m-4 2h0m7 2h0m0 18h0m4-134h0m7 2h0m-6 8h0m3 1h0m-4 16h0m3 59h0m6 4h0m-5 0h0m4 2h0m2 5h0m-11 1h0m9 2h0m1 1h0m0 9h0m0 3h0m-3 1h0m0 4h0m-5 1h0m8 15h0m10-211h0m1 15h0m1 20h0m-1 18h0m-5 12h0m6 2h0m-4 3h0m4 3h0m-5 2h0m4 4h0m-5 3h0m-1 4h0m8 1h0m-1 17h0m-3 11h0m0 0h0m-7 59h0m9 0h0m0 2h0m-6 3h0m1 1h0m3 1h0m-2 3h0m0 3h0m-1 5h0m6 0h0m0 2h0m-11 1h0m1 1h0m3 7h0m-3 7h0m14-155h0m2 6h0m-1 1h0m0 7h0m-1 0h0m6 2h0m-7 4h0m7 1h0m-6 6h0m0 6h0m7 2h0m-8 6h0m6 0h0m-7 7h0m2 77h0m-1 8h0m2 2h0m4 1h0m-6 0h0m0 4h0m3 11h0m6 25h0m12-267h0m-1 46h0m-5 19h0m-4 14h0m5 1h0m-1 0h0m6 16h0m-9 2h0m-1 3h0m2 5h0m-3 0h0m9 2h0m0 1h0m-8 7h0m3 1h0m1 3h0m1 6h0m1 0h0m3 5h0m-9 96h0m10 1h0m0 1h0m-9 9h0m7 2h0m-5 5h0m-4 1h0m21-213h0m2 16h0m-9 6h0m5 13h0m-5 5h0m10 2h0m-9 3h0m-1 1h0m7 3h0m-3 1h0m2 1h0m1 10h0m-6 2h0m-1 2h0m9 0h0m-4 1h0m1 12h0m-6 1h0m8 2h0m-6 0h0m0 10h0m4 1h0m-4 15h0m-2 9h0m6 67h0m2 0h0m-6 1h0m-3 5h0m3 2h0m3 1h0m1 1h0m-4 7h0m0 2h0m2 1h0m-6 8h0m0 7h0m14-192h0m3 2h0m3 2h0m-2 20h0m-5 5h0m5 5h0m1 1h0m3 4h0m-2 27h0m-2 11h0m-3 3h0m7 83h0m-6 7h0m-2 0h0m2 5h0m16-184h0m-5 9h0m7 18h0m0 6h0m-8 4h0m1 8h0m2 7h0m1 1h0m-3 3h0m0 15h0m5 0h0m-7 3h0m2 0h0m4 4h0m1 2h0m0 0h0m4 6h0m-9 4h0m-1 10h0m7 2h0m2 64h0m-10 1h0m3 11h0m4 3h0m-4 6h0m11-184h0m-2 20h0m5 5h0m-6 2h0m9 5h0m3 5h0m-3 3h0m0 2h0m-5 3h0m2 1h0m-5 2h0m11 5h0m-2 5h0m1 2h0m-1 0h0m0 1h0m-2 5h0m-3 3h0m-3 3h0m5 0h0m-6 1h0m2 18h0m4 2h0m4 0h0m-4 4h0m4 61h0m-5 2h0m-1 5h0m3 8h0m-5 0h0m20-174h0m-5 11h0m-1 7h0m7 5h0m-7 4h0m-3 1h0m10 1h0m-3 1h0m2 8h0m-5 4h0m4 3h0m-3 4h0m3 0h0m-6 11h0m5 2h0m-4 17h0m5 2h0m1 2h0m-4 2h0m5 0h0m0 9h0m-12 5h0m10 3h0m-3 2h0m3 52h0m1 1h0m-1 2h0m-1 2h0m0 6h0m-4 2h0m-2 2h0m5 1h0m1 8h0m1 1h0m4-196h0m4 0h0m-3 4h0m8 17h0m-7 0h0m3 6h0m3 1h0m-3 4h0m2 0h0m-8 7h0m7 1h0m-1 3h0m4 7h0m-7 1h0m1 1h0m3 1h0m4 1h0m-6 2h0m-2 1h0m-1 2h0m8 1h0m-10 6h0m8 0h0m1 1h0m1 1h0m-1 0h0m-2 2h0m-5 0h0m0 0h0m-1 3h0m5 0h0m-2 0h0m7 1h0m-10 1h0m4 3h0m-6 0h0m11 1h0m0 0h0m-6 3h0m-2 0h0m4 3h0m-7 3h0m5 8h0m5 2h0m-6 1h0m-2 1h0m0 10h0m10 4h0m-2 2h0m0 4h0m0 1h0m-10 55h0m1 3h0m0 2h0m-1 1h0m6 2h0m2 1h0m-7 6h0m23-177h0m-7 0h0m-5 10h0m10 4h0m-2 1h0m2 3h0m-10 0h0m1 5h0m3 1h0m2 2h0m6 0h0m-11 3h0m4 4h0m-2 2h0m2 1h0m-1 0h0m0 3h0m-2 4h0m-2 2h0m1 4h0m0 1h0m1 3h0m2 4h0m-1 0h0m3 6h0m-4 1h0m3 2h0m4 11h0m-8 3h0m2 0h0m4 5h0m4 1h0m-9 3h0m6 3h0m-8 1h0m8 8h0m0 1h0m2 0h0m-6 2h0m-4 1h0m11 3h0m-6 1h0m-4 0h0m9 41h0m-2 1h0m4 1h0m-6 7h0m-3 1h0m3 8h0m6 0h0m-6 1h0m-4 2h0m6 2h0m-1 12h0m-3 4h0m15-225h0m3 28h0m-9 16h0m6 8h0m-6 2h0m6 10h0m4 1h0m-2 2h0m1 2h0m0 3h0m-2 23h0m-2 3h0m2 0h0m-6 0h0m1 0h0m0 2h0m4 1h0m-6 3h0m1 3h0m6 3h0m-2 3h0m5 7h0m-2 11h0m-8 3h0m9 4h0m-5 3h0m2 1h0m-6 2h0m10 0h0m0 1h0m-2 4h0m-1 0h0m-7 2h0m2 1h0m3 28h0m-2 1h0m5 3h0m-7 0h0m10 1h0m-8 10h0m4 0h0m-7 2h0m3 1h0m0 1h0m3 2h0m0 1h0m4 2h0m-8 6h0m8 2h0m-10 21h0m5 1h0m14-211h0m0 4h0m-8 2h0m8 7h0m3 15h0m-5 1h0m-3 6h0m2 3h0m2 2h0m-2 2h0m5 1h0m0 2h0m-7 0h0m2 1h0m-4 3h0m1 3h0m10 0h0m-9 2h0m-1 3h0m1 0h0m0 2h0m4 1h0m2 0h0m-1 3h0m1 1h0m-6 3h0m-2 0h0m2 1h0m6 1h0m-6 0h0m6 0h0m-1 2h0m-7 1h0m10 2h0m-7 0h0m5 2h0m1 2h0m-1 3h0m-9 0h0m1 2h0m9 1h0m-8 1h0m-2 0h0m5 1h0m-1 0h0m-1 5h0m0 6h0m0 1h0m-2 1h0m6 3h0m-4 7h0m0 1h0m2 0h0m4 5h0m-4 0h0m-1 1h0m6 1h0m-5 0h0m0 3h0m4 2h0m2 2h0m-5 2h0m-4 1h0m7 0h0m-6 2h0m5 2h0m0 1h0m-3 0h0m0 1h0m-5 4h0m4 2h0m-1 1h0m3 2h0m4 2h0m-6 0h0m1 2h0m7 0h0m0 1h0m-2 1h0m-8 0h0m3 2h0m0 2h0m6 0h0m-8 1h0m2 1h0m2 0h0m-2 0h0m-5 3h0m2 1h0m8 2h0m-8 2h0m0 1h0m10 1h0m-3 0h0m-8 1h0m2 3h0m2 0h0m-3 2h0m9 6h0m-4 2h0m4 2h0m-4 1h0m2 3h0m15-225h0m-8 39h0m7 9h0m-3 4h0m-5 3h0m2 7h0m-1 7h0m5 3h0m-2 8h0m3 4h0m-6 4h0m-4 0h0m6 1h0m-5 3h0m0 1h0m7 1h0m-8 4h0m9 2h0m-9 6h0m5 2h0m-2 0h0m9 2h0m-7 2h0m-1 3h0m-3 0h0m1 2h0m-1 1h0m0 0h0m4 6h0m-3 2h0m1 0h0m-1 6h0m7 5h0m-2 8h0m-6 0h0m3 8h0m6 1h0m-8 1h0m-1 0h0m10 3h0m0 0h0m-11 1h0m3 1h0m8 1h0m-1 4h0m-7 1h0m1 4h0m-4 0h0m5 3h0m1 0h0m0 0h0m-5 1h0m2 1h0m6 0h0m-1 0h0m0 1h0m-2 2h0m4 1h0m1 1h0m-2 1h0m-2 0h0m3 1h0m-4 0h0m-3 1h0m1 1h0m6 0h0m-3 1h0m-1 0h0m0 2h0m-4 2h0m7 0h0m-1 2h0m2 0h0m-8 3h0m9 1h0m-6 1h0m-3 1h0m3 0h0m-2 1h0m3 0h0m-5 1h0m0 1h0m7 0h0m-2 4h0m-1 0h0m3 1h0m-1 1h0m-5 7h0m1 4h0m-2 1h0m5 0h0m-2 5h0m-2 4h0m0 8h0m20-215h0m-1 19h0m-5 3h0m8 2h0m-3 5h0m-7 5h0m-1 4h0m1 22h0m1 3h0m7 5h0m-9 1h0m0 3h0m8 1h0m-7 10h0m0 5h0m2 3h0m-1 1h0m6 3h0m-1 11h0m-5 7h0m4 6h0m-4 9h0m9 2h0m-3 2h0m-1 7h0m-3 0h0m-3 2h0m9 6h0m0 0h0m-7 1h0m3 2h0m2 0h0m-4 1h0m-5 0h0m4 2h0m1 0h0m2 0h0m-3 2h0m-2 1h0m2 1h0m3 2h0m0 0h0m0 0h0m-2 0h0m1 1h0m-1 2h0m-3 2h0m5 3h0m2 2h0m-6 0h0m5 1h0m4 1h0m-11 1h0m2 0h0m6 3h0m-4 0h0m2 1h0m-3 3h0m6 1h0m-1 0h0m2 0h0m-1 4h0m-7 1h0m3 1h0m2 6h0m-6 2h0m2 1h0m7 6h0m-6 8h0m-1 0h0m-1 4h0m18-236h0m-5 36h0m-1 28h0m5 14h0m-7 4h0m-1 4h0m12 1h0m-2 3h0m-8 7h0m4 2h0m-1 22h0m-4 1h0m4 1h0m-3 1h0m9 13h0m-8 6h0m5 2h0m4 1h0m-5 2h0m-5 11h0m4 6h0m-4 1h0m4 0h0m-1 0h0m-1 3h0m5 2h0m2 0h0m-10 2h0m0 0h0m10 1h0m1 0h0m-2 3h0m-1 3h0m-4 0h0m-2 2h0m-1 1h0m4 1h0m-5 1h0m4 1h0m2 2h0m-7 3h0m9 2h0m0 0h0m-5 0h0m6 2h0m-8 9h0m8 1h0m1 1h0m-5 4h0m-3 7h0m-3 3h0m7 0h0m-2 4h0m0 2h0m0 1h0m-1 0h0m0 19h0m6 16h0m14-202h0m-6 11h0m3 11h0m2 12h0m-7 5h0m6 3h0m-4 4h0m4 4h0m-3 19h0m3 11h0m-7 1h0m7 0h0m-9 10h0m7 0h0m-7 1h0m7 4h0m-7 1h0m1 2h0m8 2h0m-10 4h0m4 7h0m6 0h0m-5 9h0m-4 2h0m1 0h0m6 1h0m-2 0h0m1 2h0m1 0h0m-2 1h0m0 0h0m0 4h0m-2 0h0m2 1h0m-1 1h0m4 1h0m-5 0h0m0 2h0m-4 0h0m10 1h0m1 1h0m1 0h0m-8 5h0m-3 1h0m2 2h0m3 2h0m-4 0h0m-2 8h0m0 0h0m5 4h0m7 1h0m-9 0h0m9 2h0m-12 0h0m3 35h0m20-232h0m-4 14h0m0 4h0m-1 16h0m4 7h0m-8 38h0m6 4h0m-3 46h0m5 0h0m0 12h0m-4 0h0m-3 1h0m4 2h0m-5 4h0m9 3h0m1 1h0m-10 2h0m4 3h0m-4 1h0m9 1h0m-9 2h0m1 0h0m3 5h0m1 0h0m-7 2h0m10 1h0m-8 6h0m7 3h0m-7 21h0m12-177h0m3 24h0m-3 40h0m0 51h0m4 2h0m2 5h0m4 7h0m-7 4h0m5 6h0m-7 0h0m2 0h0m0 4h0m-5 3h0m1 1h0m8 2h0m2 5h0m-10 1h0m2 20h0m17-169h0m1 12h0m3 17h0m-11 70h0m7 7h0m4 4h0m-12 5h0m1 16h0m1 3h0m0 6h0m0 5h0m5 2h0m-6 9h0m-1 28h0m14-151h0m0 26h0m0 68h0m2 13h0m-3 15h0" fill="none" stroke="#222" stroke-width="1.5" stroke-linecap="square"/>
<path d="M534.1 2372.8 546.9 2372.8 559.6 2373.9 573.1 2376.2 588.9 2380.0 602.4 2384.2 612.1 2388.4 618.9 2392.6 623.7 2397.6 625.6 2402.1 625.8 2404.3 625.3 2407.3 622.7 2411.8 617.7 2416.3 610.6 2420.5 601.6 2424.3 588.1 2428.8 574.6 2432.5 560.4 2435.4 548.4 2436.8 532.6 2437.1 520.6 2436.1 511.6 2433.9 504.1 2430.3 496.6 2424.7 491.3 2418.6 488.7 2414.1 487.4 2410.3 486.8 2406.6 486.8 2402.8 487.6 2399.1 489.0 2395.3 491.2 2391.6 494.2 2387.8 501.9 2381.3 510.9 2376.7 521.4 2374.0 534.1 2372.8M522.6 2378.8 531.1 2378.4 547.6 2378.7 557.4 2379.5 567.9 2381.3 580.6 2384.5 591.1 2387.9 599.4 2391.6 605.4 2395.5 608.7 2399.1 609.8 2401.3 610.3 2403.6 609.6 2407.3 607.0 2411.1 602.4 2414.8 596.4 2418.2 587.4 2422.0 576.9 2425.4 564.9 2428.5 554.4 2430.3 543.9 2431.2 526.6 2431.7 519.9 2431.1 513.9 2429.6 508.6 2427.2 503.9 2423.8 498.6 2417.8 495.4 2411.1 494.6 2407.3 494.5 2403.6 496.2 2396.8 497.7 2393.8 500.4 2390.1 506.4 2384.7 513.9 2380.9 522.6 2378.8M521.8 2382.6 529.6 2382.3 548.4 2383.4 563.4 2385.4 572.4 2387.6 580.6 2390.3 587.4 2393.4 592.7 2396.8 595.6 2399.8 597.0 2403.6 596.6 2406.6 594.1 2410.2 590.3 2413.3 584.4 2416.7 576.9 2419.8 569.0 2422.3 553.6 2425.6 525.1 2428.1 519.9 2427.6 515.4 2426.5 510.8 2424.4 507.1 2421.8 502.9 2417.1 499.9 2411.1 499.1 2404.3 500.3 2398.3 503.6 2392.3 508.6 2387.6 514.6 2384.4 521.8 2382.6M524.0 2385.6 529.6 2385.8 552.1 2388.4 561.9 2390.1 567.9 2391.8 573.9 2394.2 578.4 2396.6 581.5 2399.1 583.2 2401.3 584.0 2404.3 583.1 2407.3 580.6 2410.3 576.3 2413.3 570.8 2416.0 564.1 2418.4 557.4 2420.1 530.4 2424.4 523.6 2424.9 519.1 2424.4 514.6 2422.9 510.9 2420.8 507.9 2418.2 504.5 2413.3 502.8 2408.1 502.9 2402.1 504.7 2396.8 507.9 2392.3 512.4 2388.9 517.6 2386.6 524.0 2385.6M520.8 2388.6 524.4 2388.3 528.9 2388.7 542.4 2391.7 556.6 2394.2 564.1 2396.7 569.3 2399.8 571.1 2402.1 571.7 2404.3 570.7 2407.3 568.6 2409.6 565.2 2411.8 561.1 2413.7 550.7 2416.3 542.4 2418.0 530.4 2421.5 524.4 2422.2 520.6 2422.0 516.9 2421.0 513.9 2419.6 510.9 2417.4 508.0 2414.1 506.0 2409.6 505.4 2404.3 506.4 2399.8 508.6 2395.8 511.9 2392.3 516.1 2389.9 520.8 2388.6M523.4 2390.8 528.1 2391.3 533.4 2392.8 552.1 2400.1 554.4 2401.3 556.1 2402.8 556.7 2404.3 556.4 2405.8 554.2 2408.1 537.8 2415.4 528.9 2419.1 525.1 2419.7 521.4 2419.6 517.6 2418.7 514.6 2417.3 511.7 2414.8 510.0 2412.6 508.6 2409.6 508.0 2405.8 508.3 2402.1 509.9 2398.3 512.2 2395.3 515.4 2393.0 519.1 2391.4 523.4 2390.8M518.8 2393.8 524.4 2393.1 530.4 2394.5 535.8 2397.6 540.2 2402.1 541.1 2405.1 539.6 2408.8 535.9 2412.6 531.1 2415.6 525.1 2417.4 519.9 2417.1 515.0 2414.8 511.7 2411.1 510.7 2408.8 510.2 2405.8 510.5 2402.8 511.2 2400.6 512.5 2398.3 514.6 2396.2 518.8 2393.8M519.5 2396.1 523.6 2395.5 528.1 2396.5 532.3 2399.1 534.6 2402.1 535.4 2405.1 534.3 2408.8 531.7 2411.8 528.1 2414.1 523.6 2415.2 519.9 2414.7 516.1 2412.8 513.6 2409.6 512.6 2405.8 513.5 2401.3 516.1 2398.0 519.5 2396.1M520.6 2398.3 524.4 2398.1 527.2 2399.1 529.6 2400.9 531.2 2403.6 531.2 2406.6 530.2 2408.8 527.9 2411.1 525.1 2412.4 522.1 2412.6 519.1 2411.8 516.9 2410.0 515.4 2407.3 515.2 2404.3 516.1 2401.8 517.8 2399.8 520.6 2398.3M520.8 2401.3 522.9 2401.0 524.4 2401.2 526.1 2402.1 527.3 2403.6 527.6 2405.8 527.1 2407.3 525.9 2408.7 524.4 2409.5 522.1 2409.7 520.6 2409.3 519.1 2408.2 518.4 2406.9 518.1 2405.1 518.5 2403.6 520.8 2401.3" fill="none" stroke="#666" stroke-width="1" stroke-linejoin="round"/>
<ellipse cx="613.7" cy="2319" rx="11" ry="13" fill="none" stroke="#666" stroke-width="1" transform="rotate(15 613.7 2319)"/>
</g>
<rect x="415.6" y="2189.1" width="310.3" height="308.7" fill="none" stroke="#222" stroke-width="1.5"/>
<path d="M571.5 2189.1V2497.8M415.6 2355.7H725.9" fill="none" stroke="#000" stroke-width="2.2"/>
<text x="709.5" y="2221.5" font-size="24.2" text-anchor="end">8.05%</text>
<text x="421.6" y="2484.3" font-size="24.2">76.8%</text>
<text x="713.6" y="2484.3" font-size="24.2" text-anchor="end">13.0%</text>
<text x="569.3" y="2168.7" font-size="33" text-anchor="middle">Non-Trm</text>
<path d="M635.83 2497.8v4M649.48 2497.8v4M659.16 2497.8v4M666.67 2497.8v4M672.81 2497.8v4M678 2497.8v4M682.49 2497.8v4M686.45 2497.8v4M713.33 2497.8v4M564.8 2497.8v4M465.2 2497.8v4M576.81 2497.8v4M453.19 2497.8v4M585.34 2497.8v4M444.66 2497.8v4M591.95 2497.8v4M438.05 2497.8v4M597.36 2497.8v4M432.64 2497.8v4M601.93 2497.8v4M428.07 2497.8v4M605.89 2497.8v4M424.11 2497.8v4M609.38 2497.8v4M420.62 2497.8v4M498 2497.8v4M499.8 2497.8v4M501.6 2497.8v4M503.4 2497.8v4M505.2 2497.8v4M507 2497.8v4M508.8 2497.8v4M510.6 2497.8v4M512.4 2497.8v4M514.2 2497.8v4M516 2497.8v4M517.8 2497.8v4M519.6 2497.8v4M521.4 2497.8v4M523.2 2497.8v4M525 2497.8v4M526.8 2497.8v4M528.6 2497.8v4M530.4 2497.8v4" fill="none" stroke="#111" stroke-width="1.3"/>
<path d="M515 2497.8v7.5M612.5 2497.8v7.5M690 2497.8v7.5" fill="none" stroke="#111" stroke-width="2"/>
<path d="M415.6 2299.27h-4M415.6 2286.55h-4M415.6 2277.53h-4M415.6 2270.53h-4M415.6 2264.82h-4M415.6 2259.98h-4M415.6 2255.8h-4M415.6 2252.1h-4M415.6 2230.83h-4M415.6 2220.32h-4M415.6 2212.86h-4M415.6 2207.07h-4M415.6 2202.34h-4M415.6 2198.35h-4M415.6 2194.89h-4M415.6 2191.83h-4M415.6 2362.83h-4M415.6 2450.17h-4M415.6 2352.29h-4M415.6 2460.71h-4M415.6 2344.82h-4M415.6 2468.18h-4M415.6 2339.02h-4M415.6 2473.98h-4M415.6 2334.28h-4M415.6 2478.72h-4M415.6 2330.27h-4M415.6 2482.73h-4M415.6 2326.8h-4M415.6 2486.2h-4M415.6 2323.74h-4M415.6 2489.26h-4M415.6 2391.5h-4M415.6 2393.3h-4M415.6 2395.1h-4M415.6 2396.9h-4M415.6 2398.7h-4M415.6 2400.5h-4M415.6 2402.3h-4M415.6 2404.1h-4M415.6 2405.9h-4M415.6 2407.7h-4M415.6 2409.5h-4M415.6 2411.3h-4M415.6 2413.1h-4M415.6 2414.9h-4M415.6 2416.7h-4M415.6 2418.5h-4M415.6 2420.3h-4" fill="none" stroke="#111" stroke-width="1.3"/>
<path d="M415.6 2406.5h-7.5M415.6 2321h-7.5M415.6 2248.8h-7.5M415.6 2189.1h-7.5M415.6 2493.2h-7.5" fill="none" stroke="#111" stroke-width="2"/>
<clipPath id="cp_k3"><rect x="745.8" y="2189.1" width="310.4" height="308.7"/></clipPath>
<g clip-path="url(#cp_k3)">
<path d="M781 2453h0m20-29h0m-6 7h0m3 41h0m15-92h0m-7 27h0m3 29h0m18-154h0m-4 10h0m0 2h0m-7 17h0m5 43h0m4 13h0m-7 57h0m10 8h0m-1 2h0m-6 3h0m11-131h0m1 22h0m-3 7h0m5 4h0m-3 8h0m5 7h0m-5 11h0m-3 59h0m1 6h0m6 5h0m2 1h0m-1 2h0m-3 3h0m2 0h0m0 0h0m2 1h0m-5 1h0m4 1h0m-7 2h0m-2 12h0m9 10h0m5-195h0m4 8h0m0 3h0m-1 7h0m6 2h0m-3 4h0m0 8h0m-8 1h0m2 3h0m7 4h0m-6 3h0m5 1h0m3 15h0m-2 3h0m0 1h0m-4 7h0m-2 0h0m1 0h0m2 11h0m-2 79h0m0 2h0m-4 2h0m2 0h0m-1 3h0m2 0h0m6 0h0m-9 3h0m6 1h0m3 8h0m0 2h0m3 0h0m-1 1h0m1 1h0m-5 9h0m12-201h0m-6 0h0m1 12h0m6 11h0m-3 6h0m3 2h0m2 1h0m0 4h0m-7 9h0m4 3h0m2 7h0m-1 7h0m-6 2h0m-1 5h0m5 2h0m-3 3h0m7 3h0m1 6h0m-7 1h0m-3 1h0m10 2h0m-1 2h0m-6 1h0m2 3h0m-2 0h0m7 2h0m-5 76h0m4 3h0m-1 2h0m-6 0h0m8 0h0m-9 1h0m-1 1h0m4 1h0m-3 1h0m7 1h0m-1 1h0m-3 12h0m-3 8h0m21-187h0m-3 5h0m4 0h0m-6 1h0m5 8h0m-2 1h0m-7 2h0m2 4h0m8 4h0m-2 3h0m1 2h0m-1 0h0m-8 1h0m4 0h0m3 2h0m3 3h0m0 6h0m-8 3h0m4 1h0m-5 0h0m0 4h0m9 1h0m-6 3h0m-3 1h0m6 9h0m-1 0h0m-4 0h0m5 3h0m1 0h0m1 6h0m-1 1h0m-6 1h0m5 81h0m2 5h0m-5 4h0m3 0h0m0 1h0m-7 2h0m10 0h0m-6 4h0m2 0h0m-3 9h0m-5 3h0m3 4h0m5 1h0m0 3h0m1 13h0m9-262h0m0 18h0m-3 12h0m3 9h0m-3 9h0m-3 3h0m3 3h0m0 1h0m0 7h0m-2 1h0m10 4h0m-6 1h0m7 3h0m-11 4h0m8 5h0m-2 3h0m-3 2h0m-1 1h0m5 0h0m3 3h0m-6 0h0m-3 2h0m6 2h0m-3 0h0m2 3h0m-7 4h0m6 0h0m1 0h0m5 3h0m-10 1h0m3 1h0m4 3h0m2 1h0m-2 1h0m-9 2h0m6 3h0m-2 2h0m-2 1h0m8 2h0m-4 6h0m0 0h0m1 1h0m2 89h0m-8 1h0m6 1h0m-4 0h0m7 3h0m-3 4h0m0 9h0m1 1h0m0 8h0m-5 17h0m-1 4h0m11-268h0m5 21h0m-6 2h0m8 18h0m-4 3h0m5 18h0m-6 13h0m8 5h0m-3 1h0m0 9h0m-8 1h0m12 3h0m-4 2h0m-4 1h0m4 0h0m1 3h0m0 4h0m-1 1h0m-8 2h0m3 1h0m1 0h0m2 2h0m0 1h0m2 5h0m1 2h0m-5 5h0m0 4h0m6 2h0m-2 1h0m-6 89h0m1 3h0m1 11h0m-1 1h0m1 9h0m-1 0h0m8 1h0m-10 11h0m20-252h0m-2 18h0m3 16h0m-9 18h0m0 1h0m7 5h0m-6 13h0m-2 4h0m12 2h0m-9 2h0m7 1h0m2 1h0m-10 1h0m6 3h0m3 6h0m0 1h0m-10 1h0m10 1h0m-9 3h0m4 2h0m1 6h0m4 1h0m-4 1h0m4 0h0m-1 0h0m-10 2h0m7 2h0m-7 4h0m11 4h0m1 6h0m-2 1h0m1 90h0m-1 0h0m-5 1h0m-1 2h0m3 1h0m-1 3h0m4 9h0m-6 0h0m0 4h0m6 11h0m-4 0h0m0 6h0m16-215h0m-8 6h0m9 2h0m-4 1h0m2 1h0m-1 2h0m-3 1h0m0 3h0m2 7h0m2 9h0m-7 7h0m-1 2h0m11 0h0m-8 4h0m6 0h0m-8 1h0m7 1h0m-2 2h0m1 1h0m0 1h0m-3 1h0m0 4h0m-3 0h0m6 7h0m1 5h0m-4 5h0m0 1h0m-4 0h0m6 1h0m-7 4h0m7 0h0m-4 0h0m2 1h0m-1 2h0m6 0h0m-7 1h0m6 0h0m-6 1h0m-1 0h0m1 1h0m1 2h0m1 0h0m4 92h0m-6 1h0m0 1h0m-3 5h0m8 1h0m2 5h0m-8 24h0m18-239h0m3 18h0m-4 11h0m2 5h0m-6 5h0m6 8h0m1 1h0m-1 0h0m-1 4h0m-8 3h0m1 1h0m2 1h0m1 2h0m-3 141h0m6 1h0m0 2h0m-5 5h0m-1 1h0m-1 6h0m3 3h0m4 2h0m1 7h0m15-216h0m-6 25h0m-1 3h0m-2 6h0m3 0h0m-5 1h0m7 3h0m5 4h0m-5 142h0m3 2h0m-6 1h0m5 2h0m0 4h0m-1 1h0m-1 3h0m1 4h0m4 0h0m-2 0h0m-8 7h0m0 6h0m15-233h0m2 22h0m-2 9h0m1 2h0m4 3h0m-8 0h0m3 3h0m6 2h0m-9 3h0m7 4h0m-9 3h0m10 1h0m-9 0h0m9 3h0m-6 0h0m7 1h0m-4 0h0m-3 3h0m-1 1h0m8 3h0m-1 1h0m1 36h0m-1 2h0m-2 3h0m-1 1h0m1 0h0m-1 5h0m0 2h0m-2 3h0m4 4h0m-3 2h0m3 1h0m1 2h0m-5 1h0m2 1h0m-1 76h0m5 1h0m-1 1h0m1 0h0m-7 1h0m6 0h0m-6 0h0m5 9h0m-1 4h0m1 3h0m0 3h0m-4 7h0m15-214h0m-2 1h0m2 8h0m-3 1h0m2 2h0m2 1h0m0 2h0m-7 1h0m9 4h0m-7 6h0m-4 8h0m0 4h0m4 3h0m-2 2h0m7 6h0m-3 2h0m-3 0h0m3 2h0m1 1h0m3 4h0m2 3h0m-9 2h0m8 2h0m-6 1h0m4 1h0m-3 0h0m2 1h0m3 3h0m-2 0h0m-1 5h0m0 1h0m-5 2h0m-2 1h0m0 0h0m10 0h0m-2 1h0m-2 0h0m3 1h0m-5 1h0m5 2h0m0 0h0m-4 3h0m3 2h0m-8 1h0m0 0h0m5 6h0m1 0h0m3 2h0m-10 1h0m11 1h0m-10 1h0m5 4h0m-2 2h0m7 1h0m-7 3h0m1 0h0m2 5h0m-4 0h0m7 4h0m-3 1h0m3 1h0m0 47h0m-1 2h0m-3 0h0m2 3h0m-7 0h0m0 2h0m3 0h0m-2 8h0m2 3h0m1 1h0m6 2h0m-8 0h0m3 1h0m-5 3h0m5 8h0m-4 7h0m15-214h0m-2 24h0m0 5h0m3 2h0m0 1h0m5 3h0m-2 1h0m-9 5h0m2 7h0m8 5h0m-3 0h0m2 0h0m3 0h0m-6 5h0m3 3h0m1 1h0m-5 0h0m-3 3h0m8 5h0m-8 0h0m9 10h0m-1 0h0m-10 3h0m9 0h0m3 1h0m-2 1h0m1 1h0m-7 1h0m7 1h0m-4 0h0m-3 1h0m7 1h0m-11 0h0m3 2h0m1 1h0m-2 3h0m-2 1h0m8 0h0m-1 1h0m3 1h0m-6 0h0m6 1h0m-4 0h0m3 1h0m-6 0h0m3 3h0m-3 0h0m6 1h0m-3 2h0m-1 4h0m-2 1h0m7 0h0m-4 0h0m-5 3h0m9 2h0m0 1h0m1 1h0m1 2h0m-2 2h0m-7 0h0m-1 0h0m-1 1h0m2 0h0m-2 1h0m1 3h0m8 1h0m-8 2h0m7 1h0m-8 2h0m8 1h0m-1 4h0m-2 2h0m5 2h0m-6 0h0m6 0h0m-3 2h0m1 0h0m2 1h0m-3 1h0m-1 0h0m-2 0h0m3 4h0m-4 1h0m1 0h0m4 1h0m-1 1h0m-1 1h0m4 3h0m1 1h0m-1 2h0m-5 4h0m4 2h0m-3 1h0m2 1h0m-5 1h0m-3 2h0m0 0h0m11 0h0m-11 1h0m7 0h0m-5 0h0m-3 0h0m3 1h0m7 0h0m-9 1h0m3 0h0m5 0h0m-1 1h0m1 0h0m0 1h0m-9 0h0m1 0h0m6 2h0m-5 1h0m3 2h0m-5 6h0m3 1h0m6 1h0m-4 4h0m-1 3h0m6 1h0m-8 1h0m2 0h0m5 2h0m-5 1h0m-2 8h0m0 0h0m6 0h0m-6 5h0m2 2h0m4 3h0m10-259h0m-3 19h0m0 12h0m8 25h0m-2 2h0m-6 1h0m3 4h0m1 2h0m0 2h0m-5 1h0m3 11h0m3 7h0m-2 2h0m-1 3h0m1 3h0m1 0h0m-2 1h0m5 0h0m-5 3h0m-2 1h0m1 3h0m3 5h0m-7 0h0m7 0h0m5 1h0m-2 0h0m-2 2h0m-1 0h0m-3 3h0m-3 5h0m9 3h0m-8 3h0m8 3h0m-5 0h0m-1 3h0m6 1h0m-8 5h0m6 5h0m-2 12h0m2 3h0m2 4h0m-3 4h0m0 1h0m-2 1h0m-4 3h0m3 0h0m7 1h0m0 2h0m-8 1h0m-2 0h0m0 2h0m7 0h0m3 0h0m0 2h0m-10 2h0m9 3h0m1 1h0m-7 0h0m4 1h0m-5 0h0m-1 1h0m5 0h0m-3 1h0m0 0h0m4 0h0m-6 0h0m-1 3h0m2 0h0m5 1h0m-3 0h0m3 3h0m-5 1h0m7 1h0m-8 1h0m4 0h0m0 0h0m5 1h0m-8 2h0m4 1h0m-5 0h0m1 1h0m5 0h0m-6 1h0m-1 2h0m-1 1h0m1 0h0m-1 2h0m5 3h0m1 0h0m1 1h0m3 0h0m-1 0h0m-2 2h0m4 0h0m-2 1h0m2 1h0m-8 2h0m3 1h0m2 1h0m-1 2h0m-4 0h0m5 1h0m-2 1h0m-1 9h0m6 5h0m-2 2h0m-5 3h0m-1 2h0m11-178h0m3 0h0m2 2h0m4 2h0m-9 3h0m-1 0h0m9 2h0m-9 4h0m2 3h0m4 3h0m-5 4h0m0 4h0m5 1h0m-4 15h0m2 1h0m0 2h0m4 1h0m-8 1h0m0 5h0m9 10h0m-7 1h0m1 1h0m4 1h0m1 0h0m-3 1h0m5 0h0m-2 0h0m-1 3h0m-6 1h0m7 3h0m0 5h0m-2 1h0m4 1h0m-2 2h0m-5 5h0m6 2h0m-3 1h0m0 1h0m4 2h0m-11 6h0m5 0h0m4 1h0m-1 2h0m-3 2h0m3 0h0m-7 0h0m5 2h0m5 1h0m-9 0h0m9 2h0m-9 1h0m3 4h0m6 0h0m-7 0h0m2 0h0m1 1h0m-6 1h0m10 2h0m-4 1h0m2 1h0m2 2h0m-9 0h0m6 4h0m0 1h0m3 1h0m-11 2h0m9 0h0m-3 1h0m2 0h0m1 0h0m3 0h0m-10 1h0m5 2h0m0 2h0m3 0h0m-9 1h0m4 1h0m-1 1h0m0 0h0m0 3h0m-3 1h0m5 0h0m-2 2h0m0 0h0m1 4h0m-4 1h0m9 0h0m0 1h0m-3 0h0m-6 5h0m5 0h0m-4 1h0m7 4h0m1 4h0m-5 2h0m2 1h0m-1 6h0m-5 1h0m9 1h0m-7 2h0m-2 7h0m9 1h0m-5 6h0m3 17h0m11-249h0m1 47h0m-3 1h0m-5 7h0m1 0h0m10 3h0m-8 18h0m0 2h0m7 15h0m-7 1h0m6 0h0m-3 1h0m5 9h0m-2 5h0m-8 1h0m9 2h0m1 1h0m-7 6h0m-1 8h0m-2 0h0m7 0h0m-1 2h0m2 4h0m-3 7h0m-2 1h0m6 1h0m-2 0h0m-1 1h0m1 2h0m-5 0h0m1 1h0m5 0h0m3 0h0m-11 4h0m6 0h0m2 1h0m-7 3h0m-2 4h0m4 1h0m1 1h0m-4 1h0m2 1h0m8 0h0m-10 0h0m8 2h0m-1 3h0m2 0h0m0 0h0m0 1h0m-8 0h0m1 0h0m2 3h0m-1 0h0m5 1h0m-4 3h0m-5 0h0m12 0h0m-9 1h0m4 0h0m1 1h0m2 1h0m-6 6h0m7 3h0m0 3h0m-10 2h0m2 1h0m9 0h0m-10 7h0m1 1h0m2 1h0m-3 0h0m8 3h0m-1 3h0m1 0h0m-10 0h0m1 0h0m5 2h0m0 2h0m1 5h0m-4 2h0m0 0h0m0 3h0m-2 0h0m4 7h0m1 19h0m-5 3h0m14-267h0m3 19h0m1 7h0m-5 2h0m9 43h0m-3 2h0m0 1h0m-6 3h0m-2 2h0m0 7h0m11 11h0m-7 0h0m-4 14h0m0 2h0m4 6h0m-2 4h0m9 0h0m-6 1h0m-1 0h0m-2 2h0m8 2h0m-7 0h0m9 1h0m-4 3h0m-4 4h0m-2 0h0m5 2h0m5 0h0m-6 0h0m-3 4h0m7 5h0m0 11h0m-7 0h0m3 1h0m-1 4h0m-3 3h0m1 0h0m-1 1h0m6 1h0m-3 2h0m3 0h0m0 1h0m-4 0h0m0 0h0m2 1h0m-3 3h0m3 2h0m3 0h0m-4 3h0m2 2h0m-3 2h0m0 1h0m-2 0h0m6 4h0m-2 2h0m3 2h0m-8 2h0m6 1h0m-1 2h0m2 2h0m1 2h0m-5 3h0m1 0h0m-4 1h0m6 1h0m0 5h0m3 0h0m-1 4h0m1 3h0m-3 1h0m-1 1h0m-2 3h0m-2 2h0m1 1h0m3 1h0m5 0h0m-4 20h0m4 3h0m-10 1h0m0 0h0m5 5h0m8-189h0m2 2h0m2 4h0m0 14h0m-4 3h0m8 21h0m-2 4h0m-6 4h0m6 3h0m-7 18h0m0 10h0m4 0h0m0 3h0m3 5h0m2 4h0m-2 1h0m-2 1h0m-4 2h0m1 1h0m2 1h0m-3 2h0m2 3h0m1 2h0m4 8h0m-1 2h0m2 1h0m-7 1h0m7 0h0m-1 3h0m-4 3h0m3 2h0m2 3h0m-7 1h0m2 3h0m-4 4h0m9 6h0m-9 3h0m9 1h0m-5 5h0m-3 3h0m7 5h0m6-178h0m4 24h0m-1 1h0m-4 3h0m-1 8h0m2 15h0m-1 9h0m5 0h0m-5 10h0m5 1h0m-5 20h0m-1 11h0m7 8h0m1 8h0m-4 3h0m-3 2h0m-2 0h0m4 1h0m0 1h0m-1 1h0m-1 2h0m2 2h0m5 7h0m0 1h0m0 3h0m-3 3h0m4 6h0m-6 1h0m-3 7h0m8 15h0m-3 3h0m-4 3h0m5 10h0" fill="none" stroke="#222" stroke-width="1.5" stroke-linecap="square"/>
<path d="M941.8 2288.8 945.3 2288.8 948.3 2289.4 951.3 2290.5 954.3 2292.4 957.0 2294.8 959.2 2297.8 962.0 2304.6 962.7 2311.3 961.7 2318.8 959.2 2325.6 952.2 2339.1 951.2 2342.8 951.0 2347.3 952.1 2352.6 955.0 2358.5 958.0 2362.2 968.4 2372.8 971.5 2377.4 973.6 2381.8 975.1 2387.8 975.2 2393.8 974.0 2399.8 971.6 2405.8 968.8 2410.3 965.1 2414.8 956.5 2422.3 951.3 2425.6 945.3 2428.6 933.3 2432.7 919.8 2435.3 904.0 2436.3 884.6 2435.8 865.0 2433.8 852.3 2431.6 842.5 2428.8 834.3 2425.0 827.6 2420.0 822.9 2414.1 821.2 2410.3 820.5 2407.3 820.6 2400.6 821.7 2396.8 823.4 2393.1 828.3 2386.3 835.8 2379.4 863.5 2359.0 873.3 2353.2 880.8 2350.3 888.3 2348.6 897.3 2348.0 914.5 2348.8 918.0 2348.1 920.5 2346.6 922.6 2343.6 923.5 2339.1 920.7 2318.1 921.1 2311.3 922.7 2305.3 925.8 2299.3 930.3 2294.1 935.5 2290.6 941.8 2288.8M940.0 2297.1 945.3 2297.0 949.8 2298.9 953.5 2303.0 955.6 2308.3 955.8 2314.3 954.0 2321.1 951.2 2326.4 942.5 2339.1 941.1 2342.1 940.7 2345.1 941.9 2350.3 946.3 2360.1 950.5 2367.2 958.7 2378.8 961.8 2385.6 962.6 2390.1 962.5 2395.3 961.1 2400.6 958.8 2405.1 953.4 2411.8 945.3 2418.2 935.5 2422.9 924.3 2426.3 912.3 2428.2 897.3 2429.1 882.3 2428.8 861.3 2427.0 852.3 2425.6 844.0 2423.2 837.3 2419.7 832.6 2415.6 829.2 2410.3 827.9 2405.1 828.4 2399.1 831.1 2393.1 836.1 2387.1 843.3 2381.5 869.5 2366.6 879.3 2362.0 886.8 2359.6 895.0 2358.3 903.3 2358.2 916.0 2358.9 920.5 2358.7 924.3 2357.6 928.0 2355.1 930.5 2352.6 933.0 2348.8 934.3 2345.8 934.7 2342.8 933.9 2339.1 929.5 2328.5 927.8 2322.6 927.2 2316.6 927.7 2311.3 929.2 2306.8 932.0 2302.4 935.5 2299.1 940.0 2297.1M939.5 2306.1 942.3 2305.5 945.3 2306.4 947.2 2308.3 948.4 2311.3 948.4 2315.1 947.5 2318.2 945.4 2321.8 942.9 2324.1 940.0 2325.1 937.8 2324.5 935.5 2322.0 934.3 2318.1 934.2 2314.3 935.2 2310.6 937.0 2307.9 939.5 2306.1M932.8 2364.6 935.5 2364.5 937.8 2365.1 940.0 2366.6 942.3 2369.0 949.3 2379.6 951.3 2384.1 952.5 2388.6 952.5 2395.4 950.4 2401.3 946.8 2406.6 941.0 2411.8 934.0 2415.9 926.5 2418.9 918.3 2421.1 908.5 2422.7 898.8 2423.5 889.0 2423.6 862.0 2423.0 853.0 2422.0 845.5 2419.8 839.5 2416.5 835.5 2412.6 832.8 2407.3 832.3 2402.1 833.7 2396.8 837.1 2391.6 842.5 2386.7 847.0 2383.8 853.8 2380.6 877.8 2370.4 887.5 2367.3 894.3 2366.0 901.1 2365.5 922.8 2366.5 932.8 2364.6M896.5 2372.1 903.3 2371.8 910.8 2372.1 930.3 2374.5 935.1 2375.8 939.3 2379.2 942.5 2384.8 943.8 2390.8 943.1 2396.1 940.6 2401.3 936.3 2406.1 930.3 2410.3 922.8 2413.7 914.5 2416.2 905.5 2417.8 895.8 2418.6 882.3 2418.8 859.0 2419.8 852.3 2419.0 847.0 2417.4 841.3 2414.1 837.4 2409.6 835.7 2404.3 836.3 2399.1 838.1 2395.3 841.1 2391.6 845.5 2388.1 850.8 2385.3 856.8 2383.0 884.5 2374.5 896.5 2372.1M896.1 2378.1 904.0 2377.8 912.3 2378.6 920.5 2380.6 927.3 2383.4 931.1 2386.3 933.1 2390.1 933.3 2393.8 931.7 2398.3 928.7 2402.1 924.3 2405.6 919.0 2408.4 913.0 2410.6 901.8 2413.0 883.0 2414.2 874.0 2415.6 865.0 2417.0 858.3 2417.3 852.3 2416.5 846.3 2414.3 842.0 2411.1 839.2 2406.6 838.7 2402.1 840.3 2396.8 842.5 2393.8 845.9 2390.9 850.0 2388.3 854.5 2386.5 859.8 2385.1 875.4 2382.6 889.0 2379.3 896.1 2378.1M894.4 2384.8 900.3 2384.5 906.3 2385.0 911.5 2386.3 915.3 2388.1 918.3 2390.8 919.5 2393.8 919.0 2396.8 917.0 2399.8 912.3 2403.3 905.7 2405.8 899.5 2407.1 883.8 2409.1 865.0 2414.6 859.0 2415.1 853.8 2414.6 848.5 2412.9 844.8 2410.3 842.1 2406.6 841.3 2402.8 842.4 2398.3 845.0 2394.6 847.6 2392.3 850.8 2390.4 858.3 2387.9 865.0 2387.1 880.8 2387.0 894.4 2384.8M859.2 2390.1 865.8 2389.9 873.3 2391.2 881.4 2394.6 883.5 2396.1 884.5 2397.6 884.4 2399.1 883.5 2400.6 879.8 2404.3 874.0 2408.5 868.0 2411.3 860.5 2412.9 853.8 2412.4 850.8 2411.5 847.8 2409.8 846.1 2408.1 844.7 2405.8 844.1 2403.6 844.3 2400.6 845.2 2398.3 846.8 2396.1 849.3 2393.9 852.3 2392.1 859.2 2390.1M860.0 2392.3 865.0 2392.5 870.3 2394.2 873.6 2396.8 874.7 2399.8 873.6 2403.6 870.7 2406.6 866.5 2409.1 861.3 2410.5 856.0 2410.6 851.5 2409.3 848.2 2406.6 846.8 2402.8 847.7 2399.1 850.2 2396.1 854.5 2393.6 860.0 2392.3M856.4 2395.3 860.5 2394.7 864.3 2395.2 867.7 2396.8 869.4 2399.1 869.7 2401.3 868.3 2404.3 865.8 2406.4 862.8 2407.8 859.0 2408.5 855.3 2408.1 852.1 2406.6 850.2 2404.3 849.8 2402.1 850.8 2399.1 853.2 2396.8 856.4 2395.3M856.5 2398.3 860.5 2397.7 862.8 2398.3 864.3 2399.5 864.9 2401.3 864.4 2402.8 861.5 2405.1 859.0 2405.6 856.8 2405.4 855.3 2404.8 854.0 2403.6 853.5 2402.1 853.9 2400.6 856.5 2398.3" fill="none" stroke="#666" stroke-width="1" stroke-linejoin="round"/>
</g>
<rect x="745.8" y="2189.1" width="310.4" height="308.7" fill="none" stroke="#222" stroke-width="1.5"/>
<path d="M901.8 2189.1V2497.8M745.8 2355.7H1056.2" fill="none" stroke="#000" stroke-width="2.2"/>
<text x="1046.5" y="2221.5" font-size="24.2" text-anchor="end">14.7%</text>
<text x="761.7" y="2484.3" font-size="24.2">61.6%</text>
<text x="1038" y="2484.3" font-size="24.2" text-anchor="end">19.6%</text>
<text x="910" y="2168.7" font-size="33" text-anchor="middle">Trm</text>
<path d="M965.83 2497.8v4M979.48 2497.8v4M989.16 2497.8v4M996.67 2497.8v4M1002.81 2497.8v4M1008 2497.8v4M1012.49 2497.8v4M1016.45 2497.8v4M1043.33 2497.8v4M894.8 2497.8v4M795.2 2497.8v4M906.81 2497.8v4M783.19 2497.8v4M915.34 2497.8v4M774.66 2497.8v4M921.95 2497.8v4M768.05 2497.8v4M927.36 2497.8v4M762.64 2497.8v4M931.93 2497.8v4M758.07 2497.8v4M935.89 2497.8v4M754.11 2497.8v4M939.38 2497.8v4M750.62 2497.8v4M828 2497.8v4M829.8 2497.8v4M831.6 2497.8v4M833.4 2497.8v4M835.2 2497.8v4M837 2497.8v4M838.8 2497.8v4M840.6 2497.8v4M842.4 2497.8v4M844.2 2497.8v4M846 2497.8v4M847.8 2497.8v4M849.6 2497.8v4M851.4 2497.8v4M853.2 2497.8v4M855 2497.8v4M856.8 2497.8v4M858.6 2497.8v4M860.4 2497.8v4" fill="none" stroke="#111" stroke-width="1.3"/>
<path d="M845 2497.8v7.5M942.5 2497.8v7.5M1020 2497.8v7.5" fill="none" stroke="#111" stroke-width="2"/>
<path d="M745.8 2299.27h-4M745.8 2286.55h-4M745.8 2277.53h-4M745.8 2270.53h-4M745.8 2264.82h-4M745.8 2259.98h-4M745.8 2255.8h-4M745.8 2252.1h-4M745.8 2230.83h-4M745.8 2220.32h-4M745.8 2212.86h-4M745.8 2207.07h-4M745.8 2202.34h-4M745.8 2198.35h-4M745.8 2194.89h-4M745.8 2191.83h-4M745.8 2362.83h-4M745.8 2450.17h-4M745.8 2352.29h-4M745.8 2460.71h-4M745.8 2344.82h-4M745.8 2468.18h-4M745.8 2339.02h-4M745.8 2473.98h-4M745.8 2334.28h-4M745.8 2478.72h-4M745.8 2330.27h-4M745.8 2482.73h-4M745.8 2326.8h-4M745.8 2486.2h-4M745.8 2323.74h-4M745.8 2489.26h-4M745.8 2391.5h-4M745.8 2393.3h-4M745.8 2395.1h-4M745.8 2396.9h-4M745.8 2398.7h-4M745.8 2400.5h-4M745.8 2402.3h-4M745.8 2404.1h-4M745.8 2405.9h-4M745.8 2407.7h-4M745.8 2409.5h-4M745.8 2411.3h-4M745.8 2413.1h-4M745.8 2414.9h-4M745.8 2416.7h-4M745.8 2418.5h-4M745.8 2420.3h-4" fill="none" stroke="#111" stroke-width="1.3"/>
<path d="M745.8 2406.5h-7.5M745.8 2321h-7.5M745.8 2248.8h-7.5M745.8 2189.1h-7.5M745.8 2493.2h-7.5" fill="none" stroke="#111" stroke-width="2"/>
<text x="185.1" y="2523.2" font-size="16.5" text-anchor="middle" stroke="#000" stroke-width="0.5">0</text>
<text x="270.91" y="2523.2" font-size="16.5" stroke="#000" stroke-width="0.5">10<tspan dy="-5.61" font-size="11.22">3</tspan></text>
<text x="349.51" y="2523.2" font-size="16.5" stroke="#000" stroke-width="0.5">10<tspan dy="-5.61" font-size="11.22">4</tspan></text>
<text x="50.91" y="2194.8" font-size="16.5" stroke="#000" stroke-width="0.5">10<tspan dy="-5.61" font-size="11.22">5</tspan></text>
<text x="50.91" y="2254.3" font-size="16.5" stroke="#000" stroke-width="0.5">10<tspan dy="-5.61" font-size="11.22">4</tspan></text>
<text x="50.91" y="2326.3" font-size="16.5" stroke="#000" stroke-width="0.5">10<tspan dy="-5.61" font-size="11.22">3</tspan></text>
<text x="71" y="2413.8" font-size="16.5" text-anchor="end" stroke="#000" stroke-width="0.5">0</text>
<text x="43.5" y="2345.3" font-size="30.2" text-anchor="middle" transform="rotate(-90 43.5 2345.3)">DAPI</text>
<text x="559.6" y="2543.2" font-size="30.2" text-anchor="middle">Annexin V-Ax647</text>
<line x1="81.3" y1="2535.6" x2="406.6" y2="2533.6" stroke="#000" stroke-width="3.6"/>
<line x1="720.9" y1="2534.9" x2="1062.8" y2="2534.9" stroke="#000" stroke-width="3.6"/>
</g>
<g id="bars">
<rect x="1219.77" y="2458.24" width="53.08" height="31.21" fill="#000000" stroke="#000" stroke-width="2"/>
<rect x="1301.4" y="2383.28" width="52.55" height="106.16" fill="#0000FF" stroke="#000" stroke-width="2"/>
<rect x="1382.76" y="2290.19" width="52.02" height="199.26" fill="#F94144" stroke="#000" stroke-width="2"/>
<path d="M1246.45 2465.98V2450.24M1234.45 2450.24H1258.45M1234.45 2465.98H1258.45" fill="none" stroke="#000" stroke-width="1.8"/>
<path d="M1327.54 2385.42V2380.08M1315.54 2380.08H1339.54M1315.54 2385.42H1339.54" fill="none" stroke="#000" stroke-width="1.8"/>
<path d="M1408.63 2297.39V2281.92M1396.63 2281.92H1420.63M1396.63 2297.39H1420.63" fill="none" stroke="#000" stroke-width="1.8"/>
<circle cx="1236.05" cy="2446.77" r="4.6" fill="#fff" stroke="#000" stroke-width="2"/>
<circle cx="1256.59" cy="2456.64" r="4.6" fill="#fff" stroke="#000" stroke-width="2"/>
<circle cx="1246.45" cy="2469.44" r="4.6" fill="#fff" stroke="#000" stroke-width="2"/>
<circle cx="1305.93" cy="2386.75" r="4.6" fill="#fff" stroke="#000" stroke-width="2"/>
<circle cx="1327.54" cy="2379.55" r="4.6" fill="#fff" stroke="#000" stroke-width="2"/>
<circle cx="1349.41" cy="2380.88" r="4.6" fill="#fff" stroke="#000" stroke-width="2"/>
<circle cx="1408.63" cy="2276.05" r="4.6" fill="#fff" stroke="#000" stroke-width="2"/>
<circle cx="1419.3" cy="2291.26" r="4.6" fill="#fff" stroke="#000" stroke-width="2"/>
<circle cx="1397.96" cy="2300.59" r="4.6" fill="#fff" stroke="#000" stroke-width="2"/>
<path d="M1191.97 2217.7V2489.45M1185.36 2489.45H1464.11" fill="none" stroke="#000" stroke-width="2"/>
<text x="1179.56" y="2234.5" font-size="35" text-anchor="end" textLength="36.97" lengthAdjust="spacingAndGlyphs">20</text>
<text x="1179.56" y="2369.74" font-size="35" text-anchor="end" textLength="36.97" lengthAdjust="spacingAndGlyphs">10</text>
<text x="1172.06" y="2505.25" font-size="35" text-anchor="end" textLength="18.49" lengthAdjust="spacingAndGlyphs">0</text>
<path d="M1192.57 2218.7h-7M1192.57 2353.94h-7M1192.57 2489.45h-7M1246.32 2489.45v7.5M1327.67 2489.45v7.5M1408.76 2489.45v7.5" fill="none" stroke="#000" stroke-width="2"/>
<text x="1133.35" y="2353.94" font-size="32.5" text-anchor="middle" transform="rotate(-90 1133.35 2353.94)">DAPI<tspan dy="-10" font-size="21">+</tspan><tspan dy="10"> (%)</tspan></text>
<text x="1326.74" y="2188.03" font-size="26.2" font-weight="normal" text-anchor="middle" stroke="#000" stroke-width="0.85">p&lt;0.0001</text>
<line x1="1234.18" y1="2206.7" x2="1409.43" y2="2206.7" stroke="#000" stroke-width="1.8"/>
<text x="1381.96" y="2243.51" font-size="26.2" font-weight="normal" text-anchor="middle" stroke="#000" stroke-width="0.85">p&lt;0.0001</text>
<line x1="1338.21" y1="2258.98" x2="1411.56" y2="2258.98" stroke="#000" stroke-width="1.8"/>
<rect x="1605.77" y="2404.98" width="52.86" height="82.78" fill="#000000" stroke="#000" stroke-width="2"/>
<rect x="1687.39" y="2354.73" width="52.57" height="133.03" fill="#0000FF" stroke="#000" stroke-width="2"/>
<rect x="1768.71" y="2286.76" width="51.7" height="201" fill="#F94144" stroke="#000" stroke-width="2"/>
<path d="M1632.49 2408.46V2400.62M1621.49 2400.62H1643.49M1621.49 2408.46H1643.49" fill="none" stroke="#000" stroke-width="1.8"/>
<path d="M1713.53 2360.83V2347.76M1702.53 2347.76H1724.53M1702.53 2360.83H1724.53" fill="none" stroke="#000" stroke-width="1.8"/>
<path d="M1794.56 2290.54V2280.95M1783.56 2280.95H1805.56M1783.56 2290.54H1805.56" fill="none" stroke="#000" stroke-width="1.8"/>
<circle cx="1632.49" cy="2397.72" r="4.6" fill="#fff" stroke="#000" stroke-width="2"/>
<circle cx="1621.45" cy="2407.88" r="4.6" fill="#fff" stroke="#000" stroke-width="2"/>
<circle cx="1643.24" cy="2407.88" r="4.6" fill="#fff" stroke="#000" stroke-width="2"/>
<circle cx="1713.53" cy="2343.4" r="4.6" fill="#fff" stroke="#000" stroke-width="2"/>
<circle cx="1724.27" cy="2355.6" r="4.6" fill="#fff" stroke="#000" stroke-width="2"/>
<circle cx="1702.78" cy="2362.28" r="4.6" fill="#fff" stroke="#000" stroke-width="2"/>
<circle cx="1783.82" cy="2280.95" r="4.6" fill="#fff" stroke="#000" stroke-width="2"/>
<circle cx="1805.31" cy="2282.99" r="4.6" fill="#fff" stroke="#000" stroke-width="2"/>
<circle cx="1794.56" cy="2294.02" r="4.6" fill="#fff" stroke="#000" stroke-width="2"/>
<path d="M1577.57 2216.63V2487.76M1572.37 2487.76H1849.46" fill="none" stroke="#000" stroke-width="2"/>
<text x="1570.72" y="2233.43" font-size="35" text-anchor="end" textLength="36.97" lengthAdjust="spacingAndGlyphs">45</text>
<text x="1570.72" y="2324.06" font-size="35" text-anchor="end" textLength="36.97" lengthAdjust="spacingAndGlyphs">30</text>
<text x="1570.72" y="2414.39" font-size="35" text-anchor="end" textLength="36.97" lengthAdjust="spacingAndGlyphs">15</text>
<text x="1563.22" y="2503.56" font-size="35" text-anchor="end" textLength="18.49" lengthAdjust="spacingAndGlyphs">0</text>
<path d="M1578.17 2217.63h-7M1578.17 2308.26h-7M1578.17 2398.59h-7M1578.17 2487.76h-7M1632.2 2487.76v7.5M1713.67 2487.76v7.5M1794.56 2487.76v7.5" fill="none" stroke="#000" stroke-width="2"/>
<text x="1512.53" y="2350.95" font-size="32.5" text-anchor="middle" transform="rotate(-90 1512.53 2350.95)">Annexin V<tspan dy="-10" font-size="21">+</tspan><tspan dy="10"> (%)</tspan></text>
<text x="1707.14" y="2188.59" font-size="26.2" font-weight="normal" text-anchor="middle" stroke="#000" stroke-width="0.85">p&lt;0.0001</text>
<line x1="1621.74" y1="2206.02" x2="1797.18" y2="2206.02" stroke="#000" stroke-width="1.8"/>
<text x="1760.29" y="2243.2" font-size="26.2" font-weight="normal" text-anchor="middle" stroke="#000" stroke-width="0.85">p&lt;0.0001</text>
<line x1="1725.44" y1="2257.72" x2="1798.92" y2="2257.72" stroke="#000" stroke-width="1.8"/>
<rect x="1232" y="2514.8" width="32.3" height="31.2" fill="#000" rx="2"/>
<text x="1287.5" y="2540" font-size="33">Blank</text>
<rect x="1413.6" y="2514.8" width="32.3" height="31.2" fill="#0000FF" rx="2"/>
<text x="1469.4" y="2540" font-size="33">Non-Trm</text>
<rect x="1661.5" y="2514.8" width="32.3" height="31.2" fill="#FF0000" rx="2"/>
<text x="1716.7" y="2540" font-size="33">Trm</text>
</g>
</svg>
</body></html>
